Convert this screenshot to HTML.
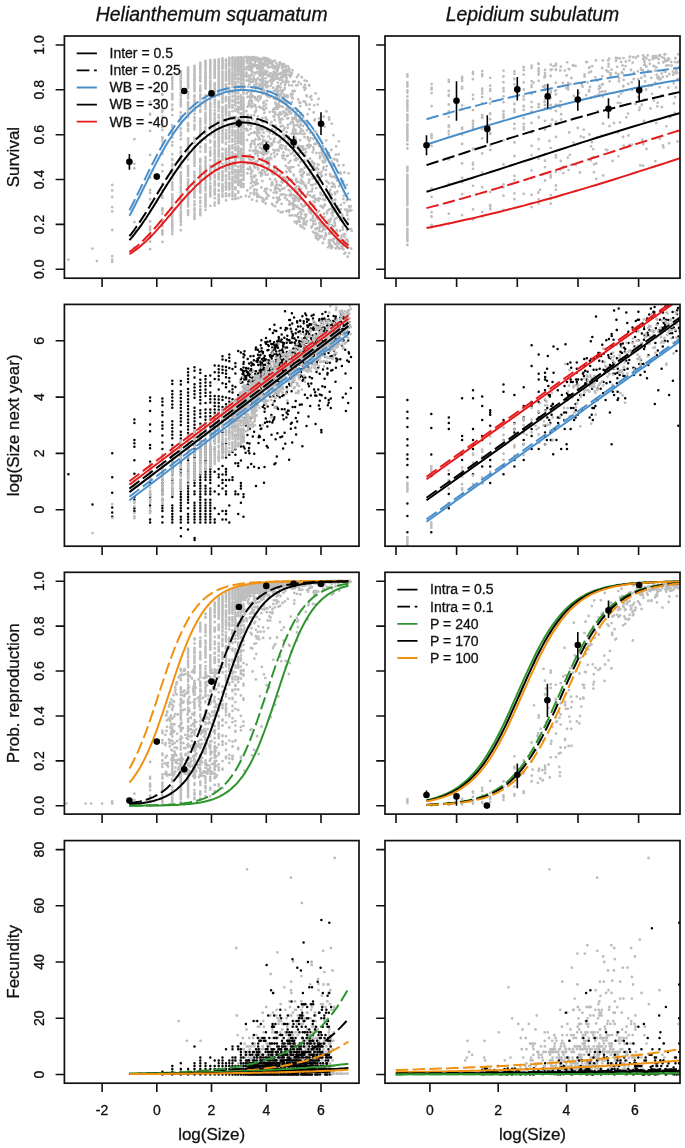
<!DOCTYPE html><html><head><meta charset="utf-8"><style>html,body{margin:0;padding:0;background:#fff;overflow:hidden}svg{display:block;will-change:transform}text{font-family:"Liberation Sans",sans-serif;fill:#111;stroke:#111;stroke-width:0.3px}</style></head><body>
<svg width="685" height="1148" viewBox="0 0 685 1148">
<rect width="685" height="1148" fill="#fff"/>
<defs>
<clipPath id="c11"><rect x="64.4" y="36.0" width="294.6" height="242.2"/></clipPath>
<clipPath id="c12"><rect x="385.0" y="36.0" width="295.0" height="242.2"/></clipPath>
<clipPath id="c21"><rect x="64.4" y="304.4" width="294.6" height="241.8"/></clipPath>
<clipPath id="c22"><rect x="385.0" y="304.4" width="295.0" height="241.8"/></clipPath>
<clipPath id="c31"><rect x="64.4" y="572.3" width="294.6" height="241.8"/></clipPath>
<clipPath id="c32"><rect x="385.0" y="572.3" width="295.0" height="241.8"/></clipPath>
<clipPath id="c41"><rect x="64.4" y="840.6" width="294.6" height="242.6"/></clipPath>
<clipPath id="c42"><rect x="385.0" y="840.6" width="295.0" height="242.6"/></clipPath>
</defs>
<g clip-path="url(#c11)">
<path d="M150.1 101.7h0M150.1 230.1h0M150.1 177.5h0M150.1 190.1h0M150.1 211.1h0M150.1 235.5h0M150.1 226.6h0M150.1 130.9h0M150.1 249.2h0M150.1 237.8h0M150.1 192.9h0M150.1 221.5h0M150.1 241.7h0M150.1 114.7h0M150.1 199.2h0M150.1 236.0h0M150.1 154.9h0M150.1 230.4h0M150.1 113.8h0M150.1 228.7h0M162.4 209.0h0M162.4 190.7h0M162.4 232.3h0M162.4 99.9h0M162.4 138.7h0M162.4 220.8h0M162.4 164.9h0M162.4 230.4h0M162.4 241.9h0M162.4 210.9h0M162.4 234.6h0M162.4 226.3h0M162.4 154.0h0M162.4 138.6h0M162.4 196.2h0M162.4 137.4h0M162.4 191.6h0M162.4 219.3h0M162.4 197.8h0M162.4 184.0h0M162.4 94.2h0M162.4 219.6h0M162.4 233.4h0M162.4 152.8h0M162.4 87.9h0M162.4 94.9h0M162.4 127.1h0M162.4 231.7h0M162.4 109.4h0M162.4 130.1h0M162.4 222.8h0M162.4 171.2h0M162.4 233.5h0M162.4 110.1h0M162.4 123.9h0M162.4 109.7h0M162.4 116.8h0M162.4 213.8h0M162.4 112.0h0M162.4 208.3h0M162.4 223.6h0M162.4 184.8h0M162.4 164.9h0M162.4 231.0h0M162.4 144.4h0M162.4 145.1h0M162.4 209.7h0M162.4 141.3h0M162.4 232.4h0M162.4 121.1h0M172.3 224.6h0M172.3 97.7h0M172.3 194.7h0M172.3 209.2h0M172.3 154.2h0M172.3 109.5h0M172.3 160.0h0M172.3 173.6h0M172.3 200.0h0M172.3 208.1h0M172.3 215.3h0M172.3 130.7h0M172.3 142.1h0M172.3 89.0h0M172.3 163.9h0M172.3 99.4h0M172.3 227.4h0M172.3 226.3h0M172.3 129.6h0M172.3 223.4h0M172.3 221.4h0M172.3 213.2h0M172.3 171.6h0M172.3 178.6h0M172.3 234.1h0M172.3 86.5h0M172.3 173.3h0M172.3 204.8h0M172.3 133.3h0M172.3 229.2h0M172.3 169.8h0M172.3 182.2h0M172.3 169.3h0M172.3 223.5h0M172.3 137.7h0M172.3 125.1h0M172.3 104.7h0M172.3 79.0h0M172.3 225.9h0M172.3 212.3h0M172.3 158.9h0M172.3 218.2h0M172.3 225.8h0M172.3 105.3h0M172.3 80.5h0M172.3 94.6h0M172.3 83.2h0M172.3 213.2h0M172.3 227.7h0M172.3 202.5h0M172.3 164.6h0M172.3 226.2h0M172.3 159.6h0M172.3 145.4h0M172.3 195.1h0M172.3 231.7h0M172.3 197.2h0M172.3 223.7h0M172.3 194.3h0M172.3 108.9h0M172.3 115.1h0M172.3 165.9h0M172.3 186.3h0M172.3 93.8h0M172.3 189.8h0M172.3 225.9h0M172.3 194.5h0M172.3 199.2h0M172.3 96.1h0M172.3 214.0h0M172.3 77.5h0M172.3 199.6h0M172.3 184.3h0M172.3 132.0h0M172.3 183.9h0M172.3 170.8h0M172.3 216.5h0M172.3 168.9h0M172.3 226.6h0M172.3 198.4h0M172.3 84.0h0M172.3 188.7h0M172.3 213.1h0M172.3 220.6h0M172.3 207.5h0M172.3 186.1h0M172.3 171.3h0M172.3 110.0h0M172.3 98.6h0M172.3 126.9h0M180.8 196.4h0M180.8 139.2h0M180.8 81.2h0M180.8 100.1h0M180.8 190.9h0M180.8 217.0h0M180.8 212.5h0M180.8 147.7h0M180.8 161.5h0M180.8 105.0h0M180.8 219.2h0M180.8 181.8h0M180.8 104.5h0M180.8 211.9h0M180.8 132.7h0M180.8 192.6h0M180.8 205.7h0M180.8 192.3h0M180.8 124.0h0M180.8 124.0h0M180.8 71.3h0M180.8 71.5h0M180.8 120.2h0M180.8 94.3h0M180.8 207.6h0M180.8 187.8h0M180.8 117.7h0M180.8 172.4h0M180.8 221.5h0M180.8 198.9h0M180.8 205.7h0M180.8 83.0h0M180.8 100.0h0M180.8 95.2h0M180.8 175.7h0M180.8 151.2h0M180.8 195.6h0M180.8 117.7h0M180.8 84.6h0M180.8 222.3h0M180.8 75.2h0M180.8 201.0h0M180.8 102.2h0M180.8 203.6h0M180.8 129.1h0M180.8 204.7h0M180.8 128.4h0M180.8 221.6h0M180.8 164.6h0M180.8 164.1h0M180.8 100.8h0M180.8 139.2h0M180.8 153.1h0M180.8 204.1h0M180.8 176.7h0M180.8 83.7h0M180.8 71.9h0M180.8 217.8h0M180.8 81.2h0M180.8 80.9h0M180.8 188.3h0M180.8 178.3h0M180.8 103.0h0M180.8 172.3h0M180.8 73.3h0M180.8 161.2h0M180.8 204.2h0M180.8 101.4h0M180.8 189.1h0M180.8 81.7h0M180.8 204.7h0M180.8 206.2h0M180.8 215.0h0M180.8 200.0h0M180.8 112.7h0M180.8 178.8h0M180.8 84.3h0M180.8 186.1h0M180.8 83.7h0M180.8 217.4h0M180.8 180.3h0M180.8 203.9h0M180.8 214.5h0M180.8 163.9h0M180.8 206.5h0M180.8 230.2h0M180.8 121.6h0M180.8 117.2h0M180.8 156.4h0M180.8 88.2h0M180.8 135.4h0M180.8 96.0h0M180.8 77.0h0M180.8 116.1h0M180.8 147.8h0M180.8 180.2h0M180.8 77.2h0M180.8 213.1h0M180.8 89.2h0M180.8 202.1h0M180.8 147.5h0M180.8 79.9h0M180.8 183.4h0M180.8 87.5h0M180.8 128.7h0M180.8 188.2h0M180.8 159.2h0M180.8 211.3h0M180.8 106.4h0M180.8 98.6h0M180.8 217.9h0M180.8 173.2h0M180.8 93.0h0M180.8 191.4h0M180.8 129.0h0M180.8 88.4h0M180.8 123.2h0M180.8 204.3h0M180.8 77.4h0M180.8 95.9h0M180.8 224.8h0M180.8 167.3h0M180.8 121.1h0M180.8 156.1h0M180.8 204.9h0M180.8 204.3h0M180.8 215.7h0M180.8 196.5h0M180.8 183.4h0M180.8 112.3h0M180.8 121.5h0M180.8 119.7h0M180.8 86.5h0M180.8 208.5h0M180.8 156.6h0M188.1 146.6h0M188.1 125.8h0M188.1 186.2h0M188.1 78.2h0M188.1 116.3h0M188.1 148.4h0M188.1 175.1h0M188.1 187.6h0M188.1 184.6h0M188.1 73.1h0M188.1 170.5h0M188.1 191.3h0M188.1 147.9h0M188.1 155.9h0M188.1 153.7h0M188.1 78.2h0M188.1 165.9h0M188.1 194.5h0M188.1 179.9h0M188.1 69.8h0M188.1 139.7h0M188.1 152.5h0M188.1 86.0h0M188.1 70.9h0M188.1 125.0h0M188.1 81.9h0M188.1 170.8h0M188.1 154.5h0M188.1 113.8h0M188.1 195.3h0M188.1 168.8h0M188.1 184.9h0M188.1 171.2h0M188.1 79.4h0M188.1 84.0h0M188.1 197.6h0M188.1 154.8h0M188.1 92.6h0M188.1 77.4h0M188.1 116.5h0M188.1 92.1h0M188.1 175.9h0M188.1 85.5h0M188.1 81.2h0M188.1 143.8h0M188.1 182.1h0M188.1 210.3h0M188.1 105.5h0M188.1 105.0h0M188.1 214.9h0M188.1 123.2h0M188.1 70.7h0M188.1 210.9h0M188.1 193.7h0M188.1 211.2h0M188.1 138.3h0M188.1 148.0h0M188.1 76.4h0M188.1 205.3h0M188.1 182.6h0M188.1 70.7h0M188.1 212.4h0M188.1 171.8h0M188.1 146.2h0M188.1 215.0h0M188.1 191.6h0M188.1 109.6h0M188.1 107.7h0M188.1 108.7h0M188.1 183.4h0M188.1 107.8h0M188.1 187.0h0M188.1 203.1h0M188.1 112.6h0M188.1 179.5h0M188.1 141.4h0M188.1 175.8h0M188.1 76.6h0M188.1 168.1h0M188.1 189.3h0M188.1 83.8h0M188.1 87.8h0M188.1 78.1h0M188.1 98.6h0M188.1 141.9h0M188.1 131.1h0M188.1 117.3h0M188.1 110.7h0M188.1 70.2h0M188.1 170.6h0M188.1 87.0h0M188.1 212.7h0M188.1 184.5h0M188.1 70.2h0M188.1 173.3h0M188.1 124.8h0M188.1 72.4h0M188.1 188.7h0M188.1 128.8h0M188.1 95.3h0M188.1 67.7h0M188.1 70.5h0M188.1 186.1h0M188.1 193.3h0M188.1 166.4h0M188.1 192.4h0M188.1 87.5h0M188.1 79.9h0M188.1 193.1h0M188.1 204.2h0M188.1 159.6h0M188.1 97.3h0M188.1 201.5h0M188.1 197.5h0M188.1 104.1h0M188.1 72.3h0M188.1 75.5h0M188.1 197.0h0M188.1 93.8h0M188.1 86.1h0M188.1 73.2h0M188.1 141.7h0M188.1 190.5h0M188.1 202.1h0M188.1 150.7h0M188.1 146.3h0M188.1 83.2h0M188.1 199.8h0M188.1 98.2h0M188.1 102.1h0M188.1 193.0h0M188.1 206.5h0M188.1 146.0h0M188.1 78.4h0M188.1 102.7h0M194.5 155.2h0M194.5 69.1h0M194.5 101.7h0M194.5 204.9h0M194.5 163.2h0M194.5 197.6h0M194.5 113.8h0M194.5 70.0h0M194.5 201.3h0M194.5 205.2h0M194.5 205.0h0M194.5 161.9h0M194.5 189.4h0M194.5 65.8h0M194.5 194.9h0M194.5 67.8h0M194.5 107.2h0M194.5 77.4h0M194.5 89.5h0M194.5 158.2h0M194.5 96.7h0M194.5 158.8h0M194.5 126.3h0M194.5 77.3h0M194.5 214.5h0M194.5 180.2h0M194.5 74.6h0M194.5 126.4h0M194.5 180.4h0M194.5 153.3h0M194.5 218.9h0M194.5 70.9h0M194.5 124.8h0M194.5 69.1h0M194.5 125.2h0M194.5 67.8h0M194.5 69.4h0M194.5 109.1h0M194.5 80.8h0M194.5 159.2h0M194.5 190.8h0M194.5 103.5h0M194.5 177.0h0M194.5 125.7h0M194.5 101.2h0M194.5 82.8h0M194.5 70.9h0M194.5 174.9h0M194.5 177.3h0M194.5 217.3h0M194.5 100.8h0M194.5 126.7h0M194.5 75.0h0M194.5 156.7h0M194.5 208.3h0M194.5 76.6h0M194.5 95.5h0M194.5 88.6h0M194.5 189.3h0M194.5 174.5h0M194.5 100.5h0M194.5 85.0h0M194.5 95.5h0M194.5 191.2h0M194.5 96.4h0M194.5 185.1h0M194.5 128.7h0M194.5 151.1h0M194.5 86.3h0M194.5 117.1h0M194.5 88.1h0M194.5 91.2h0M194.5 211.2h0M194.5 74.2h0M194.5 201.5h0M194.5 216.2h0M194.5 142.8h0M194.5 193.3h0M194.5 171.8h0M194.5 75.4h0M194.5 79.8h0M194.5 185.4h0M194.5 175.2h0M194.5 191.8h0M194.5 65.8h0M194.5 197.3h0M194.5 195.4h0M194.5 91.1h0M194.5 215.9h0M194.5 78.4h0M194.5 175.9h0M194.5 121.0h0M194.5 79.4h0M194.5 141.1h0M194.5 137.9h0M194.5 204.5h0M194.5 79.7h0M194.5 129.4h0M194.5 183.2h0M194.5 182.0h0M194.5 74.5h0M194.5 183.3h0M194.5 148.7h0M194.5 102.9h0M194.5 140.2h0M194.5 75.8h0M194.5 80.1h0M194.5 95.5h0M194.5 77.2h0M194.5 118.4h0M194.5 108.5h0M194.5 216.7h0M194.5 89.6h0M194.5 159.0h0M194.5 110.0h0M194.5 209.2h0M194.5 138.4h0M194.5 101.8h0M194.5 99.7h0M194.5 109.7h0M194.5 165.9h0M194.5 96.4h0M194.5 95.5h0M194.5 105.6h0M194.5 142.1h0M194.5 184.4h0M194.5 110.8h0M194.5 201.5h0M194.5 213.9h0M194.5 146.7h0M194.5 160.0h0M194.5 128.7h0M194.5 192.8h0M194.5 71.9h0M194.5 192.2h0M200.3 104.0h0M200.3 142.4h0M200.3 77.0h0M200.3 190.2h0M200.3 80.4h0M200.3 69.7h0M200.3 179.8h0M200.3 188.4h0M200.3 102.4h0M200.3 76.3h0M200.3 130.2h0M200.3 72.7h0M200.3 176.9h0M200.3 110.4h0M200.3 105.8h0M200.3 77.6h0M200.3 130.1h0M200.3 158.9h0M200.3 178.7h0M200.3 185.7h0M200.3 162.4h0M200.3 214.3h0M200.3 77.7h0M200.3 127.8h0M200.3 105.2h0M200.3 89.5h0M200.3 201.8h0M200.3 165.7h0M200.3 121.1h0M200.3 103.8h0M200.3 210.5h0M200.3 171.5h0M200.3 178.6h0M200.3 167.8h0M200.3 111.9h0M200.3 170.1h0M200.3 104.1h0M200.3 162.1h0M200.3 193.0h0M200.3 161.8h0M200.3 212.7h0M200.3 197.4h0M200.3 180.4h0M200.3 103.3h0M200.3 132.4h0M200.3 68.1h0M200.3 104.0h0M200.3 184.4h0M200.3 142.3h0M200.3 136.5h0M200.3 71.9h0M200.3 97.6h0M200.3 67.4h0M200.3 179.7h0M200.3 185.6h0M200.3 89.6h0M200.3 183.7h0M200.3 192.4h0M200.3 134.0h0M200.3 88.5h0M200.3 189.4h0M200.3 81.1h0M200.3 122.5h0M200.3 215.2h0M200.3 174.3h0M200.3 99.1h0M200.3 179.2h0M200.3 206.3h0M200.3 175.8h0M200.3 64.0h0M200.3 109.9h0M200.3 168.9h0M200.3 198.0h0M200.3 178.0h0M200.3 147.5h0M200.3 181.7h0M200.3 91.3h0M200.3 85.6h0M200.3 125.0h0M200.3 95.6h0M200.3 106.5h0M200.3 151.6h0M200.3 166.3h0M200.3 132.4h0M200.3 88.1h0M200.3 182.0h0M200.3 94.8h0M200.3 201.6h0M200.3 173.0h0M200.3 90.5h0M200.3 75.8h0M200.3 79.7h0M200.3 88.9h0M200.3 159.7h0M200.3 62.8h0M200.3 99.6h0M200.3 67.7h0M200.3 65.9h0M200.3 162.6h0M200.3 63.9h0M200.3 191.5h0M200.3 94.7h0M200.3 159.2h0M200.3 189.2h0M200.3 104.1h0M200.3 167.6h0M200.3 77.8h0M200.3 121.4h0M200.3 210.4h0M200.3 203.0h0M200.3 186.3h0M200.3 161.1h0M200.3 76.1h0M200.3 135.3h0M200.3 67.3h0M200.3 201.1h0M200.3 67.1h0M200.3 79.9h0M200.3 187.8h0M200.3 62.9h0M200.3 190.0h0M200.3 81.3h0M200.3 161.5h0M200.3 88.0h0M200.3 73.3h0M200.3 188.5h0M200.3 146.3h0M200.3 68.7h0M200.3 118.7h0M200.3 178.7h0M200.3 190.5h0M200.3 184.1h0M200.3 187.2h0M200.3 140.2h0M200.3 209.3h0M205.5 106.2h0M205.5 83.9h0M205.5 151.9h0M205.5 61.3h0M205.5 137.7h0M205.5 175.9h0M205.5 150.8h0M205.5 114.7h0M205.5 86.2h0M205.5 204.4h0M205.5 126.8h0M205.5 88.6h0M205.5 78.7h0M205.5 65.6h0M205.5 103.2h0M205.5 62.9h0M205.5 149.7h0M205.5 95.2h0M205.5 78.2h0M205.5 168.5h0M205.5 176.4h0M205.5 72.7h0M205.5 101.6h0M205.5 65.2h0M205.5 84.2h0M205.5 133.9h0M205.5 73.8h0M205.5 195.7h0M205.5 86.1h0M205.5 61.5h0M205.5 84.6h0M205.5 165.5h0M205.5 73.0h0M205.5 165.3h0M205.5 194.8h0M205.5 188.2h0M205.5 116.8h0M205.5 202.5h0M205.5 119.9h0M205.5 65.2h0M205.5 147.6h0M205.5 176.2h0M205.5 126.8h0M205.5 70.7h0M205.5 62.6h0M205.5 105.1h0M205.5 131.5h0M205.5 166.8h0M205.5 123.5h0M205.5 145.9h0M205.5 205.1h0M205.5 186.9h0M205.5 209.9h0M205.5 190.4h0M205.5 183.4h0M205.5 76.0h0M205.5 197.1h0M205.5 179.4h0M205.5 169.8h0M205.5 60.9h0M205.5 206.7h0M205.5 118.2h0M205.5 120.5h0M205.5 169.7h0M205.5 62.0h0M205.5 158.4h0M205.5 66.6h0M205.5 104.5h0M205.5 82.8h0M205.5 183.9h0M205.5 87.0h0M205.5 198.2h0M205.5 68.0h0M205.5 176.3h0M205.5 174.6h0M205.5 193.9h0M205.5 201.0h0M205.5 97.6h0M205.5 64.1h0M205.5 108.7h0M205.5 205.6h0M205.5 180.9h0M205.5 106.1h0M205.5 79.6h0M205.5 73.8h0M205.5 78.4h0M205.5 116.8h0M205.5 68.4h0M205.5 104.8h0M205.5 86.1h0M205.5 200.6h0M205.5 112.6h0M205.5 186.3h0M205.5 163.0h0M205.5 146.1h0M205.5 100.1h0M205.5 188.1h0M205.5 82.8h0M205.5 128.9h0M205.5 161.9h0M205.5 63.3h0M205.5 88.7h0M205.5 139.6h0M205.5 179.7h0M205.5 112.7h0M205.5 76.9h0M205.5 109.2h0M205.5 144.5h0M205.5 174.0h0M205.5 160.8h0M205.5 75.2h0M205.5 173.0h0M205.5 61.9h0M205.5 81.0h0M205.5 127.4h0M205.5 167.4h0M205.5 116.7h0M205.5 63.5h0M205.5 180.5h0M205.5 157.0h0M205.5 188.0h0M205.5 81.6h0M205.5 63.5h0M205.5 102.4h0M205.5 146.8h0M205.5 62.8h0M205.5 98.2h0M205.5 168.9h0M205.5 198.9h0M205.5 175.6h0M205.5 172.9h0M205.5 168.6h0M205.5 122.1h0M205.5 77.7h0M205.5 116.1h0M210.3 61.3h0M210.3 189.4h0M210.3 62.4h0M210.3 205.8h0M210.3 174.5h0M210.3 70.2h0M210.3 176.9h0M210.3 127.3h0M210.3 154.3h0M210.3 127.3h0M210.3 171.9h0M210.3 128.2h0M210.3 98.0h0M210.3 113.7h0M210.3 104.8h0M210.3 65.9h0M210.3 68.7h0M210.3 178.0h0M210.3 78.5h0M210.3 73.0h0M210.3 64.9h0M210.3 125.8h0M210.3 64.0h0M210.3 99.7h0M210.3 113.0h0M210.3 106.8h0M210.3 173.6h0M210.3 83.1h0M210.3 103.3h0M210.3 66.9h0M210.3 112.9h0M210.3 188.9h0M210.3 169.9h0M210.3 122.3h0M210.3 112.5h0M210.3 71.6h0M210.3 95.1h0M210.3 167.5h0M210.3 142.2h0M210.3 102.6h0M210.3 73.3h0M210.3 81.2h0M210.3 88.8h0M210.3 151.1h0M210.3 97.8h0M210.3 153.0h0M210.3 186.6h0M210.3 76.3h0M210.3 87.6h0M210.3 60.5h0M210.3 77.4h0M210.3 151.6h0M210.3 193.1h0M210.3 119.3h0M210.3 135.3h0M210.3 105.7h0M210.3 194.5h0M210.3 189.7h0M210.3 154.1h0M210.3 192.9h0M210.3 95.3h0M210.3 166.3h0M210.3 165.6h0M210.3 155.6h0M210.3 175.3h0M210.3 75.8h0M210.3 110.0h0M210.3 188.5h0M210.3 63.0h0M210.3 67.5h0M210.3 142.4h0M210.3 196.4h0M210.3 109.3h0M210.3 167.7h0M210.3 128.0h0M210.3 124.5h0M210.3 140.5h0M210.3 64.6h0M210.3 126.3h0M210.3 178.2h0M210.3 97.2h0M210.3 66.2h0M210.3 155.7h0M210.3 106.9h0M210.3 128.4h0M210.3 84.7h0M210.3 140.4h0M210.3 151.2h0M210.3 167.8h0M210.3 183.0h0M210.3 169.4h0M210.3 86.9h0M210.3 63.4h0M210.3 188.1h0M210.3 117.6h0M210.3 90.9h0M210.3 175.1h0M210.3 60.2h0M210.3 83.5h0M210.3 76.3h0M210.3 61.6h0M210.3 96.7h0M210.3 64.6h0M210.3 129.3h0M210.3 64.1h0M210.3 106.9h0M210.3 74.8h0M210.3 148.0h0M210.3 111.8h0M210.3 99.7h0M210.3 105.7h0M210.3 64.0h0M210.3 114.9h0M210.3 67.0h0M210.3 178.3h0M210.3 182.9h0M210.3 166.3h0M210.3 179.7h0M210.3 95.7h0M210.3 160.1h0M210.3 85.0h0M210.3 67.3h0M210.3 64.1h0M210.3 188.4h0M210.3 152.8h0M210.3 117.5h0M210.3 195.4h0M210.3 191.7h0M210.3 115.2h0M210.3 119.9h0M210.3 170.1h0M210.3 186.0h0M210.3 66.5h0M210.3 94.0h0M210.3 134.1h0M214.7 191.9h0M214.7 142.0h0M214.7 190.2h0M214.7 182.0h0M214.7 181.2h0M214.7 73.9h0M214.7 184.3h0M214.7 120.7h0M214.7 159.8h0M214.7 165.4h0M214.7 194.5h0M214.7 90.2h0M214.7 67.5h0M214.7 150.5h0M214.7 66.9h0M214.7 84.5h0M214.7 166.4h0M214.7 189.8h0M214.7 191.0h0M214.7 60.9h0M214.7 189.9h0M214.7 183.7h0M214.7 84.8h0M214.7 144.3h0M214.7 62.0h0M214.7 84.3h0M214.7 65.3h0M214.7 85.8h0M214.7 77.3h0M214.7 202.7h0M214.7 117.6h0M214.7 73.0h0M214.7 162.0h0M214.7 176.8h0M214.7 63.8h0M214.7 124.7h0M214.7 97.2h0M214.7 122.7h0M214.7 76.2h0M214.7 150.1h0M214.7 161.9h0M214.7 73.7h0M214.7 136.5h0M214.7 95.8h0M214.7 164.8h0M214.7 182.1h0M214.7 118.8h0M214.7 69.5h0M214.7 62.2h0M214.7 95.1h0M214.7 70.2h0M214.7 65.3h0M214.7 153.3h0M214.7 113.3h0M214.7 64.4h0M214.7 74.7h0M214.7 68.0h0M214.7 91.5h0M214.7 125.4h0M214.7 72.5h0M214.7 131.5h0M214.7 94.1h0M214.7 174.7h0M214.7 198.2h0M214.7 113.7h0M214.7 175.0h0M214.7 177.2h0M214.7 65.4h0M214.7 59.9h0M214.7 166.0h0M214.7 127.8h0M214.7 83.2h0M214.7 169.5h0M214.7 183.6h0M214.7 64.1h0M214.7 143.1h0M214.7 61.4h0M214.7 102.6h0M214.7 93.5h0M214.7 99.8h0M214.7 104.6h0M214.7 145.7h0M214.7 88.6h0M214.7 115.1h0M214.7 67.8h0M214.7 141.8h0M214.7 160.1h0M214.7 67.0h0M214.7 100.4h0M214.7 153.1h0M214.7 152.0h0M214.7 142.3h0M214.7 190.8h0M214.7 85.2h0M214.7 141.2h0M214.7 86.7h0M214.7 107.3h0M214.7 190.2h0M214.7 189.0h0M214.7 147.1h0M214.7 124.6h0M214.7 65.7h0M214.7 157.4h0M214.7 164.4h0M214.7 86.8h0M214.7 191.5h0M214.7 75.8h0M214.7 161.8h0M214.7 84.5h0M214.7 96.0h0M214.7 129.9h0M214.7 85.2h0M214.7 205.4h0M214.7 75.8h0M214.7 189.2h0M214.7 146.3h0M214.7 167.0h0M214.7 104.0h0M214.7 89.2h0M214.7 154.9h0M214.7 61.9h0M214.7 185.8h0M214.7 192.9h0M214.7 77.9h0M214.7 175.3h0M214.7 192.7h0M214.7 141.8h0M214.7 110.4h0M214.7 181.0h0M214.7 134.1h0M214.7 149.9h0M214.7 129.4h0M214.7 71.8h0M214.7 137.7h0M214.7 177.9h0M218.7 105.1h0M218.7 103.1h0M218.7 167.7h0M218.7 59.3h0M218.7 160.0h0M218.7 106.9h0M218.7 177.8h0M218.7 141.0h0M218.7 68.3h0M218.7 163.7h0M218.7 125.8h0M218.7 183.7h0M218.7 162.0h0M218.7 83.4h0M218.7 200.7h0M218.7 190.7h0M218.7 137.5h0M218.7 145.6h0M218.7 177.4h0M218.7 62.9h0M218.7 80.3h0M218.7 88.5h0M218.7 200.8h0M218.7 82.0h0M218.7 140.3h0M218.7 156.1h0M218.7 179.5h0M218.7 164.9h0M218.7 156.6h0M218.7 202.2h0M218.7 133.4h0M218.7 122.0h0M218.7 75.5h0M218.7 154.3h0M218.7 174.6h0M218.7 166.9h0M218.7 116.8h0M218.7 202.2h0M218.7 130.2h0M218.7 71.8h0M218.7 143.4h0M218.7 95.4h0M218.7 110.6h0M218.7 190.0h0M218.7 66.2h0M218.7 66.1h0M218.7 67.9h0M218.7 203.3h0M218.7 114.8h0M218.7 82.0h0M218.7 59.3h0M218.7 104.0h0M218.7 137.9h0M218.7 200.3h0M218.7 93.8h0M218.7 86.8h0M218.7 61.6h0M218.7 93.0h0M218.7 68.8h0M218.7 108.0h0M218.7 111.0h0M218.7 63.4h0M218.7 140.4h0M218.7 137.0h0M218.7 200.1h0M218.7 173.1h0M218.7 163.0h0M218.7 101.4h0M218.7 85.5h0M218.7 59.6h0M218.7 172.8h0M218.7 185.8h0M218.7 80.4h0M218.7 64.0h0M218.7 176.7h0M218.7 137.9h0M218.7 81.1h0M218.7 85.5h0M218.7 65.6h0M218.7 83.1h0M218.7 61.1h0M218.7 138.7h0M218.7 75.0h0M218.7 91.6h0M218.7 120.8h0M218.7 77.2h0M218.7 67.2h0M218.7 92.9h0M218.7 154.6h0M218.7 194.4h0M218.7 66.2h0M218.7 122.4h0M218.7 87.5h0M218.7 90.8h0M218.7 196.7h0M218.7 62.7h0M218.7 78.9h0M218.7 91.6h0M218.7 77.9h0M218.7 184.2h0M218.7 131.8h0M218.7 134.5h0M218.7 153.0h0M218.7 167.8h0M218.7 69.7h0M218.7 73.0h0M218.7 85.4h0M218.7 159.8h0M218.7 59.6h0M218.7 75.3h0M218.7 66.1h0M218.7 77.4h0M218.7 95.6h0M218.7 140.5h0M218.7 160.1h0M218.7 69.2h0M218.7 199.2h0M218.7 149.4h0M218.7 154.7h0M218.7 105.8h0M218.7 151.3h0M218.7 73.6h0M218.7 106.8h0M218.7 146.8h0M218.7 81.6h0M218.7 169.7h0M218.7 161.7h0M218.7 176.6h0M218.7 95.1h0M218.7 179.5h0M218.7 203.2h0M218.7 78.5h0M218.7 117.8h0M218.7 200.8h0M218.7 108.1h0M222.5 117.7h0M222.5 191.2h0M222.5 148.8h0M222.5 137.8h0M222.5 189.7h0M222.5 138.8h0M222.5 74.4h0M222.5 127.6h0M222.5 71.9h0M222.5 184.1h0M222.5 78.0h0M222.5 67.9h0M222.5 159.9h0M222.5 121.6h0M222.5 142.4h0M222.5 112.2h0M222.5 62.1h0M222.5 78.6h0M222.5 172.6h0M222.5 186.6h0M222.5 80.3h0M222.5 68.7h0M222.5 66.9h0M222.5 62.1h0M222.5 71.6h0M222.5 141.3h0M222.5 74.0h0M222.5 81.4h0M222.5 115.2h0M222.5 65.0h0M222.5 189.4h0M222.5 101.7h0M222.5 64.1h0M222.5 97.9h0M222.5 121.1h0M222.5 187.8h0M222.5 156.4h0M222.5 142.2h0M222.5 58.6h0M222.5 95.6h0M222.5 134.3h0M222.5 63.9h0M222.5 87.8h0M222.5 136.7h0M222.5 82.9h0M222.5 187.0h0M222.5 99.3h0M222.5 98.7h0M222.5 179.2h0M222.5 149.4h0M222.5 187.4h0M222.5 155.6h0M222.5 148.9h0M222.5 117.8h0M222.5 76.3h0M222.5 96.9h0M222.5 107.8h0M222.5 90.0h0M222.5 187.9h0M222.5 190.9h0M222.5 61.1h0M222.5 79.2h0M222.5 157.6h0M222.5 78.9h0M222.5 61.8h0M222.5 67.1h0M222.5 84.3h0M222.5 98.8h0M222.5 86.4h0M222.5 157.8h0M222.5 110.6h0M222.5 64.6h0M222.5 124.4h0M222.5 194.6h0M222.5 185.3h0M222.5 68.8h0M222.5 64.2h0M222.5 58.3h0M222.5 59.9h0M222.5 171.9h0M222.5 109.0h0M222.5 95.1h0M222.5 175.9h0M222.5 171.3h0M222.5 124.2h0M222.5 122.1h0M222.5 88.2h0M222.5 123.3h0M222.5 173.7h0M222.5 157.1h0M222.5 82.0h0M222.5 134.0h0M222.5 153.6h0M222.5 62.6h0M222.5 120.7h0M222.5 138.3h0M222.5 177.3h0M222.5 99.6h0M222.5 128.2h0M222.5 90.9h0M222.5 133.7h0M222.5 107.0h0M222.5 168.1h0M222.5 180.4h0M222.5 61.4h0M222.5 75.1h0M222.5 196.6h0M222.5 154.6h0M222.5 82.0h0M222.5 172.3h0M222.5 86.7h0M222.5 59.2h0M222.5 126.2h0M222.5 61.6h0M222.5 112.6h0M222.5 59.4h0M222.5 59.5h0M222.5 115.5h0M222.5 102.6h0M222.5 63.5h0M222.5 164.0h0M222.5 174.3h0M222.5 101.7h0M222.5 173.8h0M222.5 66.5h0M222.5 141.2h0M222.5 130.4h0M222.5 132.1h0M222.5 191.8h0M222.5 131.4h0M222.5 111.4h0M222.5 64.7h0M222.5 111.5h0M222.5 62.2h0M222.5 62.3h0M226.0 183.9h0M226.0 151.6h0M226.0 63.6h0M226.0 136.9h0M226.0 162.0h0M226.0 162.4h0M226.0 75.2h0M226.0 111.8h0M226.0 118.8h0M226.0 77.1h0M226.0 84.6h0M226.0 106.9h0M226.0 85.9h0M226.0 132.8h0M226.0 167.2h0M226.0 79.9h0M226.0 186.3h0M226.0 115.4h0M226.0 119.8h0M226.0 130.1h0M226.0 101.1h0M226.0 78.6h0M226.0 74.0h0M226.0 71.4h0M226.0 85.8h0M226.0 187.4h0M226.0 144.1h0M226.0 80.7h0M226.0 168.7h0M226.0 90.6h0M226.0 166.1h0M226.0 66.5h0M226.0 159.3h0M226.0 111.1h0M226.0 168.1h0M226.0 157.5h0M226.0 105.5h0M226.0 98.3h0M226.0 182.1h0M226.0 151.6h0M226.0 63.8h0M226.0 170.6h0M226.0 189.5h0M226.0 59.7h0M226.0 99.3h0M226.0 142.7h0M226.0 108.3h0M226.0 67.6h0M226.0 64.5h0M226.0 169.6h0M226.0 99.1h0M226.0 120.9h0M226.0 175.1h0M226.0 110.4h0M226.0 135.2h0M226.0 74.1h0M226.0 186.6h0M226.0 108.3h0M226.0 126.3h0M226.0 113.4h0M226.0 111.4h0M226.0 152.8h0M226.0 78.9h0M226.0 119.4h0M226.0 144.0h0M226.0 110.8h0M226.0 61.0h0M226.0 88.6h0M226.0 60.0h0M226.0 152.0h0M226.0 98.3h0M226.0 75.6h0M226.0 67.4h0M226.0 171.3h0M226.0 149.5h0M226.0 64.4h0M226.0 86.6h0M226.0 164.1h0M226.0 179.3h0M226.0 101.0h0M226.0 169.1h0M226.0 113.3h0M226.0 155.0h0M226.0 59.6h0M226.0 98.7h0M226.0 97.5h0M226.0 176.4h0M226.0 183.5h0M226.0 151.7h0M226.0 84.7h0M226.0 149.6h0M226.0 91.4h0M226.0 175.4h0M226.0 139.0h0M226.0 98.2h0M226.0 132.9h0M226.0 109.6h0M226.0 186.8h0M226.0 157.1h0M226.0 163.1h0M226.0 59.6h0M226.0 67.4h0M226.0 121.0h0M226.0 193.5h0M226.0 169.6h0M226.0 75.5h0M226.0 73.3h0M226.0 149.0h0M226.0 200.4h0M226.0 196.2h0M226.0 182.3h0M226.0 85.8h0M226.0 73.2h0M226.0 65.7h0M226.0 105.8h0M226.0 187.5h0M226.0 183.8h0M226.0 170.2h0M226.0 194.3h0M226.0 76.3h0M226.0 68.6h0M226.0 97.0h0M226.0 84.4h0M226.0 195.7h0M226.0 71.5h0M226.0 137.2h0M226.0 60.9h0M226.0 79.7h0M226.0 133.9h0M226.0 138.7h0M226.0 151.5h0M226.0 99.9h0M226.0 66.1h0M226.0 107.7h0M226.0 76.5h0M229.3 70.3h0M229.3 80.3h0M229.3 94.1h0M229.3 136.2h0M229.3 111.8h0M229.3 167.9h0M229.3 83.5h0M229.3 98.4h0M229.3 189.6h0M229.3 168.8h0M229.3 128.2h0M229.3 152.6h0M229.3 165.9h0M229.3 70.7h0M229.3 128.1h0M229.3 177.4h0M229.3 61.4h0M229.3 59.7h0M229.3 194.2h0M229.3 107.5h0M229.3 145.8h0M229.3 62.0h0M229.3 82.2h0M229.3 77.3h0M229.3 75.0h0M229.3 94.0h0M229.3 63.5h0M229.3 64.5h0M229.3 72.4h0M229.3 160.0h0M229.3 105.5h0M229.3 126.5h0M229.3 59.1h0M229.3 90.0h0M229.3 179.3h0M229.3 147.7h0M229.3 158.4h0M229.3 73.7h0M229.3 80.2h0M229.3 113.2h0M229.3 98.0h0M229.3 187.4h0M229.3 184.4h0M229.3 93.6h0M229.3 188.9h0M229.3 157.7h0M229.3 119.2h0M229.3 132.3h0M229.3 76.4h0M229.3 58.0h0M229.3 174.7h0M229.3 136.5h0M229.3 133.0h0M229.3 87.7h0M229.3 65.4h0M229.3 132.3h0M229.3 136.7h0M229.3 103.5h0M229.3 70.9h0M229.3 107.1h0M229.3 186.8h0M229.3 78.3h0M229.3 63.1h0M229.3 77.7h0M229.3 183.1h0M229.3 138.5h0M229.3 97.2h0M229.3 101.0h0M229.3 174.7h0M229.3 136.0h0M229.3 115.0h0M229.3 99.9h0M229.3 58.4h0M229.3 75.4h0M229.3 162.7h0M229.3 187.4h0M229.3 183.4h0M229.3 195.8h0M229.3 91.6h0M229.3 165.3h0M229.3 165.5h0M229.3 58.7h0M229.3 98.5h0M229.3 90.6h0M229.3 78.7h0M229.3 163.5h0M229.3 69.7h0M229.3 150.0h0M229.3 184.1h0M229.3 112.1h0M229.3 70.2h0M229.3 72.2h0M229.3 117.6h0M229.3 72.9h0M229.3 185.9h0M229.3 69.1h0M229.3 59.4h0M229.3 106.0h0M229.3 74.3h0M229.3 159.9h0M229.3 149.2h0M229.3 58.3h0M229.3 126.4h0M229.3 80.4h0M229.3 163.7h0M229.3 153.7h0M229.3 172.5h0M229.3 83.2h0M229.3 184.4h0M229.3 102.9h0M229.3 73.1h0M229.3 138.5h0M229.3 146.2h0M229.3 59.3h0M229.3 151.3h0M229.3 89.2h0M229.3 105.8h0M229.3 62.1h0M229.3 84.0h0M229.3 103.0h0M229.3 141.7h0M229.3 66.2h0M229.3 130.7h0M229.3 155.0h0M229.3 77.1h0M229.3 93.2h0M229.3 57.8h0M229.3 82.5h0M229.3 87.7h0M229.3 76.4h0M229.3 158.1h0M229.3 168.7h0M229.3 189.0h0M229.3 164.0h0M229.3 182.9h0M232.5 57.6h0M232.5 80.6h0M232.5 106.4h0M232.5 72.3h0M232.5 61.0h0M232.5 77.4h0M232.5 152.7h0M232.5 178.9h0M232.5 100.1h0M232.5 157.0h0M232.5 79.8h0M232.5 58.8h0M232.5 180.0h0M232.5 166.4h0M232.5 147.7h0M232.5 162.1h0M232.5 65.5h0M232.5 155.5h0M232.5 180.2h0M232.5 148.6h0M232.5 164.1h0M232.5 131.4h0M232.5 147.7h0M232.5 58.4h0M232.5 168.8h0M232.5 68.3h0M232.5 96.6h0M232.5 74.7h0M232.5 172.5h0M232.5 105.4h0M232.5 92.5h0M232.5 185.9h0M232.5 81.4h0M232.5 173.2h0M232.5 173.7h0M232.5 81.3h0M232.5 139.0h0M232.5 64.6h0M232.5 186.0h0M232.5 196.0h0M232.5 65.1h0M232.5 76.0h0M232.5 162.3h0M232.5 199.0h0M232.5 91.5h0M232.5 164.5h0M232.5 75.6h0M232.5 67.0h0M232.5 62.4h0M232.5 95.8h0M232.5 60.8h0M232.5 118.2h0M232.5 122.8h0M232.5 73.5h0M232.5 61.2h0M232.5 171.6h0M232.5 191.9h0M232.5 107.7h0M232.5 182.4h0M232.5 168.1h0M232.5 67.0h0M232.5 59.8h0M232.5 90.6h0M232.5 192.4h0M232.5 58.4h0M232.5 111.3h0M232.5 163.8h0M232.5 69.3h0M232.5 76.6h0M232.5 77.5h0M232.5 117.8h0M232.5 135.6h0M232.5 145.6h0M232.5 86.7h0M232.5 129.9h0M232.5 74.2h0M232.5 61.4h0M232.5 65.4h0M232.5 182.2h0M232.5 81.8h0M232.5 192.5h0M232.5 132.9h0M232.5 132.7h0M232.5 92.4h0M232.5 180.5h0M232.5 145.4h0M232.5 171.3h0M232.5 183.0h0M232.5 124.5h0M232.5 101.2h0M232.5 189.0h0M232.5 133.9h0M232.5 84.2h0M232.5 126.9h0M232.5 92.1h0M232.5 60.0h0M232.5 170.7h0M232.5 79.4h0M232.5 183.9h0M232.5 116.8h0M232.5 74.9h0M232.5 59.4h0M232.5 105.2h0M232.5 83.7h0M232.5 101.6h0M232.5 166.5h0M232.5 171.9h0M232.5 92.3h0M232.5 63.6h0M232.5 140.4h0M232.5 72.5h0M232.5 83.8h0M232.5 125.8h0M232.5 80.7h0M232.5 176.8h0M232.5 140.7h0M232.5 118.2h0M232.5 82.3h0M232.5 141.7h0M232.5 157.6h0M232.5 60.8h0M232.5 152.3h0M232.5 62.4h0M232.5 146.6h0M232.5 157.4h0M232.5 118.8h0M232.5 58.1h0M232.5 187.0h0M232.5 58.2h0M232.5 57.5h0M232.5 71.9h0M232.5 116.8h0M232.5 78.8h0M232.5 184.6h0M232.5 193.5h0M235.4 71.8h0M235.4 165.1h0M235.4 177.0h0M235.4 143.7h0M235.4 70.7h0M235.4 133.8h0M235.4 65.3h0M235.4 194.5h0M235.4 101.9h0M235.4 108.8h0M235.4 67.4h0M235.4 79.1h0M235.4 72.6h0M235.4 85.8h0M235.4 158.4h0M235.4 71.1h0M235.4 74.5h0M235.4 73.5h0M235.4 105.2h0M235.4 110.8h0M235.4 160.5h0M235.4 67.1h0M235.4 109.0h0M235.4 150.1h0M235.4 137.0h0M235.4 101.7h0M235.4 122.7h0M235.4 85.8h0M235.4 58.8h0M235.4 195.7h0M235.4 117.0h0M235.4 132.7h0M235.4 170.5h0M235.4 181.3h0M235.4 57.7h0M235.4 126.4h0M235.4 75.7h0M235.4 69.4h0M235.4 82.1h0M235.4 138.2h0M235.4 79.1h0M235.4 60.9h0M235.4 105.5h0M235.4 62.5h0M235.4 198.9h0M235.4 70.3h0M235.4 76.6h0M235.4 59.1h0M235.4 99.2h0M235.4 61.0h0M235.4 171.7h0M235.4 75.5h0M235.4 165.9h0M235.4 189.4h0M235.4 88.4h0M235.4 150.2h0M235.4 77.9h0M235.4 154.4h0M235.4 171.6h0M235.4 161.4h0M235.4 84.5h0M235.4 154.5h0M235.4 61.2h0M235.4 171.1h0M235.4 198.3h0M235.4 83.2h0M235.4 164.4h0M235.4 86.1h0M235.4 159.0h0M235.4 83.0h0M235.4 135.7h0M235.4 92.3h0M235.4 76.1h0M235.4 181.1h0M235.4 177.2h0M235.4 161.5h0M235.4 65.7h0M235.4 59.5h0M235.4 89.4h0M235.4 172.4h0M235.4 86.8h0M235.4 125.0h0M235.4 155.6h0M235.4 72.3h0M235.4 64.0h0M235.4 94.8h0M235.4 89.7h0M235.4 59.7h0M235.4 187.3h0M235.4 64.5h0M235.4 60.5h0M235.4 65.0h0M235.4 92.6h0M235.4 62.5h0M235.4 99.9h0M235.4 119.9h0M235.4 99.6h0M235.4 147.5h0M235.4 182.4h0M235.4 96.8h0M235.4 87.8h0M235.4 175.2h0M235.4 70.9h0M235.4 160.0h0M235.4 148.0h0M235.4 182.1h0M235.4 161.7h0M235.4 170.0h0M235.4 62.0h0M235.4 71.4h0M235.4 91.2h0M235.4 157.4h0M235.4 123.5h0M235.4 89.0h0M235.4 81.8h0M235.4 171.1h0M235.4 138.6h0M235.4 160.5h0M235.4 130.8h0M235.4 61.5h0M235.4 178.6h0M235.4 141.1h0M235.4 144.4h0M235.4 187.4h0M235.4 74.1h0M235.4 144.1h0M235.4 88.3h0M235.4 170.2h0M235.4 89.8h0M235.4 100.1h0M235.4 103.5h0M235.4 69.0h0M235.4 122.8h0M235.4 161.2h0M235.4 67.7h0M238.2 66.1h0M238.2 65.5h0M238.2 136.7h0M238.2 107.5h0M238.2 70.2h0M238.2 148.4h0M238.2 63.0h0M238.2 181.8h0M238.2 118.0h0M238.2 179.9h0M238.2 134.8h0M238.2 65.3h0M238.2 153.6h0M238.2 110.0h0M238.2 143.1h0M238.2 127.3h0M238.2 65.4h0M238.2 177.6h0M238.2 70.4h0M238.2 129.8h0M238.2 140.8h0M238.2 153.2h0M238.2 146.3h0M238.2 59.8h0M238.2 107.4h0M238.2 57.5h0M238.2 73.4h0M238.2 65.7h0M238.2 93.2h0M238.2 58.5h0M238.2 74.8h0M238.2 108.3h0M238.2 177.1h0M238.2 151.9h0M238.2 63.8h0M238.2 59.8h0M238.2 181.8h0M238.2 112.5h0M238.2 106.8h0M238.2 157.5h0M238.2 181.4h0M238.2 64.1h0M238.2 66.0h0M238.2 62.8h0M238.2 131.9h0M238.2 62.6h0M238.2 58.4h0M238.2 68.3h0M238.2 123.3h0M238.2 118.4h0M238.2 99.0h0M238.2 61.2h0M238.2 99.1h0M238.2 110.0h0M238.2 176.3h0M238.2 127.0h0M238.2 147.9h0M238.2 102.9h0M238.2 102.5h0M238.2 151.1h0M238.2 171.8h0M238.2 177.1h0M238.2 142.2h0M238.2 79.6h0M238.2 90.1h0M238.2 63.6h0M238.2 138.2h0M238.2 58.5h0M238.2 65.0h0M238.2 171.1h0M238.2 122.9h0M238.2 155.7h0M238.2 90.1h0M238.2 153.1h0M238.2 121.8h0M238.2 175.9h0M238.2 79.1h0M238.2 86.2h0M238.2 78.0h0M238.2 192.7h0M238.2 171.5h0M238.2 119.0h0M238.2 140.3h0M238.2 182.7h0M238.2 108.3h0M238.2 108.1h0M238.2 137.3h0M238.2 150.7h0M238.2 68.4h0M238.2 58.3h0M238.2 79.1h0M238.2 85.9h0M238.2 155.7h0M238.2 107.0h0M238.2 59.9h0M238.2 58.9h0M238.2 174.0h0M238.2 65.3h0M238.2 146.9h0M238.2 59.7h0M238.2 147.2h0M238.2 70.1h0M238.2 157.4h0M238.2 179.0h0M238.2 185.1h0M238.2 172.7h0M238.2 109.3h0M238.2 59.9h0M238.2 132.8h0M238.2 183.8h0M238.2 63.6h0M238.2 86.2h0M238.2 191.5h0M238.2 171.6h0M238.2 181.5h0M238.2 138.4h0M238.2 140.5h0M238.2 57.8h0M238.2 96.6h0M238.2 166.7h0M238.2 71.0h0M238.2 90.6h0M238.2 179.0h0M238.2 118.5h0M238.2 87.1h0M238.2 157.6h0M238.2 173.8h0M238.2 82.3h0M238.2 198.3h0M238.2 110.9h0M238.2 67.3h0M238.2 73.9h0M238.2 170.0h0M238.2 73.9h0M238.2 62.3h0M240.9 63.9h0M240.9 70.6h0M240.9 76.7h0M240.9 59.2h0M240.9 109.3h0M240.9 179.8h0M240.9 196.9h0M240.9 143.9h0M240.9 154.2h0M240.9 114.2h0M240.9 171.9h0M240.9 186.8h0M240.9 95.4h0M240.9 159.5h0M240.9 66.3h0M240.9 166.7h0M240.9 150.8h0M240.9 87.8h0M240.9 67.7h0M240.9 182.4h0M240.9 64.0h0M240.9 104.3h0M240.9 140.7h0M240.9 182.8h0M240.9 59.7h0M240.9 171.3h0M240.9 59.8h0M240.9 170.7h0M240.9 79.7h0M240.9 160.7h0M240.9 155.4h0M240.9 61.8h0M240.9 64.5h0M240.9 166.8h0M240.9 108.1h0M240.9 99.8h0M240.9 143.3h0M240.9 156.4h0M240.9 59.4h0M240.9 122.1h0M240.9 180.6h0M240.9 168.3h0M240.9 160.6h0M240.9 57.3h0M240.9 60.4h0M240.9 71.4h0M240.9 175.1h0M240.9 65.1h0M240.9 153.2h0M240.9 82.7h0M240.9 155.2h0M240.9 74.5h0M240.9 75.5h0M240.9 122.9h0M240.9 142.4h0M240.9 65.1h0M240.9 59.7h0M240.9 155.8h0M240.9 57.4h0M240.9 186.9h0M240.9 185.6h0M240.9 100.9h0M240.9 175.4h0M240.9 97.5h0M240.9 86.1h0M240.9 96.7h0M240.9 181.5h0M240.9 72.5h0M240.9 100.2h0M240.9 155.8h0M240.9 65.7h0M240.9 83.9h0M240.9 183.6h0M240.9 154.4h0M240.9 70.7h0M240.9 151.5h0M240.9 117.1h0M240.9 68.2h0M240.9 103.0h0M240.9 157.4h0M240.9 161.7h0M240.9 62.0h0M240.9 138.4h0M240.9 87.6h0M240.9 140.9h0M240.9 127.6h0M240.9 126.8h0M240.9 184.6h0M240.9 185.4h0M240.9 184.9h0M240.9 73.7h0M240.9 135.5h0M240.9 107.4h0M240.9 84.1h0M240.9 97.5h0M240.9 62.2h0M240.9 69.4h0M240.9 62.9h0M240.9 130.5h0M240.9 57.8h0M240.9 154.0h0M240.9 79.9h0M240.9 67.8h0M240.9 153.3h0M240.9 58.4h0M240.9 151.3h0M240.9 68.4h0M240.9 165.5h0M240.9 70.3h0M240.9 89.5h0M240.9 113.5h0M240.9 136.8h0M240.9 102.7h0M240.9 181.3h0M240.9 120.4h0M240.9 57.6h0M240.9 119.3h0M240.9 63.5h0M240.9 106.6h0M240.9 63.8h0M240.9 75.2h0M240.9 64.1h0M240.9 73.9h0M240.9 84.1h0M240.9 62.5h0M240.9 79.2h0M240.9 65.8h0M240.9 78.4h0M240.9 104.7h0M240.9 133.9h0M240.9 148.8h0M240.9 65.6h0M240.9 138.8h0M240.9 133.1h0M240.9 58.2h0M243.5 80.6h0M243.5 134.2h0M243.5 157.6h0M243.5 59.9h0M243.5 145.7h0M243.5 77.0h0M243.5 157.6h0M243.5 150.3h0M243.5 76.8h0M243.5 117.3h0M243.5 105.7h0M243.5 144.1h0M243.5 61.0h0M243.5 74.4h0M243.5 140.8h0M243.5 154.6h0M243.5 137.1h0M243.5 68.7h0M243.5 84.0h0M243.5 127.1h0M243.5 93.8h0M243.5 69.9h0M243.5 153.9h0M243.5 115.1h0M243.5 113.0h0M243.5 91.4h0M243.5 179.2h0M243.5 125.7h0M243.5 148.3h0M243.5 161.8h0M243.5 123.3h0M243.5 143.9h0M243.5 79.8h0M243.5 143.0h0M243.5 66.0h0M243.5 63.6h0M243.5 179.0h0M243.5 166.7h0M243.5 174.5h0M243.5 59.2h0M243.5 170.1h0M243.5 164.0h0M243.5 149.9h0M243.5 85.1h0M243.5 68.3h0M243.5 160.0h0M243.5 179.8h0M243.5 117.4h0M243.5 59.6h0M243.5 84.4h0M243.5 104.6h0M243.5 117.8h0M243.5 121.4h0M243.5 139.6h0M243.5 75.3h0M243.5 157.6h0M243.5 92.7h0M243.5 69.7h0M243.5 97.7h0M243.5 107.7h0M243.5 82.6h0M243.5 175.3h0M243.5 172.0h0M243.5 169.8h0M243.5 133.0h0M243.5 113.2h0M243.5 128.7h0M243.5 123.2h0M243.5 76.6h0M243.5 68.1h0M243.5 73.5h0M243.5 167.5h0M243.5 178.9h0M243.5 163.8h0M243.5 113.9h0M243.5 83.7h0M243.5 108.9h0M243.5 87.0h0M243.5 68.8h0M243.5 89.2h0M243.5 143.5h0M243.5 166.2h0M243.5 64.5h0M243.5 102.1h0M243.5 72.1h0M243.5 174.8h0M243.5 86.1h0M243.5 86.8h0M243.5 60.1h0M243.5 74.2h0M243.5 184.0h0M243.5 99.9h0M243.5 59.3h0M243.5 162.2h0M243.5 79.9h0M243.5 120.6h0M243.5 163.0h0M243.5 184.8h0M243.5 65.9h0M243.5 122.1h0M243.5 78.6h0M243.5 136.3h0M243.5 91.9h0M243.5 152.9h0M243.5 69.2h0M243.5 161.6h0M243.5 153.3h0M243.5 183.8h0M243.5 66.2h0M243.5 77.1h0M243.5 79.6h0M243.5 61.2h0M243.5 75.7h0M243.5 157.8h0M243.5 174.3h0M243.5 177.7h0M243.5 167.6h0M243.5 167.0h0M243.5 139.2h0M243.5 128.0h0M243.5 91.6h0M243.5 104.0h0M243.5 72.8h0M243.5 111.9h0M243.5 57.6h0M243.5 174.0h0M243.5 187.0h0M243.5 111.2h0M243.5 131.6h0M243.5 69.6h0M243.5 176.4h0M243.5 63.3h0M243.5 84.2h0M243.5 63.2h0M243.5 125.6h0M250.7 81.8h0M293.1 203.1h0M323.9 156.5h0M278.9 97.4h0M301.4 194.0h0M274.3 141.9h0M246.7 93.5h0M275.6 130.4h0M246.9 61.1h0M318.5 164.8h0M286.8 142.4h0M347.9 210.7h0M276.6 99.6h0M312.3 226.1h0M296.1 178.9h0M319.5 231.2h0M250.5 62.0h0M294.3 125.7h0M253.5 66.5h0M257.7 65.4h0M280.2 112.5h0M326.1 235.2h0M282.7 145.6h0M266.4 197.9h0M259.8 139.0h0M313.4 134.7h0M260.2 58.8h0M351.1 248.7h0M274.6 109.0h0M263.4 136.9h0M290.9 195.8h0M246.5 73.1h0M328.5 222.1h0M304.9 214.7h0M327.4 211.0h0M293.5 133.2h0M317.2 213.0h0M261.4 172.7h0M267.1 83.5h0M282.7 211.9h0M263.4 69.1h0M292.5 94.0h0M264.6 190.9h0M309.0 85.1h0M316.3 181.7h0M327.2 153.0h0M263.4 72.0h0M254.7 167.7h0M281.6 148.6h0M277.1 92.7h0M261.6 86.4h0M245.9 57.1h0M300.1 140.2h0M319.5 153.1h0M328.6 221.6h0M334.9 192.6h0M254.9 97.1h0M318.7 198.4h0M348.6 173.3h0M300.9 84.1h0M280.2 131.9h0M272.1 62.3h0M264.0 64.9h0M270.5 124.6h0M291.6 180.3h0M329.1 233.5h0M307.7 137.1h0M337.4 206.3h0M331.4 150.0h0M257.2 125.6h0M321.5 171.8h0M298.7 82.1h0M333.8 226.4h0M288.0 66.3h0M251.7 58.5h0M278.2 142.3h0M341.2 220.1h0M324.2 213.6h0M273.6 116.4h0M299.8 121.2h0M330.3 189.9h0M295.1 118.4h0M325.4 236.0h0M285.4 70.5h0M304.8 205.8h0M274.8 60.7h0M261.4 171.8h0M274.8 73.7h0M258.3 67.4h0M265.3 60.5h0M263.6 170.2h0M283.3 71.4h0M272.4 184.6h0M260.0 60.1h0M296.2 115.4h0M279.8 86.4h0M265.7 174.8h0M268.0 96.5h0M272.0 183.7h0M251.6 90.4h0M347.1 223.2h0M257.8 183.4h0M265.0 172.5h0M305.9 185.9h0M286.1 109.7h0M256.5 180.0h0M280.3 90.6h0M346.8 184.9h0M267.6 62.7h0M250.7 98.2h0M292.1 85.6h0M288.5 139.5h0M268.9 60.0h0M281.9 72.6h0M294.6 125.3h0M340.9 173.7h0M274.6 66.3h0M277.7 97.6h0M252.0 57.2h0M248.4 163.2h0M253.6 150.8h0M303.2 173.2h0M276.5 105.7h0M258.6 128.5h0M263.7 72.1h0M261.0 74.1h0M334.2 184.4h0M297.5 133.9h0M281.0 83.7h0M293.8 128.5h0M324.5 204.9h0M309.6 140.5h0M267.5 128.9h0M252.0 103.2h0M344.4 237.1h0M295.2 222.2h0M282.6 119.3h0M282.0 179.8h0M328.5 153.0h0M273.7 140.7h0M258.4 59.5h0M300.5 150.9h0M293.1 129.9h0M314.1 163.5h0M304.8 185.9h0M274.3 116.5h0M280.4 123.0h0M288.0 211.0h0M279.7 119.2h0M332.4 231.5h0M261.5 174.7h0M291.5 153.4h0M326.8 186.6h0M281.3 145.4h0M295.6 117.8h0M254.8 79.4h0M309.9 195.4h0M246.6 128.8h0M298.2 181.8h0M272.5 171.1h0M262.8 87.4h0M276.8 89.1h0M300.3 106.1h0M257.9 151.6h0M346.1 239.8h0M260.9 64.6h0M337.4 240.4h0M331.1 202.0h0M343.5 249.3h0M262.0 149.3h0M295.2 137.9h0M314.4 144.0h0M347.5 242.8h0M287.9 155.7h0M272.0 204.0h0M284.8 127.9h0M296.3 180.4h0M259.8 80.0h0M251.2 66.3h0M276.8 197.8h0M289.0 74.8h0M291.0 204.0h0M252.0 68.5h0M264.9 58.6h0M273.8 192.6h0M248.5 106.0h0M299.7 152.3h0M263.4 150.7h0M302.5 227.3h0M281.2 77.1h0M249.1 57.2h0M335.5 210.5h0M257.5 167.6h0M324.4 238.7h0M286.5 132.2h0M282.8 158.1h0M278.1 210.6h0M311.2 173.1h0M267.0 64.7h0M282.6 178.0h0M334.6 208.4h0M275.3 126.4h0M250.3 95.1h0M256.1 110.3h0M253.8 158.7h0M337.1 245.9h0M291.3 74.9h0M293.7 200.4h0M277.0 66.1h0M249.8 150.5h0M340.1 230.7h0M249.2 101.7h0M290.8 193.7h0M257.9 78.3h0M277.1 70.4h0M275.5 103.5h0M309.4 162.9h0M287.8 127.8h0M275.2 68.6h0M247.0 140.0h0M288.9 190.2h0M320.6 205.9h0M318.1 216.5h0M272.4 62.9h0M263.6 199.4h0M255.6 161.7h0M274.9 150.8h0M249.4 159.2h0M269.7 132.6h0M251.7 179.3h0M265.6 117.5h0M317.8 104.6h0M268.4 141.8h0M263.8 102.0h0M344.0 243.0h0M257.0 57.6h0M293.2 122.4h0M316.6 143.2h0M281.6 203.9h0M293.0 204.0h0M276.7 202.7h0M251.3 94.2h0M274.7 73.6h0M326.0 170.1h0M262.3 198.0h0M268.8 74.7h0M276.9 90.1h0M285.5 102.0h0M270.6 62.7h0M299.3 102.5h0M339.6 241.8h0M305.3 223.4h0M326.7 166.1h0M281.8 65.0h0M312.4 176.8h0M285.7 165.8h0M275.2 112.5h0M323.4 162.6h0M252.1 71.6h0M267.6 146.9h0M260.1 68.0h0M278.9 185.3h0M262.8 77.6h0M267.2 170.3h0M309.4 109.2h0M266.3 87.3h0M295.6 132.5h0M255.5 149.7h0M322.0 236.3h0M255.1 105.1h0M285.1 72.9h0M291.2 113.2h0M297.8 159.0h0M279.7 119.8h0M336.8 231.4h0M331.7 123.6h0M290.4 123.6h0M282.9 76.4h0M310.8 145.5h0M282.7 182.6h0M272.0 77.8h0M328.9 243.1h0M327.7 155.5h0M287.2 185.8h0M298.8 208.5h0M259.4 84.0h0M283.4 134.7h0M342.5 215.7h0M250.8 58.3h0M265.9 65.2h0M280.3 140.3h0M293.0 198.2h0M280.0 121.4h0M298.6 74.9h0M278.7 95.1h0M277.0 150.0h0M278.5 94.2h0M286.2 108.8h0M254.6 144.0h0M318.2 218.3h0M272.8 73.9h0M285.9 180.5h0M314.5 233.1h0M258.8 139.7h0M289.2 112.0h0M309.3 85.5h0M337.0 159.7h0M329.8 191.9h0M297.1 207.0h0M318.9 172.8h0M254.2 141.5h0M262.6 201.0h0M255.5 73.4h0M272.1 145.0h0M332.7 215.7h0M246.3 75.1h0M281.2 74.1h0M294.3 199.2h0M351.7 230.7h0M306.5 95.4h0M277.1 154.2h0M264.2 63.5h0M303.0 125.9h0M247.7 169.0h0M274.0 98.7h0M332.2 232.1h0M302.5 183.7h0M247.8 163.7h0M288.8 168.0h0M277.6 73.9h0M330.4 176.0h0M278.9 66.7h0M276.5 76.3h0M328.9 222.2h0M325.7 233.5h0M247.4 162.6h0M263.1 155.2h0M268.0 81.8h0M274.7 75.6h0M290.7 153.7h0M340.9 209.3h0M252.0 101.3h0M256.1 60.5h0M266.0 192.0h0M309.3 174.6h0M290.0 203.6h0M259.2 196.4h0M315.4 199.0h0M258.2 144.7h0M279.1 102.2h0M279.1 105.1h0M255.1 61.7h0M301.9 147.1h0M320.2 224.9h0M301.2 204.2h0M314.0 165.8h0M326.3 155.3h0M252.7 185.9h0M293.5 194.9h0M329.1 183.3h0M266.8 163.7h0M283.5 177.1h0M311.1 96.2h0M284.1 179.8h0M256.5 79.8h0M280.6 212.3h0M276.1 95.6h0M332.3 232.3h0M256.1 86.7h0M306.5 214.6h0M287.7 167.8h0M322.1 175.8h0M257.3 133.7h0M271.7 61.1h0M277.6 96.9h0M309.5 179.7h0M268.6 136.5h0M300.5 211.9h0M288.1 71.3h0M311.2 211.2h0M261.1 143.6h0M264.6 64.8h0M260.6 63.3h0M293.9 108.4h0M251.3 176.8h0M258.9 60.0h0M258.1 58.6h0M319.1 228.4h0M262.7 128.0h0M284.6 89.0h0M264.8 74.0h0M314.4 120.5h0M259.0 65.5h0M342.1 214.9h0M259.8 66.2h0M334.2 221.7h0M282.2 189.0h0M338.9 243.1h0M319.1 146.1h0M309.2 180.2h0M267.3 119.8h0M279.0 114.4h0M265.7 203.5h0M278.7 150.6h0M341.8 245.9h0M279.0 117.5h0M264.1 72.7h0M340.9 238.0h0M319.1 118.5h0M286.3 80.3h0M246.6 72.7h0M260.3 85.9h0M301.4 213.9h0M293.7 125.2h0M285.0 138.1h0M338.3 247.6h0M269.9 157.5h0M343.8 234.2h0M279.8 142.2h0M279.7 79.8h0M262.8 122.2h0M284.6 180.6h0M304.3 160.7h0M270.3 61.5h0M294.7 221.7h0M248.6 75.5h0M312.9 218.1h0M313.1 170.0h0M296.2 142.7h0M246.1 156.1h0M273.9 66.8h0M275.9 166.7h0M264.4 58.6h0M300.3 120.9h0M289.7 215.4h0M304.6 80.6h0M255.6 122.7h0M301.0 179.7h0M347.7 256.7h0M343.7 195.6h0M289.5 69.2h0M275.9 186.0h0M293.7 174.7h0M257.4 67.1h0M275.1 68.3h0M275.3 206.3h0M277.9 104.3h0M261.6 143.9h0M291.0 195.1h0M272.0 143.1h0M276.7 90.4h0M304.1 172.5h0M247.4 120.7h0M280.3 78.4h0M296.9 215.6h0M300.8 124.1h0M314.6 131.4h0M302.8 206.4h0M276.0 107.9h0M252.2 140.9h0M304.5 137.2h0M296.0 144.6h0M332.1 163.6h0M347.9 223.4h0M292.7 98.4h0M259.1 73.3h0M305.4 204.9h0M311.7 226.8h0M345.2 253.0h0M255.8 99.4h0M346.8 239.3h0M248.9 105.7h0M251.0 115.7h0M330.6 233.7h0M260.3 65.5h0M296.0 144.3h0M255.1 57.7h0M335.4 177.5h0M302.9 210.4h0M342.4 246.9h0M254.0 97.3h0M288.7 162.8h0M327.1 155.2h0M268.6 66.9h0M284.1 102.6h0M286.5 172.2h0M328.5 220.5h0M331.1 248.3h0M289.0 68.5h0M278.6 85.8h0M254.3 182.4h0M305.1 122.2h0M323.4 149.0h0M297.0 77.0h0M294.1 208.5h0M253.5 57.1h0M282.0 66.2h0M317.8 164.4h0M300.3 199.0h0M261.7 64.7h0M247.7 57.8h0M311.7 99.6h0M259.6 69.7h0M269.2 63.0h0M308.0 124.2h0M271.5 82.0h0M250.5 59.2h0M282.4 80.5h0M295.3 116.4h0M312.1 161.3h0M331.8 194.5h0M253.9 132.5h0M262.3 73.4h0M286.3 103.9h0M306.9 96.3h0M321.8 236.7h0M268.0 195.5h0M342.6 221.8h0M265.9 78.1h0M340.4 184.3h0M265.6 74.1h0M272.7 174.0h0M247.6 63.3h0M298.0 192.1h0M349.1 253.1h0M318.1 172.9h0M280.4 79.5h0M282.5 138.6h0M268.6 60.7h0M323.1 207.7h0M258.2 169.5h0M289.3 201.5h0M335.8 248.5h0M333.5 203.1h0M251.4 143.7h0M253.8 78.4h0M316.0 238.1h0M295.3 197.9h0M262.9 144.8h0M300.3 102.7h0M252.6 181.6h0M301.3 194.0h0M341.8 248.3h0M254.2 166.0h0M248.9 103.4h0M271.3 158.4h0M266.6 193.6h0M296.2 85.4h0M261.9 85.9h0M323.4 227.4h0M318.6 99.0h0M270.1 179.1h0M307.9 129.3h0M334.1 239.2h0M277.3 77.5h0M283.8 130.0h0M260.0 147.7h0M277.2 76.1h0M260.4 152.4h0M247.4 173.3h0M259.3 74.6h0M279.4 106.3h0M255.0 132.7h0M265.6 141.0h0M296.9 223.6h0M294.2 150.0h0M282.6 91.4h0M268.5 96.2h0M314.7 202.0h0M308.8 144.6h0M302.1 181.3h0M295.6 200.3h0M285.5 82.9h0M326.0 197.5h0M258.5 137.5h0M277.0 65.4h0M262.5 59.1h0M298.8 153.3h0M298.9 146.1h0M247.9 121.2h0M247.3 190.5h0M269.3 67.3h0M279.9 190.8h0M325.0 205.0h0M293.3 206.4h0M270.4 80.5h0M267.9 66.6h0M254.9 65.9h0M350.0 199.7h0M251.4 160.2h0M262.2 160.3h0M285.4 96.7h0M312.6 152.3h0M276.6 74.7h0M280.9 185.6h0M336.7 229.9h0M261.9 79.1h0M269.2 63.4h0M279.7 112.9h0M280.7 126.5h0M326.2 140.3h0M259.7 132.6h0M282.9 107.0h0M323.8 116.6h0M256.2 66.3h0M299.2 127.0h0M266.4 151.2h0M246.6 67.0h0M283.9 64.2h0M245.8 129.3h0M299.1 217.1h0M256.7 180.3h0M303.3 210.9h0M294.0 206.6h0M349.1 206.4h0M295.9 196.6h0M261.3 73.6h0M287.7 96.0h0M320.8 226.4h0M320.7 237.0h0M266.6 100.7h0M249.4 124.5h0M300.9 169.3h0M317.7 234.5h0M270.7 190.2h0M296.7 186.6h0M277.9 169.9h0M323.6 156.2h0M263.9 59.2h0M274.8 120.0h0M260.0 60.5h0M296.0 119.5h0M305.8 216.5h0M265.3 160.2h0M260.1 76.1h0M311.4 227.4h0M322.0 150.9h0M263.2 108.4h0M313.3 147.3h0M263.9 128.8h0M276.5 192.9h0M250.5 188.0h0M323.3 229.5h0M278.5 67.3h0M321.2 223.6h0M268.5 66.5h0M299.0 119.9h0M274.6 138.5h0M290.1 145.8h0M280.1 62.8h0M290.4 190.6h0M304.0 222.0h0M254.5 58.5h0M251.6 69.9h0M255.6 175.6h0M275.1 179.5h0M252.1 199.7h0M262.4 117.9h0M263.0 63.3h0M344.1 202.9h0M250.4 129.1h0M320.6 194.4h0M285.2 159.5h0M267.8 58.7h0M259.3 107.0h0M261.7 89.6h0M323.4 169.3h0M293.2 122.7h0M303.7 101.5h0M256.8 189.8h0M307.3 125.3h0M289.6 195.2h0M250.1 68.3h0M252.6 67.1h0M252.2 60.0h0M289.0 111.1h0M296.0 157.9h0M273.0 80.3h0M321.9 146.7h0M276.6 191.9h0M271.4 171.8h0M321.6 150.0h0M291.8 97.3h0M321.8 206.7h0M284.4 135.6h0M246.4 75.8h0M316.9 140.4h0M268.3 161.5h0M304.5 161.6h0M309.7 211.0h0M252.9 96.1h0M309.8 212.1h0M267.3 158.4h0M313.2 223.9h0M316.9 167.8h0M322.9 243.0h0M337.8 235.4h0M285.0 148.3h0M290.9 167.1h0M319.9 235.9h0M286.0 81.4h0M274.1 90.7h0M267.4 95.1h0M260.9 61.1h0M320.0 198.6h0M332.0 229.4h0M254.7 64.2h0M319.7 227.4h0M284.5 100.3h0M261.8 148.2h0M298.5 199.8h0M274.3 168.2h0M262.4 181.1h0M302.1 218.4h0M273.4 197.8h0M252.4 90.9h0M271.6 78.5h0M292.9 132.4h0M278.3 198.7h0M347.3 214.9h0M293.9 204.9h0M307.1 130.3h0M248.0 66.9h0M259.0 60.7h0M340.2 172.5h0M253.1 79.6h0M323.0 195.4h0M334.6 159.3h0M263.1 66.4h0M251.2 126.1h0M262.5 121.5h0M250.5 144.7h0M254.4 189.7h0M302.7 147.7h0M323.1 199.4h0M324.5 126.6h0M260.8 61.3h0M332.0 200.7h0M313.7 112.5h0M314.1 206.2h0M254.0 86.7h0M249.8 105.3h0M256.5 192.7h0M256.8 201.0h0M254.0 177.2h0M273.4 67.2h0M251.7 73.9h0M306.0 224.5h0M287.9 102.4h0M339.1 248.5h0M295.9 189.6h0M271.9 83.4h0M308.7 182.7h0M280.7 194.7h0M323.3 206.8h0M274.9 189.6h0M250.8 147.1h0M329.4 209.5h0M270.4 138.8h0M276.8 78.7h0M246.4 111.2h0M249.9 96.9h0M261.4 80.8h0M341.3 219.4h0M343.8 191.0h0M307.0 122.7h0M247.7 114.9h0M286.5 96.9h0M260.4 98.0h0M283.6 194.4h0M266.0 86.8h0M248.1 91.6h0M316.4 199.5h0M290.4 113.5h0M264.4 112.9h0M287.2 95.3h0M296.9 111.2h0M340.4 173.0h0M264.4 109.8h0M330.7 240.3h0M289.9 72.1h0M246.9 67.6h0M303.2 182.2h0M305.4 155.5h0M253.5 58.8h0M316.4 177.0h0M249.1 60.5h0M298.7 198.9h0M288.2 108.6h0M287.4 114.6h0M251.1 133.3h0M260.4 197.3h0M316.3 217.8h0M349.6 211.0h0M280.3 145.3h0M259.5 69.0h0M301.9 170.3h0M264.6 73.5h0M264.7 151.4h0M281.7 93.2h0M298.6 201.0h0M310.3 97.1h0M331.9 186.9h0M272.7 75.2h0M334.5 209.9h0M300.9 175.2h0M294.6 81.4h0M316.2 132.6h0M279.4 64.2h0M312.6 185.0h0M315.3 224.0h0M286.6 75.1h0M259.6 63.5h0M331.9 225.3h0M316.6 228.9h0M264.7 167.3h0M282.8 125.8h0M285.0 197.7h0M261.3 60.6h0M288.2 118.2h0M303.9 221.0h0M330.5 228.5h0M287.5 181.1h0M324.0 239.1h0M342.8 240.5h0M331.1 245.2h0M251.3 107.0h0M339.6 243.1h0M268.4 67.4h0M254.3 189.3h0M306.3 188.2h0M267.6 75.2h0M266.1 81.7h0M273.8 71.7h0M330.8 218.9h0M267.9 174.6h0M255.6 111.8h0M273.0 68.0h0M252.9 150.8h0M254.6 84.9h0M282.0 118.9h0M333.4 212.1h0M263.6 153.1h0M310.1 132.7h0M252.0 59.4h0M299.9 148.3h0M283.7 75.2h0M265.6 58.0h0M258.5 129.7h0M258.4 86.8h0M254.6 60.5h0M277.8 91.2h0M306.9 221.3h0M260.7 60.2h0M260.4 61.2h0M266.0 159.3h0M319.4 231.0h0M302.4 146.9h0M272.9 77.6h0M322.9 146.2h0M259.6 71.9h0M346.6 195.5h0M260.5 96.3h0M257.3 58.8h0M313.6 201.3h0M269.0 76.4h0M263.3 79.0h0M283.3 111.7h0M277.8 82.6h0M347.1 240.0h0M290.3 76.7h0M284.7 116.0h0M337.8 213.7h0M262.6 164.6h0M275.8 108.5h0M297.1 125.2h0M265.7 64.3h0M296.9 182.0h0M299.9 171.7h0M339.2 186.2h0M318.2 182.0h0M258.1 195.0h0M268.7 131.1h0M304.4 228.6h0M287.7 96.9h0M285.2 178.2h0M329.0 240.3h0M248.1 125.0h0M253.9 59.5h0M248.8 121.0h0M259.9 99.0h0M306.4 104.3h0M280.7 212.3h0M267.7 91.2h0M274.1 79.9h0M283.2 97.0h0M268.0 86.4h0M295.7 139.5h0M315.4 229.1h0M263.0 141.5h0M298.0 217.2h0M257.1 68.5h0M253.1 59.7h0M326.2 180.9h0M263.2 90.9h0M311.0 191.3h0M252.4 106.3h0M258.0 156.0h0M338.8 209.5h0M286.5 149.5h0M272.7 61.5h0M285.2 115.6h0M347.8 241.5h0M272.6 65.2h0M269.0 160.4h0M297.8 122.2h0M263.1 201.8h0M347.9 228.8h0M272.2 182.2h0M286.2 195.2h0M322.4 154.1h0M289.5 210.2h0M289.6 179.4h0M284.4 188.2h0M262.5 78.9h0M338.7 165.5h0M304.3 218.9h0M263.4 103.2h0M321.8 236.6h0M280.1 73.5h0M281.8 194.5h0M267.2 130.7h0M281.8 100.7h0M300.0 125.5h0M350.9 206.3h0M299.6 116.2h0M261.8 172.9h0M307.2 194.5h0M267.3 59.7h0M256.9 164.7h0M251.5 163.7h0M260.4 127.5h0M328.1 226.5h0M347.2 212.1h0M319.1 223.1h0M351.3 210.1h0M256.4 84.1h0M341.0 204.9h0M251.3 172.7h0M335.2 194.0h0M266.5 121.0h0M283.3 70.3h0M290.9 94.1h0M289.1 170.2h0M261.7 87.8h0M279.7 147.7h0M309.6 204.4h0M251.8 124.1h0M313.1 216.0h0M266.1 120.6h0M272.0 62.2h0M303.9 149.3h0M268.7 63.2h0M320.6 193.0h0M261.6 67.8h0M278.8 107.1h0M262.1 74.8h0M292.4 117.8h0M329.8 242.7h0M292.8 152.0h0M286.8 71.4h0M274.0 153.1h0M286.1 70.9h0M246.8 61.9h0M264.1 84.7h0M271.5 185.3h0M289.0 136.9h0M292.9 209.0h0M315.7 236.1h0M300.0 133.3h0M318.4 182.0h0M261.2 71.0h0M262.5 81.0h0M248.2 86.7h0M249.6 63.9h0M279.4 141.9h0M342.9 229.5h0M337.8 241.2h0M332.4 247.2h0M302.9 149.2h0M247.6 97.0h0M332.1 206.4h0M325.8 174.6h0M281.6 77.3h0M319.3 238.0h0M255.5 184.7h0M290.6 171.9h0M340.1 240.7h0M261.1 66.9h0M250.2 63.6h0M284.2 66.9h0M279.3 189.3h0M250.4 104.9h0M299.8 221.8h0M315.3 184.1h0M249.7 169.3h0M314.2 168.4h0M256.7 65.4h0M289.2 211.9h0M255.3 84.7h0M252.9 65.4h0M262.8 67.0h0M348.2 219.2h0M279.5 136.1h0M331.1 246.4h0M274.3 108.5h0M334.9 218.9h0M260.6 84.2h0M250.1 155.1h0M344.2 244.1h0M267.5 61.6h0M284.6 75.8h0M270.3 146.0h0M264.2 90.9h0M284.6 112.7h0M267.8 168.0h0M284.3 179.4h0M261.1 175.8h0M260.1 84.8h0M267.5 59.9h0M285.7 66.6h0M278.3 68.3h0M258.1 136.4h0M322.1 231.3h0M302.6 134.1h0M273.3 109.7h0M312.0 191.2h0M267.2 93.0h0M267.0 142.6h0M276.9 86.7h0M255.6 182.7h0M274.8 156.5h0M333.8 159.0h0M302.3 176.7h0M269.9 59.9h0M270.4 124.7h0M329.3 119.7h0M286.3 211.1h0M331.0 208.6h0M343.4 165.1h0M262.6 72.6h0M275.6 78.2h0M308.1 192.5h0M266.7 153.6h0M316.3 153.0h0M310.3 165.4h0M250.1 100.2h0M276.4 68.8h0M301.0 188.9h0M248.9 78.3h0M264.6 63.4h0M259.6 106.6h0M348.0 247.7h0M307.6 160.7h0M262.2 67.0h0M262.0 129.9h0M257.1 130.2h0M273.0 133.8h0M260.5 59.8h0M335.1 225.7h0M258.1 96.6h0M328.7 224.2h0M293.1 145.7h0M310.9 170.2h0M261.3 128.9h0M270.9 145.1h0M332.8 165.9h0M281.1 106.3h0M313.4 138.7h0M281.4 73.4h0M300.8 216.6h0M308.6 182.7h0M252.1 67.5h0M274.0 174.3h0M290.1 168.7h0M284.2 72.7h0M309.4 141.1h0M304.6 167.7h0M288.9 108.5h0M285.6 65.9h0M283.4 64.5h0M255.0 153.6h0M322.6 160.8h0M304.8 133.7h0M265.3 85.4h0M272.8 111.5h0M318.4 200.7h0M280.5 114.3h0M252.1 67.0h0M285.8 69.8h0M334.7 200.2h0M286.6 78.7h0M276.3 63.1h0M291.9 73.2h0M262.6 158.3h0M320.4 226.1h0M299.2 219.3h0M251.8 97.1h0M279.6 99.4h0M270.7 85.8h0M273.8 73.2h0M308.7 147.7h0M329.0 117.3h0M338.7 243.9h0M297.6 221.3h0M318.1 172.9h0M268.2 152.0h0M327.4 181.8h0M263.4 109.6h0M250.0 76.4h0M256.2 152.0h0M337.3 242.8h0M286.2 77.2h0M252.5 170.8h0M250.5 193.4h0M260.8 107.8h0M300.6 226.3h0M273.5 149.8h0M337.2 180.7h0M292.5 70.3h0M300.8 209.1h0M265.3 60.8h0M331.5 239.7h0M337.0 180.2h0M280.0 74.0h0M312.5 188.6h0M301.9 120.7h0M262.3 174.4h0M272.5 183.9h0M344.4 172.4h0M298.9 217.7h0M313.1 221.0h0M303.1 130.8h0M293.3 167.1h0M338.8 154.3h0M252.0 64.1h0M304.2 153.6h0M300.8 113.7h0M273.1 65.4h0M259.5 172.8h0M298.2 99.5h0M280.7 94.5h0M312.2 196.8h0M300.4 225.3h0M262.2 170.2h0M254.5 72.6h0M332.7 226.5h0M307.8 139.0h0M323.6 167.2h0M281.6 181.8h0M250.9 58.5h0M345.0 234.2h0M275.1 188.3h0M276.5 181.8h0M283.9 155.7h0M258.0 116.3h0M271.7 63.5h0M256.1 107.4h0M246.1 69.4h0M265.9 70.8h0M278.2 170.1h0M258.5 62.1h0M277.9 114.8h0M253.3 81.5h0M284.8 87.8h0M250.3 62.4h0M323.5 124.5h0M300.5 162.0h0M293.1 81.9h0M337.4 191.6h0M318.5 200.8h0M252.0 82.0h0M257.3 196.9h0M347.1 244.6h0M265.8 71.2h0M301.1 129.1h0M284.5 137.6h0M251.3 70.8h0M272.2 129.5h0M275.1 114.2h0M256.6 120.8h0M254.4 59.0h0M280.3 136.6h0M277.6 75.1h0M271.8 66.7h0M307.0 145.7h0M349.7 207.4h0M347.4 209.9h0M259.0 58.6h0M270.7 124.9h0M333.4 135.2h0M321.0 176.8h0M291.6 121.8h0M314.9 220.8h0M310.5 145.9h0M331.7 161.7h0M315.6 93.4h0M316.7 236.4h0M262.9 75.7h0M264.1 90.1h0M309.6 172.2h0M307.5 159.9h0M287.0 110.0h0M282.7 90.3h0M319.0 211.1h0M291.8 215.4h0M324.9 229.5h0M269.7 112.1h0M291.1 139.8h0M253.7 192.3h0M303.2 146.7h0M258.2 123.6h0M304.7 120.9h0M256.7 194.9h0M246.7 59.9h0M250.6 76.2h0M341.7 246.6h0M291.8 181.0h0M263.2 63.0h0M262.9 83.2h0M253.9 194.3h0M294.5 155.4h0M303.8 87.2h0M256.6 99.0h0M268.8 167.0h0M257.3 135.3h0M286.3 171.6h0M332.3 176.9h0M331.0 203.9h0M259.8 85.0h0M345.1 209.6h0M330.6 198.1h0M291.9 102.1h0M288.2 136.7h0M331.1 218.6h0M313.0 205.5h0M275.3 102.6h0M292.5 147.6h0M287.7 70.2h0M286.8 199.7h0M303.3 223.7h0M335.0 203.3h0M274.0 170.9h0M249.1 59.8h0M334.8 187.0h0M259.6 58.6h0M305.1 102.0h0M252.7 65.9h0M264.1 200.2h0M261.9 82.4h0M257.9 161.0h0M316.1 144.0h0M312.3 204.8h0M252.3 119.3h0M257.9 132.4h0M287.0 156.1h0M260.6 165.1h0M296.7 197.7h0M324.1 157.8h0M334.9 223.2h0M265.4 189.0h0M282.0 68.0h0M249.6 60.1h0M310.6 138.1h0M293.7 118.6h0M332.4 183.0h0M336.7 217.9h0M258.1 100.9h0M276.2 91.1h0M318.9 179.1h0M332.7 210.2h0M294.7 146.7h0M268.7 195.8h0M249.3 84.3h0M284.6 139.4h0M261.5 187.5h0M277.3 70.8h0M328.1 247.3h0M320.1 187.6h0M288.6 142.7h0M291.6 203.6h0M342.7 226.8h0M300.4 150.5h0M306.0 196.2h0M269.8 60.1h0M267.2 188.8h0M342.2 214.7h0M266.6 95.2h0M307.3 174.7h0M277.0 188.2h0M272.0 66.4h0M305.7 149.1h0M341.2 217.6h0M307.6 114.2h0M289.1 204.6h0M260.4 143.9h0M341.4 245.8h0M285.0 84.9h0M310.1 146.1h0M302.8 193.1h0M265.8 118.5h0M296.7 120.5h0M305.6 88.2h0M278.2 107.3h0M325.2 161.8h0M276.1 89.5h0M308.8 209.2h0M263.3 57.8h0M257.6 153.7h0M275.5 186.2h0M285.9 74.0h0M309.7 104.7h0M255.5 139.3h0M284.2 94.7h0M263.9 81.3h0M324.9 200.2h0M287.2 108.0h0M292.5 119.5h0M250.6 79.1h0M271.4 121.9h0M260.0 65.5h0M331.7 225.0h0M269.4 61.9h0M263.5 132.6h0M271.1 154.3h0M271.0 170.4h0M275.9 134.8h0M287.2 118.4h0M250.8 97.6h0M326.8 190.4h0M333.1 239.6h0M255.8 146.8h0M271.4 76.2h0M279.0 197.4h0M325.6 159.8h0M263.9 65.3h0M262.8 93.8h0M318.3 169.3h0M292.7 91.0h0M313.7 149.7h0M249.1 66.1h0M279.8 95.7h0M265.0 93.0h0M254.9 112.1h0M318.1 239.5h0M284.3 70.6h0M301.8 77.2h0M314.2 195.7h0M262.4 86.2h0M249.0 69.8h0M260.0 64.9h0M250.9 92.8h0M262.1 59.4h0M266.8 198.7h0M333.9 242.3h0M320.8 174.3h0M257.2 72.2h0M329.5 245.3h0M250.0 166.9h0M301.3 175.0h0M277.4 108.9h0M350.5 228.9h0M299.1 186.7h0M253.9 175.9h0M255.3 90.6h0M250.0 64.2h0M254.7 105.8h0M333.8 185.0h0M264.3 154.3h0M294.5 134.3h0M267.8 148.1h0M338.8 141.3h0M257.4 150.9h0M326.5 111.4h0M329.5 221.4h0M328.8 243.3h0M288.4 81.9h0M256.1 57.9h0M344.4 253.7h0M278.5 91.1h0M337.3 161.0h0M301.4 146.3h0M294.7 188.5h0M280.6 87.6h0M263.8 106.1h0M263.6 74.9h0M313.0 231.8h0M335.9 154.7h0M310.2 158.6h0M298.6 165.3h0M335.3 199.7h0M250.9 183.1h0M303.0 117.7h0M321.1 224.9h0M273.3 87.7h0M343.4 198.9h0M297.5 85.2h0M262.4 65.7h0M250.9 174.0h0M303.5 224.5h0M257.8 196.4h0M269.5 164.9h0M263.1 140.1h0M335.1 244.1h0M278.3 78.3h0M280.9 147.8h0M324.5 216.8h0M289.2 85.2h0M322.1 151.9h0M314.2 105.3h0M330.1 221.2h0M319.9 158.0h0M283.5 152.4h0M282.9 77.3h0M316.2 188.1h0M341.0 183.9h0M262.4 74.4h0M328.9 209.8h0M262.7 89.4h0M287.8 124.9h0M295.2 114.9h0M250.7 169.4h0M295.1 205.4h0M253.5 162.6h0M284.0 129.4h0M290.3 111.5h0M302.4 169.8h0M330.5 245.5h0M315.3 131.4h0M261.6 135.7h0M259.6 58.9h0M346.7 200.3h0M331.6 213.2h0M302.9 174.0h0M279.8 62.4h0M301.4 193.0h0M251.4 100.7h0M303.3 149.8h0M295.6 130.0h0M266.1 83.4h0M283.8 138.8h0M286.1 69.4h0M247.2 117.5h0M334.9 237.4h0M320.3 156.2h0M304.7 89.8h0M294.7 215.5h0M296.2 160.2h0M286.5 113.6h0M289.2 150.3h0M300.4 182.8h0M343.8 244.9h0M308.3 192.2h0M248.8 155.9h0M282.6 96.9h0M276.7 184.5h0M275.6 125.7h0M247.5 106.8h0M293.7 201.4h0M315.0 119.4h0M277.7 68.4h0M277.7 201.0h0M294.7 91.0h0M254.2 115.2h0M305.0 84.9h0M266.0 104.4h0M306.8 81.1h0M262.1 153.7h0M327.6 157.8h0M290.3 160.8h0M285.6 146.3h0M318.0 219.2h0M330.1 174.2h0M272.7 81.0h0M276.6 171.9h0M256.7 163.9h0M257.6 59.6h0M266.0 74.0h0M283.0 81.7h0M311.1 213.4h0M298.2 213.6h0M247.6 67.8h0M297.5 198.1h0M306.4 105.1h0M336.2 146.3h0M245.9 196.0h0M312.7 163.0h0M246.5 56.9h0M276.3 72.4h0M281.5 64.2h0M247.6 130.7h0M256.1 87.7h0M256.6 127.9h0M246.4 76.7h0M317.1 228.2h0M283.3 101.9h0M261.9 88.2h0M343.2 181.4h0M332.3 240.3h0M295.4 195.9h0M279.7 199.6h0M270.5 73.1h0M295.0 142.5h0M267.3 71.7h0M254.6 105.0h0M281.6 114.1h0M270.1 97.1h0M256.3 82.2h0M305.1 184.6h0M339.0 241.0h0M270.5 144.2h0M292.1 179.8h0M251.8 68.7h0M262.7 126.2h0M329.6 193.1h0M248.9 81.2h0M287.1 181.7h0M339.9 219.9h0M273.0 205.2h0M253.7 75.8h0M315.6 169.8h0M297.4 206.1h0M294.7 159.8h0M312.8 178.5h0M261.0 92.2h0M260.7 96.9h0M313.7 197.4h0M346.8 230.3h0M300.5 131.5h0M322.9 225.8h0M266.3 107.9h0M306.1 152.1h0M246.7 80.4h0M310.8 220.0h0M282.3 155.6h0M284.4 95.8h0M333.0 226.1h0M248.9 134.8h0M293.8 175.4h0M277.8 88.0h0M277.5 71.0h0M256.1 65.4h0M327.1 213.3h0M291.7 133.8h0M280.3 174.6h0M291.5 96.0h0M316.2 232.9h0M311.2 185.1h0M341.8 235.7h0M333.8 176.7h0M319.9 222.5h0M254.4 87.3h0M249.2 196.7h0M68.4 259.6h0M92.5 248.6h0M96.9 261.1h0M112.2 184.9h0M112.2 190.5h0M112.2 197.0h0M112.2 207.1h0M112.2 211.4h0M112.2 230.0h0M112.2 256.2h0M112.2 259.6h0M112.2 261.8h0M134.4 139.2h0M134.4 163.8h0M134.4 168.3h0M134.4 222.1h0M134.4 231.1h0M134.4 247.5h0" stroke="#bdbdbd" stroke-width="2.8" stroke-linecap="round" fill="none"/>
<path d="M129.4 215.8 L131.3 212.5 L133.1 209.0 L134.9 205.5 L136.7 201.9 L138.6 198.3 L140.4 194.7 L142.2 191.0 L144.0 187.3 L145.9 183.6 L147.7 179.9 L149.5 176.2 L151.3 172.6 L153.2 169.0 L155.0 165.4 L156.8 161.9 L158.6 158.5 L160.4 155.1 L162.3 151.8 L164.1 148.6 L165.9 145.5 L167.7 142.4 L169.6 139.5 L171.4 136.7 L173.2 133.9 L175.0 131.3 L176.9 128.7 L178.7 126.3 L180.5 123.9 L182.3 121.7 L184.2 119.5 L186.0 117.5 L187.8 115.5 L189.6 113.6 L191.5 111.8 L193.3 110.1 L195.1 108.5 L196.9 107.0 L198.8 105.6 L200.6 104.2 L202.4 102.9 L204.2 101.7 L206.1 100.5 L207.9 99.5 L209.7 98.5 L211.5 97.5 L213.4 96.6 L215.2 95.8 L217.0 95.1 L218.8 94.4 L220.7 93.7 L222.5 93.1 L224.3 92.6 L226.1 92.1 L228.0 91.7 L229.8 91.3 L231.6 91.0 L233.4 90.7 L235.3 90.5 L237.1 90.3 L238.9 90.2 L240.7 90.1 L242.6 90.1 L244.4 90.1 L246.2 90.1 L248.0 90.2 L249.9 90.4 L251.7 90.6 L253.5 90.9 L255.3 91.2 L257.2 91.5 L259.0 91.9 L260.8 92.4 L262.6 92.9 L264.5 93.4 L266.3 94.0 L268.1 94.7 L269.9 95.4 L271.8 96.2 L273.6 97.1 L275.4 98.0 L277.2 98.9 L279.1 100.0 L280.9 101.1 L282.7 102.3 L284.5 103.5 L286.4 104.9 L288.2 106.3 L290.0 107.8 L291.8 109.3 L293.6 111.0 L295.5 112.7 L297.3 114.6 L299.1 116.5 L300.9 118.5 L302.8 120.6 L304.6 122.8 L306.4 125.1 L308.2 127.5 L310.1 130.0 L311.9 132.6 L313.7 135.3 L315.5 138.1 L317.4 141.0 L319.2 143.9 L321.0 147.0 L322.8 150.2 L324.7 153.4 L326.5 156.8 L328.3 160.2 L330.1 163.6 L332.0 167.2 L333.8 170.7 L335.6 174.4 L337.4 178.0 L339.3 181.7 L341.1 185.4 L342.9 189.1 L344.7 192.8 L346.6 196.5 L348.4 200.1" fill="none" stroke="#4a8fca" stroke-width="2.0" stroke-linejoin="round"/>
<path d="M129.4 210.3 L131.3 206.8 L133.1 203.2 L134.9 199.6 L136.7 195.9 L138.6 192.1 L140.4 188.4 L142.2 184.6 L144.0 180.8 L145.9 177.1 L147.7 173.4 L149.5 169.7 L151.3 166.0 L153.2 162.5 L155.0 158.9 L156.8 155.5 L158.6 152.1 L160.4 148.8 L162.3 145.6 L164.1 142.4 L165.9 139.4 L167.7 136.5 L169.6 133.6 L171.4 130.9 L173.2 128.2 L175.0 125.7 L176.9 123.3 L178.7 120.9 L180.5 118.7 L182.3 116.5 L184.2 114.5 L186.0 112.5 L187.8 110.7 L189.6 108.9 L191.5 107.2 L193.3 105.6 L195.1 104.1 L196.9 102.7 L198.8 101.3 L200.6 100.0 L202.4 98.8 L204.2 97.7 L206.1 96.6 L207.9 95.6 L209.7 94.6 L211.5 93.8 L213.4 92.9 L215.2 92.2 L217.0 91.5 L218.8 90.8 L220.7 90.2 L222.5 89.7 L224.3 89.2 L226.1 88.7 L228.0 88.3 L229.8 88.0 L231.6 87.7 L233.4 87.4 L235.3 87.2 L237.1 87.0 L238.9 86.9 L240.7 86.8 L242.6 86.8 L244.4 86.8 L246.2 86.9 L248.0 87.0 L249.9 87.1 L251.7 87.3 L253.5 87.5 L255.3 87.8 L257.2 88.1 L259.0 88.5 L260.8 88.9 L262.6 89.4 L264.5 89.9 L266.3 90.5 L268.1 91.1 L269.9 91.8 L271.8 92.5 L273.6 93.3 L275.4 94.2 L277.2 95.1 L279.1 96.1 L280.9 97.1 L282.7 98.2 L284.5 99.4 L286.4 100.6 L288.2 102.0 L290.0 103.4 L291.8 104.8 L293.6 106.4 L295.5 108.0 L297.3 109.8 L299.1 111.6 L300.9 113.5 L302.8 115.5 L304.6 117.6 L306.4 119.8 L308.2 122.1 L310.1 124.5 L311.9 127.0 L313.7 129.5 L315.5 132.2 L317.4 135.0 L319.2 137.9 L321.0 140.9 L322.8 144.0 L324.7 147.1 L326.5 150.4 L328.3 153.8 L330.1 157.2 L332.0 160.7 L333.8 164.2 L335.6 167.9 L337.4 171.5 L339.3 175.2 L341.1 179.0 L342.9 182.7 L344.7 186.5 L346.6 190.2 L348.4 194.0" fill="none" stroke="#4a8fca" stroke-width="2.0" stroke-dasharray="12.5 4.3" stroke-linejoin="round"/>
<path d="M129.4 240.2 L131.3 238.1 L133.1 235.9 L134.9 233.6 L136.7 231.2 L138.6 228.8 L140.4 226.3 L142.2 223.7 L144.0 221.0 L145.9 218.3 L147.7 215.5 L149.5 212.7 L151.3 209.8 L153.2 206.9 L155.0 204.0 L156.8 201.1 L158.6 198.1 L160.4 195.2 L162.3 192.2 L164.1 189.3 L165.9 186.4 L167.7 183.5 L169.6 180.6 L171.4 177.8 L173.2 175.1 L175.0 172.4 L176.9 169.7 L178.7 167.1 L180.5 164.5 L182.3 162.1 L184.2 159.7 L186.0 157.3 L187.8 155.1 L189.6 152.9 L191.5 150.8 L193.3 148.7 L195.1 146.8 L196.9 144.9 L198.8 143.1 L200.6 141.4 L202.4 139.8 L204.2 138.2 L206.1 136.7 L207.9 135.3 L209.7 134.0 L211.5 132.7 L213.4 131.6 L215.2 130.5 L217.0 129.4 L218.8 128.5 L220.7 127.6 L222.5 126.8 L224.3 126.1 L226.1 125.4 L228.0 124.8 L229.8 124.3 L231.6 123.9 L233.4 123.5 L235.3 123.2 L237.1 122.9 L238.9 122.7 L240.7 122.6 L242.6 122.6 L244.4 122.6 L246.2 122.7 L248.0 122.8 L249.9 123.0 L251.7 123.3 L253.5 123.7 L255.3 124.1 L257.2 124.6 L259.0 125.1 L260.8 125.8 L262.6 126.4 L264.5 127.2 L266.3 128.1 L268.1 129.0 L269.9 130.0 L271.8 131.0 L273.6 132.1 L275.4 133.4 L277.2 134.6 L279.1 136.0 L280.9 137.4 L282.7 139.0 L284.5 140.6 L286.4 142.2 L288.2 144.0 L290.0 145.8 L291.8 147.7 L293.6 149.7 L295.5 151.8 L297.3 154.0 L299.1 156.2 L300.9 158.5 L302.8 160.9 L304.6 163.3 L306.4 165.8 L308.2 168.4 L310.1 171.0 L311.9 173.7 L313.7 176.4 L315.5 179.2 L317.4 182.1 L319.2 184.9 L321.0 187.8 L322.8 190.8 L324.7 193.7 L326.5 196.6 L328.3 199.6 L330.1 202.5 L332.0 205.5 L333.8 208.4 L335.6 211.2 L337.4 214.1 L339.3 216.9 L341.1 219.6 L342.9 222.3 L344.7 225.0 L346.6 227.5 L348.4 230.0" fill="none" stroke="#000000" stroke-width="2.0" stroke-linejoin="round"/>
<path d="M129.4 236.2 L131.3 233.9 L133.1 231.5 L134.9 229.0 L136.7 226.4 L138.6 223.8 L140.4 221.1 L142.2 218.3 L144.0 215.5 L145.9 212.6 L147.7 209.6 L149.5 206.7 L151.3 203.6 L153.2 200.6 L155.0 197.6 L156.8 194.5 L158.6 191.5 L160.4 188.5 L162.3 185.5 L164.1 182.5 L165.9 179.5 L167.7 176.6 L169.6 173.7 L171.4 170.9 L173.2 168.1 L175.0 165.4 L176.9 162.7 L178.7 160.2 L180.5 157.6 L182.3 155.2 L184.2 152.8 L186.0 150.5 L187.8 148.3 L189.6 146.2 L191.5 144.1 L193.3 142.1 L195.1 140.2 L196.9 138.4 L198.8 136.7 L200.6 135.0 L202.4 133.4 L204.2 131.9 L206.1 130.5 L207.9 129.2 L209.7 127.9 L211.5 126.7 L213.4 125.6 L215.2 124.5 L217.0 123.5 L218.8 122.6 L220.7 121.8 L222.5 121.0 L224.3 120.3 L226.1 119.7 L228.0 119.1 L229.8 118.6 L231.6 118.2 L233.4 117.9 L235.3 117.5 L237.1 117.3 L238.9 117.1 L240.7 117.0 L242.6 117.0 L244.4 117.0 L246.2 117.1 L248.0 117.2 L249.9 117.4 L251.7 117.7 L253.5 118.0 L255.3 118.4 L257.2 118.9 L259.0 119.4 L260.8 120.0 L262.6 120.7 L264.5 121.4 L266.3 122.2 L268.1 123.1 L269.9 124.0 L271.8 125.0 L273.6 126.1 L275.4 127.3 L277.2 128.5 L279.1 129.8 L280.9 131.2 L282.7 132.7 L284.5 134.2 L286.4 135.8 L288.2 137.5 L290.0 139.3 L291.8 141.2 L293.6 143.1 L295.5 145.1 L297.3 147.2 L299.1 149.4 L300.9 151.7 L302.8 154.0 L304.6 156.4 L306.4 158.9 L308.2 161.4 L310.1 164.1 L311.9 166.7 L313.7 169.5 L315.5 172.3 L317.4 175.1 L319.2 178.0 L321.0 181.0 L322.8 184.0 L324.7 187.0 L326.5 190.0 L328.3 193.0 L330.1 196.1 L332.0 199.1 L333.8 202.1 L335.6 205.2 L337.4 208.1 L339.3 211.1 L341.1 214.0 L342.9 216.9 L344.7 219.7 L346.6 222.4 L348.4 225.1" fill="none" stroke="#000000" stroke-width="2.0" stroke-dasharray="12.5 4.3" stroke-linejoin="round"/>
<path d="M129.4 254.2 L131.3 253.0 L133.1 251.8 L134.9 250.5 L136.7 249.1 L138.6 247.7 L140.4 246.2 L142.2 244.6 L144.0 243.0 L145.9 241.4 L147.7 239.6 L149.5 237.8 L151.3 236.0 L153.2 234.1 L155.0 232.2 L156.8 230.2 L158.6 228.2 L160.4 226.1 L162.3 224.0 L164.1 221.9 L165.9 219.8 L167.7 217.7 L169.6 215.5 L171.4 213.3 L173.2 211.2 L175.0 209.0 L176.9 206.9 L178.7 204.7 L180.5 202.6 L182.3 200.5 L184.2 198.5 L186.0 196.4 L187.8 194.4 L189.6 192.5 L191.5 190.6 L193.3 188.7 L195.1 186.9 L196.9 185.1 L198.8 183.4 L200.6 181.7 L202.4 180.1 L204.2 178.6 L206.1 177.1 L207.9 175.7 L209.7 174.4 L211.5 173.1 L213.4 171.9 L215.2 170.7 L217.0 169.7 L218.8 168.7 L220.7 167.7 L222.5 166.9 L224.3 166.1 L226.1 165.4 L228.0 164.7 L229.8 164.2 L231.6 163.7 L233.4 163.3 L235.3 162.9 L237.1 162.6 L238.9 162.4 L240.7 162.3 L242.6 162.3 L244.4 162.3 L246.2 162.4 L248.0 162.5 L249.9 162.8 L251.7 163.1 L253.5 163.5 L255.3 163.9 L257.2 164.5 L259.0 165.1 L260.8 165.7 L262.6 166.5 L264.5 167.3 L266.3 168.2 L268.1 169.2 L269.9 170.2 L271.8 171.3 L273.6 172.5 L275.4 173.7 L277.2 175.0 L279.1 176.4 L280.9 177.9 L282.7 179.4 L284.5 180.9 L286.4 182.6 L288.2 184.2 L290.0 186.0 L291.8 187.8 L293.6 189.6 L295.5 191.5 L297.3 193.5 L299.1 195.4 L300.9 197.5 L302.8 199.5 L304.6 201.6 L306.4 203.7 L308.2 205.8 L310.1 208.0 L311.9 210.1 L313.7 212.3 L315.5 214.4 L317.4 216.6 L319.2 218.7 L321.0 220.9 L322.8 223.0 L324.7 225.1 L326.5 227.2 L328.3 229.2 L330.1 231.2 L332.0 233.1 L333.8 235.1 L335.6 236.9 L337.4 238.7 L339.3 240.5 L341.1 242.2 L342.9 243.8 L344.7 245.4 L346.6 247.0 L348.4 248.4" fill="none" stroke="#e41a1c" stroke-width="2.0" stroke-linejoin="round"/>
<path d="M129.4 252.0 L131.3 250.7 L133.1 249.3 L134.9 247.9 L136.7 246.4 L138.6 244.8 L140.4 243.1 L142.2 241.4 L144.0 239.7 L145.9 237.8 L147.7 235.9 L149.5 234.0 L151.3 232.0 L153.2 230.0 L155.0 227.9 L156.8 225.8 L158.6 223.6 L160.4 221.4 L162.3 219.2 L164.1 217.0 L165.9 214.7 L167.7 212.5 L169.6 210.2 L171.4 207.9 L173.2 205.7 L175.0 203.4 L176.9 201.2 L178.7 199.0 L180.5 196.8 L182.3 194.7 L184.2 192.5 L186.0 190.4 L187.8 188.4 L189.6 186.4 L191.5 184.5 L193.3 182.6 L195.1 180.7 L196.9 178.9 L198.8 177.2 L200.6 175.5 L202.4 173.9 L204.2 172.4 L206.1 170.9 L207.9 169.5 L209.7 168.1 L211.5 166.9 L213.4 165.6 L215.2 164.5 L217.0 163.4 L218.8 162.5 L220.7 161.5 L222.5 160.7 L224.3 159.9 L226.1 159.2 L228.0 158.6 L229.8 158.0 L231.6 157.5 L233.4 157.1 L235.3 156.7 L237.1 156.5 L238.9 156.3 L240.7 156.1 L242.6 156.1 L244.4 156.1 L246.2 156.2 L248.0 156.4 L249.9 156.6 L251.7 156.9 L253.5 157.3 L255.3 157.7 L257.2 158.3 L259.0 158.9 L260.8 159.5 L262.6 160.3 L264.5 161.1 L266.3 162.0 L268.1 162.9 L269.9 164.0 L271.8 165.1 L273.6 166.2 L275.4 167.5 L277.2 168.8 L279.1 170.2 L280.9 171.6 L282.7 173.1 L284.5 174.7 L286.4 176.3 L288.2 178.0 L290.0 179.8 L291.8 181.6 L293.6 183.5 L295.5 185.4 L297.3 187.4 L299.1 189.4 L300.9 191.5 L302.8 193.6 L304.6 195.7 L306.4 197.9 L308.2 200.1 L310.1 202.3 L311.9 204.6 L313.7 206.8 L315.5 209.1 L317.4 211.3 L319.2 213.6 L321.0 215.8 L322.8 218.1 L324.7 220.3 L326.5 222.5 L328.3 224.7 L330.1 226.8 L332.0 228.9 L333.8 231.0 L335.6 233.0 L337.4 235.0 L339.3 236.9 L341.1 238.7 L342.9 240.5 L344.7 242.3 L346.6 244.0 L348.4 245.6" fill="none" stroke="#e41a1c" stroke-width="2.0" stroke-dasharray="12.5 4.3" stroke-linejoin="round"/>
<path d="M129.4 153.9V169.7M156.8 173.6V179.6M184.2 89.0V93.0M211.5 90.9V95.9M238.9 119.2V127.2M266.3 142.3V151.7M293.6 135.8V148.8M321.0 112.3V135.1" stroke="#000" stroke-width="1.6" fill="none"/>
<circle cx="129.4" cy="161.8" r="3.3" fill="#000"/>
<circle cx="156.8" cy="176.6" r="3.3" fill="#000"/>
<circle cx="184.2" cy="91.0" r="3.3" fill="#000"/>
<circle cx="211.5" cy="93.4" r="3.3" fill="#000"/>
<circle cx="238.9" cy="123.2" r="3.3" fill="#000"/>
<circle cx="266.3" cy="147.0" r="3.3" fill="#000"/>
<circle cx="293.6" cy="142.3" r="3.3" fill="#000"/>
<circle cx="321.0" cy="123.7" r="3.3" fill="#000"/>
<path d="M76.7 53.3H96.9" stroke="#000000" stroke-width="1.8" fill="none"/>
<text x="109.5" y="58.1" font-size="14">Inter = 0.5</text>
<path d="M76.7 70.4H89.4M94.1 70.4H96.8" stroke="#000000" stroke-width="1.8" fill="none"/>
<text x="109.5" y="75.2" font-size="14">Inter = 0.25</text>
<path d="M76.7 87.5H96.9" stroke="#4a8fca" stroke-width="1.8" fill="none"/>
<text x="109.5" y="92.3" font-size="14">WB = -20</text>
<path d="M76.7 104.6H96.9" stroke="#000000" stroke-width="1.8" fill="none"/>
<text x="109.5" y="109.4" font-size="14">WB = -30</text>
<path d="M76.7 121.7H96.9" stroke="#e41a1c" stroke-width="1.8" fill="none"/>
<text x="109.5" y="126.5" font-size="14">WB = -40</text>
</g>
<g clip-path="url(#c12)">
<path d="M407.4 74.5h0M407.4 76.5h0M407.4 82.5h0M407.4 84.5h0M407.4 86.5h0M407.4 90.5h0M407.4 92.5h0M407.4 96.5h0M407.4 100.5h0M407.4 102.5h0M407.4 104.5h0M407.4 106.5h0M407.4 108.5h0M407.4 110.5h0M407.4 114.5h0M407.4 116.5h0M407.4 118.5h0M407.4 120.5h0M407.4 124.5h0M407.4 126.5h0M407.4 128.5h0M407.4 130.5h0M407.4 132.5h0M407.4 134.5h0M407.4 136.5h0M407.4 138.5h0M407.4 140.5h0M407.4 144.5h0M407.4 148.5h0M407.4 167.0h0M407.4 169.0h0M407.4 171.0h0M407.4 175.0h0M407.4 177.0h0M407.4 179.0h0M407.4 181.0h0M407.4 183.0h0M407.4 185.0h0M407.4 187.0h0M407.4 189.0h0M407.4 191.0h0M407.4 193.0h0M407.4 195.0h0M407.4 197.0h0M407.4 199.0h0M407.4 201.0h0M407.4 203.0h0M407.4 205.0h0M407.4 209.0h0M407.4 211.0h0M407.4 213.0h0M407.4 215.0h0M407.4 217.0h0M407.4 219.0h0M407.4 221.0h0M407.4 223.0h0M407.4 225.0h0M407.4 229.0h0M407.4 231.0h0M407.4 233.0h0M407.4 235.0h0M407.4 237.0h0M407.4 239.0h0M407.4 241.0h0M407.4 245.0h0M431.6 106.2h0M431.6 212.2h0M431.6 84.1h0M431.6 216.8h0M431.6 88.1h0M431.6 136.6h0M431.6 224.9h0M431.6 216.4h0M431.6 227.4h0M431.6 134.3h0M431.6 89.4h0M431.6 138.0h0M431.6 135.4h0M431.6 196.8h0M431.6 88.0h0M431.6 93.1h0M431.6 188.3h0M431.6 145.8h0M448.8 159.3h0M448.8 79.8h0M448.8 111.5h0M448.8 213.8h0M448.8 95.8h0M448.8 131.1h0M448.8 126.9h0M448.8 116.8h0M448.8 134.3h0M448.8 125.4h0M448.8 95.0h0M448.8 183.8h0M448.8 104.5h0M448.8 131.3h0M448.8 126.0h0M448.8 81.8h0M448.8 223.8h0M448.8 90.9h0M462.1 78.2h0M462.1 78.8h0M462.1 163.4h0M462.1 128.6h0M462.1 215.2h0M462.1 194.1h0M462.1 76.9h0M462.1 182.3h0M462.1 177.9h0M462.1 144.0h0M462.1 88.5h0M462.1 134.6h0M462.1 86.8h0M462.1 127.6h0M462.1 105.5h0M462.1 129.0h0M462.1 109.1h0M462.1 81.0h0M473.0 110.1h0M473.0 149.4h0M473.0 94.8h0M473.0 99.0h0M473.0 74.0h0M473.0 209.3h0M473.0 185.8h0M473.0 79.2h0M473.0 148.6h0M473.0 168.8h0M473.0 71.9h0M473.0 128.3h0M473.0 126.5h0M473.0 163.0h0M473.0 123.6h0M473.0 219.4h0M473.0 164.5h0M473.0 120.8h0M482.2 97.1h0M482.2 71.2h0M482.2 128.9h0M482.2 187.2h0M482.2 216.4h0M482.2 74.4h0M482.2 116.9h0M482.2 172.6h0M482.2 76.1h0M482.2 88.6h0M482.2 103.4h0M482.2 153.5h0M482.2 115.1h0M482.2 138.3h0M482.2 212.1h0M482.2 90.8h0M482.2 93.6h0M482.2 117.9h0M490.2 206.6h0M490.2 114.2h0M490.2 205.2h0M490.2 103.5h0M490.2 85.7h0M490.2 133.9h0M490.2 113.3h0M490.2 90.7h0M490.2 192.1h0M490.2 77.8h0M490.2 150.0h0M490.2 89.2h0M490.2 145.4h0M490.2 209.2h0M490.2 133.2h0M490.2 99.0h0M490.2 119.2h0M490.2 113.3h0M503.5 114.1h0M503.5 209.9h0M503.5 88.4h0M503.5 184.4h0M503.5 88.1h0M503.5 195.7h0M503.5 187.6h0M503.5 111.2h0M503.5 70.6h0M503.5 164.5h0M503.5 118.0h0M503.5 116.5h0M503.5 82.2h0M503.5 102.2h0M503.5 76.5h0M503.5 91.2h0M503.5 140.4h0M503.5 96.4h0M514.4 71.3h0M514.4 79.0h0M514.4 156.0h0M514.4 73.8h0M514.4 142.4h0M514.4 109.7h0M514.4 193.4h0M514.4 84.3h0M514.4 103.9h0M514.4 123.9h0M514.4 111.9h0M514.4 128.7h0M514.4 109.4h0M514.4 78.8h0M514.4 103.7h0M514.4 199.2h0M514.4 180.1h0M514.4 175.8h0M523.7 99.6h0M523.7 67.1h0M523.7 118.1h0M523.7 123.9h0M523.7 105.9h0M523.7 74.7h0M523.7 127.2h0M523.7 70.1h0M523.7 109.9h0M523.7 129.4h0M523.7 66.9h0M523.7 82.4h0M523.7 106.1h0M523.7 106.6h0M523.7 67.2h0M523.7 89.5h0M523.7 193.8h0M523.7 96.4h0M531.6 107.2h0M531.6 111.6h0M531.6 178.0h0M531.6 102.1h0M531.6 194.8h0M531.6 145.9h0M531.6 131.4h0M531.6 67.9h0M531.6 87.1h0M531.6 155.1h0M531.6 85.1h0M531.6 170.4h0M531.6 81.1h0M531.6 207.0h0M531.6 132.6h0M531.6 93.9h0M531.6 123.0h0M531.6 65.6h0M538.7 149.1h0M538.7 68.3h0M538.7 158.6h0M538.7 74.7h0M538.7 74.0h0M538.7 116.8h0M538.7 139.2h0M538.7 106.9h0M538.7 71.5h0M538.7 117.7h0M538.7 104.2h0M538.7 69.3h0M538.7 107.2h0M538.7 203.3h0M538.7 80.8h0M538.7 199.3h0M538.7 64.1h0M538.7 71.6h0M545.0 108.4h0M545.0 89.3h0M545.0 167.1h0M545.0 99.4h0M545.0 89.6h0M545.0 70.0h0M545.0 180.6h0M545.0 104.9h0M545.0 73.3h0M545.0 154.1h0M545.0 180.4h0M545.0 76.5h0M545.0 75.6h0M545.0 160.7h0M545.0 120.9h0M545.0 128.3h0M545.0 88.1h0M545.0 129.5h0M550.7 92.9h0M550.7 203.7h0M550.7 108.9h0M550.7 177.4h0M550.7 126.1h0M550.7 195.1h0M550.7 105.0h0M550.7 91.2h0M550.7 124.4h0M550.7 174.9h0M550.7 64.7h0M550.7 176.3h0M550.7 198.9h0M550.7 97.8h0M550.7 64.7h0M550.7 70.0h0M550.7 148.1h0M550.7 76.0h0M555.9 82.8h0M555.9 69.5h0M555.9 94.4h0M555.9 90.3h0M555.9 65.4h0M555.9 104.9h0M555.9 64.0h0M555.9 94.1h0M555.9 105.8h0M555.9 171.8h0M555.9 69.8h0M555.9 121.7h0M555.9 157.4h0M555.9 111.1h0M555.9 155.1h0M555.9 185.5h0M555.9 137.0h0M555.9 189.7h0M640.3 165.3h0M619.1 78.5h0M666.4 65.6h0M589.5 134.5h0M665.5 71.8h0M597.6 110.8h0M644.0 99.6h0M595.4 77.3h0M668.3 87.7h0M674.0 103.4h0M614.0 123.0h0M560.3 169.8h0M677.4 141.5h0M656.2 123.1h0M591.0 146.4h0M678.9 67.1h0M626.3 117.3h0M617.8 132.5h0M623.4 86.6h0M566.6 75.5h0M668.4 58.5h0M597.3 80.5h0M662.9 145.4h0M607.5 71.4h0M547.8 84.7h0M622.5 73.1h0M543.1 86.7h0M615.9 60.9h0M620.1 122.4h0M651.8 85.6h0M602.1 84.5h0M621.1 61.9h0M579.9 172.5h0M628.6 135.5h0M678.1 80.1h0M670.3 117.1h0M572.9 65.2h0M573.8 96.0h0M675.2 97.1h0M567.2 62.3h0M609.5 126.2h0M641.3 69.8h0M643.9 120.9h0M642.0 86.9h0M636.0 57.7h0M640.9 68.6h0M568.7 69.1h0M666.4 61.2h0M677.3 79.1h0M679.6 61.5h0M590.0 87.0h0M673.1 74.8h0M623.1 137.0h0M623.3 85.9h0M639.3 110.1h0M560.8 66.7h0M645.4 65.0h0M602.8 60.4h0M680.8 90.5h0M560.3 70.4h0M650.5 108.5h0M663.7 62.0h0M628.2 83.8h0M569.3 69.2h0M660.0 55.1h0M560.9 160.9h0M655.2 82.7h0M625.8 61.5h0M563.3 173.1h0M561.1 119.4h0M644.3 64.9h0M612.6 160.9h0M610.4 74.6h0M644.6 75.6h0M657.3 78.0h0M544.5 101.8h0M591.9 157.9h0M635.5 104.0h0M591.9 142.2h0M602.8 96.7h0M623.7 145.6h0M645.0 76.2h0M669.2 59.1h0M632.0 144.7h0M623.6 58.1h0M630.2 56.6h0M567.8 157.6h0M656.6 57.5h0M673.7 83.3h0M656.3 67.4h0M602.4 91.5h0M661.6 73.6h0M570.6 84.1h0M661.9 107.0h0M589.6 67.2h0M648.2 70.6h0M587.0 62.2h0M620.9 93.6h0M608.6 63.9h0M610.8 75.9h0M646.5 58.6h0M655.5 57.9h0M675.3 58.2h0M569.8 154.8h0M545.0 85.5h0M631.7 82.4h0M659.7 138.8h0M590.7 160.4h0M620.5 103.1h0M637.8 71.3h0M593.9 164.3h0M568.0 87.0h0M558.6 104.9h0M677.2 73.0h0M598.9 89.0h0M629.5 144.9h0M593.9 172.3h0M560.3 107.1h0M568.3 82.9h0M663.3 62.4h0M588.9 72.6h0M544.4 77.4h0M609.2 58.7h0M646.4 66.7h0M573.4 65.8h0M643.1 165.7h0M575.8 165.0h0M666.3 126.3h0M593.3 149.2h0M569.2 132.5h0M577.2 99.6h0M658.6 59.2h0M590.9 97.6h0M655.3 161.2h0M678.2 79.2h0M676.0 87.5h0M651.3 77.9h0M618.7 96.5h0M581.7 84.4h0M671.6 65.6h0M658.7 76.9h0M658.7 63.1h0M570.7 164.9h0M660.5 79.2h0M661.7 57.1h0M584.6 76.5h0M653.5 65.9h0M610.8 73.3h0M675.0 62.1h0M653.9 100.5h0M600.3 87.7h0M553.6 66.1h0M664.5 54.5h0M606.5 70.3h0M656.0 56.1h0M643.1 55.4h0M643.0 70.5h0M599.4 85.9h0M599.4 95.1h0M611.5 69.7h0M595.9 60.4h0M641.4 77.9h0M667.7 60.4h0M608.5 66.6h0M586.1 61.8h0M659.5 87.1h0M657.7 102.8h0M633.7 79.0h0M646.1 89.5h0M622.5 65.5h0M551.7 69.4h0M632.1 90.1h0M589.1 67.9h0M618.5 156.3h0M549.4 140.9h0M649.8 63.8h0M533.5 82.6h0M601.6 135.9h0M587.6 82.4h0M623.6 79.9h0M583.8 129.7h0M663.5 147.5h0M575.6 65.8h0M652.7 59.0h0M618.5 74.2h0M619.8 58.3h0M579.0 92.9h0M674.8 112.8h0M643.2 144.0h0M631.0 70.0h0M602.2 68.0h0M606.0 149.6h0M619.0 81.4h0M650.8 121.2h0M652.8 56.5h0M664.1 58.0h0M566.4 88.2h0M592.3 66.1h0M632.7 62.6h0M603.0 123.7h0M568.5 170.1h0M555.9 111.1h0M552.3 119.6h0M661.6 95.5h0M597.1 137.5h0M561.1 114.2h0M617.2 58.2h0M659.3 79.3h0M573.5 142.6h0M625.5 66.1h0M676.4 70.7h0M678.2 54.3h0M589.1 91.4h0M608.1 60.4h0M615.9 73.0h0M563.0 167.0h0M660.1 79.1h0M609.7 81.4h0M603.1 175.5h0M664.1 71.4h0M602.9 84.2h0M652.0 93.9h0M549.8 98.9h0M655.0 70.7h0M638.1 97.1h0M584.6 74.4h0M593.8 156.9h0M598.0 94.9h0M586.2 95.2h0M583.7 137.4h0M671.2 62.0h0M665.4 60.0h0M641.8 104.7h0M588.9 90.1h0M639.8 107.6h0M538.3 192.5h0M647.7 55.5h0M629.7 56.9h0M668.6 65.3h0M633.9 72.7h0M659.0 55.5h0M571.4 78.0h0M564.9 70.6h0M675.7 58.3h0M638.1 56.1h0M643.1 58.8h0M605.2 91.4h0M646.5 149.0h0M596.2 178.9h0M538.2 63.5h0M607.4 150.3h0M577.8 128.0h0M672.9 71.7h0M680.5 61.7h0M679.2 61.0h0M602.4 76.4h0M644.3 60.8h0M633.3 57.2h0M669.2 143.2h0M599.9 92.1h0M669.3 74.1h0M657.3 106.4h0M560.6 101.4h0M638.2 79.3h0M617.8 102.8h0M568.2 89.4h0M665.3 54.2h0M615.8 57.8h0M562.9 83.0h0M674.1 72.9h0M662.7 77.0h0M623.8 69.4h0M644.5 62.1h0M582.6 86.7h0M676.2 73.0h0M653.9 58.2h0M622.8 91.3h0M644.4 57.1h0M649.4 60.2h0M617.2 66.8h0M580.8 136.4h0M648.8 85.9h0M555.0 90.8h0M656.7 74.8h0M666.9 76.4h0M621.7 72.5h0M616.3 58.1h0M594.8 96.1h0M628.0 113.6h0M608.4 71.9h0M654.7 66.4h0M642.2 139.8h0M540.0 189.8h0M596.2 163.5h0M591.1 71.6h0M645.1 81.4h0M654.3 56.1h0M677.7 62.4h0M675.2 67.8h0M629.3 60.4h0" stroke="#bdbdbd" stroke-width="2.8" stroke-linecap="round" fill="none"/>
<path d="M426.5 119.2 L433.0 117.3 L439.5 115.5 L446.0 113.7 L452.4 111.9 L458.9 110.2 L465.4 108.4 L471.9 106.7 L478.4 105.1 L484.9 103.4 L491.4 101.8 L497.9 100.2 L504.3 98.7 L510.8 97.2 L517.3 95.7 L523.8 94.2 L530.3 92.8 L536.8 91.4 L543.3 90.0 L549.8 88.7 L556.3 87.4 L562.7 86.1 L569.2 84.8 L575.7 83.6 L582.2 82.4 L588.7 81.3 L595.2 80.2 L601.7 79.1 L608.2 78.0 L614.7 76.9 L621.1 75.9 L627.6 74.9 L634.1 74.0 L640.6 73.0 L647.1 72.1 L653.6 71.2 L660.1 70.4 L666.6 69.5 L673.0 68.7 L679.5 67.9 L686.0 67.2" fill="none" stroke="#4a8fca" stroke-width="2.0" stroke-dasharray="12.5 4.3" stroke-linejoin="round"/>
<path d="M426.5 144.5 L433.0 142.5 L439.5 140.4 L446.0 138.3 L452.4 136.3 L458.9 134.3 L465.4 132.2 L471.9 130.2 L478.4 128.3 L484.9 126.3 L491.4 124.4 L497.9 122.5 L504.3 120.6 L510.8 118.7 L517.3 116.8 L523.8 115.0 L530.3 113.2 L536.8 111.4 L543.3 109.7 L549.8 108.0 L556.3 106.3 L562.7 104.6 L569.2 103.0 L575.7 101.4 L582.2 99.8 L588.7 98.3 L595.2 96.8 L601.7 95.3 L608.2 93.8 L614.7 92.4 L621.1 91.0 L627.6 89.7 L634.1 88.3 L640.6 87.0 L647.1 85.8 L653.6 84.5 L660.1 83.3 L666.6 82.1 L673.0 81.0 L679.5 79.9 L686.0 78.8" fill="none" stroke="#4a8fca" stroke-width="2.0" stroke-linejoin="round"/>
<path d="M426.5 165.1 L433.0 163.0 L439.5 160.9 L446.0 158.8 L452.4 156.7 L458.9 154.6 L465.4 152.5 L471.9 150.4 L478.4 148.3 L484.9 146.2 L491.4 144.1 L497.9 142.1 L504.3 140.0 L510.8 137.9 L517.3 135.9 L523.8 133.9 L530.3 131.9 L536.8 129.9 L543.3 127.9 L549.8 125.9 L556.3 124.0 L562.7 122.1 L569.2 120.2 L575.7 118.3 L582.2 116.5 L588.7 114.7 L595.2 112.9 L601.7 111.1 L608.2 109.4 L614.7 107.7 L621.1 106.0 L627.6 104.3 L634.1 102.7 L640.6 101.1 L647.1 99.5 L653.6 98.0 L660.1 96.5 L666.6 95.0 L673.0 93.6 L679.5 92.1 L686.0 90.8" fill="none" stroke="#000000" stroke-width="2.0" stroke-dasharray="12.5 4.3" stroke-linejoin="round"/>
<path d="M426.5 191.8 L433.0 189.9 L439.5 187.9 L446.0 186.0 L452.4 184.0 L458.9 182.0 L465.4 180.0 L471.9 178.0 L478.4 175.9 L484.9 173.9 L491.4 171.8 L497.9 169.7 L504.3 167.6 L510.8 165.5 L517.3 163.4 L523.8 161.3 L530.3 159.2 L536.8 157.1 L543.3 155.0 L549.8 152.9 L556.3 150.8 L562.7 148.7 L569.2 146.6 L575.7 144.5 L582.2 142.4 L588.7 140.4 L595.2 138.3 L601.7 136.3 L608.2 134.2 L614.7 132.2 L621.1 130.2 L627.6 128.3 L634.1 126.3 L640.6 124.4 L647.1 122.4 L653.6 120.5 L660.1 118.7 L666.6 116.8 L673.0 115.0 L679.5 113.2 L686.0 111.4" fill="none" stroke="#000000" stroke-width="2.0" stroke-linejoin="round"/>
<path d="M426.5 208.1 L433.0 206.4 L439.5 204.7 L446.0 203.0 L452.4 201.2 L458.9 199.4 L465.4 197.6 L471.9 195.7 L478.4 193.9 L484.9 192.0 L491.4 190.0 L497.9 188.1 L504.3 186.1 L510.8 184.2 L517.3 182.2 L523.8 180.2 L530.3 178.1 L536.8 176.1 L543.3 174.0 L549.8 172.0 L556.3 169.9 L562.7 167.8 L569.2 165.7 L575.7 163.6 L582.2 161.5 L588.7 159.4 L595.2 157.3 L601.7 155.2 L608.2 153.1 L614.7 151.0 L621.1 148.9 L627.6 146.8 L634.1 144.7 L640.6 142.6 L647.1 140.6 L653.6 138.5 L660.1 136.5 L666.6 134.4 L673.0 132.4 L679.5 130.4 L686.0 128.4" fill="none" stroke="#e41a1c" stroke-width="2.0" stroke-dasharray="12.5 4.3" stroke-linejoin="round"/>
<path d="M426.5 228.0 L433.0 226.7 L439.5 225.4 L446.0 224.0 L452.4 222.7 L458.9 221.2 L465.4 219.8 L471.9 218.4 L478.4 216.9 L484.9 215.3 L491.4 213.8 L497.9 212.2 L504.3 210.6 L510.8 208.9 L517.3 207.3 L523.8 205.6 L530.3 203.8 L536.8 202.1 L543.3 200.3 L549.8 198.5 L556.3 196.7 L562.7 194.8 L569.2 192.9 L575.7 191.0 L582.2 189.1 L588.7 187.1 L595.2 185.2 L601.7 183.2 L608.2 181.2 L614.7 179.2 L621.1 177.1 L627.6 175.1 L634.1 173.0 L640.6 170.9 L647.1 168.9 L653.6 166.8 L660.1 164.7 L666.6 162.6 L673.0 160.5 L679.5 158.4 L686.0 156.3" fill="none" stroke="#e41a1c" stroke-width="2.0" stroke-linejoin="round"/>
<path d="M426.5 135.2V155.3M456.5 81.3V120.7M487.3 115.3V143.3M517.3 77.0V100.6M547.7 84.2V108.4M577.8 89.2V110.7M608.5 98.2V118.6M639.2 80.2V101.0" stroke="#000" stroke-width="1.6" fill="none"/>
<circle cx="426.5" cy="145.2" r="3.3" fill="#000"/>
<circle cx="456.5" cy="100.8" r="3.3" fill="#000"/>
<circle cx="487.3" cy="128.9" r="3.3" fill="#000"/>
<circle cx="517.3" cy="89.4" r="3.3" fill="#000"/>
<circle cx="547.7" cy="96.3" r="3.3" fill="#000"/>
<circle cx="577.8" cy="99.5" r="3.3" fill="#000"/>
<circle cx="608.5" cy="108.7" r="3.3" fill="#000"/>
<circle cx="639.2" cy="90.3" r="3.3" fill="#000"/>
</g>
<g clip-path="url(#c21)">
<path d="M112.2 516.7h0M112.2 507.4h0M112.2 453.3h0M134.4 511.1h0M134.4 508.3h0M134.4 499.8h0M134.4 497.0h0M134.4 473.7h0M134.4 460.2h0M134.4 446.7h0M134.4 443.3h0M134.4 439.9h0M134.4 423.0h0M134.4 419.6h0M150.1 522.4h0M150.1 519.6h0M150.1 511.1h0M150.1 505.5h0M150.1 499.8h0M150.1 497.0h0M150.1 494.2h0M150.1 483.0h0M150.1 478.6h0M150.1 471.9h0M150.1 461.7h0M150.1 448.2h0M150.1 444.9h0M150.1 431.3h0M150.1 424.6h0M150.1 411.1h0M150.1 400.9h0M150.1 397.6h0M162.4 522.4h0M162.4 516.7h0M162.4 511.1h0M162.4 508.3h0M162.4 505.5h0M162.4 499.8h0M162.4 494.2h0M162.4 491.4h0M162.4 488.6h0M162.4 485.8h0M162.4 483.0h0M162.4 480.1h0M162.4 472.8h0M162.4 459.2h0M162.4 455.9h0M162.4 449.1h0M162.4 442.4h0M162.4 435.6h0M162.4 428.8h0M162.4 425.5h0M162.4 422.1h0M162.4 415.3h0M162.4 411.9h0M162.4 405.2h0M162.4 401.8h0M162.4 398.4h0M172.3 522.4h0M172.3 519.6h0M172.3 516.7h0M172.3 513.9h0M172.3 511.1h0M172.3 508.3h0M172.3 505.5h0M172.3 497.0h0M172.3 494.2h0M172.3 491.4h0M172.3 488.6h0M172.3 483.0h0M172.3 480.1h0M172.3 474.5h0M172.3 471.7h0M172.3 468.9h0M172.3 465.2h0M172.3 461.8h0M172.3 458.4h0M172.3 451.7h0M172.3 448.3h0M172.3 444.9h0M172.3 438.2h0M172.3 434.8h0M172.3 431.4h0M172.3 428.0h0M172.3 424.7h0M172.3 421.3h0M172.3 407.8h0M172.3 404.4h0M172.3 401.0h0M172.3 397.6h0M172.3 394.2h0M172.3 390.9h0M172.3 384.1h0M172.3 380.7h0M180.8 522.4h0M180.8 519.6h0M180.8 516.7h0M180.8 511.1h0M180.8 508.3h0M180.8 505.5h0M180.8 502.7h0M180.8 499.8h0M180.8 497.0h0M180.8 494.2h0M180.8 491.4h0M180.8 488.6h0M180.8 485.8h0M180.8 483.0h0M180.8 480.1h0M180.8 474.5h0M180.8 471.7h0M180.8 468.9h0M180.8 466.1h0M180.8 463.3h0M180.8 460.4h0M180.8 458.8h0M180.8 455.4h0M180.8 448.7h0M180.8 445.3h0M180.8 441.9h0M180.8 438.5h0M180.8 435.1h0M180.8 431.8h0M180.8 425.0h0M180.8 421.6h0M180.8 418.3h0M180.8 414.9h0M180.8 411.5h0M180.8 408.1h0M180.8 404.7h0M180.8 401.4h0M180.8 398.0h0M180.8 394.6h0M180.8 391.2h0M180.8 384.5h0M180.8 381.1h0M188.1 522.4h0M188.1 519.6h0M188.1 516.7h0M188.1 513.9h0M188.1 508.3h0M188.1 502.7h0M188.1 499.8h0M188.1 497.0h0M188.1 494.2h0M188.1 491.4h0M188.1 488.6h0M188.1 485.8h0M188.1 483.0h0M188.1 477.3h0M188.1 474.5h0M188.1 471.7h0M188.1 468.9h0M188.1 466.1h0M188.1 463.3h0M188.1 460.4h0M188.1 457.6h0M188.1 454.8h0M188.1 453.3h0M188.1 449.9h0M188.1 446.5h0M188.1 443.1h0M188.1 439.7h0M188.1 433.0h0M188.1 429.6h0M188.1 426.2h0M188.1 422.8h0M188.1 419.5h0M188.1 416.1h0M188.1 412.7h0M188.1 409.3h0M188.1 406.0h0M188.1 402.6h0M188.1 399.2h0M188.1 395.8h0M188.1 392.4h0M188.1 389.1h0M188.1 382.3h0M188.1 378.9h0M188.1 375.6h0M188.1 372.2h0M188.1 368.8h0M194.5 522.4h0M194.5 519.6h0M194.5 516.7h0M194.5 513.9h0M194.5 511.1h0M194.5 508.3h0M194.5 505.5h0M194.5 502.7h0M194.5 494.2h0M194.5 491.4h0M194.5 485.8h0M194.5 483.0h0M194.5 480.1h0M194.5 477.3h0M194.5 474.5h0M194.5 471.7h0M194.5 468.9h0M194.5 466.1h0M194.5 463.3h0M194.5 457.6h0M194.5 454.8h0M194.5 452.0h0M194.5 449.2h0M194.5 448.4h0M194.5 445.0h0M194.5 441.6h0M194.5 438.2h0M194.5 434.9h0M194.5 431.5h0M194.5 428.1h0M194.5 424.7h0M194.5 421.3h0M194.5 418.0h0M194.5 414.6h0M194.5 411.2h0M194.5 407.8h0M194.5 397.7h0M194.5 394.3h0M194.5 390.9h0M194.5 387.6h0M194.5 384.2h0M194.5 377.4h0M194.5 370.7h0M194.5 367.3h0M200.3 522.4h0M200.3 519.6h0M200.3 516.7h0M200.3 513.9h0M200.3 511.1h0M200.3 508.3h0M200.3 505.5h0M200.3 502.7h0M200.3 499.8h0M200.3 497.0h0M200.3 494.2h0M200.3 491.4h0M200.3 488.6h0M200.3 485.8h0M200.3 483.0h0M200.3 480.1h0M200.3 477.3h0M200.3 474.5h0M200.3 471.7h0M200.3 463.3h0M200.3 460.4h0M200.3 457.6h0M200.3 454.8h0M200.3 452.0h0M200.3 449.2h0M200.3 446.4h0M200.3 444.0h0M200.3 440.6h0M200.3 437.2h0M200.3 430.5h0M200.3 427.1h0M200.3 423.7h0M200.3 417.0h0M200.3 413.6h0M200.3 410.2h0M200.3 403.5h0M200.3 400.1h0M200.3 396.7h0M200.3 393.3h0M200.3 389.9h0M200.3 386.6h0M200.3 383.2h0M200.3 379.8h0M200.3 373.1h0M200.3 369.7h0M205.5 522.4h0M205.5 519.6h0M205.5 516.7h0M205.5 513.9h0M205.5 511.1h0M205.5 508.3h0M205.5 505.5h0M205.5 502.7h0M205.5 499.8h0M205.5 494.2h0M205.5 491.4h0M205.5 488.6h0M205.5 485.8h0M205.5 480.1h0M205.5 477.3h0M205.5 474.5h0M205.5 471.7h0M205.5 468.9h0M205.5 463.3h0M205.5 460.4h0M205.5 457.6h0M205.5 454.8h0M205.5 452.0h0M205.5 449.2h0M205.5 446.4h0M205.5 443.5h0M205.5 440.7h0M205.5 429.9h0M205.5 426.5h0M205.5 423.1h0M205.5 419.8h0M205.5 416.4h0M205.5 413.0h0M205.5 409.6h0M205.5 402.9h0M205.5 396.1h0M205.5 392.7h0M205.5 389.4h0M205.5 386.0h0M205.5 382.6h0M205.5 379.2h0M205.5 375.9h0M210.3 522.4h0M210.3 519.6h0M210.3 516.7h0M210.3 513.9h0M210.3 511.1h0M210.3 508.3h0M210.3 505.5h0M210.3 502.7h0M210.3 499.8h0M210.3 494.2h0M210.3 491.4h0M210.3 488.6h0M210.3 483.0h0M210.3 480.1h0M210.3 477.3h0M210.3 474.5h0M210.3 471.7h0M210.3 468.9h0M210.3 466.1h0M210.3 463.3h0M210.3 460.4h0M210.3 457.6h0M210.3 454.8h0M210.3 452.0h0M210.3 449.2h0M210.3 446.4h0M210.3 437.9h0M210.3 436.4h0M210.3 433.0h0M210.3 429.7h0M210.3 426.3h0M210.3 422.9h0M210.3 419.5h0M210.3 416.2h0M210.3 412.8h0M210.3 409.4h0M210.3 402.6h0M210.3 399.3h0M210.3 395.9h0M210.3 392.5h0M210.3 385.8h0M210.3 382.4h0M210.3 375.6h0M214.7 522.4h0M214.7 519.6h0M214.7 508.3h0M214.7 491.4h0M214.7 471.7h0M214.7 449.2h0M214.7 440.7h0M214.7 435.1h0M214.7 433.1h0M214.7 429.7h0M214.7 426.3h0M214.7 423.0h0M214.7 419.6h0M214.7 412.8h0M214.7 409.5h0M214.7 406.1h0M214.7 402.7h0M214.7 399.3h0M214.7 395.9h0M214.7 379.1h0M214.7 372.3h0M214.7 365.5h0M218.7 513.9h0M218.7 494.2h0M218.7 485.8h0M218.7 477.3h0M218.7 474.5h0M218.7 468.9h0M218.7 457.6h0M218.7 430.0h0M218.7 426.7h0M218.7 423.3h0M218.7 413.1h0M218.7 409.8h0M218.7 406.4h0M218.7 403.0h0M218.7 399.6h0M218.7 396.3h0M218.7 389.5h0M218.7 379.4h0M218.7 376.0h0M218.7 372.6h0M218.7 369.2h0M218.7 365.8h0M222.5 519.6h0M222.5 511.1h0M222.5 488.6h0M222.5 483.0h0M222.5 480.1h0M222.5 474.5h0M222.5 466.1h0M222.5 457.6h0M222.5 452.0h0M222.5 449.2h0M222.5 446.4h0M222.5 443.5h0M222.5 432.3h0M222.5 427.2h0M222.5 420.4h0M222.5 417.0h0M222.5 410.3h0M222.5 406.9h0M222.5 400.1h0M222.5 396.8h0M222.5 383.3h0M222.5 373.1h0M222.5 369.7h0M222.5 366.4h0M222.5 359.6h0M222.5 356.2h0M226.0 519.6h0M226.0 513.9h0M226.0 511.1h0M226.0 494.2h0M226.0 491.4h0M226.0 485.8h0M226.0 480.1h0M226.0 474.5h0M226.0 471.7h0M226.0 468.9h0M226.0 457.6h0M226.0 452.0h0M226.0 449.2h0M226.0 443.5h0M226.0 432.3h0M226.0 417.7h0M226.0 414.4h0M226.0 407.6h0M226.0 404.2h0M226.0 397.5h0M226.0 387.3h0M226.0 384.0h0M226.0 377.2h0M226.0 373.8h0M226.0 370.4h0M226.0 367.1h0M226.0 360.3h0M229.3 522.4h0M229.3 505.5h0M229.3 480.1h0M229.3 454.8h0M229.3 432.3h0M229.3 422.0h0M229.3 411.8h0M229.3 408.5h0M229.3 401.7h0M229.3 398.3h0M229.3 391.6h0M229.3 381.4h0M229.3 378.1h0M229.3 367.9h0M229.3 361.2h0M229.3 357.8h0M229.3 354.4h0M232.5 480.1h0M232.5 477.3h0M232.5 452.0h0M232.5 426.7h0M232.5 421.0h0M232.5 419.6h0M232.5 416.2h0M232.5 409.5h0M232.5 399.3h0M232.5 392.6h0M232.5 389.2h0M232.5 385.8h0M232.5 368.9h0M235.4 494.2h0M235.4 491.4h0M235.4 463.3h0M235.4 454.8h0M235.4 449.2h0M235.4 435.1h0M235.4 426.7h0M235.4 421.0h0M235.4 417.4h0M235.4 414.0h0M235.4 410.6h0M235.4 400.5h0M235.4 387.0h0M235.4 373.4h0M235.4 366.7h0M235.4 363.3h0M238.2 513.9h0M238.2 494.2h0M238.2 466.1h0M238.2 463.3h0M238.2 429.5h0M238.2 421.0h0M238.2 418.2h0M238.2 411.9h0M238.2 408.5h0M238.2 401.7h0M238.2 395.0h0M238.2 351.0h0M240.9 502.7h0M240.9 488.6h0M240.9 485.8h0M240.9 483.0h0M240.9 460.4h0M240.9 446.4h0M240.9 435.1h0M240.9 413.2h0M240.9 403.1h0M240.9 399.7h0M240.9 396.3h0M240.9 392.9h0M240.9 382.8h0M240.9 379.4h0M240.9 369.3h0M240.9 352.4h0M243.5 516.7h0M243.5 497.0h0M243.5 494.2h0M243.5 446.4h0M243.5 440.7h0M243.5 437.9h0M243.5 407.9h0M243.5 394.4h0M243.5 391.0h0M243.5 374.1h0M243.5 367.4h0M243.5 364.0h0M243.5 357.2h0M243.5 353.9h0M180.9 528.0h0M180.9 536.2h0M188.0 529.4h0M194.6 537.9h0M316.7 336.0h0M344.9 325.3h0M321.5 322.5h0M277.3 407.7h0M348.2 340.4h0M249.1 363.4h0M297.2 322.6h0M250.4 370.7h0M267.8 366.8h0M291.3 367.5h0M340.3 333.2h0M253.5 403.5h0M287.7 403.3h0M246.2 378.0h0M313.2 350.0h0M287.8 414.2h0M337.9 325.3h0M265.6 359.3h0M322.9 348.4h0M293.4 354.0h0M297.9 349.2h0M281.9 378.3h0M309.8 324.1h0M256.2 375.0h0M264.0 373.5h0M313.6 314.7h0M313.6 330.1h0M266.0 343.7h0M280.8 363.1h0M278.5 383.9h0M286.4 417.5h0M332.2 324.6h0M244.3 379.6h0M282.6 342.5h0M262.9 353.2h0M276.8 456.4h0M259.1 377.5h0M263.8 357.9h0M269.0 374.2h0M303.4 356.9h0M332.3 331.9h0M309.0 332.4h0M324.4 330.1h0M327.3 340.4h0M339.7 322.2h0M246.7 397.2h0M247.6 375.2h0M246.5 409.1h0M272.9 344.1h0M313.1 355.5h0M327.9 332.1h0M242.5 400.2h0M316.2 340.2h0M264.9 359.2h0M329.8 362.7h0M324.4 350.6h0M281.7 377.2h0M290.1 342.7h0M282.1 372.7h0M313.1 350.5h0M343.6 326.1h0M266.7 445.9h0M319.3 338.2h0M277.0 384.7h0M348.7 331.9h0M249.4 453.3h0M343.4 322.9h0M258.0 360.0h0M301.1 372.1h0M284.9 357.0h0M261.5 351.3h0M286.2 367.1h0M267.8 362.1h0M261.1 363.3h0M276.7 346.2h0M322.3 386.3h0M274.4 464.3h0M278.1 408.9h0M267.4 426.5h0M276.9 362.6h0M296.1 434.4h0M335.5 340.1h0M253.5 371.0h0M331.8 346.4h0M250.3 376.9h0M316.5 372.1h0M264.0 482.8h0M285.3 443.8h0M330.4 356.6h0M294.5 338.6h0M338.4 330.3h0M270.7 355.3h0M252.5 398.4h0M328.5 353.0h0M280.4 362.8h0M314.1 355.6h0M282.8 415.2h0M278.4 376.7h0M281.6 355.7h0M300.7 375.4h0M294.8 356.7h0M252.8 436.5h0M307.4 398.0h0M250.3 406.2h0M319.4 319.3h0M284.6 432.8h0M295.6 345.4h0M302.4 446.3h0M322.1 318.8h0M254.5 399.3h0M305.2 313.4h0M283.4 344.8h0M339.7 324.3h0M283.2 346.8h0M241.9 377.8h0M300.6 326.6h0M276.2 351.5h0M295.7 401.0h0M277.8 380.8h0M287.1 328.5h0M306.5 425.9h0M319.2 341.0h0M285.9 361.8h0M270.2 356.5h0M248.8 395.0h0M273.8 354.3h0M268.1 344.9h0M292.2 442.6h0M304.0 350.2h0M283.1 345.4h0M277.2 341.3h0M309.6 331.4h0M333.4 330.3h0M277.1 372.4h0M299.8 404.7h0M282.3 396.0h0M299.1 364.0h0M312.8 329.0h0M276.6 363.9h0M319.0 346.8h0M298.0 326.5h0M310.1 352.8h0M246.8 371.9h0M243.2 372.0h0M316.5 336.1h0M324.9 386.9h0M292.6 364.5h0M289.8 325.1h0M303.5 344.2h0M306.4 362.2h0M273.2 343.9h0M287.1 347.4h0M252.9 364.1h0M260.0 384.3h0M328.1 316.1h0M276.2 364.1h0M265.0 422.8h0M307.0 331.5h0M297.0 355.4h0M255.1 383.4h0M304.0 357.1h0M313.0 318.6h0M348.8 326.3h0M332.1 341.0h0M307.8 327.0h0M274.5 383.5h0M243.1 437.1h0M294.8 342.9h0M302.9 366.8h0M264.5 467.1h0M341.0 321.7h0M268.2 368.4h0M257.8 374.7h0M312.7 356.6h0M326.0 362.4h0M244.0 371.0h0M315.1 392.3h0M244.8 418.0h0M262.0 363.3h0M339.6 333.0h0M330.0 357.3h0M340.3 359.2h0M343.5 318.5h0M252.9 379.2h0M264.1 368.5h0M260.4 361.8h0M328.7 400.1h0M254.6 405.2h0M301.9 344.8h0M316.8 327.2h0M259.9 436.8h0M311.5 339.5h0M327.2 331.2h0M297.2 421.6h0M331.9 324.6h0M259.6 379.1h0M315.1 346.3h0M254.5 390.8h0M266.0 337.9h0M288.4 340.3h0M343.5 340.2h0M299.3 340.9h0M300.9 351.0h0M288.4 364.9h0M267.3 341.7h0M328.1 339.2h0M328.0 345.4h0M303.1 368.9h0M276.6 357.1h0M292.4 338.0h0M261.8 370.6h0M324.4 318.5h0M296.2 355.7h0M290.5 376.7h0M274.4 417.3h0M276.4 344.6h0M249.8 428.8h0M311.3 383.5h0M333.9 337.7h0M266.2 383.2h0M257.0 378.2h0M283.6 394.9h0M257.5 358.9h0M258.2 373.3h0M332.8 341.0h0M318.3 367.5h0M321.8 332.6h0M327.7 320.3h0M255.1 374.0h0M321.3 336.8h0M247.4 387.7h0M294.7 354.1h0M286.7 342.8h0M319.8 400.8h0M286.9 360.7h0M334.3 323.9h0M256.0 486.0h0M251.2 464.0h0M317.0 349.6h0M295.8 366.6h0M247.8 384.5h0M312.1 360.0h0M318.1 359.5h0M275.3 348.6h0M300.2 359.8h0M303.7 323.3h0M253.5 356.1h0M306.6 365.3h0M313.5 351.6h0M246.5 394.2h0M291.8 422.7h0M310.3 330.7h0M323.7 350.0h0M303.4 342.9h0M303.5 362.5h0M308.1 348.8h0M263.5 364.9h0M244.6 448.4h0M260.5 364.3h0M305.6 355.4h0M280.3 437.3h0M335.7 318.3h0M327.8 405.2h0M292.9 382.0h0M275.7 406.9h0M282.1 354.6h0M272.9 349.6h0M273.1 420.4h0M304.1 347.0h0M263.9 368.6h0M279.6 350.8h0M317.5 358.8h0M275.5 346.4h0M287.4 373.1h0M248.3 381.4h0M327.3 334.2h0M320.0 337.4h0M248.4 368.6h0M279.9 353.9h0M311.6 315.7h0M287.3 335.8h0M340.8 322.9h0M318.1 326.1h0M262.9 367.7h0M336.2 358.5h0M325.7 340.5h0M260.7 345.3h0M259.5 357.4h0M314.0 354.6h0M271.8 352.7h0M253.1 388.7h0M277.5 370.5h0M290.2 351.6h0M274.0 419.1h0M279.5 381.1h0M313.9 329.0h0M350.8 388.1h0M303.2 379.5h0M284.6 409.3h0M283.5 348.3h0M286.6 370.7h0M265.3 342.2h0M338.0 342.3h0M268.9 373.1h0M285.9 361.9h0M256.0 347.6h0M331.3 324.9h0M302.5 351.7h0M339.1 340.7h0M296.2 329.4h0M277.9 344.3h0M301.8 404.4h0M272.3 370.0h0M258.3 381.7h0M252.0 377.6h0M330.1 331.8h0M252.4 391.9h0M281.8 373.4h0M264.4 386.9h0M273.2 350.1h0M247.4 435.1h0M327.7 324.0h0M303.7 341.9h0M275.7 346.1h0M345.9 411.0h0M337.1 328.3h0M272.7 404.8h0M260.7 369.5h0M255.0 380.7h0M268.7 346.0h0M332.5 370.1h0M283.1 359.1h0M308.8 342.3h0M327.4 368.6h0M291.2 363.6h0M283.6 358.0h0M311.1 338.3h0M290.1 320.0h0M255.9 381.4h0M302.8 376.8h0M289.7 367.2h0M290.8 428.8h0M272.5 352.7h0M304.1 338.3h0M246.1 368.1h0M315.5 338.2h0M288.0 410.5h0M312.2 363.5h0M263.2 369.1h0M295.7 360.5h0M322.4 313.9h0M283.6 419.3h0M273.3 373.5h0M324.3 348.4h0M289.9 385.6h0M318.3 389.6h0M280.5 341.5h0M321.7 395.3h0M265.1 364.7h0M299.0 343.0h0M243.0 377.2h0M251.9 399.5h0M312.8 350.1h0M261.7 388.7h0M277.5 346.9h0M268.5 350.0h0M250.5 356.3h0M303.1 328.7h0M250.2 394.9h0M308.9 351.5h0M330.8 398.5h0M280.3 357.6h0M288.7 410.7h0M289.2 319.9h0M305.8 353.8h0M282.0 360.5h0M267.1 372.6h0M256.6 388.4h0M256.4 394.6h0M296.1 360.3h0M269.4 387.2h0M260.4 354.9h0M272.3 422.6h0M274.0 390.1h0M334.8 354.8h0M262.8 406.7h0M313.5 355.3h0M314.3 323.0h0M246.1 401.2h0M261.1 363.3h0M274.6 401.0h0M282.2 367.6h0M251.6 390.5h0M322.2 340.7h0M268.5 383.9h0M335.9 367.7h0M284.5 368.2h0M312.9 343.3h0M281.9 409.2h0M245.9 425.6h0M349.0 353.4h0M308.5 416.5h0M329.2 345.2h0M305.3 335.8h0M332.0 332.2h0M255.0 385.7h0M285.1 347.8h0M273.4 396.0h0M329.7 320.7h0M256.4 361.2h0M303.1 358.1h0M252.5 381.4h0M290.4 360.5h0M251.7 380.9h0M324.5 353.9h0M259.6 370.6h0M260.1 425.6h0M271.2 356.6h0M316.4 395.7h0M341.9 366.1h0M295.4 427.8h0M275.6 439.3h0M268.8 372.4h0M254.1 466.7h0M295.8 355.9h0M324.6 378.8h0M295.9 349.5h0M302.6 380.7h0M331.4 334.8h0M311.3 324.4h0M262.6 374.0h0M282.1 361.2h0M292.6 407.0h0M278.4 340.5h0M312.0 343.9h0M258.0 354.8h0M272.2 347.4h0M301.0 346.6h0M303.7 321.3h0M292.6 336.4h0M258.5 442.9h0M289.6 340.3h0M276.1 392.8h0M348.9 361.8h0M244.5 351.2h0M309.3 349.3h0M284.3 337.8h0M263.9 440.0h0M342.5 316.7h0M305.8 356.3h0M314.6 343.5h0M295.8 374.0h0M242.5 382.3h0M292.3 357.9h0M248.3 391.7h0M286.8 387.1h0M248.1 373.5h0M259.0 383.1h0M277.5 359.6h0M351.0 357.0h0M272.7 356.1h0M265.4 373.6h0M265.6 360.3h0M291.6 391.3h0M251.9 371.4h0M272.8 384.9h0M295.7 360.3h0M290.4 378.4h0M326.6 339.8h0M306.1 336.8h0M245.6 452.8h0M278.0 342.2h0M332.1 334.7h0M297.3 354.7h0M293.0 335.1h0M315.1 395.5h0M299.9 377.2h0M286.8 392.2h0M264.7 356.1h0M282.6 362.2h0M332.2 333.9h0M282.5 354.3h0M295.3 368.2h0M281.9 366.2h0M247.1 390.0h0M249.6 388.9h0M295.7 333.3h0M333.6 315.9h0M348.1 333.6h0M286.7 387.2h0M252.4 402.6h0M303.7 342.0h0M244.0 394.7h0M310.8 395.5h0M259.5 377.3h0M285.8 327.9h0M272.5 352.8h0M331.8 356.1h0M247.9 467.5h0M305.2 346.2h0M309.7 376.9h0M257.8 349.8h0M324.0 351.5h0M271.7 388.0h0M319.2 330.3h0M285.0 311.2h0M265.3 370.4h0M278.2 365.4h0M267.1 421.8h0M295.1 352.1h0M322.0 336.0h0M335.8 316.4h0M246.1 370.6h0M303.6 368.2h0M280.6 360.6h0M309.3 325.3h0M280.2 386.5h0M247.0 397.2h0M314.0 337.5h0M310.2 406.1h0M280.7 328.1h0M304.5 350.2h0M278.7 336.9h0M317.1 337.5h0M329.4 342.3h0M327.6 373.0h0M307.9 352.5h0M290.8 370.3h0M284.0 343.2h0M303.0 331.7h0M306.6 342.5h0M308.2 383.8h0M335.5 319.3h0M332.9 334.6h0M316.1 341.5h0M247.0 391.5h0M349.2 322.0h0M262.0 359.2h0M277.4 395.6h0M248.3 397.3h0M308.6 367.5h0M319.5 352.7h0M279.2 363.8h0M269.3 363.8h0M248.0 400.3h0M301.5 358.1h0M245.5 377.3h0M346.3 324.9h0M279.5 365.2h0M275.0 349.3h0M325.9 349.2h0M319.7 373.7h0M287.1 359.4h0M244.4 354.9h0M250.4 381.3h0M274.6 385.1h0M272.6 384.0h0M254.9 392.8h0M325.9 320.8h0M333.0 321.1h0M342.4 329.0h0M296.8 360.5h0M265.3 387.2h0M325.4 398.1h0M276.9 380.4h0M294.6 342.6h0M319.8 394.6h0M319.2 320.6h0M267.8 447.6h0M300.3 356.5h0M301.1 369.3h0M277.1 366.9h0M314.1 389.4h0M252.7 377.4h0M338.0 325.7h0M247.6 391.8h0M258.2 364.9h0M255.2 410.9h0M300.6 352.5h0M289.2 359.4h0M289.5 371.1h0M295.8 417.9h0M313.6 337.0h0M256.3 403.1h0M250.4 373.3h0M267.7 381.3h0M253.8 364.7h0M339.7 326.7h0M298.3 412.7h0M257.3 387.1h0M281.9 368.3h0M348.7 352.2h0M274.9 347.2h0M316.0 334.0h0M335.5 337.7h0M289.1 459.8h0M313.8 347.6h0M339.4 335.4h0M328.3 325.2h0M327.1 362.5h0M258.0 392.0h0M247.7 359.1h0M249.5 443.5h0M313.4 342.9h0M256.2 403.5h0M278.0 347.8h0M251.1 401.0h0M326.9 326.1h0M282.5 349.2h0M341.3 314.1h0M332.9 326.1h0M292.7 360.1h0M337.5 359.6h0M267.2 370.5h0M314.3 336.3h0M335.5 381.8h0M260.8 370.9h0M335.0 336.3h0M301.6 341.6h0M273.2 382.3h0M249.9 375.0h0M245.3 401.9h0M304.5 356.0h0M325.0 336.8h0M342.7 332.2h0M298.2 369.4h0M267.6 371.1h0M248.8 375.3h0M276.5 354.5h0M284.0 364.3h0M268.6 393.5h0M306.6 338.6h0M291.9 313.2h0M262.1 351.6h0M273.0 368.5h0M280.6 354.9h0M296.2 340.6h0M269.5 369.0h0M321.3 430.1h0M258.6 357.7h0M321.7 338.8h0M306.0 341.5h0M274.4 324.7h0M283.4 363.2h0M286.8 355.7h0M269.9 379.5h0M306.2 333.7h0M285.7 362.8h0M322.9 350.8h0M261.0 366.5h0M263.2 373.8h0M280.7 365.7h0M278.9 338.4h0M271.3 343.9h0M284.9 358.9h0M282.2 436.4h0M266.5 360.3h0M243.7 362.0h0M314.3 349.8h0M283.0 360.3h0M325.6 347.4h0M253.0 392.8h0M323.1 355.1h0M343.2 334.6h0M328.7 402.7h0M273.8 390.2h0M271.3 388.4h0M296.9 363.8h0M318.8 405.6h0M268.0 385.4h0M345.2 349.7h0M284.6 356.1h0M269.6 421.8h0M255.7 349.6h0M277.4 433.2h0M348.2 402.9h0M261.1 387.3h0M290.7 328.7h0M241.9 399.5h0M272.9 332.9h0M279.8 397.2h0M324.7 327.9h0M276.2 354.2h0M306.0 342.7h0M264.6 411.8h0M286.0 359.4h0M306.2 315.2h0M299.8 344.1h0M289.5 374.8h0M260.4 391.2h0M324.1 332.0h0M316.2 325.6h0M265.6 378.0h0M292.2 368.5h0M241.9 393.3h0M336.7 339.8h0M312.7 335.4h0M330.2 341.0h0M291.1 354.9h0M295.1 407.1h0M300.3 320.7h0M333.6 321.5h0M262.2 368.1h0M260.9 368.7h0M300.9 352.6h0M313.6 323.8h0M271.5 434.7h0M245.1 410.1h0M297.1 321.3h0M265.9 374.9h0M320.9 353.1h0M343.9 324.3h0M258.7 437.2h0M308.5 331.8h0M262.1 376.5h0M299.0 343.2h0M282.6 350.7h0M268.9 361.9h0M335.2 323.1h0M306.9 338.6h0M316.8 362.0h0M260.3 393.6h0M330.0 350.2h0M244.3 375.7h0M248.6 450.8h0M275.0 375.9h0M322.8 327.7h0M292.2 323.4h0M245.8 376.1h0M304.9 394.7h0M261.4 428.6h0M246.3 398.1h0M271.4 414.9h0M263.0 352.1h0M251.4 365.5h0M254.2 453.8h0M249.1 448.1h0M283.2 352.6h0M293.4 348.4h0M277.6 355.0h0M263.9 371.3h0M261.4 340.3h0M275.6 393.0h0M262.1 378.8h0M264.7 408.6h0M307.3 325.4h0M307.6 362.0h0M291.6 331.5h0M321.4 432.2h0M295.0 354.6h0M282.0 358.5h0M308.6 319.7h0M260.2 375.6h0M259.3 351.8h0M315.9 345.1h0M286.5 412.5h0M322.3 319.4h0M315.6 423.9h0M292.5 357.1h0M256.0 371.3h0M252.3 407.6h0M335.1 331.8h0M334.0 350.7h0M270.1 341.0h0M276.3 331.0h0M284.3 373.1h0M292.5 333.7h0M260.7 372.6h0M254.1 431.8h0M261.6 348.3h0M298.1 345.6h0M285.3 330.1h0M268.7 360.2h0M258.8 468.0h0M306.8 319.0h0M264.0 368.1h0M269.8 369.5h0M331.2 370.4h0M267.8 362.4h0M282.9 369.9h0M243.7 406.6h0M262.6 379.5h0M251.1 417.5h0M308.5 343.0h0M256.3 390.3h0M254.2 406.8h0M280.9 355.4h0M282.5 354.6h0M345.8 393.8h0M247.7 372.1h0M276.7 369.7h0M347.2 360.4h0M249.4 380.5h0M318.2 345.2h0M319.7 409.0h0M340.2 318.1h0M276.0 369.5h0M276.9 358.0h0M269.8 341.5h0M281.9 350.3h0M306.3 330.8h0M290.9 423.8h0M308.7 331.7h0M250.2 388.6h0M299.2 364.7h0M289.2 383.9h0M316.6 363.6h0M253.9 360.3h0M269.8 355.2h0M270.8 367.7h0M318.4 340.3h0M254.7 381.5h0M324.5 332.7h0M309.0 386.3h0M278.4 357.4h0M263.4 360.9h0M312.0 378.2h0M331.1 324.9h0M281.7 334.5h0M261.0 366.8h0M265.8 418.4h0M330.8 408.1h0M296.4 349.5h0M267.7 406.5h0M298.4 360.7h0M262.6 393.7h0M278.5 373.7h0M244.9 388.2h0M342.9 329.1h0M274.4 366.7h0M302.4 316.3h0M276.9 375.0h0M251.3 362.5h0M342.8 397.6h0M264.3 404.8h0M268.5 378.7h0M290.6 351.2h0M317.6 356.7h0M300.0 320.5h0M347.6 322.1h0M259.2 435.7h0M303.6 341.8h0M274.1 342.2h0M344.4 317.7h0M283.1 448.5h0M298.1 337.3h0M261.0 381.0h0M256.6 380.0h0M285.3 354.0h0M299.8 331.3h0M342.0 345.5h0M270.3 396.7h0M323.0 369.6h0M327.9 327.5h0M342.7 340.9h0M275.9 376.2h0M265.2 373.2h0M345.5 373.5h0M242.6 374.1h0M281.6 339.5h0M262.9 375.9h0M286.1 355.0h0M279.5 351.3h0M267.4 350.3h0M269.2 382.9h0M247.8 389.5h0M286.9 352.0h0M326.9 328.4h0M260.7 428.9h0M249.8 395.0h0M278.9 357.9h0M271.7 358.4h0M329.7 391.7h0M298.5 332.1h0M322.9 329.3h0M298.9 346.2h0M275.1 362.4h0M291.8 342.5h0M309.3 333.9h0M269.4 370.9h0M333.6 336.9h0M253.1 380.1h0M257.5 362.0h0M292.6 362.7h0M251.2 369.0h0M325.7 356.9h0M328.7 319.7h0M274.4 330.6h0M270.1 361.9h0M286.9 339.3h0M245.9 386.1h0M313.4 327.4h0M335.6 353.6h0M310.8 328.6h0M292.7 352.5h0M275.1 379.2h0M307.0 321.8h0M255.0 381.9h0M271.2 388.0h0M305.3 377.5h0M274.6 345.5h0M269.8 329.3h0M246.2 379.3h0M321.4 328.5h0M272.9 377.3h0M247.3 443.1h0M286.0 368.6h0M327.4 374.5h0M325.5 312.0h0M250.0 386.0h0M310.0 356.4h0M311.9 343.5h0M322.1 334.7h0M281.6 364.9h0M275.9 359.4h0M275.5 463.3h0M281.7 382.1h0M282.1 368.9h0M308.4 341.5h0M247.8 400.9h0M244.1 413.6h0M336.5 361.2h0M241.9 370.1h0M253.5 387.2h0M294.1 317.4h0M323.6 327.4h0M68.4 474.2h0M92.5 504.6h0M112.2 477.3h0M112.2 492.8h0M112.2 512.5h0M194.6 540.1h0" stroke="#000" stroke-width="2.5" stroke-linecap="round" fill="none"/>
<path d="M134.4 518.2h0M134.4 516.5h0M134.4 513.1h0M134.4 506.3h0M134.4 503.0h0M134.4 501.3h0M134.4 486.1h0M134.4 481.0h0M150.1 513.0h0M150.1 511.3h0M150.1 507.9h0M150.1 502.8h0M150.1 501.2h0M150.1 499.5h0M150.1 496.1h0M150.1 494.4h0M150.1 492.7h0M150.1 491.0h0M150.1 487.6h0M150.1 484.3h0M150.1 479.2h0M150.1 475.8h0M150.1 472.4h0M150.1 470.8h0M150.1 469.1h0M150.1 467.4h0M150.1 465.7h0M150.1 464.0h0M162.4 503.7h0M162.4 502.0h0M162.4 500.3h0M162.4 498.7h0M162.4 495.3h0M162.4 493.6h0M162.4 491.9h0M162.4 488.5h0M162.4 486.8h0M162.4 485.1h0M162.4 483.4h0M162.4 480.1h0M162.4 478.4h0M162.4 476.7h0M162.4 475.0h0M162.4 473.3h0M162.4 471.6h0M162.4 469.9h0M162.4 468.2h0M162.4 466.6h0M162.4 464.9h0M162.4 461.5h0M162.4 459.8h0M162.4 458.1h0M162.4 456.4h0M162.4 454.7h0M172.3 494.5h0M172.3 492.8h0M172.3 491.1h0M172.3 489.4h0M172.3 487.7h0M172.3 486.0h0M172.3 484.3h0M172.3 482.6h0M172.3 479.3h0M172.3 477.6h0M172.3 474.2h0M172.3 472.5h0M172.3 470.8h0M172.3 469.1h0M172.3 467.4h0M172.3 465.8h0M172.3 464.1h0M172.3 462.4h0M172.3 460.7h0M172.3 459.0h0M172.3 455.6h0M172.3 453.9h0M172.3 452.2h0M172.3 450.5h0M172.3 448.9h0M172.3 447.2h0M180.8 489.8h0M180.8 488.1h0M180.8 486.4h0M180.8 484.7h0M180.8 483.0h0M180.8 481.3h0M180.8 479.6h0M180.8 476.2h0M180.8 474.6h0M180.8 471.2h0M180.8 467.8h0M180.8 466.1h0M180.8 464.4h0M180.8 461.0h0M180.8 459.4h0M180.8 457.7h0M180.8 456.0h0M180.8 452.6h0M180.8 450.9h0M180.8 449.2h0M180.8 447.5h0M180.8 445.8h0M180.8 442.5h0M180.8 440.8h0M188.1 484.2h0M188.1 480.8h0M188.1 479.1h0M188.1 477.5h0M188.1 475.8h0M188.1 474.1h0M188.1 472.4h0M188.1 469.0h0M188.1 467.3h0M188.1 465.6h0M188.1 463.9h0M188.1 462.3h0M188.1 457.2h0M188.1 455.5h0M188.1 453.8h0M188.1 452.1h0M188.1 450.4h0M188.1 448.7h0M188.1 447.1h0M188.1 445.4h0M188.1 443.7h0M188.1 442.0h0M188.1 440.3h0M188.1 438.6h0M188.1 436.9h0M188.1 435.2h0M194.5 479.3h0M194.5 477.6h0M194.5 476.0h0M194.5 474.3h0M194.5 472.6h0M194.5 470.9h0M194.5 469.2h0M194.5 467.5h0M194.5 465.8h0M194.5 464.1h0M194.5 462.4h0M194.5 460.7h0M194.5 459.1h0M194.5 455.7h0M194.5 454.0h0M194.5 452.3h0M194.5 450.6h0M194.5 447.2h0M194.5 445.5h0M194.5 443.9h0M194.5 442.2h0M194.5 440.5h0M194.5 438.8h0M194.5 437.1h0M194.5 435.4h0M194.5 433.7h0M194.5 432.0h0M194.5 430.3h0M200.3 473.3h0M200.3 471.6h0M200.3 469.9h0M200.3 468.2h0M200.3 466.5h0M200.3 464.8h0M200.3 463.1h0M200.3 461.4h0M200.3 459.8h0M200.3 458.1h0M200.3 456.4h0M200.3 454.7h0M200.3 453.0h0M200.3 451.3h0M200.3 449.6h0M200.3 447.9h0M200.3 446.2h0M200.3 444.6h0M200.3 442.9h0M200.3 441.2h0M200.3 439.5h0M200.3 437.8h0M200.3 436.1h0M200.3 434.4h0M200.3 432.7h0M200.3 431.0h0M200.3 429.4h0M200.3 427.7h0M200.3 426.0h0M205.5 469.3h0M205.5 467.6h0M205.5 465.9h0M205.5 464.2h0M205.5 462.6h0M205.5 459.2h0M205.5 457.5h0M205.5 455.8h0M205.5 454.1h0M205.5 452.4h0M205.5 450.7h0M205.5 449.0h0M205.5 447.4h0M205.5 445.7h0M205.5 444.0h0M205.5 442.3h0M205.5 440.6h0M205.5 438.9h0M205.5 435.5h0M205.5 433.8h0M205.5 432.2h0M205.5 430.5h0M205.5 428.8h0M205.5 425.4h0M205.5 423.7h0M210.3 467.4h0M210.3 465.7h0M210.3 464.0h0M210.3 462.3h0M210.3 460.6h0M210.3 458.9h0M210.3 457.3h0M210.3 455.6h0M210.3 453.9h0M210.3 452.2h0M210.3 450.5h0M210.3 448.8h0M210.3 447.1h0M210.3 445.4h0M210.3 443.7h0M210.3 442.1h0M210.3 440.4h0M210.3 438.7h0M210.3 437.0h0M210.3 435.3h0M210.3 433.6h0M210.3 431.9h0M210.3 430.2h0M210.3 428.5h0M210.3 425.2h0M210.3 423.5h0M210.3 420.1h0M210.3 418.4h0M214.7 464.1h0M214.7 462.4h0M214.7 460.7h0M214.7 459.0h0M214.7 457.3h0M214.7 455.6h0M214.7 453.9h0M214.7 452.2h0M214.7 450.6h0M214.7 448.9h0M214.7 447.2h0M214.7 443.8h0M214.7 442.1h0M214.7 440.4h0M214.7 438.7h0M214.7 437.0h0M214.7 435.4h0M214.7 433.7h0M214.7 432.0h0M214.7 430.3h0M214.7 428.6h0M214.7 425.2h0M214.7 423.5h0M214.7 421.8h0M214.7 420.2h0M214.7 416.8h0M214.7 415.1h0M218.7 461.0h0M218.7 459.3h0M218.7 457.6h0M218.7 455.9h0M218.7 454.2h0M218.7 452.6h0M218.7 450.9h0M218.7 447.5h0M218.7 445.8h0M218.7 442.4h0M218.7 440.7h0M218.7 439.0h0M218.7 437.3h0M218.7 435.7h0M218.7 434.0h0M218.7 432.3h0M218.7 430.6h0M218.7 428.9h0M218.7 427.2h0M218.7 425.5h0M218.7 423.8h0M218.7 422.1h0M218.7 420.5h0M218.7 418.8h0M218.7 417.1h0M218.7 415.4h0M218.7 413.7h0M218.7 412.0h0M222.5 458.1h0M222.5 456.4h0M222.5 454.8h0M222.5 453.1h0M222.5 451.4h0M222.5 449.7h0M222.5 448.0h0M222.5 446.3h0M222.5 442.9h0M222.5 441.2h0M222.5 439.6h0M222.5 437.9h0M222.5 436.2h0M222.5 434.5h0M222.5 431.1h0M222.5 427.7h0M222.5 426.0h0M222.5 424.4h0M222.5 422.7h0M222.5 419.3h0M222.5 417.6h0M222.5 415.9h0M222.5 414.2h0M222.5 412.5h0M222.5 410.8h0M222.5 409.2h0M226.0 455.5h0M226.0 453.8h0M226.0 452.1h0M226.0 450.4h0M226.0 448.7h0M226.0 447.0h0M226.0 445.3h0M226.0 441.9h0M226.0 440.3h0M226.0 438.6h0M226.0 435.2h0M226.0 433.5h0M226.0 431.8h0M226.0 430.1h0M226.0 423.4h0M226.0 420.0h0M226.0 418.3h0M226.0 416.6h0M226.0 414.9h0M226.0 413.2h0M226.0 409.9h0M226.0 408.2h0M229.3 452.9h0M229.3 451.3h0M229.3 447.9h0M229.3 444.5h0M229.3 442.8h0M229.3 439.4h0M229.3 437.7h0M229.3 436.0h0M229.3 434.4h0M229.3 432.7h0M229.3 431.0h0M229.3 429.3h0M229.3 427.6h0M229.3 425.9h0M229.3 424.2h0M229.3 422.5h0M229.3 420.8h0M229.3 419.2h0M229.3 415.8h0M229.3 414.1h0M229.3 412.4h0M229.3 410.7h0M229.3 409.0h0M229.3 407.3h0M229.3 405.6h0M229.3 404.0h0M232.5 450.6h0M232.5 448.9h0M232.5 447.2h0M232.5 445.5h0M232.5 443.8h0M232.5 442.1h0M232.5 438.7h0M232.5 437.1h0M232.5 435.4h0M232.5 433.7h0M232.5 432.0h0M232.5 430.3h0M232.5 428.6h0M232.5 426.9h0M232.5 425.2h0M232.5 423.5h0M232.5 421.9h0M232.5 420.2h0M232.5 416.8h0M232.5 415.1h0M232.5 413.4h0M232.5 411.7h0M232.5 410.0h0M232.5 408.3h0M232.5 406.7h0M232.5 405.0h0M232.5 403.3h0M232.5 401.6h0M235.4 448.3h0M235.4 446.6h0M235.4 444.9h0M235.4 443.3h0M235.4 441.6h0M235.4 439.9h0M235.4 438.2h0M235.4 436.5h0M235.4 434.8h0M235.4 431.4h0M235.4 429.7h0M235.4 428.1h0M235.4 426.4h0M235.4 424.7h0M235.4 423.0h0M235.4 421.3h0M235.4 419.6h0M235.4 417.9h0M235.4 416.2h0M235.4 414.5h0M235.4 412.9h0M235.4 411.2h0M235.4 409.5h0M235.4 407.8h0M235.4 406.1h0M235.4 404.4h0M235.4 402.7h0M235.4 401.0h0M235.4 399.3h0M238.2 446.2h0M238.2 444.5h0M238.2 442.8h0M238.2 439.4h0M238.2 437.8h0M238.2 436.1h0M238.2 434.4h0M238.2 432.7h0M238.2 431.0h0M238.2 429.3h0M238.2 427.6h0M238.2 425.9h0M238.2 424.2h0M238.2 420.9h0M238.2 419.2h0M238.2 417.5h0M238.2 415.8h0M238.2 414.1h0M238.2 412.4h0M238.2 410.7h0M238.2 409.0h0M238.2 407.3h0M238.2 405.7h0M238.2 404.0h0M238.2 402.3h0M238.2 398.9h0M238.2 397.2h0M240.9 444.2h0M240.9 442.5h0M240.9 440.8h0M240.9 439.1h0M240.9 437.4h0M240.9 435.7h0M240.9 434.0h0M240.9 432.3h0M240.9 430.7h0M240.9 429.0h0M240.9 425.6h0M240.9 422.2h0M240.9 420.5h0M240.9 417.1h0M240.9 415.5h0M240.9 413.8h0M240.9 412.1h0M240.9 410.4h0M240.9 408.7h0M240.9 405.3h0M240.9 403.6h0M240.9 401.9h0M240.9 400.3h0M240.9 398.6h0M240.9 396.9h0M240.9 395.2h0M243.5 442.2h0M243.5 440.6h0M243.5 438.9h0M243.5 437.2h0M243.5 435.5h0M243.5 433.8h0M243.5 432.1h0M243.5 430.4h0M243.5 428.7h0M243.5 425.4h0M243.5 423.7h0M243.5 422.0h0M243.5 420.3h0M243.5 418.6h0M243.5 413.5h0M243.5 411.8h0M243.5 410.2h0M243.5 408.5h0M243.5 406.8h0M243.5 405.1h0M243.5 403.4h0M243.5 401.7h0M243.5 400.0h0M243.5 398.3h0M243.5 396.6h0M243.5 394.9h0M243.5 393.3h0M330.6 350.6h0M314.4 367.4h0M281.7 381.5h0M261.2 391.8h0M258.8 380.9h0M288.0 357.8h0M327.3 333.3h0M328.4 336.9h0M264.2 386.9h0M325.6 343.4h0M341.4 316.5h0M263.9 398.4h0M303.5 367.3h0M300.8 357.7h0M306.4 347.5h0M259.1 393.1h0M273.4 382.2h0M258.5 399.6h0M336.1 336.5h0M326.0 348.5h0M311.8 344.1h0M320.3 351.3h0M334.0 324.1h0M254.0 391.4h0M270.9 417.5h0M301.9 359.8h0M246.3 392.9h0M276.4 390.6h0M300.0 356.0h0M272.0 373.8h0M322.8 342.1h0M319.0 338.3h0M281.6 382.1h0M257.6 392.2h0M323.8 361.8h0M275.7 371.9h0M240.0 417.0h0M248.9 398.7h0M287.0 369.2h0M262.8 382.8h0M241.0 393.6h0M273.7 367.2h0M296.5 361.7h0M349.7 325.1h0M255.3 408.8h0M260.6 381.5h0M277.9 363.6h0M320.7 339.7h0M331.5 334.4h0M248.6 397.6h0M339.7 325.8h0M248.9 406.7h0M253.6 379.2h0M258.3 395.2h0M302.8 353.7h0M305.6 370.1h0M257.6 394.1h0M305.1 369.7h0M298.3 393.0h0M341.6 316.9h0M254.8 398.4h0M284.3 379.4h0M307.3 364.0h0M299.8 371.4h0M318.5 350.0h0M275.1 383.8h0M278.0 375.3h0M244.9 390.5h0M321.6 361.6h0M264.6 379.5h0M254.4 409.8h0M342.0 311.3h0M280.2 379.5h0M270.2 384.5h0M332.3 334.2h0M313.2 340.4h0M295.8 347.0h0M296.7 361.1h0M287.0 368.1h0M297.8 355.3h0M339.3 338.2h0M245.9 397.6h0M272.7 381.4h0M334.0 338.1h0M262.8 425.0h0M320.0 361.9h0M247.2 399.7h0M317.8 329.6h0M264.0 387.4h0M285.5 373.1h0M263.8 379.8h0M295.0 358.1h0M324.2 347.7h0M306.1 365.3h0M255.0 385.1h0M244.5 385.2h0M321.6 337.2h0M317.2 356.4h0M293.2 366.6h0M266.3 377.4h0M261.0 380.3h0M294.5 372.2h0M262.8 379.6h0M338.9 344.3h0M255.3 388.2h0M272.8 382.8h0M241.2 395.1h0M306.8 356.1h0M273.9 362.4h0M241.1 398.5h0M317.0 327.2h0M270.9 389.2h0M337.4 333.7h0M283.4 389.2h0M284.9 369.3h0M297.0 363.6h0M271.8 417.0h0M320.7 348.4h0M277.7 361.0h0M297.4 354.7h0M268.5 372.4h0M274.6 390.4h0M268.3 367.1h0M329.5 343.0h0M326.6 339.2h0M320.1 357.8h0M267.6 392.5h0M272.5 371.2h0M255.9 401.7h0M329.0 327.2h0M273.3 403.1h0M308.3 371.3h0M329.0 324.3h0M336.6 340.2h0M303.9 355.2h0M278.8 368.6h0M333.0 358.4h0M310.3 362.3h0M280.5 390.3h0M332.7 333.1h0M349.9 305.8h0M248.7 396.0h0M242.8 398.5h0M323.2 322.1h0M273.5 375.4h0M266.5 378.1h0M331.2 322.3h0M278.6 374.6h0M298.5 363.5h0M327.8 334.6h0M246.2 404.4h0M275.4 380.7h0M246.0 391.3h0M278.7 368.7h0M267.7 368.9h0M265.8 386.1h0M320.3 352.7h0M332.2 329.5h0M277.2 375.1h0M280.6 369.2h0M253.3 371.0h0M314.8 347.6h0M262.7 387.0h0M255.1 375.8h0M318.4 343.9h0M292.9 371.6h0M296.5 369.8h0M316.2 359.4h0M278.9 390.6h0M334.4 323.7h0M318.9 341.4h0M295.4 371.5h0M266.3 380.9h0M310.8 349.0h0M274.1 394.6h0M270.2 388.0h0M338.2 335.8h0M284.8 369.3h0M294.2 377.5h0M350.6 309.0h0M342.0 344.3h0M305.7 362.4h0M264.4 383.3h0M247.8 394.1h0M272.1 373.0h0M338.0 328.4h0M297.6 357.0h0M327.0 357.4h0M240.6 423.0h0M265.7 374.5h0M263.1 389.7h0M258.7 380.1h0M307.4 353.8h0M262.4 395.6h0M250.2 392.2h0M304.3 342.9h0M309.7 351.1h0M278.6 343.6h0M312.3 364.9h0M254.4 399.4h0M280.1 370.8h0M284.1 361.6h0M303.3 359.6h0M280.2 371.6h0M321.2 335.4h0M253.4 391.1h0M265.8 370.5h0M322.3 348.8h0M343.2 347.1h0M250.5 408.1h0M289.7 353.1h0M262.8 378.5h0M275.0 398.2h0M293.0 355.4h0M249.2 395.5h0M311.8 352.7h0M263.0 387.0h0M262.6 383.2h0M298.4 348.3h0M269.3 381.3h0M244.6 392.5h0M345.1 311.3h0M282.0 357.8h0M278.4 366.8h0M272.1 349.3h0M251.2 383.8h0M265.3 403.6h0M253.8 407.8h0M320.1 327.9h0M296.0 364.0h0M242.0 401.0h0M288.4 360.8h0M324.0 342.2h0M315.7 350.3h0M261.2 379.3h0M289.7 368.6h0M286.4 365.9h0M301.9 389.6h0M308.5 342.9h0M336.2 296.6h0M331.6 327.2h0M242.4 412.4h0M331.6 336.7h0M295.4 370.8h0M268.0 392.3h0M282.0 354.5h0M273.0 372.1h0M267.8 383.6h0M273.7 364.5h0M253.4 410.0h0M278.4 394.4h0M279.1 369.0h0M318.3 353.1h0M291.5 361.7h0M306.6 336.5h0M287.3 369.4h0M293.7 365.4h0M303.0 345.7h0M321.0 342.3h0M268.2 383.3h0M316.1 336.4h0M348.1 326.7h0M283.4 367.8h0M322.9 349.5h0M297.5 343.9h0M239.0 406.8h0M321.5 338.0h0M291.6 363.9h0M332.5 337.2h0M281.1 366.7h0M327.0 361.6h0M299.5 371.3h0M330.0 340.7h0M329.7 357.9h0M278.2 378.1h0M258.2 399.2h0M284.3 372.2h0M268.8 383.9h0M247.9 391.8h0M340.0 311.5h0M262.8 385.5h0M319.1 356.0h0M342.0 310.7h0M314.5 347.2h0M321.4 331.4h0M267.3 381.4h0M295.4 363.0h0M323.0 342.5h0M241.9 405.7h0M272.5 353.3h0M251.6 412.4h0M283.9 375.9h0M287.2 389.5h0M310.5 356.3h0M316.8 369.8h0M344.1 323.0h0M312.6 348.2h0M293.0 366.8h0M275.4 368.3h0M328.7 320.8h0M279.4 378.9h0M317.1 345.4h0M327.3 346.3h0M241.5 412.2h0M313.3 323.9h0M319.3 338.0h0M312.7 350.8h0M253.2 404.7h0M295.2 359.2h0M272.7 384.7h0M260.9 398.2h0M250.7 407.9h0M326.2 357.0h0M252.1 411.2h0M247.2 386.5h0M318.1 358.9h0M333.7 336.8h0M307.0 371.6h0M305.5 357.2h0M300.1 352.1h0M350.6 327.0h0M297.7 359.4h0M240.6 396.1h0M266.6 381.4h0M274.0 386.2h0M287.5 379.2h0M333.3 345.0h0M329.0 336.7h0M286.1 377.4h0M282.3 373.6h0M306.3 354.0h0M334.9 352.9h0M257.1 390.6h0M348.1 310.4h0M262.8 380.2h0M331.8 335.4h0M254.9 382.4h0M295.6 351.4h0M315.1 348.8h0M322.2 346.3h0M253.2 395.5h0M349.7 318.4h0M337.7 347.0h0M338.0 335.6h0M315.6 322.8h0M279.4 379.8h0M244.5 398.6h0M254.7 397.5h0M279.4 379.2h0M302.0 343.7h0M266.9 373.5h0M291.5 360.3h0M318.4 337.6h0M344.4 321.3h0M255.7 394.7h0M241.9 410.5h0M260.3 382.0h0M291.0 361.2h0M312.1 345.0h0M323.2 342.8h0M321.4 347.4h0M245.6 386.9h0M303.4 367.6h0M241.7 416.6h0M317.6 341.7h0M298.7 376.6h0M254.8 389.7h0M284.4 367.1h0M334.1 356.2h0M260.3 392.1h0M267.8 389.3h0M319.5 345.7h0M315.9 363.9h0M332.5 340.3h0M285.1 374.4h0M276.2 378.5h0M330.5 344.9h0M241.6 392.9h0M319.8 351.8h0M335.5 327.3h0M302.8 354.0h0M336.4 333.8h0M305.7 359.8h0M244.1 393.6h0M245.8 412.1h0M317.4 338.5h0M305.2 340.9h0M242.1 400.4h0M286.0 354.6h0M241.7 408.5h0M259.2 399.8h0M282.0 388.2h0M301.2 357.8h0M256.7 415.5h0M294.3 381.7h0M242.8 387.6h0M280.1 386.0h0M311.3 348.4h0M332.2 348.9h0M326.8 327.7h0M287.7 365.7h0M294.9 374.7h0M310.1 332.0h0M312.2 347.5h0M279.8 360.9h0M242.4 398.8h0M251.8 404.8h0M261.5 398.0h0M293.8 388.4h0M270.6 364.9h0M271.3 392.9h0M295.8 356.0h0M264.6 385.8h0M267.8 380.1h0M261.3 399.4h0M318.2 345.7h0M254.2 413.8h0M347.6 315.4h0M276.1 371.8h0M256.8 375.6h0M301.9 338.5h0M276.2 373.9h0M295.6 369.3h0M299.3 375.3h0M240.5 394.6h0M332.6 337.1h0M271.3 368.4h0M270.4 362.1h0M332.4 347.0h0M297.3 374.8h0M262.8 374.2h0M256.3 401.3h0M303.8 359.2h0M280.7 352.3h0M303.2 359.1h0M286.1 371.3h0M332.7 349.0h0M324.9 350.6h0M262.6 391.3h0M253.6 384.0h0M253.1 405.1h0M342.5 332.1h0M279.2 391.8h0M293.9 373.7h0M319.1 345.0h0M309.9 370.4h0M296.7 357.2h0M257.4 396.4h0M307.5 337.8h0M253.7 404.1h0M255.5 405.5h0M252.3 406.1h0M313.2 338.1h0M292.8 368.2h0M259.3 395.0h0M299.3 379.1h0M333.9 346.7h0M268.6 383.9h0M314.4 352.9h0M304.2 334.6h0M311.4 360.6h0M337.7 339.4h0M334.2 335.9h0M304.6 359.3h0M311.3 367.9h0M343.5 335.2h0M310.4 361.7h0M263.6 381.1h0M279.1 373.9h0M295.5 375.5h0M282.0 375.6h0M293.2 368.5h0M270.6 379.1h0M308.9 336.7h0M342.1 333.8h0M293.5 354.3h0M304.7 359.8h0M248.0 397.3h0M309.2 357.3h0M328.0 338.8h0M277.6 392.3h0M253.2 385.6h0M273.2 387.8h0M284.2 375.7h0M240.0 392.9h0M321.6 333.6h0M308.6 355.1h0M275.8 374.2h0M262.8 376.9h0M246.9 386.2h0M340.5 315.8h0M319.8 326.7h0M289.5 370.0h0M336.5 347.3h0M307.8 369.6h0M331.8 338.9h0M331.4 321.9h0M292.1 380.4h0M244.1 402.6h0M265.9 369.9h0M274.9 381.7h0M339.9 336.1h0M280.9 382.2h0M291.9 376.4h0M272.8 375.8h0M271.1 400.1h0M279.4 378.2h0M256.1 398.2h0M275.2 382.2h0M313.7 346.3h0M287.9 363.9h0M318.4 351.9h0M326.4 323.3h0M254.1 404.2h0M246.6 411.4h0M336.8 320.0h0M249.9 405.9h0M310.5 346.0h0M284.1 364.0h0M336.3 330.4h0M327.7 342.3h0M306.1 352.2h0M295.9 392.8h0M316.9 327.0h0M307.8 363.8h0M258.1 405.1h0M302.7 340.6h0M293.1 355.6h0M314.1 361.1h0M322.0 338.5h0M300.8 333.7h0M249.7 394.5h0M296.2 370.1h0M245.9 400.5h0M316.8 346.6h0M266.2 395.4h0M334.6 349.6h0M284.9 353.8h0M275.9 357.8h0M266.0 385.1h0M313.9 362.0h0M281.1 376.2h0M256.8 379.2h0M341.1 338.3h0M286.8 354.5h0M255.9 381.1h0M284.2 363.6h0M293.8 365.1h0M249.4 399.5h0M246.3 388.7h0M301.7 364.2h0M298.4 356.8h0M314.5 337.8h0M300.8 350.3h0M278.5 357.3h0M292.2 370.0h0M310.0 345.6h0M310.8 330.0h0M321.4 351.7h0M333.5 347.5h0M328.3 338.9h0M313.2 337.6h0M252.8 401.5h0M279.6 374.0h0M295.5 373.7h0M257.2 394.3h0M320.1 358.3h0M321.6 350.3h0M323.9 366.4h0M323.4 335.3h0M291.3 385.8h0M349.2 313.8h0M257.2 394.7h0M243.0 391.3h0M345.4 328.8h0M325.8 336.1h0M342.0 310.6h0M265.8 388.7h0M291.3 383.7h0M336.0 353.0h0M327.4 336.1h0M339.2 328.7h0M313.7 338.7h0M348.2 311.1h0M287.3 400.7h0M337.4 341.9h0M336.7 331.9h0M288.5 355.9h0M264.8 402.4h0M280.3 369.5h0M253.1 399.0h0M321.4 345.1h0M259.4 396.0h0M247.1 387.9h0M281.6 377.0h0M339.8 319.3h0M267.1 361.6h0M257.9 387.3h0M312.7 349.3h0M264.7 385.6h0M318.6 365.8h0M257.0 394.7h0M330.6 343.4h0M255.4 395.8h0M282.7 387.2h0M337.5 327.2h0M342.3 313.8h0M339.1 323.7h0M342.8 312.8h0M297.2 359.9h0M297.3 383.4h0M327.6 328.9h0M317.8 335.7h0M332.3 338.8h0M250.0 385.9h0M265.6 372.7h0M279.9 380.1h0M342.9 348.5h0M252.4 400.5h0M259.5 407.9h0M297.8 365.4h0M304.0 375.7h0M319.9 356.5h0M326.3 338.4h0M262.7 387.4h0M289.9 372.8h0M340.5 318.9h0M324.0 348.8h0M286.8 365.8h0M307.4 350.0h0M337.3 322.9h0M325.4 347.8h0M287.9 352.9h0M313.3 342.0h0M277.0 368.2h0M336.9 344.7h0M340.7 340.3h0M293.7 373.2h0M242.5 405.3h0M254.7 401.9h0M263.2 391.1h0M259.3 375.4h0M244.4 395.6h0M323.7 344.0h0M239.7 399.1h0M298.3 373.1h0M309.0 364.2h0M329.7 339.9h0M240.6 392.6h0M284.0 364.4h0M241.1 396.6h0M344.3 299.1h0M271.9 384.7h0M322.3 351.2h0M243.4 397.6h0M303.5 354.1h0M314.2 358.8h0M274.5 407.6h0M286.0 357.7h0M274.7 376.4h0M272.4 377.1h0M336.8 341.9h0M283.6 373.0h0M308.7 359.7h0M324.8 336.8h0M244.4 390.2h0M283.1 372.5h0M281.9 378.6h0M272.4 372.3h0M265.9 368.8h0M319.0 333.1h0M266.3 368.0h0M254.6 378.1h0M331.8 347.6h0M292.9 364.4h0M290.7 360.3h0M311.0 371.2h0M332.4 359.1h0M256.0 397.8h0M256.3 395.9h0M266.6 401.1h0M284.1 380.0h0M317.0 346.9h0M245.4 400.1h0M259.9 385.6h0M301.8 350.3h0M307.8 356.7h0M328.5 343.5h0M285.0 357.9h0M286.9 359.1h0M284.1 364.3h0M250.9 380.5h0M252.5 394.6h0M307.1 351.0h0M256.4 382.1h0M298.1 371.6h0M241.7 396.7h0M297.0 383.2h0M294.5 379.3h0M334.3 323.5h0M281.6 365.0h0M303.1 345.6h0M240.2 381.8h0M275.0 384.3h0M314.7 339.8h0M251.4 375.8h0M306.0 341.7h0M294.8 350.4h0M274.5 381.4h0M327.8 341.3h0M345.2 325.7h0M266.9 373.1h0M304.4 340.1h0M315.4 326.6h0M280.6 385.9h0M294.0 369.4h0M287.7 378.5h0M306.9 341.2h0M259.5 395.9h0M246.1 399.8h0M339.3 336.1h0M295.1 359.6h0M296.0 350.3h0M263.5 387.0h0M250.8 398.2h0M316.7 346.7h0M323.7 335.4h0M296.8 355.7h0M268.7 391.7h0M246.1 405.0h0M249.3 392.8h0M299.9 356.3h0M288.7 369.5h0M345.0 343.5h0M251.4 393.6h0M324.5 337.4h0M242.5 398.9h0M309.7 367.9h0M262.5 379.0h0M346.3 342.3h0M279.0 383.9h0M262.5 384.0h0M288.6 364.0h0M250.8 372.6h0M275.4 371.7h0M261.2 397.3h0M247.7 389.1h0M262.7 376.8h0M293.2 378.4h0M245.6 405.6h0M348.3 338.5h0M272.3 382.9h0M269.1 388.8h0M276.1 369.8h0M244.6 410.2h0M257.1 399.2h0M258.4 391.5h0M287.4 354.3h0M255.5 400.3h0M322.9 349.2h0M327.7 348.8h0M291.8 362.3h0M266.1 380.8h0M254.5 413.6h0M257.1 392.2h0M252.1 414.1h0M346.8 336.8h0M294.7 387.4h0M282.4 378.4h0M290.0 375.6h0M300.5 357.0h0M251.6 392.5h0M274.5 368.7h0M312.5 359.8h0M320.1 343.1h0M322.8 328.9h0M306.6 363.7h0M277.8 369.2h0M259.0 381.3h0M298.8 391.1h0M283.0 373.1h0M339.9 323.4h0M241.7 416.5h0M311.1 349.7h0M273.1 378.9h0M323.0 346.6h0M295.6 366.3h0M242.8 377.0h0M262.6 401.0h0M315.0 360.4h0M345.8 318.4h0M277.6 363.4h0M312.9 360.3h0M250.9 392.4h0M263.5 379.9h0M282.8 367.9h0M297.9 365.5h0M320.7 344.3h0M321.3 344.7h0M320.7 322.4h0M345.0 329.4h0M251.9 400.9h0M263.9 395.7h0M315.2 345.5h0M250.5 384.5h0M281.2 386.1h0M259.5 394.8h0M292.5 371.0h0M285.9 381.4h0M316.0 358.7h0M314.2 351.6h0M348.9 322.5h0M303.6 353.6h0M241.8 411.4h0M292.3 358.2h0M330.8 342.0h0M338.8 326.1h0M269.3 393.4h0M334.1 346.9h0M299.4 357.5h0M320.9 337.6h0M316.9 353.7h0M246.4 397.1h0M289.7 370.8h0M312.5 354.9h0M265.6 384.3h0M319.4 328.5h0M245.1 409.4h0M348.6 328.0h0M286.0 393.7h0M330.7 343.8h0M266.5 386.3h0M268.1 377.3h0M256.3 406.7h0M241.4 400.0h0M285.8 359.2h0M325.2 346.8h0M328.7 340.8h0M284.2 348.9h0M297.9 364.9h0M333.4 342.3h0M272.1 375.5h0M250.9 393.7h0M299.0 386.1h0M248.3 397.4h0M295.5 359.8h0M282.0 378.5h0M340.1 312.6h0M295.0 361.4h0M313.4 351.2h0M319.5 339.7h0M295.9 363.2h0M269.1 390.4h0M344.9 332.1h0M291.7 382.9h0M346.9 328.3h0M280.6 374.5h0M304.8 381.7h0M281.1 378.0h0M276.9 365.4h0M246.0 395.2h0M350.5 334.2h0M275.5 363.7h0M261.5 367.5h0M333.2 350.0h0M251.6 407.7h0M336.1 310.1h0M245.3 387.0h0M264.5 376.8h0M307.6 351.9h0M323.4 324.2h0M277.8 383.6h0M319.0 333.7h0M324.2 361.2h0M266.4 371.6h0M258.2 384.9h0M260.9 386.1h0M326.0 349.3h0M289.8 351.9h0M325.2 345.5h0M316.1 352.3h0M277.1 372.6h0M342.3 340.7h0M284.0 367.3h0M315.2 368.2h0M348.6 311.0h0M322.6 355.5h0M240.6 381.4h0M312.7 364.7h0M309.6 336.1h0M246.8 393.2h0M303.6 349.0h0M330.6 331.9h0M327.3 344.0h0M256.2 407.6h0M251.5 408.9h0M277.1 386.0h0M278.6 358.8h0M287.2 370.9h0M253.7 384.8h0M310.6 330.4h0M303.3 369.3h0M287.9 365.5h0M271.8 397.1h0M265.9 376.1h0M257.0 400.5h0M325.0 348.1h0M347.1 325.8h0M245.2 406.7h0M338.6 335.2h0M323.1 333.4h0M325.9 335.0h0M283.2 355.2h0M279.6 386.0h0M271.2 386.4h0M256.0 395.0h0M348.3 318.7h0M289.0 366.1h0M305.4 347.6h0M283.9 356.7h0M254.3 399.8h0M315.4 365.1h0M241.3 399.7h0M328.3 334.2h0M242.8 386.4h0M248.4 399.2h0M346.2 333.7h0M270.1 383.6h0M261.7 392.8h0M241.7 414.4h0M328.4 332.3h0M319.3 346.3h0M258.3 378.2h0M275.5 377.5h0M333.6 329.9h0M250.0 421.3h0M272.6 361.2h0M290.9 370.3h0M247.8 416.8h0M257.0 393.2h0M264.7 399.8h0M333.5 328.1h0M274.0 382.9h0M254.6 393.2h0M271.0 372.3h0M268.0 383.9h0M248.4 406.8h0M305.6 367.3h0M335.3 324.7h0M300.6 352.4h0M244.0 410.2h0M320.9 325.6h0M241.3 407.7h0M300.8 364.8h0M291.2 355.2h0M262.8 390.2h0M278.1 393.4h0M325.7 335.2h0M349.2 300.2h0M267.9 400.7h0M338.1 339.8h0M284.4 362.7h0M334.9 344.3h0M346.5 321.0h0M324.0 337.1h0M304.3 369.9h0M278.7 370.1h0M305.0 355.7h0M313.6 336.8h0M284.1 368.0h0M250.0 425.5h0M313.4 320.8h0M266.2 381.5h0M328.5 345.2h0M255.9 390.2h0M285.8 369.4h0M285.7 374.0h0M277.8 370.6h0M292.6 370.0h0M341.9 338.8h0M288.6 381.7h0M298.3 356.5h0M330.3 306.1h0M241.7 403.9h0M300.6 355.5h0M310.3 341.5h0M308.1 371.5h0M256.5 386.5h0M244.0 392.8h0M260.2 394.0h0M329.9 342.1h0M320.7 344.9h0M256.2 398.5h0M299.4 352.6h0M281.8 374.2h0M275.3 373.9h0M273.2 376.2h0M247.3 420.6h0M274.4 390.0h0M318.6 348.8h0M345.5 342.3h0M275.7 397.6h0M298.3 390.8h0M311.1 353.1h0M290.7 369.8h0M271.6 374.9h0M245.5 397.2h0M255.9 385.8h0M304.8 346.9h0M292.6 366.1h0M331.8 333.2h0M260.4 380.0h0M305.8 365.4h0M339.0 331.5h0M258.9 377.2h0M314.7 335.2h0M275.5 407.3h0M334.5 330.5h0M347.1 312.9h0M319.9 355.0h0M296.7 355.2h0M327.1 340.2h0M261.0 391.6h0M240.4 398.6h0M311.4 357.2h0M291.1 361.9h0M317.9 352.9h0M319.0 355.8h0M302.8 354.9h0M267.5 394.5h0M257.1 386.8h0M277.0 390.6h0M305.7 353.4h0M330.6 333.2h0M252.3 385.1h0M257.2 381.1h0M336.7 343.1h0M335.0 353.3h0M336.3 307.7h0M342.7 300.0h0M261.4 386.3h0M326.5 321.0h0M274.8 393.5h0M266.0 404.2h0M265.7 385.4h0M344.8 329.5h0M277.7 358.4h0M280.3 367.3h0M308.4 350.4h0M253.5 405.7h0M344.3 314.5h0M346.1 293.9h0M266.7 379.2h0M271.5 383.3h0M278.5 361.9h0M273.2 374.6h0M294.7 359.0h0M296.2 369.5h0M291.0 350.7h0M325.4 332.9h0M256.9 378.4h0M280.9 378.3h0M276.9 392.2h0M298.8 378.1h0M346.3 316.8h0M336.3 329.8h0M290.3 362.9h0M306.3 355.1h0M256.8 410.6h0M252.8 383.4h0M304.6 353.4h0M329.2 312.6h0M260.7 381.2h0M318.3 336.7h0M245.8 388.0h0M268.3 386.2h0M252.3 390.4h0M262.3 394.4h0M268.7 388.4h0M245.0 404.9h0M248.2 402.3h0M316.0 330.0h0M282.3 392.5h0M257.8 392.7h0M269.0 392.9h0M267.4 395.7h0M248.3 405.2h0M279.9 388.1h0M249.3 418.1h0M297.2 385.0h0M336.5 353.1h0M292.5 375.7h0M263.1 371.9h0M294.2 369.7h0M320.7 347.8h0M296.9 364.3h0M246.2 431.1h0M247.0 409.0h0M312.0 349.4h0M259.3 393.3h0M245.9 424.1h0M245.9 422.1h0M245.9 420.1h0M245.9 418.2h0M245.9 416.2h0M245.9 414.2h0M245.9 412.2h0M245.9 404.4h0M245.9 402.4h0M245.9 400.4h0M245.9 398.5h0M245.9 396.5h0M245.9 392.5h0M245.9 388.6h0M248.2 430.2h0M248.2 428.2h0M248.2 426.2h0M248.2 424.3h0M248.2 422.3h0M248.2 418.4h0M248.2 416.4h0M248.2 414.4h0M248.2 410.5h0M248.2 406.5h0M248.2 404.6h0M248.2 402.6h0M248.2 400.6h0M248.2 392.7h0M248.2 388.8h0M248.2 386.8h0M250.5 424.6h0M250.5 420.6h0M250.5 416.7h0M250.5 395.0h0M250.5 393.0h0M250.5 389.1h0M250.5 387.1h0M252.6 426.9h0M252.6 424.9h0M252.6 422.9h0M252.6 417.0h0M252.6 413.1h0M252.6 411.1h0M252.6 405.2h0M252.6 399.3h0M252.6 393.4h0M252.6 391.4h0M252.6 389.4h0M254.7 425.3h0M254.7 421.4h0M254.7 419.4h0M254.7 417.4h0M254.7 415.4h0M254.7 411.5h0M254.7 407.6h0M254.7 401.7h0M254.7 397.7h0M254.7 395.7h0M254.7 393.8h0M254.7 391.8h0M254.7 389.8h0M254.7 387.9h0M254.7 385.9h0M254.7 383.9h0M254.7 381.9h0M92.5 533.1h0M112.2 504.1h0M112.2 518.1h0" stroke="#bdbdbd" stroke-width="2.8" stroke-linecap="round" fill="none"/>
<path d="M129.4 481.3 L238.9 398.3 L348.4 315.3" fill="none" stroke="#e41a1c" stroke-width="2.0" stroke-dasharray="12.5 4.3" stroke-linejoin="round"/>
<path d="M129.4 484.8 L238.9 401.8 L348.4 318.8" fill="none" stroke="#e41a1c" stroke-width="2.0" stroke-linejoin="round"/>
<path d="M129.4 488.6 L238.9 405.6 L348.4 322.6" fill="none" stroke="#000000" stroke-width="2.0" stroke-dasharray="12.5 4.3" stroke-linejoin="round"/>
<path d="M129.4 492.1 L238.9 409.1 L348.4 326.1" fill="none" stroke="#000000" stroke-width="2.0" stroke-linejoin="round"/>
<path d="M129.4 496.8 L238.9 413.8 L348.4 330.8" fill="none" stroke="#4a8fca" stroke-width="2.0" stroke-dasharray="12.5 4.3" stroke-linejoin="round"/>
<path d="M129.4 500.3 L238.9 417.3 L348.4 334.3" fill="none" stroke="#4a8fca" stroke-width="2.0" stroke-linejoin="round"/>
</g>
<g clip-path="url(#c22)">
<path d="M407.4 532.2h0M407.4 515.9h0M407.4 503.5h0M407.4 477.3h0M407.4 464.9h0M407.4 459.0h0M407.4 454.5h0M407.4 445.5h0M407.4 439.3h0M407.4 426.9h0M407.4 418.2h0M407.4 411.7h0M407.4 399.9h0M431.3 532.2h0M431.3 454.5h0M431.3 475.9h0M431.3 428.1h0M431.3 414.0h0M448.8 474.2h0M448.8 474.2h0M448.8 508.3h0M448.8 483.1h0M448.8 494.1h0M448.8 422.9h0M448.8 417.4h0M448.8 429.0h0M448.8 508.3h0M462.1 440.0h0M462.1 398.3h0M462.1 454.2h0M462.1 436.1h0M462.1 460.0h0M462.1 474.2h0M462.1 494.1h0M462.1 460.0h0M462.1 454.2h0M473.0 398.3h0M473.0 440.0h0M473.0 429.0h0M473.0 474.2h0M473.0 449.0h0M473.0 390.2h0M473.0 474.2h0M473.0 440.0h0M473.0 444.3h0M482.2 396.5h0M482.2 483.1h0M482.2 483.1h0M482.2 436.1h0M482.2 440.0h0M482.2 420.0h0M482.2 405.9h0M482.2 466.6h0M482.2 466.6h0M490.2 466.6h0M490.2 460.0h0M490.2 474.2h0M490.2 425.8h0M490.2 414.8h0M490.2 474.2h0M490.2 410.2h0M490.2 483.1h0M490.2 412.4h0M503.5 391.7h0M503.5 420.0h0M503.5 474.2h0M503.5 466.6h0M503.5 384.5h0M503.5 466.6h0M503.5 440.0h0M503.5 474.2h0M503.5 466.6h0M514.4 432.4h0M514.4 394.9h0M514.4 422.9h0M514.4 460.0h0M514.4 429.0h0M514.4 466.6h0M514.4 422.9h0M514.4 466.6h0M514.4 429.0h0M523.7 387.3h0M523.7 460.0h0M523.7 429.0h0M523.7 417.4h0M523.7 460.0h0M523.7 405.9h0M523.7 440.0h0M523.7 444.3h0M523.7 420.0h0M531.6 345.3h0M531.6 401.9h0M531.6 449.0h0M531.6 365.9h0M531.6 403.9h0M531.6 449.0h0M531.6 429.0h0M531.6 436.1h0M531.6 405.9h0M538.7 391.7h0M538.7 417.4h0M538.7 412.4h0M538.7 379.5h0M538.7 449.0h0M538.7 401.9h0M538.7 373.8h0M538.7 391.7h0M538.7 354.6h0M545.0 432.4h0M545.0 379.5h0M545.0 444.3h0M545.0 425.8h0M545.0 390.2h0M545.0 400.1h0M545.0 436.1h0M545.0 372.8h0M545.0 425.8h0M553.2 454.2h0M600.7 388.7h0M568.1 394.9h0M643.1 302.4h0M681.4 327.4h0M549.9 396.5h0M637.8 319.7h0M677.2 310.3h0M679.0 328.3h0M585.2 370.7h0M673.8 327.4h0M675.6 330.9h0M552.8 403.9h0M664.8 340.8h0M584.6 365.9h0M638.4 311.8h0M655.4 343.0h0M592.1 388.7h0M681.5 325.8h0M616.9 358.3h0M617.5 372.8h0M663.7 323.0h0M639.4 327.0h0M609.9 412.4h0M632.8 342.4h0M593.6 369.7h0M618.7 308.6h0M561.4 414.8h0M654.6 306.9h0M681.2 390.2h0M654.3 312.1h0M574.1 420.0h0M547.3 417.4h0M628.4 356.0h0M674.7 323.8h0M641.9 333.6h0M667.7 341.3h0M635.1 337.1h0M644.6 335.6h0M599.2 355.3h0M564.1 412.4h0M601.1 356.0h0M652.9 313.7h0M571.0 408.0h0M635.8 321.1h0M683.4 233.5h0M615.8 286.5h0M627.6 368.7h0M634.4 298.5h0M678.0 308.0h0M664.5 327.0h0M606.5 383.2h0M636.3 331.3h0M644.8 346.6h0M660.0 319.7h0M618.1 281.1h0M564.5 385.9h0M663.0 312.4h0M611.6 366.8h0M582.9 373.8h0M548.7 394.9h0M678.3 319.3h0M583.8 394.9h0M622.8 343.6h0M678.3 425.8h0M608.3 367.8h0M561.2 449.0h0M657.7 323.4h0M626.3 360.7h0M647.0 378.3h0M653.5 336.6h0M633.8 287.0h0M663.9 318.3h0M557.8 417.4h0M625.2 398.3h0M564.7 429.0h0M597.3 388.7h0M561.9 394.9h0M613.5 339.7h0M553.5 346.6h0M604.8 370.7h0M644.1 349.1h0M590.8 341.3h0M682.7 341.3h0M594.1 359.1h0M620.5 351.7h0M570.4 362.4h0M664.7 330.4h0M599.2 360.7h0M676.4 351.1h0M639.0 319.7h0M658.3 390.2h0M615.3 373.8h0M624.3 369.7h0M642.6 323.4h0M592.4 408.0h0M566.6 444.3h0M644.7 371.7h0M672.9 337.6h0M558.1 422.9h0M576.8 368.7h0M596.0 316.6h0M662.5 298.3h0M648.4 355.3h0M682.2 385.9h0M649.5 330.0h0M659.1 271.0h0M679.5 214.0h0M592.8 420.0h0M576.6 372.8h0M676.3 262.8h0M550.8 440.0h0M682.9 345.9h0M578.1 400.1h0M682.6 266.3h0M611.8 345.9h0M581.6 379.5h0M627.3 323.0h0M617.6 400.1h0M629.3 359.9h0M608.3 355.3h0M570.9 381.9h0M633.4 367.8h0M567.5 364.1h0M547.3 408.0h0M643.9 326.6h0M681.2 317.9h0M614.1 310.6h0M665.8 283.3h0M596.5 369.7h0M639.2 364.1h0M586.8 379.5h0M567.0 393.3h0M557.8 390.2h0M549.2 420.0h0M665.2 306.6h0M625.2 349.1h0M681.6 320.4h0M657.0 355.3h0M622.0 353.1h0M669.7 302.4h0M672.6 312.1h0M617.6 391.7h0M592.3 337.1h0M638.4 340.2h0M550.6 432.4h0M611.7 336.1h0M589.8 360.7h0M669.1 394.9h0M587.0 380.7h0M646.5 300.0h0M640.7 294.5h0M624.2 347.8h0M647.6 226.5h0M665.8 296.7h0M567.0 449.0h0M611.4 353.8h0M641.4 364.1h0M683.9 304.7h0M641.4 300.2h0M621.0 346.6h0M572.8 381.9h0M565.5 344.2h0M613.6 368.7h0M637.1 328.3h0M617.4 378.3h0M649.2 314.6h0M657.8 350.4h0M619.7 374.9h0M585.3 383.2h0M552.3 440.0h0M587.6 371.7h0M647.1 318.6h0M624.5 376.0h0M604.1 373.8h0M684.3 342.4h0M570.7 379.5h0M660.4 310.9h0M640.4 374.9h0M674.7 323.8h0M653.5 311.8h0M546.8 440.0h0M582.4 410.2h0M625.4 357.5h0M554.9 429.0h0M575.6 417.4h0M557.6 349.1h0M612.5 366.8h0M634.6 346.6h0M545.2 377.1h0M652.4 317.6h0M655.9 328.3h0M641.8 343.6h0M547.1 368.7h0M662.5 277.3h0M570.6 429.0h0M573.4 408.0h0M616.9 383.2h0M662.0 327.8h0M666.2 319.7h0M591.7 414.8h0M575.6 403.9h0M550.3 422.9h0M667.5 306.1h0M616.9 330.0h0M682.8 283.6h0M617.8 368.7h0M682.9 309.7h0M665.2 325.4h0M596.9 380.7h0M681.7 349.7h0M640.9 359.9h0M549.8 394.9h0M616.4 319.7h0M648.3 365.0h0M650.9 308.6h0M622.4 359.9h0M602.3 344.7h0M598.9 353.1h0M566.1 412.4h0M631.3 352.4h0M626.3 312.4h0M598.4 353.1h0M559.4 417.4h0M570.2 394.9h0M636.1 329.5h0M643.0 294.1h0M635.3 368.7h0M603.1 393.3h0M683.4 333.6h0M654.8 403.9h0M671.6 328.7h0M683.3 259.2h0M683.5 315.6h0M676.1 296.5h0M620.6 344.2h0M608.9 339.1h0M551.6 414.8h0M643.4 364.1h0M571.2 367.8h0M552.5 381.9h0M648.2 335.1h0M613.4 373.8h0M608.9 357.5h0M548.3 385.9h0M603.5 369.7h0M677.0 314.0h0M647.6 332.7h0M671.4 296.7h0M679.9 331.3h0M603.5 381.9h0M575.8 410.2h0M594.0 408.0h0M669.8 299.0h0M683.4 303.2h0M662.8 346.6h0M590.2 365.9h0M632.5 327.4h0M590.3 381.9h0M567.2 400.1h0M613.2 362.4h0M611.6 444.3h0M589.7 417.4h0M610.1 381.9h0M597.4 400.1h0M551.4 405.9h0M602.7 361.6h0M567.0 381.9h0M591.2 359.1h0M668.5 320.1h0M576.8 381.9h0M545.4 410.2h0M564.4 420.0h0M553.6 372.8h0M577.2 384.5h0M595.4 405.9h0M644.1 329.1h0M597.1 356.8h0M650.4 360.7h0M664.9 323.8h0M616.7 330.0h0M583.4 372.8h0M646.4 336.1h0M552.9 403.9h0M678.3 336.6h0M672.2 333.2h0M681.0 321.5h0M547.8 356.0h0M644.0 339.7h0M576.8 362.4h0M610.4 358.3h0M672.9 380.7h0M628.3 331.8h0M611.6 334.1h0M610.0 365.0h0M661.6 368.7h0M553.6 408.0h0M683.1 286.3h0M586.8 358.3h0M624.9 351.7h0M663.1 328.3h0M592.7 379.5h0M584.0 376.0h0M605.6 400.1h0M547.0 380.7h0M680.3 310.6h0M661.5 329.5h0M580.2 394.9h0M628.2 363.3h0M584.2 359.1h0M614.1 394.9h0M578.1 379.5h0M669.9 333.2h0M577.7 414.8h0M599.7 356.0h0M619.2 371.7h0M603.7 353.8h0M679.0 327.8h0M556.4 440.0h0M659.0 330.4h0M623.4 376.0h0M576.1 379.5h0M612.8 391.7h0M628.5 343.0h0M673.2 317.9h0M606.3 340.2h0M628.4 299.5h0M634.0 374.9h0M618.2 398.3h0M599.7 368.7h0" stroke="#000" stroke-width="2.5" stroke-linecap="round" fill="none"/>
<path d="M407.4 491.4h0M407.4 489.7h0M407.4 488.0h0M407.4 486.3h0M407.4 484.6h0M407.4 483.0h0M407.4 545.7h0M407.4 544.0h0M407.4 542.4h0M407.4 540.7h0M407.4 539.0h0M407.4 537.3h0M431.3 471.4h0M431.3 469.7h0M431.3 468.0h0M431.3 466.3h0M431.3 527.7h0M431.3 526.0h0M431.3 524.3h0M431.3 522.6h0M448.8 483.4h0M448.8 470.3h0M448.8 481.4h0M448.8 480.2h0M448.8 488.7h0M448.8 503.2h0M462.1 476.5h0M462.1 488.4h0M462.1 490.0h0M462.1 484.2h0M462.1 470.7h0M462.1 467.4h0M473.0 475.6h0M473.0 453.6h0M473.0 484.1h0M473.0 454.8h0M473.0 462.6h0M473.0 475.5h0M482.2 451.8h0M482.2 457.0h0M482.2 483.6h0M482.2 477.5h0M482.2 449.6h0M482.2 478.3h0M490.2 443.6h0M490.2 436.4h0M490.2 472.6h0M490.2 454.4h0M490.2 432.3h0M490.2 471.8h0M503.5 453.7h0M503.5 440.2h0M503.5 443.8h0M503.5 459.8h0M503.5 434.9h0M503.5 427.7h0M514.4 424.0h0M514.4 447.4h0M514.4 455.6h0M514.4 445.3h0M514.4 429.5h0M514.4 446.7h0M523.7 444.5h0M523.7 455.1h0M523.7 425.2h0M523.7 433.1h0M523.7 420.5h0M523.7 418.3h0M531.6 408.1h0M531.6 432.3h0M531.6 407.9h0M531.6 419.6h0M531.6 422.8h0M531.6 419.9h0M538.7 434.6h0M538.7 434.4h0M538.7 411.8h0M538.7 418.3h0M538.7 411.2h0M538.7 427.8h0M545.0 434.7h0M545.0 434.8h0M545.0 405.3h0M545.0 434.3h0M545.0 410.9h0M545.0 399.4h0M656.4 318.7h0M673.9 343.0h0M652.4 314.3h0M671.7 330.3h0M663.9 342.6h0M619.5 370.5h0M613.1 352.7h0M653.4 332.2h0M667.5 313.3h0M598.3 385.8h0M657.3 319.8h0M661.0 337.0h0M630.3 350.4h0M597.1 389.4h0M667.4 334.8h0M661.1 342.7h0M586.9 375.4h0M575.5 385.3h0M625.1 402.8h0M559.7 405.3h0M661.9 333.0h0M569.7 416.5h0M612.4 385.0h0M569.0 385.7h0M526.7 434.8h0M573.8 385.8h0M652.9 330.4h0M595.7 414.7h0M540.0 403.3h0M601.9 395.1h0M622.1 370.5h0M669.0 331.8h0M653.5 335.1h0M614.6 362.7h0M601.9 381.4h0M637.6 354.6h0M630.3 351.6h0M584.1 378.3h0M664.4 337.9h0M668.0 323.4h0M668.7 323.8h0M594.6 391.1h0M675.0 329.7h0M668.5 331.9h0M569.5 370.2h0M637.9 347.4h0M676.4 313.3h0M665.3 321.3h0M639.0 358.7h0M588.0 380.5h0M635.0 373.8h0M565.3 420.5h0M606.4 367.6h0M580.8 397.1h0M674.8 320.9h0M578.4 385.0h0M603.1 348.6h0M590.3 386.0h0M659.9 334.0h0M552.6 440.2h0M666.5 312.7h0M617.8 365.2h0M682.5 326.5h0M604.7 362.1h0M652.2 339.9h0M621.1 371.6h0M597.3 390.2h0M590.3 375.5h0M661.8 320.5h0M657.9 335.8h0M649.7 343.4h0M678.7 292.8h0M607.5 376.6h0M622.8 373.7h0M587.2 377.3h0M639.5 356.8h0M679.2 338.6h0M635.8 347.4h0M592.6 387.2h0M605.8 349.0h0M625.5 352.6h0M650.5 326.5h0M638.6 331.2h0M637.7 340.7h0M626.6 342.9h0M647.7 356.3h0M603.2 385.4h0M647.7 343.5h0M648.2 328.0h0M588.2 376.9h0M613.9 356.4h0M681.2 305.1h0M608.3 371.6h0M567.7 408.1h0M653.4 348.0h0M643.2 325.8h0M592.4 402.5h0M574.0 412.4h0M591.1 377.4h0M595.5 392.8h0M646.1 336.1h0M577.0 403.5h0M656.2 337.7h0M640.5 359.6h0M654.3 331.3h0M577.7 387.7h0M616.7 344.8h0M683.2 309.1h0M645.0 337.0h0M547.1 425.0h0M586.8 390.1h0M536.7 429.3h0M539.3 442.7h0M582.1 408.2h0M594.7 383.4h0M680.4 316.1h0M681.3 297.2h0M546.9 424.9h0M613.9 386.3h0M680.8 310.8h0M594.4 386.5h0M640.5 359.1h0M552.6 417.5h0M620.4 393.2h0M592.4 384.2h0M553.8 407.9h0M614.0 368.0h0M543.6 425.3h0M535.6 425.8h0M546.6 401.5h0M549.7 424.7h0M643.9 319.3h0M672.2 326.2h0M651.1 337.1h0M565.4 364.1h0M638.1 345.7h0M544.1 421.3h0M634.0 348.8h0M627.3 373.6h0M551.8 393.0h0M652.6 337.5h0M611.8 368.0h0M637.4 359.1h0M649.9 336.8h0M656.8 325.1h0M666.3 364.8h0M663.6 350.7h0M671.2 319.1h0M613.2 374.8h0M676.9 324.3h0M640.7 364.3h0M676.4 337.7h0M633.0 338.6h0M628.8 351.5h0M605.4 366.0h0M591.3 423.7h0M659.7 332.6h0M658.2 331.5h0M594.4 375.8h0M655.0 347.3h0M611.0 357.3h0M621.6 347.4h0M616.3 366.4h0M666.5 363.6h0M584.3 389.9h0M674.9 321.7h0M573.4 387.5h0M600.1 383.5h0M665.9 322.7h0M624.9 362.3h0M608.5 372.1h0M669.5 330.2h0M613.0 360.7h0M649.1 326.0h0M675.2 311.6h0M576.0 407.3h0M650.7 331.0h0M681.7 323.2h0M592.6 378.3h0M580.3 426.3h0M636.6 340.8h0M581.2 394.8h0M584.4 392.5h0M665.7 328.7h0M655.4 353.0h0M671.2 338.3h0M622.7 395.4h0M641.3 343.2h0M623.8 367.6h0M671.7 324.1h0M619.7 357.9h0M599.3 384.4h0M619.7 355.0h0M545.5 444.3h0M564.0 407.9h0M618.4 359.8h0M560.1 416.5h0M572.2 397.4h0M662.4 341.2h0M547.4 405.6h0M645.6 333.9h0M549.6 424.5h0M619.4 372.0h0M540.7 419.2h0M624.0 366.8h0M628.8 356.3h0M588.1 390.1h0M574.7 394.6h0M634.0 369.3h0M659.7 333.3h0M632.9 343.3h0M574.8 412.6h0M587.6 383.0h0M620.7 361.5h0M660.6 328.2h0M673.6 353.4h0M609.4 374.2h0M589.4 391.7h0M670.7 320.6h0M568.1 391.5h0" stroke="#bdbdbd" stroke-width="2.8" stroke-linecap="round" fill="none"/>
<path d="M426.5 476.7 L558.0 383.1 L689.4 289.6" fill="none" stroke="#e41a1c" stroke-width="2.0" stroke-dasharray="12.5 4.3" stroke-linejoin="round"/>
<path d="M426.5 479.2 L558.0 385.7 L689.4 292.1" fill="none" stroke="#e41a1c" stroke-width="2.0" stroke-linejoin="round"/>
<path d="M426.5 497.8 L558.0 404.2 L689.4 310.7" fill="none" stroke="#000000" stroke-width="2.0" stroke-dasharray="12.5 4.3" stroke-linejoin="round"/>
<path d="M426.5 500.3 L558.0 406.8 L689.4 313.2" fill="none" stroke="#000000" stroke-width="2.0" stroke-linejoin="round"/>
<path d="M426.5 519.2 L558.0 425.6 L689.4 332.1" fill="none" stroke="#4a8fca" stroke-width="2.0" stroke-dasharray="12.5 4.3" stroke-linejoin="round"/>
<path d="M426.5 521.7 L558.0 428.2 L689.4 334.6" fill="none" stroke="#4a8fca" stroke-width="2.0" stroke-linejoin="round"/>
</g>
<g clip-path="url(#c31)">
<path d="M134.4 793.7h0M134.4 801.2h0M134.4 804.8h0M134.4 800.2h0M134.4 799.9h0M150.1 795.7h0M150.1 761.8h0M150.1 790.2h0M150.1 797.4h0M150.1 805.3h0M150.1 796.4h0M150.1 762.0h0M150.1 785.8h0M150.1 777.0h0M150.1 778.7h0M150.1 786.8h0M150.1 801.2h0M150.1 805.2h0M150.1 783.7h0M150.1 784.3h0M162.4 774.5h0M162.4 760.8h0M162.4 740.2h0M162.4 778.0h0M162.4 753.7h0M162.4 796.6h0M162.4 787.9h0M162.4 785.8h0M162.4 743.1h0M162.4 801.7h0M162.4 790.1h0M162.4 791.7h0M162.4 796.5h0M162.4 803.4h0M162.4 790.4h0M162.4 783.6h0M162.4 733.1h0M162.4 766.8h0M162.4 800.5h0M162.4 778.4h0M162.4 786.5h0M162.4 784.0h0M162.4 790.8h0M162.4 760.3h0M162.4 764.1h0M162.4 777.4h0M162.4 730.7h0M162.4 782.7h0M162.4 795.1h0M162.4 755.1h0M172.3 771.1h0M172.3 797.8h0M172.3 790.6h0M172.3 798.6h0M172.3 736.3h0M172.3 771.9h0M172.3 771.1h0M172.3 798.2h0M172.3 760.7h0M172.3 761.4h0M172.3 779.0h0M172.3 800.2h0M172.3 781.0h0M172.3 724.0h0M172.3 768.2h0M172.3 744.4h0M172.3 795.2h0M172.3 769.1h0M172.3 740.8h0M172.3 760.2h0M172.3 774.4h0M172.3 789.9h0M172.3 794.3h0M172.3 786.7h0M172.3 704.7h0M172.3 750.4h0M172.3 763.9h0M172.3 709.9h0M172.3 801.9h0M172.3 755.2h0M172.3 804.6h0M172.3 733.4h0M172.3 795.2h0M172.3 708.5h0M172.3 765.9h0M172.3 800.4h0M172.3 718.5h0M172.3 790.4h0M172.3 793.0h0M172.3 781.7h0M172.3 763.2h0M172.3 799.5h0M172.3 798.2h0M172.3 797.9h0M172.3 729.4h0M180.8 780.6h0M180.8 764.7h0M180.8 787.9h0M180.8 703.5h0M180.8 709.7h0M180.8 799.0h0M180.8 797.9h0M180.8 798.1h0M180.8 714.9h0M180.8 699.2h0M180.8 793.5h0M180.8 718.3h0M180.8 723.2h0M180.8 715.3h0M180.8 755.0h0M180.8 772.7h0M180.8 802.5h0M180.8 739.6h0M180.8 786.3h0M180.8 689.7h0M180.8 692.3h0M180.8 731.2h0M180.8 762.7h0M180.8 799.2h0M180.8 746.7h0M180.8 797.0h0M180.8 781.3h0M180.8 793.1h0M180.8 680.1h0M180.8 775.8h0M180.8 778.4h0M180.8 802.2h0M180.8 760.9h0M180.8 688.3h0M180.8 743.6h0M180.8 787.4h0M180.8 736.4h0M180.8 784.7h0M180.8 762.0h0M180.8 786.3h0M180.8 793.1h0M180.8 712.2h0M180.8 794.7h0M180.8 802.9h0M180.8 782.4h0M180.8 781.9h0M180.8 785.3h0M180.8 712.9h0M180.8 775.4h0M180.8 713.5h0M180.8 775.6h0M180.8 728.9h0M180.8 787.9h0M180.8 706.7h0M180.8 771.7h0M180.8 770.6h0M180.8 695.1h0M180.8 670.5h0M180.8 687.4h0M180.8 790.8h0M180.8 777.1h0M180.8 789.6h0M180.8 763.7h0M180.8 765.1h0M180.8 724.6h0M180.8 780.1h0M180.8 717.3h0M180.8 765.4h0M180.8 739.5h0M180.8 749.7h0M180.8 797.3h0M180.8 719.0h0M180.8 798.5h0M180.8 797.9h0M180.8 753.8h0M180.8 711.9h0M180.8 712.5h0M180.8 783.2h0M180.8 742.5h0M180.8 791.4h0M180.8 698.8h0M180.8 718.9h0M180.8 703.7h0M180.8 777.8h0M180.8 668.9h0M180.8 731.1h0M180.8 678.6h0M180.8 675.5h0M180.8 755.1h0M180.8 803.7h0M188.1 650.0h0M188.1 730.7h0M188.1 661.4h0M188.1 712.2h0M188.1 721.6h0M188.1 757.3h0M188.1 726.4h0M188.1 663.9h0M188.1 709.4h0M188.1 753.0h0M188.1 778.5h0M188.1 776.3h0M188.1 666.8h0M188.1 676.3h0M188.1 666.3h0M188.1 657.7h0M188.1 796.3h0M188.1 769.7h0M188.1 760.1h0M188.1 722.1h0M188.1 718.7h0M188.1 784.1h0M188.1 743.9h0M188.1 765.2h0M188.1 701.2h0M188.1 784.5h0M188.1 648.6h0M188.1 795.5h0M188.1 707.7h0M188.1 792.0h0M188.1 693.2h0M188.1 700.8h0M188.1 739.2h0M188.1 758.4h0M188.1 672.2h0M188.1 731.5h0M188.1 773.8h0M188.1 688.5h0M188.1 688.8h0M188.1 746.8h0M188.1 735.9h0M188.1 791.9h0M188.1 687.6h0M188.1 765.4h0M188.1 681.4h0M188.1 703.0h0M188.1 797.2h0M188.1 654.0h0M188.1 666.7h0M188.1 763.5h0M188.1 692.5h0M188.1 780.8h0M188.1 759.3h0M188.1 684.9h0M188.1 786.2h0M188.1 710.1h0M188.1 788.1h0M188.1 756.4h0M188.1 794.4h0M188.1 667.0h0M188.1 660.6h0M188.1 744.1h0M188.1 704.0h0M188.1 734.9h0M188.1 673.5h0M188.1 681.6h0M188.1 727.4h0M188.1 752.7h0M188.1 673.5h0M188.1 778.6h0M188.1 720.8h0M188.1 656.5h0M188.1 788.5h0M188.1 660.9h0M188.1 796.3h0M188.1 650.9h0M188.1 652.3h0M188.1 730.8h0M188.1 679.2h0M188.1 699.5h0M188.1 771.7h0M188.1 662.0h0M188.1 779.7h0M188.1 796.2h0M188.1 790.8h0M188.1 745.7h0M188.1 757.8h0M188.1 783.2h0M188.1 774.2h0M188.1 690.9h0M194.5 771.3h0M194.5 672.4h0M194.5 699.5h0M194.5 693.9h0M194.5 648.6h0M194.5 766.8h0M194.5 651.2h0M194.5 643.4h0M194.5 702.7h0M194.5 652.8h0M194.5 784.8h0M194.5 793.2h0M194.5 731.8h0M194.5 735.1h0M194.5 773.8h0M194.5 759.5h0M194.5 680.9h0M194.5 691.7h0M194.5 755.5h0M194.5 659.9h0M194.5 763.6h0M194.5 653.1h0M194.5 730.7h0M194.5 668.5h0M194.5 699.8h0M194.5 691.4h0M194.5 784.3h0M194.5 662.2h0M194.5 667.4h0M194.5 692.5h0M194.5 656.0h0M194.5 690.8h0M194.5 774.1h0M194.5 685.3h0M194.5 663.0h0M194.5 783.3h0M194.5 760.9h0M194.5 707.0h0M194.5 662.2h0M194.5 657.8h0M194.5 797.7h0M194.5 652.5h0M194.5 712.3h0M194.5 703.8h0M194.5 666.5h0M194.5 743.3h0M194.5 723.3h0M194.5 639.4h0M194.5 776.6h0M194.5 684.9h0M194.5 651.6h0M194.5 790.2h0M194.5 726.5h0M194.5 704.7h0M194.5 692.1h0M194.5 768.1h0M194.5 713.1h0M194.5 760.1h0M194.5 732.9h0M194.5 794.5h0M194.5 685.7h0M194.5 722.6h0M194.5 799.2h0M194.5 682.2h0M194.5 761.3h0M194.5 662.7h0M194.5 708.2h0M194.5 769.0h0M194.5 720.0h0M194.5 687.6h0M194.5 749.1h0M194.5 746.9h0M194.5 647.8h0M194.5 672.8h0M194.5 799.0h0M194.5 650.1h0M194.5 778.0h0M194.5 731.5h0M194.5 639.4h0M194.5 638.4h0M194.5 751.0h0M194.5 793.9h0M194.5 650.0h0M194.5 651.6h0M194.5 683.6h0M194.5 793.8h0M194.5 783.3h0M194.5 684.6h0M194.5 668.8h0M194.5 671.1h0M200.3 657.7h0M200.3 759.4h0M200.3 629.5h0M200.3 689.9h0M200.3 794.7h0M200.3 667.9h0M200.3 622.9h0M200.3 625.4h0M200.3 640.6h0M200.3 707.4h0M200.3 659.3h0M200.3 655.7h0M200.3 665.7h0M200.3 656.1h0M200.3 671.7h0M200.3 641.6h0M200.3 721.2h0M200.3 709.9h0M200.3 785.0h0M200.3 665.2h0M200.3 640.7h0M200.3 698.7h0M200.3 758.9h0M200.3 769.6h0M200.3 762.8h0M200.3 669.1h0M200.3 683.0h0M200.3 637.6h0M200.3 644.4h0M200.3 665.1h0M200.3 756.9h0M200.3 762.0h0M200.3 701.8h0M200.3 769.6h0M200.3 690.1h0M200.3 721.1h0M200.3 691.5h0M200.3 644.5h0M200.3 631.6h0M200.3 768.5h0M200.3 677.4h0M200.3 653.2h0M200.3 689.2h0M200.3 681.6h0M200.3 676.6h0M200.3 672.9h0M200.3 644.6h0M200.3 716.8h0M200.3 764.6h0M200.3 755.1h0M200.3 716.4h0M200.3 702.7h0M200.3 643.7h0M200.3 646.9h0M200.3 627.8h0M200.3 770.9h0M200.3 793.4h0M200.3 776.2h0M200.3 643.2h0M200.3 646.3h0M200.3 626.1h0M200.3 781.7h0M200.3 745.0h0M200.3 714.6h0M200.3 657.9h0M200.3 695.8h0M200.3 724.9h0M200.3 674.3h0M200.3 774.0h0M200.3 763.2h0M200.3 684.7h0M200.3 686.0h0M200.3 651.9h0M200.3 677.0h0M200.3 745.7h0M200.3 622.8h0M200.3 744.3h0M200.3 720.9h0M200.3 739.7h0M200.3 739.6h0M200.3 628.1h0M200.3 791.4h0M200.3 703.1h0M200.3 782.8h0M200.3 798.3h0M200.3 652.9h0M200.3 644.7h0M200.3 625.9h0M200.3 748.1h0M200.3 765.2h0M205.5 653.2h0M205.5 675.7h0M205.5 632.4h0M205.5 711.7h0M205.5 676.9h0M205.5 691.7h0M205.5 630.9h0M205.5 613.8h0M205.5 689.9h0M205.5 702.3h0M205.5 782.7h0M205.5 753.8h0M205.5 694.4h0M205.5 682.1h0M205.5 734.2h0M205.5 745.0h0M205.5 647.6h0M205.5 795.8h0M205.5 683.2h0M205.5 629.5h0M205.5 676.5h0M205.5 723.8h0M205.5 651.1h0M205.5 748.6h0M205.5 648.4h0M205.5 743.5h0M205.5 677.6h0M205.5 640.7h0M205.5 662.1h0M205.5 687.1h0M205.5 739.8h0M205.5 672.8h0M205.5 762.4h0M205.5 646.5h0M205.5 791.7h0M205.5 649.1h0M205.5 739.4h0M205.5 764.4h0M205.5 626.9h0M205.5 711.7h0M205.5 630.9h0M205.5 627.1h0M205.5 653.8h0M205.5 643.4h0M205.5 684.4h0M205.5 687.7h0M205.5 687.7h0M205.5 688.6h0M205.5 751.3h0M205.5 760.5h0M205.5 652.7h0M205.5 624.9h0M205.5 724.0h0M205.5 642.7h0M205.5 655.7h0M205.5 616.9h0M205.5 731.4h0M205.5 657.5h0M205.5 668.9h0M205.5 763.5h0M205.5 718.5h0M205.5 617.7h0M205.5 786.0h0M205.5 772.2h0M205.5 673.6h0M205.5 749.5h0M205.5 671.9h0M205.5 677.8h0M205.5 748.7h0M205.5 624.9h0M205.5 764.7h0M205.5 778.0h0M205.5 722.5h0M205.5 682.3h0M205.5 788.3h0M205.5 701.7h0M205.5 635.7h0M205.5 780.3h0M205.5 718.8h0M205.5 695.0h0M205.5 694.8h0M205.5 733.3h0M205.5 696.3h0M205.5 666.2h0M205.5 710.7h0M205.5 746.8h0M205.5 786.9h0M205.5 653.1h0M205.5 613.6h0M205.5 767.8h0M210.3 770.7h0M210.3 616.7h0M210.3 679.5h0M210.3 633.2h0M210.3 628.7h0M210.3 612.8h0M210.3 608.3h0M210.3 640.7h0M210.3 789.2h0M210.3 657.5h0M210.3 645.4h0M210.3 659.6h0M210.3 741.6h0M210.3 638.4h0M210.3 662.6h0M210.3 678.9h0M210.3 611.3h0M210.3 672.7h0M210.3 619.4h0M210.3 789.6h0M210.3 638.7h0M210.3 630.6h0M210.3 787.9h0M210.3 735.8h0M210.3 714.9h0M210.3 629.0h0M210.3 641.5h0M210.3 704.0h0M210.3 701.2h0M210.3 633.2h0M210.3 628.4h0M210.3 649.8h0M210.3 609.8h0M210.3 614.4h0M210.3 780.8h0M210.3 628.0h0M210.3 639.5h0M210.3 626.3h0M210.3 679.7h0M210.3 628.6h0M210.3 609.5h0M210.3 796.3h0M210.3 636.0h0M210.3 646.1h0M210.3 631.7h0M210.3 632.6h0M210.3 664.8h0M210.3 643.5h0M210.3 630.8h0M210.3 700.6h0M210.3 752.4h0M210.3 691.6h0M210.3 626.0h0M210.3 629.7h0M210.3 617.9h0M210.3 639.8h0M210.3 680.2h0M210.3 779.1h0M210.3 622.7h0M210.3 666.5h0M210.3 621.0h0M210.3 626.4h0M210.3 681.9h0M210.3 667.8h0M210.3 655.1h0M210.3 700.8h0M210.3 745.6h0M210.3 620.3h0M210.3 776.9h0M210.3 649.2h0M210.3 615.5h0M210.3 723.1h0M210.3 660.4h0M210.3 682.9h0M210.3 690.4h0M210.3 634.2h0M210.3 627.3h0M210.3 748.3h0M210.3 623.5h0M210.3 701.3h0M210.3 665.7h0M210.3 611.3h0M210.3 747.6h0M210.3 716.6h0M210.3 647.4h0M210.3 623.1h0M210.3 670.2h0M210.3 655.9h0M210.3 767.7h0M210.3 641.0h0M214.7 697.0h0M214.7 662.9h0M214.7 671.7h0M214.7 763.4h0M214.7 676.9h0M214.7 622.1h0M214.7 791.1h0M214.7 644.3h0M214.7 764.3h0M214.7 770.1h0M214.7 714.9h0M214.7 726.1h0M214.7 738.2h0M214.7 610.9h0M214.7 652.7h0M214.7 661.4h0M214.7 610.2h0M214.7 702.2h0M214.7 672.6h0M214.7 621.8h0M214.7 690.0h0M214.7 768.8h0M214.7 644.1h0M214.7 749.5h0M214.7 610.9h0M214.7 631.6h0M214.7 629.3h0M214.7 641.6h0M214.7 606.8h0M214.7 658.4h0M214.7 689.2h0M214.7 778.2h0M214.7 773.6h0M214.7 710.8h0M214.7 679.9h0M214.7 755.5h0M214.7 755.2h0M214.7 755.0h0M214.7 660.4h0M214.7 609.2h0M214.7 675.7h0M214.7 637.1h0M214.7 658.2h0M214.7 604.2h0M214.7 733.4h0M214.7 731.6h0M214.7 730.3h0M214.7 669.5h0M214.7 627.7h0M214.7 657.4h0M214.7 754.4h0M214.7 602.6h0M214.7 605.2h0M214.7 748.1h0M214.7 610.5h0M214.7 762.4h0M214.7 602.6h0M214.7 746.2h0M214.7 752.0h0M214.7 612.8h0M214.7 610.9h0M214.7 776.7h0M214.7 761.0h0M214.7 712.8h0M214.7 610.6h0M214.7 688.7h0M214.7 767.1h0M214.7 659.3h0M214.7 681.7h0M214.7 760.9h0M214.7 603.8h0M214.7 675.6h0M214.7 684.0h0M214.7 707.2h0M214.7 643.8h0M214.7 609.8h0M214.7 682.0h0M214.7 612.7h0M214.7 676.9h0M214.7 630.5h0M214.7 757.7h0M214.7 653.8h0M214.7 742.6h0M214.7 784.9h0M214.7 615.6h0M214.7 732.1h0M214.7 648.4h0M214.7 609.9h0M214.7 616.9h0M214.7 714.3h0M218.7 677.1h0M218.7 612.1h0M218.7 726.1h0M218.7 716.5h0M218.7 601.3h0M218.7 723.7h0M218.7 602.5h0M218.7 715.9h0M218.7 736.1h0M218.7 609.4h0M218.7 692.4h0M218.7 604.8h0M218.7 614.9h0M218.7 618.9h0M218.7 704.7h0M218.7 662.1h0M218.7 607.6h0M218.7 734.5h0M218.7 651.7h0M218.7 626.5h0M218.7 626.2h0M218.7 599.7h0M218.7 710.4h0M218.7 784.5h0M218.7 603.7h0M218.7 699.2h0M218.7 660.4h0M218.7 610.9h0M218.7 626.1h0M218.7 605.0h0M218.7 754.7h0M218.7 646.9h0M218.7 630.1h0M218.7 611.5h0M218.7 606.0h0M218.7 659.6h0M218.7 770.2h0M218.7 629.8h0M218.7 685.9h0M218.7 708.6h0M218.7 767.7h0M218.7 597.5h0M218.7 685.8h0M218.7 601.4h0M218.7 599.0h0M218.7 624.6h0M218.7 601.0h0M218.7 738.2h0M218.7 722.3h0M218.7 650.5h0M218.7 683.9h0M218.7 608.4h0M218.7 764.3h0M218.7 734.1h0M218.7 643.1h0M218.7 601.3h0M218.7 673.1h0M218.7 613.3h0M218.7 643.9h0M218.7 615.6h0M218.7 744.5h0M218.7 716.6h0M218.7 655.7h0M218.7 607.4h0M218.7 628.2h0M218.7 618.9h0M218.7 635.7h0M218.7 599.0h0M218.7 722.4h0M218.7 617.7h0M218.7 728.6h0M218.7 609.1h0M218.7 666.1h0M218.7 626.4h0M218.7 649.5h0M218.7 599.7h0M218.7 786.0h0M218.7 607.2h0M218.7 609.6h0M218.7 608.4h0M218.7 637.9h0M218.7 669.7h0M218.7 671.5h0M218.7 736.5h0M218.7 597.5h0M218.7 752.9h0M218.7 627.9h0M218.7 628.4h0M218.7 600.6h0M218.7 650.2h0M222.5 663.2h0M222.5 597.2h0M222.5 700.4h0M222.5 620.1h0M222.5 619.5h0M222.5 617.1h0M222.5 705.6h0M222.5 604.3h0M222.5 634.4h0M222.5 630.6h0M222.5 605.0h0M222.5 602.4h0M222.5 618.2h0M222.5 603.7h0M222.5 599.9h0M222.5 630.5h0M222.5 608.2h0M222.5 624.7h0M222.5 654.3h0M222.5 601.9h0M222.5 627.5h0M222.5 599.1h0M222.5 604.5h0M222.5 623.5h0M222.5 664.1h0M222.5 686.7h0M222.5 646.1h0M222.5 612.4h0M222.5 609.7h0M222.5 605.3h0M222.5 686.3h0M222.5 621.6h0M222.5 736.0h0M222.5 692.0h0M222.5 672.7h0M222.5 725.7h0M222.5 769.7h0M222.5 598.0h0M222.5 761.1h0M222.5 639.0h0M222.5 596.5h0M222.5 612.0h0M222.5 653.5h0M222.5 652.4h0M222.5 655.0h0M222.5 606.5h0M222.5 708.1h0M222.5 639.4h0M222.5 658.8h0M222.5 611.1h0M222.5 704.3h0M222.5 741.4h0M222.5 602.4h0M222.5 628.1h0M222.5 597.7h0M222.5 720.7h0M222.5 604.4h0M222.5 735.4h0M222.5 719.5h0M222.5 644.5h0M222.5 635.2h0M222.5 605.7h0M222.5 609.6h0M222.5 615.7h0M222.5 617.0h0M222.5 788.0h0M222.5 597.9h0M222.5 597.3h0M222.5 667.3h0M222.5 618.0h0M222.5 742.2h0M222.5 595.7h0M222.5 768.7h0M222.5 631.4h0M222.5 613.2h0M222.5 610.4h0M222.5 641.6h0M222.5 619.7h0M222.5 725.4h0M222.5 614.6h0M222.5 672.2h0M222.5 656.9h0M222.5 626.4h0M222.5 600.1h0M222.5 603.3h0M222.5 744.9h0M222.5 618.1h0M222.5 603.5h0M222.5 600.4h0M222.5 614.1h0M226.0 621.1h0M226.0 615.9h0M226.0 743.7h0M226.0 635.5h0M226.0 664.6h0M226.0 758.2h0M226.0 622.4h0M226.0 689.2h0M226.0 625.8h0M226.0 620.1h0M226.0 596.6h0M226.0 612.3h0M226.0 639.3h0M226.0 632.4h0M226.0 594.5h0M226.0 592.9h0M226.0 624.8h0M226.0 646.2h0M226.0 624.2h0M226.0 652.2h0M226.0 641.5h0M226.0 655.7h0M226.0 736.2h0M226.0 625.5h0M226.0 704.9h0M226.0 605.6h0M226.0 611.8h0M226.0 678.1h0M226.0 620.5h0M226.0 593.9h0M226.0 639.1h0M226.0 722.6h0M226.0 681.3h0M226.0 615.9h0M226.0 596.4h0M226.0 693.9h0M226.0 677.7h0M226.0 613.2h0M226.0 614.3h0M226.0 709.6h0M226.0 675.4h0M226.0 662.5h0M226.0 639.7h0M226.0 610.9h0M226.0 715.2h0M226.0 593.5h0M226.0 604.9h0M226.0 750.0h0M226.0 709.0h0M226.0 664.5h0M226.0 594.5h0M226.0 607.0h0M226.0 638.4h0M226.0 666.5h0M226.0 647.8h0M226.0 607.0h0M226.0 596.1h0M226.0 601.6h0M226.0 680.2h0M226.0 671.6h0M226.0 707.7h0M226.0 628.7h0M226.0 676.9h0M226.0 593.9h0M226.0 696.6h0M226.0 660.1h0M226.0 612.8h0M226.0 601.3h0M226.0 597.2h0M226.0 658.0h0M226.0 756.7h0M226.0 598.9h0M226.0 610.7h0M226.0 611.8h0M226.0 660.6h0M226.0 596.4h0M226.0 665.5h0M226.0 596.7h0M226.0 636.1h0M226.0 711.1h0M226.0 594.3h0M226.0 593.0h0M226.0 703.8h0M226.0 712.1h0M226.0 617.6h0M226.0 612.9h0M226.0 638.9h0M226.0 597.0h0M226.0 649.0h0M226.0 613.6h0M229.3 754.9h0M229.3 668.4h0M229.3 598.6h0M229.3 715.7h0M229.3 626.1h0M229.3 670.9h0M229.3 626.3h0M229.3 622.9h0M229.3 608.7h0M229.3 648.7h0M229.3 675.9h0M229.3 608.6h0M229.3 597.9h0M229.3 593.8h0M229.3 618.9h0M229.3 664.4h0M229.3 665.5h0M229.3 676.2h0M229.3 610.2h0M229.3 593.9h0M229.3 605.0h0M229.3 604.0h0M229.3 642.9h0M229.3 591.7h0M229.3 648.6h0M229.3 592.0h0M229.3 613.6h0M229.3 645.7h0M229.3 660.8h0M229.3 608.9h0M229.3 611.5h0M229.3 623.7h0M229.3 602.1h0M229.3 641.2h0M229.3 595.0h0M229.3 619.1h0M229.3 683.1h0M229.3 607.1h0M229.3 620.1h0M229.3 607.3h0M229.3 591.0h0M229.3 623.4h0M229.3 596.0h0M229.3 603.5h0M229.3 617.5h0M229.3 684.9h0M229.3 609.9h0M229.3 595.8h0M229.3 607.9h0M229.3 624.2h0M229.3 606.1h0M229.3 638.0h0M229.3 598.3h0M229.3 740.6h0M229.3 618.7h0M229.3 594.4h0M229.3 592.4h0M229.3 602.3h0M229.3 593.2h0M229.3 603.7h0M229.3 617.6h0M229.3 698.5h0M229.3 639.7h0M229.3 594.3h0M229.3 591.2h0M229.3 600.2h0M229.3 762.9h0M229.3 599.0h0M229.3 613.0h0M229.3 607.5h0M229.3 593.7h0M229.3 714.1h0M229.3 727.5h0M229.3 592.1h0M229.3 716.3h0M229.3 600.3h0M229.3 593.5h0M229.3 603.6h0M229.3 623.7h0M229.3 646.5h0M229.3 758.6h0M229.3 619.2h0M229.3 620.0h0M229.3 599.6h0M229.3 659.8h0M229.3 617.4h0M229.3 629.4h0M229.3 624.7h0M229.3 593.7h0M229.3 607.3h0M232.5 690.0h0M232.5 594.7h0M232.5 594.4h0M232.5 595.1h0M232.5 643.0h0M232.5 594.7h0M232.5 624.7h0M232.5 697.9h0M232.5 746.5h0M232.5 609.0h0M232.5 671.9h0M232.5 718.2h0M232.5 603.9h0M232.5 602.8h0M232.5 755.8h0M232.5 606.5h0M232.5 590.7h0M232.5 637.5h0M232.5 593.7h0M232.5 710.9h0M232.5 601.6h0M232.5 625.7h0M232.5 598.3h0M232.5 611.9h0M232.5 618.5h0M232.5 605.0h0M232.5 594.0h0M232.5 633.7h0M232.5 620.0h0M232.5 591.1h0M232.5 673.5h0M232.5 597.3h0M232.5 591.1h0M232.5 642.7h0M232.5 617.8h0M232.5 607.1h0M232.5 691.2h0M232.5 706.0h0M232.5 596.9h0M232.5 607.2h0M232.5 681.9h0M232.5 605.6h0M232.5 592.7h0M232.5 722.2h0M232.5 619.5h0M232.5 599.1h0M232.5 605.3h0M232.5 608.0h0M232.5 602.7h0M232.5 609.3h0M232.5 741.6h0M232.5 630.1h0M232.5 621.8h0M232.5 593.2h0M232.5 611.1h0M232.5 625.7h0M232.5 757.6h0M232.5 648.6h0M232.5 610.8h0M232.5 662.2h0M232.5 650.7h0M232.5 621.7h0M232.5 613.6h0M232.5 589.4h0M232.5 608.7h0M232.5 677.0h0M232.5 593.5h0M232.5 593.2h0M232.5 659.7h0M232.5 699.0h0M232.5 611.7h0M232.5 759.3h0M232.5 594.4h0M232.5 608.2h0M232.5 591.3h0M232.5 591.1h0M232.5 617.2h0M232.5 593.5h0M232.5 593.4h0M232.5 595.4h0M232.5 678.9h0M232.5 670.8h0M232.5 632.3h0M232.5 632.2h0M232.5 634.9h0M232.5 610.4h0M232.5 604.0h0M232.5 639.0h0M232.5 618.2h0M232.5 597.2h0M235.4 596.1h0M235.4 612.6h0M235.4 602.2h0M235.4 679.5h0M235.4 590.4h0M235.4 685.0h0M235.4 627.4h0M235.4 594.4h0M235.4 603.5h0M235.4 607.8h0M235.4 592.7h0M235.4 591.1h0M235.4 588.6h0M235.4 638.7h0M235.4 619.4h0M235.4 624.1h0M235.4 600.9h0M235.4 591.1h0M235.4 604.4h0M235.4 652.4h0M235.4 740.9h0M235.4 597.7h0M235.4 617.0h0M235.4 630.2h0M235.4 660.5h0M235.4 740.4h0M235.4 708.8h0M235.4 666.5h0M235.4 599.9h0M235.4 591.5h0M235.4 694.2h0M235.4 631.1h0M235.4 603.4h0M235.4 599.1h0M235.4 725.6h0M235.4 606.8h0M235.4 598.4h0M235.4 656.8h0M235.4 721.1h0M235.4 589.2h0M235.4 676.4h0M235.4 642.0h0M235.4 665.7h0M235.4 606.3h0M235.4 625.6h0M235.4 667.7h0M235.4 590.2h0M235.4 635.4h0M235.4 614.1h0M235.4 621.7h0M235.4 685.9h0M235.4 606.3h0M235.4 598.2h0M235.4 632.0h0M235.4 616.0h0M235.4 649.5h0M235.4 609.8h0M235.4 730.8h0M235.4 599.6h0M235.4 689.4h0M235.4 589.1h0M235.4 653.0h0M235.4 605.1h0M235.4 624.4h0M235.4 603.1h0M235.4 655.8h0M235.4 731.7h0M235.4 610.1h0M235.4 591.8h0M235.4 653.6h0M235.4 604.6h0M235.4 599.0h0M235.4 599.8h0M235.4 624.0h0M235.4 702.1h0M235.4 594.4h0M235.4 588.8h0M235.4 595.5h0M235.4 595.3h0M235.4 590.6h0M235.4 591.3h0M235.4 601.5h0M235.4 594.2h0M235.4 593.8h0M235.4 601.1h0M235.4 628.8h0M235.4 589.2h0M235.4 620.0h0M235.4 672.1h0M235.4 595.7h0M238.2 587.9h0M238.2 636.1h0M238.2 604.3h0M238.2 652.6h0M238.2 597.3h0M238.2 600.0h0M238.2 601.0h0M238.2 603.8h0M238.2 622.8h0M238.2 587.5h0M238.2 622.8h0M238.2 592.0h0M238.2 592.0h0M238.2 597.9h0M238.2 667.3h0M238.2 590.3h0M238.2 595.9h0M238.2 601.7h0M238.2 657.5h0M238.2 587.2h0M238.2 612.5h0M238.2 597.9h0M238.2 664.8h0M238.2 631.7h0M238.2 600.6h0M238.2 629.6h0M238.2 608.7h0M238.2 601.6h0M238.2 623.5h0M238.2 598.8h0M238.2 606.6h0M238.2 597.3h0M238.2 689.5h0M238.2 625.3h0M238.2 598.5h0M238.2 668.1h0M238.2 634.2h0M238.2 646.7h0M238.2 601.5h0M238.2 590.8h0M238.2 662.4h0M238.2 594.6h0M238.2 638.8h0M238.2 633.5h0M238.2 679.1h0M238.2 632.1h0M238.2 591.8h0M238.2 615.9h0M238.2 657.0h0M238.2 646.4h0M238.2 600.1h0M238.2 592.7h0M238.2 589.9h0M238.2 594.2h0M238.2 588.8h0M238.2 665.8h0M238.2 589.6h0M238.2 589.7h0M238.2 603.6h0M238.2 600.4h0M238.2 627.9h0M238.2 660.4h0M238.2 614.2h0M238.2 589.3h0M238.2 748.0h0M238.2 593.1h0M238.2 630.5h0M238.2 633.8h0M238.2 709.9h0M238.2 644.8h0M238.2 650.1h0M238.2 614.7h0M238.2 598.9h0M238.2 635.7h0M238.2 595.0h0M238.2 682.0h0M238.2 677.2h0M238.2 596.8h0M238.2 612.6h0M238.2 749.2h0M238.2 658.6h0M238.2 600.5h0M238.2 643.0h0M238.2 606.3h0M238.2 597.7h0M238.2 596.5h0M238.2 628.2h0M238.2 594.7h0M238.2 606.2h0M238.2 601.0h0M240.9 660.6h0M240.9 595.4h0M240.9 588.1h0M240.9 603.7h0M240.9 594.5h0M240.9 633.2h0M240.9 629.2h0M240.9 646.5h0M240.9 596.1h0M240.9 673.4h0M240.9 617.6h0M240.9 593.1h0M240.9 592.0h0M240.9 599.6h0M240.9 658.8h0M240.9 609.7h0M240.9 590.0h0M240.9 589.6h0M240.9 595.7h0M240.9 715.9h0M240.9 612.8h0M240.9 587.8h0M240.9 588.0h0M240.9 633.7h0M240.9 730.3h0M240.9 605.9h0M240.9 589.1h0M240.9 642.4h0M240.9 588.6h0M240.9 595.8h0M240.9 589.2h0M240.9 670.9h0M240.9 586.5h0M240.9 678.5h0M240.9 607.0h0M240.9 604.6h0M240.9 626.2h0M240.9 610.5h0M240.9 671.3h0M240.9 590.8h0M240.9 670.4h0M240.9 595.0h0M240.9 604.1h0M240.9 756.8h0M240.9 590.1h0M240.9 589.1h0M240.9 594.7h0M240.9 649.9h0M240.9 609.0h0M240.9 618.7h0M240.9 655.4h0M240.9 638.0h0M240.9 625.6h0M240.9 622.3h0M240.9 726.9h0M240.9 670.6h0M240.9 637.2h0M240.9 590.9h0M240.9 695.4h0M240.9 590.7h0M240.9 618.2h0M240.9 592.0h0M240.9 590.7h0M240.9 594.7h0M240.9 612.0h0M240.9 615.7h0M240.9 595.5h0M240.9 595.0h0M240.9 596.6h0M240.9 598.4h0M240.9 608.9h0M240.9 594.5h0M240.9 593.6h0M240.9 589.1h0M240.9 758.6h0M240.9 620.4h0M240.9 658.5h0M240.9 630.8h0M240.9 593.8h0M240.9 642.2h0M240.9 604.0h0M240.9 666.6h0M240.9 652.2h0M240.9 601.6h0M240.9 588.9h0M240.9 618.5h0M240.9 674.2h0M240.9 592.3h0M240.9 623.1h0M240.9 604.0h0M243.5 616.0h0M243.5 594.2h0M243.5 593.4h0M243.5 591.5h0M243.5 594.1h0M243.5 595.7h0M243.5 625.2h0M243.5 699.8h0M243.5 590.7h0M243.5 663.1h0M243.5 607.7h0M243.5 621.8h0M243.5 598.2h0M243.5 593.9h0M243.5 698.4h0M243.5 605.3h0M243.5 721.7h0M243.5 598.4h0M243.5 596.1h0M243.5 586.8h0M243.5 600.0h0M243.5 586.1h0M243.5 596.0h0M243.5 588.2h0M243.5 587.0h0M243.5 586.9h0M243.5 604.3h0M243.5 597.7h0M243.5 591.7h0M243.5 589.9h0M243.5 587.3h0M243.5 604.9h0M243.5 588.1h0M243.5 589.4h0M243.5 587.1h0M243.5 675.4h0M243.5 615.2h0M243.5 683.9h0M243.5 610.1h0M243.5 588.6h0M243.5 670.8h0M243.5 590.6h0M243.5 591.8h0M243.5 620.5h0M243.5 611.8h0M243.5 632.1h0M243.5 590.5h0M243.5 587.5h0M243.5 610.1h0M243.5 590.7h0M243.5 588.0h0M243.5 725.8h0M243.5 620.9h0M243.5 587.0h0M243.5 640.8h0M243.5 596.5h0M243.5 586.2h0M243.5 599.9h0M243.5 587.9h0M243.5 636.4h0M243.5 650.6h0M243.5 586.7h0M243.5 670.0h0M243.5 685.4h0M243.5 588.5h0M243.5 629.8h0M243.5 587.2h0M243.5 591.0h0M243.5 596.1h0M243.5 595.8h0M243.5 593.8h0M243.5 587.2h0M243.5 593.6h0M243.5 599.6h0M243.5 589.3h0M243.5 589.6h0M243.5 674.3h0M243.5 644.8h0M243.5 588.7h0M243.5 636.2h0M243.5 586.1h0M243.5 590.6h0M243.5 586.4h0M243.5 604.3h0M243.5 594.7h0M243.5 591.2h0M243.5 598.8h0M243.5 586.7h0M243.5 620.1h0M243.5 591.1h0M185.8 754.2h0M193.5 689.6h0M184.4 696.0h0M177.1 748.3h0M184.2 690.6h0M175.4 767.6h0M196.8 746.3h0M189.9 745.9h0M173.4 732.1h0M165.6 757.6h0M184.5 669.1h0M193.9 758.3h0M176.6 747.7h0M194.2 764.9h0M170.1 702.9h0M195.6 748.4h0M170.3 740.3h0M201.6 730.7h0M207.5 773.2h0M202.0 757.7h0M184.2 748.2h0M172.1 727.5h0M174.6 760.1h0M210.4 752.2h0M198.6 679.5h0M189.0 687.3h0M166.8 720.4h0M203.0 730.5h0M193.0 775.8h0M214.3 699.9h0M211.5 670.0h0M192.1 671.9h0M191.0 729.3h0M179.9 774.5h0M195.2 699.2h0M173.5 695.0h0M175.9 762.5h0M168.1 719.2h0M196.3 721.8h0M170.6 734.2h0M179.9 675.4h0M192.3 714.0h0M195.7 770.7h0M205.5 752.7h0M166.4 715.3h0M191.5 748.1h0M205.3 776.6h0M175.4 771.7h0M201.6 775.5h0M182.2 695.1h0M193.9 776.7h0M215.7 750.6h0M195.0 774.5h0M200.1 747.5h0M167.0 775.6h0M187.9 728.5h0M193.8 694.6h0M171.9 773.3h0M191.1 725.6h0M189.0 709.1h0M199.0 696.9h0M180.9 719.7h0M202.2 744.0h0M207.3 717.5h0M211.9 683.3h0M207.6 729.2h0M200.7 755.5h0M193.7 702.1h0M181.4 699.4h0M165.9 715.7h0M183.3 767.9h0M185.9 760.7h0M180.4 758.6h0M198.9 777.2h0M216.2 776.9h0M194.8 684.1h0M167.0 712.2h0M201.4 773.3h0M179.7 764.2h0M205.3 740.0h0M206.3 677.5h0M185.4 754.9h0M173.2 706.0h0M210.7 772.9h0M211.5 741.0h0M166.5 731.0h0M174.2 716.4h0M187.8 764.9h0M213.2 687.4h0M209.3 722.4h0M211.1 758.3h0M210.6 754.6h0M206.6 771.9h0M184.5 709.4h0M179.4 726.5h0M165.9 715.5h0M212.3 772.5h0M172.4 741.3h0M189.6 771.5h0M193.1 691.7h0M210.4 676.8h0M169.4 743.0h0M194.3 715.3h0M166.7 755.7h0M166.9 712.5h0M171.3 749.8h0M201.2 733.3h0M194.3 775.6h0M185.5 748.2h0M169.5 704.8h0M193.6 772.4h0M193.6 670.2h0M178.5 677.3h0M190.8 718.0h0M169.8 718.8h0M189.5 711.2h0M186.6 738.1h0M199.3 705.7h0M212.0 711.9h0M181.3 763.9h0M176.6 776.8h0M209.3 770.1h0M174.6 743.2h0M170.5 727.3h0M198.1 698.1h0M171.9 757.8h0M200.7 732.9h0M208.6 676.3h0M203.0 697.9h0M201.2 725.8h0M181.2 713.3h0M213.6 731.4h0M171.3 699.4h0M193.9 725.4h0M180.4 705.1h0M190.6 762.3h0M189.9 766.7h0M177.2 733.8h0M206.6 743.5h0M175.2 714.2h0M168.0 766.4h0M210.1 748.5h0M201.3 739.9h0M215.2 750.8h0M183.8 670.9h0M171.0 715.4h0M192.0 678.5h0M195.1 687.9h0M184.3 772.8h0M180.7 749.5h0M209.6 744.5h0M183.0 691.9h0M216.0 707.0h0M184.3 709.6h0M181.7 727.8h0M170.7 728.1h0M195.0 722.2h0M181.6 722.7h0M208.3 723.4h0M182.9 728.1h0M200.0 775.2h0M167.0 712.5h0M200.3 694.9h0M165.2 763.2h0M189.3 697.0h0M201.2 691.1h0M196.6 744.3h0M195.4 744.0h0M197.1 761.8h0M173.5 724.4h0M216.1 704.9h0M204.0 678.0h0M203.8 772.5h0M203.5 731.3h0M173.7 756.6h0M185.1 694.3h0M193.1 723.6h0M210.8 702.1h0M195.4 754.4h0M177.1 760.1h0M210.1 735.0h0M176.3 684.2h0M203.2 721.4h0M216.4 765.8h0M206.0 674.7h0M168.7 774.9h0M189.1 675.3h0M177.8 714.5h0M201.6 761.6h0M189.8 729.3h0M206.9 685.1h0M166.6 764.5h0M167.3 711.6h0M178.0 769.5h0M174.3 731.1h0M198.5 746.6h0M189.1 752.2h0M176.5 694.4h0M203.0 731.9h0M197.9 765.0h0M211.9 752.3h0M208.4 699.3h0M167.9 763.0h0M208.4 713.6h0M174.0 731.6h0M165.3 734.8h0M181.0 758.5h0M208.8 719.2h0M200.9 734.1h0M165.7 743.1h0M190.7 717.5h0M199.6 704.6h0M183.6 701.7h0M207.2 676.3h0M179.1 726.3h0M172.9 732.2h0M185.2 734.8h0M194.8 744.6h0M210.9 751.3h0M181.7 757.5h0M193.2 689.0h0M193.0 730.9h0M167.2 711.7h0M181.2 772.6h0M216.3 673.3h0M212.3 725.2h0M207.6 771.7h0M209.4 746.4h0M190.2 702.7h0M200.6 747.8h0M169.9 717.5h0M196.4 753.4h0M178.3 776.1h0M192.5 766.0h0M215.8 715.2h0M216.1 670.4h0M212.8 773.6h0M201.4 733.5h0M190.7 758.6h0M176.4 755.5h0M208.7 682.0h0M195.1 777.3h0M187.6 714.5h0M176.8 763.0h0M206.1 738.6h0M188.4 771.1h0M194.6 742.2h0M167.1 711.9h0M204.6 728.8h0M166.0 771.8h0M185.0 773.7h0M175.5 689.7h0M167.1 726.8h0M193.3 768.5h0M183.2 710.1h0M201.7 718.9h0M192.7 745.1h0M199.2 743.8h0M204.0 736.6h0M178.8 759.7h0M216.4 760.9h0M216.3 756.5h0M203.5 677.8h0M206.5 764.1h0M182.0 729.3h0M216.4 689.3h0M183.2 674.9h0M182.0 761.3h0M179.9 739.4h0M185.4 674.2h0M180.3 769.6h0M194.9 694.6h0M193.6 686.6h0M207.6 769.0h0M195.2 750.5h0M183.4 743.1h0M196.2 771.3h0M182.0 737.6h0M210.1 759.9h0M209.8 760.9h0M210.6 773.9h0M196.0 755.4h0M177.0 763.1h0M175.9 762.2h0M181.4 773.5h0M204.4 736.7h0M174.0 701.5h0M170.9 724.4h0M193.4 724.2h0M198.2 741.3h0M181.1 701.0h0M173.5 775.9h0M174.4 724.4h0M189.4 763.7h0M203.8 771.4h0M187.2 772.9h0M204.8 747.8h0M176.9 682.2h0M171.4 760.0h0M212.8 679.9h0M173.7 755.3h0M173.4 701.5h0M181.4 710.1h0M196.3 729.5h0M174.2 774.0h0M216.9 775.2h0M209.3 765.3h0M174.6 747.6h0M170.1 775.1h0M204.9 771.7h0M204.2 775.9h0M169.8 746.4h0M172.3 769.4h0M191.5 760.8h0M186.8 692.6h0M174.5 751.7h0M214.4 720.1h0M189.9 771.9h0M181.2 769.0h0M191.6 736.4h0M183.0 702.8h0M172.9 758.2h0M208.1 769.9h0M206.9 765.4h0M214.9 730.2h0M213.8 701.3h0M187.2 745.1h0M209.5 736.8h0M198.5 767.8h0M188.3 774.6h0M190.4 736.6h0M208.4 695.6h0M213.4 715.6h0M207.8 681.5h0M189.9 764.3h0M216.9 747.6h0M181.6 674.0h0M178.9 767.0h0M195.0 769.3h0M165.3 745.0h0M205.5 715.4h0M182.9 759.1h0M199.1 701.2h0M171.3 731.8h0M175.1 771.6h0M202.3 762.3h0M170.3 702.4h0M171.9 730.8h0M207.2 773.7h0M193.1 756.4h0M191.7 740.9h0M213.6 764.2h0M213.2 720.4h0M175.1 692.1h0M190.1 676.3h0M211.2 691.2h0M181.1 753.9h0M170.2 720.9h0M168.9 739.5h0M174.0 774.0h0M175.0 753.6h0M169.6 704.6h0M172.6 760.2h0M216.2 704.7h0M212.3 672.9h0M168.9 706.7h0M194.1 669.7h0M175.3 687.1h0M167.2 711.7h0M191.5 733.2h0M203.1 752.7h0M177.0 741.2h0M205.4 750.0h0M165.0 774.1h0M188.3 674.8h0M212.1 763.9h0M195.8 687.8h0M207.1 685.3h0M184.9 670.4h0M166.6 773.4h0M274.2 584.4h0M309.9 581.4h0M289.1 582.5h0M296.8 581.6h0M329.8 581.3h0M280.6 596.0h0M309.0 581.3h0M331.9 582.2h0M258.6 754.0h0M301.8 585.4h0M250.9 612.7h0M284.8 583.0h0M251.9 591.9h0M278.4 696.5h0M268.7 585.6h0M253.4 592.4h0M345.5 581.7h0M271.6 583.3h0M312.2 581.5h0M319.6 581.3h0M316.0 582.2h0M312.0 587.1h0M283.9 582.8h0M314.3 581.6h0M266.6 582.9h0M282.1 583.3h0M268.9 584.0h0M288.4 582.7h0M248.5 593.6h0M259.1 584.5h0M344.8 581.3h0M263.4 587.8h0M302.4 581.5h0M252.8 586.7h0M317.3 581.5h0M247.9 601.1h0M283.1 584.7h0M324.1 582.2h0M251.8 586.0h0M331.2 581.3h0M313.2 581.3h0M276.5 593.4h0M267.1 583.9h0M302.9 581.5h0M280.2 581.9h0M313.8 582.4h0M245.9 589.2h0M259.8 696.2h0M345.9 581.5h0M272.0 583.1h0M280.2 605.8h0M285.9 581.8h0M318.4 581.9h0M274.3 591.6h0M246.7 590.3h0M268.6 586.7h0M270.4 583.7h0M268.8 590.9h0M338.6 581.2h0M247.9 585.5h0M299.1 589.9h0M319.5 581.3h0M293.2 581.5h0M330.1 581.3h0M273.3 604.1h0M329.7 582.9h0M299.1 587.7h0M285.0 583.5h0M336.9 581.7h0M349.0 581.3h0M299.3 581.7h0M251.7 585.8h0M289.9 663.1h0M268.0 586.7h0M326.8 581.4h0M315.6 581.4h0M296.0 581.6h0M280.2 656.5h0M290.8 629.2h0M294.7 584.4h0M328.0 581.4h0M312.1 581.3h0M303.8 581.4h0M280.6 582.9h0M263.5 583.7h0M268.1 590.9h0M298.8 582.4h0M244.5 613.2h0M331.7 581.4h0M317.9 583.0h0M255.4 601.0h0M317.5 581.5h0M326.4 581.3h0M295.8 581.8h0M282.8 583.6h0M304.0 582.0h0M279.5 588.8h0M318.9 581.4h0M333.5 581.2h0M293.1 582.8h0M266.8 587.4h0M305.0 581.8h0M270.4 583.5h0M260.2 586.0h0M261.2 599.4h0M311.6 581.4h0M305.6 584.9h0M342.8 581.3h0M280.6 582.9h0M347.8 581.3h0M261.2 590.3h0M330.4 581.3h0M249.8 594.1h0M331.4 581.4h0M244.5 591.6h0M283.7 640.6h0M331.9 594.7h0M336.0 581.4h0M324.6 584.5h0M345.4 581.2h0M296.9 617.9h0M301.5 589.7h0M307.0 582.1h0M318.7 581.8h0M327.4 581.3h0M312.5 581.8h0M271.1 582.5h0M327.8 581.3h0M296.3 582.4h0M250.1 617.4h0M349.3 582.1h0M301.0 584.6h0M294.3 582.7h0M325.5 583.1h0M311.4 581.5h0M247.0 618.9h0M294.7 582.0h0M251.7 591.6h0M252.6 671.5h0M255.5 590.0h0M283.6 582.1h0M285.2 582.1h0M333.7 581.4h0M297.0 582.2h0M295.3 585.0h0M246.3 597.7h0M264.4 589.6h0M338.5 581.3h0M288.5 581.9h0M314.9 581.3h0M255.2 622.0h0M342.3 581.3h0M283.4 592.8h0M273.3 582.9h0M338.2 581.4h0M336.4 581.3h0M311.7 581.7h0M277.2 583.5h0M339.8 581.2h0M343.5 581.3h0M299.5 582.0h0M291.8 581.6h0M260.6 631.7h0M306.1 581.4h0M252.0 620.7h0M302.9 581.7h0M261.5 591.8h0M326.8 581.3h0M296.8 582.8h0M323.0 582.9h0M345.4 581.3h0M296.2 582.5h0M311.6 582.9h0M305.1 581.5h0M302.1 582.2h0M331.8 581.3h0M315.0 581.9h0M244.5 770.6h0M276.4 582.4h0M257.0 617.1h0M261.2 586.0h0M305.8 611.9h0M254.7 592.3h0M331.0 581.3h0M253.8 584.5h0M308.3 581.6h0M258.3 584.3h0M276.9 584.5h0M278.3 584.1h0M275.2 582.8h0M308.9 581.4h0M257.4 585.5h0M272.0 583.5h0M251.5 628.2h0M278.3 581.9h0M258.9 585.8h0M257.1 586.9h0M315.5 592.4h0M326.7 586.9h0M288.2 582.0h0M300.0 581.7h0M260.4 597.1h0M330.8 581.4h0M295.9 583.2h0M344.2 581.3h0M301.6 582.1h0M264.2 596.7h0M285.8 666.9h0M292.7 582.0h0M294.5 582.6h0M288.6 581.9h0M261.7 584.0h0M342.5 581.3h0M278.7 583.0h0M282.9 582.4h0M244.7 590.9h0M272.7 586.2h0M284.2 584.5h0M284.7 582.7h0M267.0 586.0h0M329.4 581.4h0M264.9 583.9h0M269.8 584.7h0M270.3 620.6h0M249.5 584.5h0M268.3 583.0h0M287.8 598.8h0M296.8 640.5h0M317.7 581.3h0M330.8 581.3h0M280.7 583.5h0M330.6 581.4h0M300.0 581.7h0M341.0 581.3h0M307.0 581.9h0M278.4 606.7h0M313.8 581.6h0M278.7 582.5h0M306.6 584.7h0M264.2 584.1h0M267.2 584.1h0M270.1 585.0h0M270.5 589.4h0M245.3 598.5h0M325.2 581.4h0M290.5 582.1h0M251.8 634.6h0M276.4 582.6h0M343.3 581.4h0M328.2 581.3h0M297.0 632.4h0M244.9 609.8h0M316.1 581.9h0M263.2 584.0h0M332.2 581.5h0M344.6 581.2h0M266.2 590.5h0M256.6 597.7h0M263.0 583.5h0M265.2 583.7h0M327.6 581.3h0M253.6 596.0h0M295.3 584.3h0M286.1 582.1h0M324.6 581.9h0M246.3 585.1h0M281.5 630.1h0M302.9 584.0h0M334.3 581.6h0M298.0 627.1h0M323.3 581.3h0M308.2 582.0h0M273.7 583.0h0M255.8 585.5h0M254.2 598.3h0M270.6 617.3h0M254.0 610.4h0M264.5 608.6h0M291.6 582.0h0M323.5 588.7h0M311.7 582.4h0M290.9 587.7h0M296.5 582.2h0M295.1 582.3h0M294.4 588.1h0M318.2 591.5h0M319.1 582.2h0M305.8 582.0h0M336.2 581.2h0M302.6 583.4h0M299.8 585.0h0M303.5 582.3h0M264.9 584.4h0M315.9 604.3h0M323.6 581.3h0M288.1 581.7h0M264.9 588.4h0M276.1 585.4h0M349.1 581.2h0M327.3 581.6h0M294.8 582.0h0M324.8 581.6h0M300.9 581.5h0M283.7 582.0h0M255.6 590.2h0M268.2 590.5h0M327.9 581.6h0M250.4 585.9h0M310.3 581.6h0M263.5 591.3h0M275.5 587.6h0M281.3 581.8h0M252.0 611.5h0M329.3 581.8h0M291.9 588.6h0M302.4 582.2h0M260.9 586.2h0M288.5 582.0h0M327.2 581.4h0M289.8 645.9h0M272.9 588.3h0M282.3 581.9h0M250.0 592.7h0M306.5 581.6h0M307.8 581.5h0M251.8 590.0h0M317.9 581.8h0M269.1 687.5h0M296.1 582.8h0M272.5 612.1h0M261.8 584.1h0M266.0 588.2h0M302.7 583.1h0M255.2 586.6h0M303.2 582.2h0M280.0 622.2h0M318.1 581.4h0M323.4 582.1h0M304.7 583.5h0M281.7 582.1h0M335.4 586.4h0M279.5 585.9h0M288.6 581.7h0M266.5 591.8h0M271.4 584.5h0M334.2 581.3h0M320.8 581.8h0M327.2 581.4h0M257.0 607.4h0M328.8 581.6h0M346.7 581.4h0M325.8 581.3h0M271.2 582.7h0M247.2 588.7h0M341.6 581.4h0M281.1 583.9h0M290.7 616.6h0M254.7 588.8h0M269.7 585.6h0M246.2 586.3h0M252.0 755.3h0M322.3 581.3h0M280.1 582.3h0M304.0 582.1h0M314.2 591.1h0M291.2 582.4h0M311.8 586.8h0M330.2 581.6h0M285.6 584.7h0M312.9 581.4h0M245.0 614.1h0M303.1 581.4h0M320.0 582.3h0M287.1 582.9h0M277.2 582.4h0M308.9 582.3h0M294.4 600.3h0M303.3 581.5h0M312.8 581.3h0M268.7 591.2h0M291.6 651.2h0M274.8 583.2h0M314.9 581.3h0M244.9 593.5h0M300.5 582.9h0M283.7 586.6h0M336.8 581.9h0M276.3 586.7h0M262.8 587.9h0M263.9 631.6h0M295.2 581.6h0M272.5 609.0h0M296.1 583.4h0M281.4 582.7h0M312.5 581.6h0M298.6 582.2h0M297.8 585.1h0M251.8 584.7h0M260.3 592.2h0M282.4 582.6h0M269.0 718.4h0M290.1 585.7h0M293.8 582.5h0M248.8 593.2h0M275.5 583.8h0M290.4 582.1h0M285.1 582.1h0M270.0 585.5h0M279.2 583.1h0M331.2 581.3h0M258.7 583.8h0M301.7 582.9h0M291.1 582.3h0M323.0 581.3h0M315.8 581.3h0M298.4 582.6h0M346.5 581.4h0M290.0 583.9h0M337.4 581.5h0M258.7 588.8h0M313.3 582.0h0M285.3 591.1h0M293.6 582.7h0M269.9 585.5h0M283.0 646.8h0M249.4 594.8h0M330.8 582.0h0M284.3 582.8h0M309.2 581.4h0M304.8 581.5h0M261.0 583.3h0M319.6 581.8h0M295.1 581.7h0M304.9 585.4h0M336.0 581.3h0M253.1 613.4h0M290.8 583.1h0M332.7 581.3h0M282.7 587.6h0M317.3 581.4h0M321.7 581.4h0M274.0 583.4h0M341.4 581.4h0M266.7 612.2h0M308.4 581.7h0M332.5 581.4h0M274.7 582.5h0M318.9 582.0h0M308.7 603.5h0M338.7 581.3h0M270.0 638.2h0M265.5 587.5h0M266.2 583.0h0M321.5 582.1h0M340.3 581.4h0M311.8 582.7h0M284.0 584.9h0M333.3 581.3h0M293.7 581.6h0M290.2 581.8h0M317.4 581.3h0M296.1 581.6h0M278.1 582.7h0M294.9 581.7h0M250.8 595.9h0M332.1 588.5h0M272.9 582.8h0M294.2 581.8h0M325.0 582.2h0M283.7 588.5h0M320.1 581.3h0M327.8 581.9h0M312.5 581.3h0M272.0 583.4h0M284.1 582.7h0M325.5 581.5h0M306.4 581.4h0M282.9 587.5h0M265.3 678.1h0M303.8 581.6h0M324.8 581.6h0M260.0 590.3h0M310.3 587.0h0M295.0 581.6h0M325.2 581.3h0M310.8 581.3h0M305.2 582.6h0M308.5 582.8h0M293.2 581.8h0M263.3 597.1h0M301.3 581.6h0M257.2 584.6h0M287.7 582.2h0M341.3 581.2h0M326.3 581.5h0M291.9 584.3h0M292.7 581.5h0M296.8 582.6h0M265.2 608.5h0M297.1 582.5h0M266.4 583.4h0M303.5 582.4h0M251.9 589.3h0M285.5 582.6h0M256.3 654.1h0M323.1 581.3h0M315.8 581.6h0M295.3 584.5h0M347.0 581.3h0M297.3 621.6h0M261.1 583.8h0M314.1 582.2h0M304.8 585.8h0M245.9 596.6h0M248.7 599.4h0M315.7 581.4h0M263.1 637.9h0M285.0 601.3h0M344.3 582.2h0M307.0 581.8h0M293.2 582.1h0M326.7 581.3h0M349.5 581.2h0M327.2 581.4h0M270.0 583.5h0M249.9 596.4h0M306.3 581.8h0M312.0 581.6h0M275.5 587.7h0M311.1 587.7h0M322.4 581.7h0M304.3 584.9h0M250.3 729.9h0M258.3 636.6h0M251.7 602.4h0M287.0 583.0h0M317.6 581.9h0M323.8 590.0h0M257.5 589.3h0M269.9 612.3h0M273.0 582.5h0M301.8 583.5h0M280.3 585.8h0M302.0 581.6h0M314.2 593.7h0M300.0 581.6h0M343.6 581.2h0M294.1 582.2h0M297.5 581.8h0M317.8 584.2h0M275.5 586.3h0M278.6 592.4h0M273.2 659.8h0M266.4 593.6h0M327.7 581.2h0M263.6 586.8h0M337.4 581.6h0M335.6 581.3h0M288.9 581.7h0M347.2 583.3h0M258.5 591.1h0M284.1 589.0h0M311.2 581.7h0M331.2 581.3h0M311.0 581.5h0M294.6 584.5h0M254.4 614.1h0M331.4 581.2h0M293.3 581.8h0M327.3 581.4h0M335.6 581.3h0M300.9 583.2h0M303.0 581.8h0M261.8 583.6h0M250.3 591.5h0M314.0 583.3h0M272.8 590.7h0M276.6 593.4h0M279.4 582.0h0M344.9 581.3h0M282.0 582.3h0M260.6 583.4h0M307.1 581.5h0M265.8 583.1h0M294.3 592.8h0M258.5 590.8h0M248.0 585.9h0M275.1 583.9h0M268.9 584.0h0M332.2 581.3h0M248.7 591.9h0M274.7 584.2h0M246.4 586.7h0M277.1 582.2h0M254.6 585.9h0M273.9 646.1h0M306.7 581.4h0M283.8 581.9h0M334.9 581.2h0M274.8 583.5h0M277.0 637.5h0M302.5 586.0h0M335.0 581.3h0M324.0 581.3h0M292.7 582.2h0M254.3 658.6h0M276.5 587.0h0M298.2 581.8h0M278.4 585.3h0M260.3 593.0h0M291.5 584.0h0M334.9 581.2h0M252.3 648.5h0M293.5 588.4h0M278.0 582.8h0M303.5 581.6h0M297.0 593.9h0M251.6 592.6h0M250.6 586.8h0M262.5 591.3h0M315.6 581.5h0M263.0 585.9h0M254.5 586.6h0M335.6 581.3h0M330.2 581.3h0M320.5 584.0h0M329.9 581.4h0M316.3 581.4h0M262.7 590.8h0M284.5 585.2h0M338.7 583.1h0M309.2 587.7h0M335.3 581.3h0M260.1 584.9h0M270.8 716.9h0M304.7 582.5h0M271.2 585.8h0M262.0 586.6h0M248.9 590.7h0M245.0 600.0h0M278.9 582.9h0M295.8 582.0h0M279.4 583.0h0M311.9 581.6h0M309.7 582.6h0M263.8 585.0h0M285.8 582.3h0M324.1 582.0h0M266.8 583.1h0M349.5 581.4h0M319.6 581.6h0M267.7 582.7h0M276.5 583.0h0M270.2 582.8h0M335.6 581.2h0M292.9 581.8h0M263.7 582.8h0M324.0 581.6h0M255.8 586.5h0M255.1 589.4h0M322.3 583.5h0M297.1 583.7h0M282.6 603.0h0M263.1 592.5h0M320.3 581.4h0M288.3 582.0h0M341.9 581.3h0M271.1 583.6h0M271.5 584.7h0M345.6 581.7h0M257.1 583.6h0M284.7 582.6h0M254.0 594.8h0M279.1 582.6h0M259.9 589.8h0M245.5 592.3h0M253.2 589.7h0M290.4 582.2h0M258.2 586.1h0M283.5 581.8h0M281.1 585.7h0M295.2 581.6h0M258.4 626.4h0M278.3 594.6h0M293.2 582.6h0M305.3 581.5h0M334.4 581.2h0M288.5 582.7h0M254.3 589.6h0M306.5 581.6h0M326.4 581.3h0M322.6 581.3h0M269.9 587.0h0M321.0 581.3h0M307.6 619.4h0M348.9 581.4h0M265.7 584.0h0M264.7 583.8h0M290.8 582.4h0M327.5 581.4h0M269.3 594.8h0M260.9 584.4h0M296.8 582.3h0M266.8 586.2h0M316.4 592.1h0M317.5 581.6h0M290.7 586.5h0M273.0 590.7h0M342.5 581.2h0M316.0 581.3h0M283.0 586.7h0M276.0 583.9h0M295.4 582.9h0M279.5 583.0h0M304.7 582.7h0M288.8 581.7h0M251.2 585.7h0M339.6 581.3h0M331.8 581.9h0M263.4 599.2h0M319.8 581.3h0M296.9 585.5h0M266.6 685.2h0M330.2 581.3h0M342.5 581.5h0M275.8 584.2h0M318.9 581.6h0M271.2 583.3h0M258.6 584.7h0M308.8 581.8h0M263.0 590.7h0M302.7 581.5h0M303.7 584.4h0M254.8 613.5h0M326.6 581.6h0M273.9 600.3h0M323.1 582.6h0M296.8 586.5h0M247.1 585.0h0M255.9 679.4h0M333.4 581.3h0M269.3 616.4h0M333.2 581.3h0M322.0 581.4h0M306.9 581.7h0M314.5 581.4h0M281.3 585.1h0M261.5 613.1h0M301.4 581.5h0M273.7 583.2h0M264.4 595.6h0M319.3 581.3h0M250.9 647.9h0M346.9 581.2h0M263.0 588.8h0M265.4 592.9h0M304.6 584.6h0M289.1 581.7h0M259.5 594.5h0M317.6 582.1h0M266.6 582.5h0M247.3 585.1h0M286.5 582.3h0M270.1 583.1h0M294.1 581.6h0M277.5 583.7h0M267.8 586.5h0M247.1 589.1h0M300.3 581.9h0M278.4 582.0h0M278.6 584.3h0M310.2 582.4h0M301.8 583.6h0M263.4 588.3h0M249.4 592.3h0M261.8 666.8h0M275.9 583.9h0M260.3 590.4h0M246.8 591.8h0M321.3 581.8h0M297.7 582.6h0M248.1 603.1h0M298.2 582.0h0M271.2 586.2h0M279.1 583.0h0M276.2 582.6h0M275.6 592.0h0M255.4 602.3h0M261.5 726.5h0M321.9 581.6h0M307.3 581.4h0M329.6 581.3h0M302.7 583.3h0M299.8 584.1h0M345.2 581.4h0M289.1 582.1h0M272.0 590.0h0M276.5 603.6h0M328.3 581.6h0M244.6 628.0h0M313.9 581.8h0M301.9 584.3h0M330.8 581.6h0M285.8 661.0h0M308.3 583.0h0M300.3 594.4h0M251.6 589.2h0M289.0 644.9h0M304.6 582.0h0M324.1 581.5h0M261.2 583.9h0M309.0 581.9h0M311.9 581.8h0M322.3 581.3h0M246.7 664.6h0M306.7 581.6h0M252.2 608.3h0M336.3 581.4h0M296.3 581.8h0M341.8 581.2h0M280.2 582.2h0M289.1 582.3h0M281.1 582.5h0M262.2 609.0h0M290.5 582.6h0M249.9 617.7h0M274.9 607.3h0M277.4 583.6h0M303.7 581.4h0M306.9 582.4h0M288.3 582.0h0M260.8 584.9h0M349.0 581.2h0M275.2 593.2h0M339.1 590.5h0M324.6 583.2h0M301.5 581.9h0M300.6 581.5h0M272.9 585.5h0M285.8 581.7h0M276.6 600.2h0M248.8 586.0h0M322.0 581.8h0M334.0 581.3h0M333.3 581.5h0M285.8 582.8h0M306.1 581.4h0M274.8 584.1h0M287.6 583.2h0M334.5 581.3h0M290.4 581.7h0M252.3 617.5h0M313.8 581.6h0M304.7 585.9h0M275.3 644.2h0M253.2 584.3h0M279.6 583.9h0M333.3 581.3h0M256.0 583.6h0M338.0 581.6h0M255.5 591.2h0M290.1 586.2h0M258.7 588.2h0M314.4 595.5h0M257.7 606.3h0M338.0 581.3h0M246.1 586.5h0M277.6 582.1h0M310.1 582.8h0M301.0 581.7h0M286.4 582.3h0M274.6 583.9h0M315.7 590.9h0M332.3 583.8h0M279.6 583.1h0M295.1 581.7h0M306.9 590.1h0M267.6 583.6h0M289.4 581.6h0M298.2 620.4h0M250.7 624.5h0M256.8 638.4h0M321.1 582.1h0M331.7 583.4h0M266.1 584.8h0M267.4 608.5h0M247.9 594.8h0M287.9 581.6h0M277.0 582.0h0M288.0 583.3h0M308.2 591.7h0M291.0 581.9h0M278.1 583.6h0M274.3 583.7h0M304.1 582.0h0M255.2 587.9h0M328.5 581.5h0M312.8 581.7h0M307.3 584.2h0M278.5 601.8h0M288.2 582.2h0M312.4 581.3h0M314.4 581.3h0M258.1 602.4h0M260.1 587.9h0M310.4 581.7h0M265.1 586.7h0M302.4 589.8h0M313.5 581.7h0M259.8 584.9h0M311.9 581.5h0M312.6 581.6h0M255.5 592.9h0M261.7 599.9h0M267.2 583.4h0M317.6 581.3h0M255.9 629.8h0M297.3 581.9h0M310.5 581.6h0M256.9 583.8h0M325.6 582.7h0M315.0 581.3h0M313.3 582.2h0M350.1 581.2h0M292.8 581.9h0M297.4 582.6h0M292.6 587.6h0M268.9 597.7h0M255.9 616.9h0M316.8 582.3h0M338.5 581.2h0M294.5 582.3h0M310.1 581.7h0M315.6 581.4h0M299.9 581.8h0M309.1 581.4h0M269.0 587.7h0M296.1 582.4h0M340.0 585.8h0M261.7 585.5h0M344.8 582.6h0M298.9 581.6h0M264.3 609.5h0M294.9 588.3h0M284.4 583.8h0M306.7 582.5h0M305.6 581.5h0M339.4 581.3h0M305.5 581.4h0M265.1 582.9h0M273.0 583.1h0M267.7 590.8h0M284.6 584.1h0M324.1 581.3h0M263.8 587.4h0M308.4 581.8h0M320.8 581.5h0M254.7 597.7h0M310.6 582.2h0M288.6 584.0h0M282.7 582.4h0M268.6 583.6h0M250.0 587.4h0M257.6 584.3h0M249.7 604.4h0M288.4 582.5h0M302.4 581.5h0M286.4 581.7h0M267.8 620.5h0M303.6 581.4h0M270.0 606.8h0M266.9 582.6h0M293.6 584.6h0M255.9 603.2h0M314.4 581.3h0M303.0 581.6h0M320.0 581.5h0M283.0 582.7h0M279.2 584.1h0M300.5 583.4h0M254.5 606.7h0M259.3 587.9h0M314.5 581.8h0M329.6 581.3h0M350.6 581.8h0M303.4 581.6h0M323.4 589.4h0M310.2 584.2h0M334.0 581.2h0M278.0 582.1h0M251.5 729.1h0M292.9 581.8h0M327.0 581.4h0M312.9 581.8h0M261.4 585.9h0M335.4 583.1h0M300.9 583.0h0M275.2 704.9h0M307.6 581.9h0M259.2 639.3h0M315.2 581.3h0M326.7 581.3h0M328.2 581.3h0M285.0 581.8h0M338.1 581.2h0M254.0 600.2h0M272.7 584.9h0M290.4 581.9h0M268.4 585.5h0M304.4 582.3h0M273.9 583.8h0M331.0 581.3h0M279.4 583.8h0M252.7 588.3h0M258.3 607.4h0M307.0 581.5h0M255.3 584.5h0M313.9 582.0h0M257.2 592.7h0M248.2 626.7h0M295.9 582.0h0M270.9 582.4h0M259.5 601.9h0M304.2 584.5h0M340.7 581.2h0M271.5 585.0h0M282.3 583.2h0M298.0 582.5h0M269.3 582.8h0M317.8 581.4h0M345.9 581.6h0M342.7 581.2h0M254.3 587.7h0M255.7 636.2h0M259.4 619.3h0M278.9 583.0h0M301.3 581.9h0M250.2 603.6h0M343.1 581.3h0M258.4 591.7h0M304.1 582.2h0M251.0 617.7h0M246.7 621.2h0M263.5 583.7h0M306.1 581.7h0M300.2 582.2h0M333.6 593.4h0M347.8 581.2h0M311.5 581.4h0M318.8 581.3h0M311.9 581.3h0M268.1 591.0h0M252.4 585.0h0M341.8 581.4h0M263.1 586.1h0M294.2 603.7h0M294.1 584.6h0M313.4 581.3h0M268.8 583.8h0M294.0 586.3h0M257.5 584.0h0M314.0 581.4h0M257.2 736.2h0M312.8 581.5h0M277.6 586.5h0M315.4 583.3h0M261.6 584.5h0M275.0 584.7h0M287.7 583.4h0M326.4 581.3h0M313.1 581.8h0M255.2 607.3h0M257.4 607.5h0M346.3 581.2h0M276.6 583.0h0M274.9 584.9h0M334.0 581.5h0M251.0 633.0h0M334.4 581.5h0M344.8 581.3h0M302.3 584.0h0M248.6 626.7h0M278.8 582.6h0M284.3 582.4h0M324.2 581.8h0M289.0 581.9h0M275.9 582.1h0M328.9 581.7h0M281.4 585.5h0M322.6 581.3h0M311.3 581.7h0M289.1 581.8h0M270.5 582.5h0M325.4 581.5h0M317.5 581.5h0M326.7 582.1h0M319.3 581.4h0M318.4 582.1h0M259.3 595.6h0M301.0 581.8h0M323.6 581.8h0M248.5 586.8h0M282.6 583.1h0M274.8 586.8h0M302.8 581.4h0M248.6 586.2h0M308.6 589.5h0M275.1 584.8h0M252.9 588.9h0M252.3 585.1h0M316.2 581.4h0M248.7 596.2h0M306.5 581.9h0M286.9 582.2h0M257.8 632.1h0M272.2 588.9h0M263.3 592.3h0M248.8 585.4h0M329.6 581.3h0M267.9 582.8h0M291.1 582.4h0M323.3 581.6h0M275.1 591.4h0M307.0 583.1h0M284.0 627.4h0M275.3 582.8h0M277.7 584.1h0M247.6 595.6h0M254.2 643.8h0M262.5 587.1h0M326.7 581.4h0M274.7 588.7h0M282.4 581.9h0M247.8 609.1h0M279.2 589.0h0M249.1 585.6h0M315.2 581.4h0M326.9 581.5h0M326.7 581.4h0M318.0 581.3h0M295.9 582.8h0M257.3 585.9h0M278.4 582.2h0M293.1 582.2h0M254.4 593.3h0M277.4 582.2h0M253.9 594.0h0M298.2 581.6h0M271.4 590.9h0M287.9 581.9h0M253.5 610.5h0M303.4 582.3h0M269.5 583.6h0M255.1 586.5h0M259.9 584.4h0M314.4 582.6h0M289.4 583.5h0M272.3 613.4h0M337.7 581.2h0M276.7 596.4h0M310.2 582.2h0M290.9 584.2h0M329.2 581.3h0M269.3 587.6h0M254.2 623.3h0M332.4 581.3h0M281.6 582.4h0M286.3 587.4h0M313.6 581.3h0M277.2 584.0h0M278.7 588.3h0M277.1 582.8h0M324.8 581.3h0M280.4 582.4h0M271.5 587.6h0M256.0 643.3h0M266.9 595.2h0M306.6 584.3h0M253.6 585.1h0M312.1 581.4h0M332.5 581.4h0M257.9 586.0h0M290.8 587.4h0M286.9 583.9h0M306.4 581.5h0M278.8 581.9h0M265.1 595.2h0M288.8 674.0h0M324.9 581.3h0M279.3 585.4h0M263.1 627.4h0M272.8 592.6h0M247.1 589.3h0M341.1 581.4h0M335.8 581.9h0M318.0 581.3h0M307.9 581.4h0M265.9 588.0h0M337.8 581.2h0M306.3 581.6h0M258.3 583.4h0M308.7 581.9h0M284.0 584.2h0M255.0 589.1h0M333.7 581.3h0M249.9 591.7h0M270.1 583.4h0M250.0 613.7h0M290.4 584.2h0M270.2 584.3h0M313.5 592.2h0M349.7 581.8h0M323.0 581.3h0M332.2 581.3h0M332.3 581.6h0M301.7 581.9h0M304.7 581.4h0M332.4 581.3h0M308.2 581.7h0M288.2 582.6h0M341.0 581.2h0M333.1 581.3h0M308.4 605.3h0M284.5 582.8h0M331.9 581.3h0M252.1 591.3h0M281.4 661.2h0M259.2 584.3h0M345.7 581.3h0M264.6 593.4h0M284.0 582.2h0M262.4 583.3h0M260.9 584.3h0M254.7 584.1h0M254.4 591.9h0M246.8 594.9h0M272.9 648.1h0M310.2 581.4h0M332.7 581.3h0M263.8 605.3h0M278.3 594.9h0M283.9 582.0h0M286.4 583.2h0M275.7 592.8h0M293.8 581.7h0M287.4 585.7h0M248.7 589.4h0M267.5 584.0h0M331.8 581.6h0M245.8 618.4h0M329.4 587.0h0M294.8 581.5h0M264.0 674.3h0M309.9 582.2h0M311.9 581.4h0M268.2 628.1h0M278.6 585.1h0M264.4 583.5h0M326.6 581.3h0M260.6 584.0h0M313.0 604.0h0M331.0 581.2h0M306.1 584.2h0M271.6 587.5h0M285.0 582.3h0M258.5 583.4h0M269.8 588.6h0M266.1 583.3h0M280.4 582.4h0M346.2 581.3h0M264.4 584.1h0M267.5 586.9h0M293.6 582.2h0M332.8 582.1h0M251.2 584.9h0M328.4 581.3h0M265.0 589.8h0M333.2 581.3h0M325.2 581.9h0M330.9 581.5h0M316.5 581.7h0M251.4 584.8h0M260.8 587.5h0M261.4 584.6h0M317.2 581.7h0M343.8 581.4h0M316.4 581.7h0M322.8 581.4h0M320.7 581.3h0M260.3 583.5h0M268.1 585.1h0M265.8 582.9h0M254.1 749.9h0M308.1 582.2h0M340.3 581.2h0M276.2 600.5h0M316.5 581.8h0M286.9 581.6h0M299.8 581.5h0M316.8 581.3h0M66.5 803.6h0M85.6 803.6h0M91.1 803.6h0M102.1 803.6h0M112.2 801.3h0M112.2 803.6h0" stroke="#bdbdbd" stroke-width="2.8" stroke-linecap="round" fill="none"/>
<path d="M129.4 768.4 L131.3 765.2 L133.1 761.7 L134.9 758.1 L136.7 754.3 L138.6 750.2 L140.4 746.0 L142.2 741.5 L144.0 736.9 L145.9 732.0 L147.7 727.0 L149.5 721.9 L151.3 716.6 L153.2 711.2 L155.0 705.7 L156.8 700.2 L158.6 694.6 L160.4 689.0 L162.3 683.5 L164.1 678.0 L165.9 672.6 L167.7 667.2 L169.6 662.0 L171.4 657.0 L173.2 652.0 L175.0 647.3 L176.9 642.8 L178.7 638.4 L180.5 634.3 L182.3 630.4 L184.2 626.7 L186.0 623.2 L187.8 619.9 L189.6 616.8 L191.5 613.9 L193.3 611.3 L195.1 608.8 L196.9 606.5 L198.8 604.3 L200.6 602.3 L202.4 600.5 L204.2 598.8 L206.1 597.3 L207.9 595.9 L209.7 594.6 L211.5 593.4 L213.4 592.3 L215.2 591.3 L217.0 590.4 L218.8 589.5 L220.7 588.8 L222.5 588.1 L224.3 587.4 L226.1 586.9 L228.0 586.3 L229.8 585.9 L231.6 585.4 L233.4 585.0 L235.3 584.7 L237.1 584.4 L238.9 584.1 L240.7 583.8 L242.6 583.5 L244.4 583.3 L246.2 583.1 L248.0 582.9 L249.9 582.8 L251.7 582.6 L253.5 582.5 L255.3 582.4 L257.2 582.3 L259.0 582.2 L260.8 582.1 L262.6 582.0 L264.5 581.9 L266.3 581.9 L268.1 581.8 L269.9 581.7 L271.8 581.7 L273.6 581.6 L275.4 581.6 L277.2 581.6 L279.1 581.5 L280.9 581.5 L282.7 581.5 L284.5 581.4 L286.4 581.4 L288.2 581.4 L290.0 581.4 L291.8 581.4 L293.6 581.3 L295.5 581.3 L297.3 581.3 L299.1 581.3 L300.9 581.3 L302.8 581.3 L304.6 581.3 L306.4 581.3 L308.2 581.3 L310.1 581.3 L311.9 581.3 L313.7 581.2 L315.5 581.2 L317.4 581.2 L319.2 581.2 L321.0 581.2 L322.8 581.2 L324.7 581.2 L326.5 581.2 L328.3 581.2 L330.1 581.2 L332.0 581.2 L333.8 581.2 L335.6 581.2 L337.4 581.2 L339.3 581.2 L341.1 581.2 L342.9 581.2 L344.7 581.2 L346.6 581.2 L348.4 581.2" fill="none" stroke="#f0920f" stroke-width="2.0" stroke-dasharray="12.5 4.3" stroke-linejoin="round"/>
<path d="M129.4 782.6 L131.3 780.4 L133.1 778.1 L134.9 775.6 L136.7 772.9 L138.6 770.0 L140.4 766.9 L142.2 763.6 L144.0 760.1 L145.9 756.4 L147.7 752.5 L149.5 748.3 L151.3 744.0 L153.2 739.4 L155.0 734.7 L156.8 729.8 L158.6 724.7 L160.4 719.5 L162.3 714.2 L164.1 708.7 L165.9 703.2 L167.7 697.7 L169.6 692.1 L171.4 686.5 L173.2 681.0 L175.0 675.5 L176.9 670.1 L178.7 664.9 L180.5 659.7 L182.3 654.7 L184.2 649.9 L186.0 645.3 L187.8 640.8 L189.6 636.6 L191.5 632.5 L193.3 628.7 L195.1 625.1 L196.9 621.7 L198.8 618.5 L200.6 615.5 L202.4 612.7 L204.2 610.1 L206.1 607.7 L207.9 605.5 L209.7 603.4 L211.5 601.5 L213.4 599.7 L215.2 598.1 L217.0 596.6 L218.8 595.3 L220.7 594.0 L222.5 592.9 L224.3 591.8 L226.1 590.8 L228.0 590.0 L229.8 589.2 L231.6 588.4 L233.4 587.8 L235.3 587.2 L237.1 586.6 L238.9 586.1 L240.7 585.7 L242.6 585.2 L244.4 584.9 L246.2 584.5 L248.0 584.2 L249.9 583.9 L251.7 583.7 L253.5 583.4 L255.3 583.2 L257.2 583.0 L259.0 582.9 L260.8 582.7 L262.6 582.6 L264.5 582.4 L266.3 582.3 L268.1 582.2 L269.9 582.1 L271.8 582.0 L273.6 582.0 L275.4 581.9 L277.2 581.8 L279.1 581.8 L280.9 581.7 L282.7 581.7 L284.5 581.6 L286.4 581.6 L288.2 581.5 L290.0 581.5 L291.8 581.5 L293.6 581.5 L295.5 581.4 L297.3 581.4 L299.1 581.4 L300.9 581.4 L302.8 581.4 L304.6 581.3 L306.4 581.3 L308.2 581.3 L310.1 581.3 L311.9 581.3 L313.7 581.3 L315.5 581.3 L317.4 581.3 L319.2 581.3 L321.0 581.3 L322.8 581.3 L324.7 581.2 L326.5 581.2 L328.3 581.2 L330.1 581.2 L332.0 581.2 L333.8 581.2 L335.6 581.2 L337.4 581.2 L339.3 581.2 L341.1 581.2 L342.9 581.2 L344.7 581.2 L346.6 581.2 L348.4 581.2" fill="none" stroke="#f0920f" stroke-width="2.0" stroke-linejoin="round"/>
<path d="M129.4 803.3 L131.3 803.1 L133.1 802.8 L134.9 802.5 L136.7 802.1 L138.6 801.8 L140.4 801.4 L142.2 800.9 L144.0 800.4 L145.9 799.9 L147.7 799.3 L149.5 798.6 L151.3 797.9 L153.2 797.1 L155.0 796.2 L156.8 795.2 L158.6 794.2 L160.4 793.1 L162.3 791.8 L164.1 790.5 L165.9 789.0 L167.7 787.4 L169.6 785.6 L171.4 783.7 L173.2 781.6 L175.0 779.4 L176.9 777.0 L178.7 774.4 L180.5 771.6 L182.3 768.7 L184.2 765.5 L186.0 762.1 L187.8 758.5 L189.6 754.7 L191.5 750.6 L193.3 746.4 L195.1 742.0 L196.9 737.3 L198.8 732.5 L200.6 727.5 L202.4 722.4 L204.2 717.1 L206.1 711.7 L207.9 706.3 L209.7 700.7 L211.5 695.2 L213.4 689.6 L215.2 684.0 L217.0 678.5 L218.8 673.1 L220.7 667.8 L222.5 662.5 L224.3 657.5 L226.1 652.5 L228.0 647.8 L229.8 643.2 L231.6 638.9 L233.4 634.7 L235.3 630.8 L237.1 627.0 L238.9 623.5 L240.7 620.2 L242.6 617.1 L244.4 614.2 L246.2 611.5 L248.0 609.0 L249.9 606.7 L251.7 604.5 L253.5 602.5 L255.3 600.7 L257.2 599.0 L259.0 597.4 L260.8 596.0 L262.6 594.7 L264.5 593.5 L266.3 592.4 L268.1 591.4 L269.9 590.4 L271.8 589.6 L273.6 588.8 L275.4 588.1 L277.2 587.5 L279.1 586.9 L280.9 586.4 L282.7 585.9 L284.5 585.5 L286.4 585.1 L288.2 584.7 L290.0 584.4 L291.8 584.1 L293.6 583.8 L295.5 583.6 L297.3 583.4 L299.1 583.1 L300.9 583.0 L302.8 582.8 L304.6 582.7 L306.4 582.5 L308.2 582.4 L310.1 582.3 L311.9 582.2 L313.7 582.1 L315.5 582.0 L317.4 581.9 L319.2 581.9 L321.0 581.8 L322.8 581.7 L324.7 581.7 L326.5 581.6 L328.3 581.6 L330.1 581.6 L332.0 581.5 L333.8 581.5 L335.6 581.5 L337.4 581.4 L339.3 581.4 L341.1 581.4 L342.9 581.4 L344.7 581.4 L346.6 581.3 L348.4 581.3" fill="none" stroke="#000000" stroke-width="2.0" stroke-dasharray="12.5 4.3" stroke-linejoin="round"/>
<path d="M129.4 804.5 L131.3 804.3 L133.1 804.2 L134.9 804.0 L136.7 803.8 L138.6 803.6 L140.4 803.4 L142.2 803.1 L144.0 802.8 L145.9 802.5 L147.7 802.2 L149.5 801.8 L151.3 801.4 L153.2 801.0 L155.0 800.5 L156.8 799.9 L158.6 799.4 L160.4 798.7 L162.3 798.0 L164.1 797.2 L165.9 796.3 L167.7 795.4 L169.6 794.4 L171.4 793.2 L173.2 792.0 L175.0 790.7 L176.9 789.2 L178.7 787.6 L180.5 785.9 L182.3 784.0 L184.2 782.0 L186.0 779.8 L187.8 777.4 L189.6 774.8 L191.5 772.1 L193.3 769.1 L195.1 766.0 L196.9 762.6 L198.8 759.0 L200.6 755.3 L202.4 751.3 L204.2 747.1 L206.1 742.7 L207.9 738.0 L209.7 733.3 L211.5 728.3 L213.4 723.2 L215.2 717.9 L217.0 712.6 L218.8 707.1 L220.7 701.6 L222.5 696.0 L224.3 690.4 L226.1 684.9 L228.0 679.4 L229.8 673.9 L231.6 668.5 L233.4 663.3 L235.3 658.2 L237.1 653.3 L238.9 648.5 L240.7 643.9 L242.6 639.5 L244.4 635.3 L246.2 631.3 L248.0 627.6 L249.9 624.0 L251.7 620.7 L253.5 617.6 L255.3 614.6 L257.2 611.9 L259.0 609.4 L260.8 607.0 L262.6 604.8 L264.5 602.8 L266.3 600.9 L268.1 599.2 L269.9 597.6 L271.8 596.2 L273.6 594.9 L275.4 593.6 L277.2 592.5 L279.1 591.5 L280.9 590.6 L282.7 589.7 L284.5 588.9 L286.4 588.2 L288.2 587.6 L290.0 587.0 L291.8 586.5 L293.6 586.0 L295.5 585.5 L297.3 585.1 L299.1 584.8 L300.9 584.4 L302.8 584.1 L304.6 583.9 L306.4 583.6 L308.2 583.4 L310.1 583.2 L311.9 583.0 L313.7 582.8 L315.5 582.7 L317.4 582.5 L319.2 582.4 L321.0 582.3 L322.8 582.2 L324.7 582.1 L326.5 582.0 L328.3 581.9 L330.1 581.9 L332.0 581.8 L333.8 581.7 L335.6 581.7 L337.4 581.6 L339.3 581.6 L341.1 581.6 L342.9 581.5 L344.7 581.5 L346.6 581.5 L348.4 581.4" fill="none" stroke="#000000" stroke-width="2.0" stroke-linejoin="round"/>
<path d="M129.4 805.7 L131.3 805.7 L133.1 805.6 L134.9 805.6 L136.7 805.6 L138.6 805.6 L140.4 805.6 L142.2 805.5 L144.0 805.5 L145.9 805.5 L147.7 805.4 L149.5 805.4 L151.3 805.4 L153.2 805.3 L155.0 805.3 L156.8 805.2 L158.6 805.2 L160.4 805.1 L162.3 805.0 L164.1 804.9 L165.9 804.9 L167.7 804.8 L169.6 804.6 L171.4 804.5 L173.2 804.4 L175.0 804.2 L176.9 804.1 L178.7 803.9 L180.5 803.7 L182.3 803.5 L184.2 803.3 L186.0 803.0 L187.8 802.7 L189.6 802.4 L191.5 802.0 L193.3 801.7 L195.1 801.2 L196.9 800.8 L198.8 800.2 L200.6 799.7 L202.4 799.1 L204.2 798.4 L206.1 797.6 L207.9 796.8 L209.7 795.9 L211.5 794.9 L213.4 793.9 L215.2 792.7 L217.0 791.4 L218.8 790.0 L220.7 788.5 L222.5 786.8 L224.3 785.0 L226.1 783.1 L228.0 781.0 L229.8 778.7 L231.6 776.3 L233.4 773.6 L235.3 770.8 L237.1 767.7 L238.9 764.5 L240.7 761.0 L242.6 757.4 L244.4 753.5 L246.2 749.4 L248.0 745.1 L249.9 740.6 L251.7 735.9 L253.5 731.0 L255.3 726.0 L257.2 720.8 L259.0 715.5 L260.8 710.1 L262.6 704.6 L264.5 699.1 L266.3 693.5 L268.1 687.9 L269.9 682.4 L271.8 676.9 L273.6 671.5 L275.4 666.2 L277.2 661.0 L279.1 656.0 L280.9 651.1 L282.7 646.4 L284.5 641.9 L286.4 637.6 L288.2 633.5 L290.0 629.6 L291.8 626.0 L293.6 622.5 L295.5 619.3 L297.3 616.2 L299.1 613.4 L300.9 610.7 L302.8 608.3 L304.6 606.0 L306.4 603.9 L308.2 602.0 L310.1 600.2 L311.9 598.5 L313.7 597.0 L315.5 595.6 L317.4 594.3 L319.2 593.1 L321.0 592.1 L322.8 591.1 L324.7 590.2 L326.5 589.4 L328.3 588.6 L330.1 587.9 L332.0 587.3 L333.8 586.8 L335.6 586.2 L337.4 585.8 L339.3 585.3 L341.1 585.0 L342.9 584.6 L344.7 584.3 L346.6 584.0 L348.4 583.7" fill="none" stroke="#2e952e" stroke-width="2.0" stroke-dasharray="12.5 4.3" stroke-linejoin="round"/>
<path d="M129.4 805.7 L131.3 805.7 L133.1 805.7 L134.9 805.7 L136.7 805.7 L138.6 805.7 L140.4 805.7 L142.2 805.7 L144.0 805.6 L145.9 805.6 L147.7 805.6 L149.5 805.6 L151.3 805.6 L153.2 805.5 L155.0 805.5 L156.8 805.5 L158.6 805.4 L160.4 805.4 L162.3 805.4 L164.1 805.3 L165.9 805.3 L167.7 805.2 L169.6 805.2 L171.4 805.1 L173.2 805.0 L175.0 804.9 L176.9 804.9 L178.7 804.8 L180.5 804.6 L182.3 804.5 L184.2 804.4 L186.0 804.2 L187.8 804.1 L189.6 803.9 L191.5 803.7 L193.3 803.5 L195.1 803.3 L196.9 803.0 L198.8 802.7 L200.6 802.4 L202.4 802.0 L204.2 801.7 L206.1 801.2 L207.9 800.8 L209.7 800.2 L211.5 799.7 L213.4 799.1 L215.2 798.4 L217.0 797.6 L218.8 796.8 L220.7 795.9 L222.5 794.9 L224.3 793.9 L226.1 792.7 L228.0 791.4 L229.8 790.0 L231.6 788.5 L233.4 786.8 L235.3 785.0 L237.1 783.1 L238.9 781.0 L240.7 778.7 L242.6 776.3 L244.4 773.6 L246.2 770.8 L248.0 767.7 L249.9 764.5 L251.7 761.0 L253.5 757.4 L255.3 753.5 L257.2 749.4 L259.0 745.1 L260.8 740.6 L262.6 735.9 L264.5 731.0 L266.3 726.0 L268.1 720.8 L269.9 715.5 L271.8 710.1 L273.6 704.6 L275.4 699.1 L277.2 693.5 L279.1 687.9 L280.9 682.4 L282.7 676.9 L284.5 671.5 L286.4 666.2 L288.2 661.0 L290.0 656.0 L291.8 651.1 L293.6 646.4 L295.5 641.9 L297.3 637.6 L299.1 633.5 L300.9 629.6 L302.8 626.0 L304.6 622.5 L306.4 619.3 L308.2 616.2 L310.1 613.4 L311.9 610.7 L313.7 608.3 L315.5 606.0 L317.4 603.9 L319.2 602.0 L321.0 600.2 L322.8 598.5 L324.7 597.0 L326.5 595.6 L328.3 594.3 L330.1 593.1 L332.0 592.1 L333.8 591.1 L335.6 590.2 L337.4 589.4 L339.3 588.6 L341.1 587.9 L342.9 587.3 L344.7 586.8 L346.6 586.2 L348.4 585.8" fill="none" stroke="#2e952e" stroke-width="2.0" stroke-linejoin="round"/>
<circle cx="129.4" cy="800.6" r="3.3" fill="#000"/>
<circle cx="156.8" cy="741.6" r="3.3" fill="#000"/>
<circle cx="184.2" cy="769.2" r="3.3" fill="#000"/>
<circle cx="211.5" cy="681.6" r="3.3" fill="#000"/>
<circle cx="238.9" cy="607.0" r="3.3" fill="#000"/>
<circle cx="266.3" cy="585.9" r="3.3" fill="#000"/>
<circle cx="293.6" cy="583.9" r="3.3" fill="#000"/>
<circle cx="321.0" cy="583.9" r="3.3" fill="#000"/>
</g>
<g clip-path="url(#c32)">
<path d="M431.6 803.8h0M431.6 805.0h0M431.6 804.5h0M431.6 804.4h0M431.6 805.2h0M431.6 805.5h0M448.8 805.1h0M448.8 804.5h0M448.8 804.9h0M448.8 803.7h0M448.8 802.9h0M448.8 804.1h0M462.1 803.2h0M462.1 804.5h0M462.1 801.8h0M462.1 802.9h0M462.1 801.8h0M462.1 798.9h0M473.0 792.5h0M473.0 796.9h0M473.0 801.8h0M473.0 803.7h0M473.0 791.6h0M473.0 800.3h0M482.2 802.1h0M482.2 803.1h0M482.2 791.1h0M482.2 787.9h0M482.2 790.7h0M482.2 795.4h0M490.2 792.8h0M490.2 797.7h0M490.2 780.9h0M490.2 801.8h0M490.2 798.9h0M490.2 796.7h0M503.5 799.9h0M503.5 787.0h0M503.5 781.3h0M503.5 796.1h0M503.5 797.2h0M503.5 795.4h0M514.4 794.2h0M514.4 756.3h0M514.4 795.7h0M514.4 768.1h0M514.4 786.6h0M514.4 767.0h0M523.7 773.2h0M523.7 791.7h0M523.7 760.5h0M523.7 793.1h0M523.7 771.9h0M523.7 791.4h0M531.6 761.3h0M531.6 751.9h0M531.6 781.4h0M531.6 742.5h0M531.6 781.2h0M531.6 742.3h0M538.7 738.2h0M538.7 770.8h0M538.7 739.2h0M538.7 770.4h0M538.7 715.3h0M538.7 717.6h0M545.0 694.4h0M545.0 769.6h0M545.0 767.0h0M545.0 765.7h0M545.0 773.2h0M545.0 680.7h0M550.7 757.3h0M550.7 670.8h0M550.7 688.0h0M550.7 672.7h0M550.7 684.2h0M550.7 670.7h0M555.9 757.1h0M555.9 684.8h0M555.9 722.0h0M555.9 733.6h0M555.9 699.0h0M555.9 717.2h0M560.6 724.6h0M560.6 752.8h0M560.6 703.4h0M560.6 683.2h0M560.6 747.5h0M560.6 714.4h0M565.1 704.6h0M565.1 738.8h0M565.1 740.0h0M565.1 705.4h0M565.1 702.0h0M565.1 747.5h0M623.6 603.6h0M568.2 678.7h0M577.2 657.1h0M629.4 596.4h0M579.3 723.4h0M641.1 589.1h0M611.4 668.4h0M671.7 583.8h0M629.1 618.9h0M545.9 688.7h0M632.8 615.3h0M672.4 590.2h0M584.4 633.1h0M587.8 664.9h0M620.4 609.2h0M609.9 650.9h0M633.5 614.6h0M610.0 607.9h0M628.4 597.9h0M666.3 590.8h0M624.3 596.5h0M592.7 664.3h0M573.8 622.7h0M678.7 583.1h0M605.1 664.5h0M649.1 589.7h0M660.4 590.5h0M657.6 588.6h0M661.5 585.9h0M667.5 588.5h0M673.0 589.9h0M583.6 698.6h0M668.8 584.7h0M643.4 597.8h0M655.6 586.5h0M620.4 600.3h0M640.5 595.1h0M662.9 585.5h0M655.6 587.9h0M571.5 745.8h0M651.6 587.8h0M658.4 588.8h0M666.1 591.7h0M625.3 623.8h0M676.8 596.2h0M670.8 587.8h0M576.9 721.4h0M565.8 675.1h0M630.3 592.2h0M648.0 586.7h0M626.9 604.2h0M594.0 681.9h0M676.6 586.9h0M674.5 588.3h0M635.1 610.1h0M629.5 614.8h0M542.9 780.2h0M567.0 728.8h0M676.0 586.4h0M613.5 615.8h0M676.9 585.3h0M615.2 608.1h0M599.8 627.4h0M593.3 684.6h0M545.2 772.9h0M678.2 588.1h0M641.2 588.9h0M638.9 602.6h0M531.8 775.6h0M634.2 585.0h0M580.2 698.8h0M593.4 626.2h0M646.6 590.3h0M675.6 583.2h0M618.3 591.1h0M622.2 596.2h0M537.9 782.8h0M593.6 628.8h0M598.3 670.1h0M672.0 584.5h0M604.7 593.0h0M634.0 603.0h0M636.8 592.4h0M604.3 655.6h0M586.0 654.0h0M628.2 619.5h0M600.9 600.3h0M640.6 590.1h0M560.0 772.3h0M653.1 583.6h0M663.0 585.4h0M642.4 594.1h0M668.4 585.3h0M662.5 607.6h0M608.5 660.3h0M540.6 728.7h0M612.2 605.5h0M624.1 603.4h0M579.4 673.5h0M637.9 601.3h0M664.5 584.5h0M609.6 608.1h0M624.4 616.5h0M626.5 600.9h0M570.9 696.7h0M580.0 651.8h0M595.5 667.9h0M644.0 590.8h0M657.4 595.8h0M663.2 586.2h0M655.2 597.4h0M676.8 586.3h0M610.5 602.6h0M648.3 600.9h0M585.0 671.9h0M653.6 589.8h0M593.4 688.6h0M591.6 644.6h0M563.3 676.5h0M625.0 599.3h0M594.1 600.4h0M551.0 743.8h0M657.5 593.1h0M657.0 602.4h0M558.9 753.5h0M662.2 582.4h0M570.1 721.6h0M649.7 586.3h0M623.9 607.3h0M545.1 768.9h0M591.8 606.1h0M649.2 590.5h0M616.3 638.6h0M629.1 592.9h0M672.8 584.2h0M632.4 612.3h0M564.5 647.8h0M552.2 726.9h0M635.6 607.7h0M568.6 746.0h0M623.2 606.2h0M657.7 591.1h0M623.1 625.4h0M611.8 603.5h0M559.3 766.8h0M629.6 601.0h0M543.5 668.9h0M583.6 646.2h0M634.8 591.9h0M678.8 583.1h0M581.3 706.6h0M612.3 616.7h0M572.0 701.8h0M618.4 616.9h0M632.8 640.5h0M538.1 733.3h0M632.4 593.2h0M551.4 741.0h0M630.2 595.1h0M674.4 583.1h0M678.7 584.4h0M546.1 722.5h0M593.8 674.2h0M537.5 736.0h0M617.1 614.8h0M620.0 597.2h0M583.2 697.7h0M611.6 623.1h0M590.5 644.3h0M655.6 596.6h0M652.7 588.5h0M612.2 632.8h0M532.7 769.6h0M651.0 590.3h0M667.3 585.2h0M625.6 618.9h0M666.2 587.1h0M571.2 707.4h0M619.0 607.4h0M674.6 585.8h0M540.2 778.5h0M673.0 585.8h0M621.6 588.7h0M580.1 716.1h0M644.7 587.2h0M608.8 625.9h0M620.2 615.5h0M625.0 610.0h0M548.3 707.8h0M651.4 601.1h0M581.1 652.2h0M641.0 588.5h0M534.0 705.3h0M612.1 603.8h0M641.6 609.0h0M669.0 585.4h0M639.8 590.2h0M584.2 688.0h0M636.7 588.1h0M671.4 590.6h0M662.0 588.2h0M674.4 583.2h0M588.4 649.5h0M615.3 639.6h0M618.1 610.0h0M543.2 740.8h0M642.1 593.2h0M656.0 595.1h0M664.4 584.3h0M585.5 648.0h0M642.7 591.4h0M542.3 770.2h0M633.5 610.9h0M548.6 764.5h0M651.6 600.5h0M680.9 584.9h0M568.9 690.2h0M658.0 584.6h0M658.7 590.6h0M642.8 595.0h0M576.8 696.6h0M668.5 585.8h0M614.7 629.2h0M565.9 708.8h0M587.4 643.9h0M557.0 721.5h0M612.2 635.0h0M657.2 590.7h0M598.5 617.5h0M571.2 728.8h0M534.6 749.8h0M601.6 614.1h0M669.7 585.1h0M567.8 708.8h0M604.6 680.9h0M661.5 584.7h0M573.0 672.7h0M536.2 750.6h0M632.8 605.1h0M588.6 616.0h0M640.1 604.5h0M549.8 777.5h0M607.5 624.4h0M555.8 700.8h0M583.9 685.0h0M639.6 593.3h0M585.5 621.7h0M668.9 586.4h0M569.3 716.6h0M594.7 637.8h0M630.8 609.6h0M559.0 712.1h0M602.9 612.7h0M654.6 589.2h0M555.9 699.4h0M668.7 588.8h0M647.8 594.8h0M630.4 605.8h0M556.7 705.6h0M582.8 684.9h0M600.1 668.5h0M666.9 584.2h0M648.4 600.6h0M571.0 668.2h0M677.2 584.6h0M632.8 585.0h0M609.3 606.0h0M589.2 645.9h0M614.0 615.4h0M614.2 604.6h0M556.6 703.2h0M656.8 594.1h0M585.8 672.2h0M639.5 585.2h0M665.1 589.1h0M570.0 668.3h0M611.9 607.4h0M669.4 596.4h0M646.9 593.3h0M650.9 587.2h0M679.9 585.2h0M559.9 776.1h0M590.5 640.7h0M542.5 780.3h0M539.2 768.6h0M595.5 631.4h0M640.0 589.9h0M580.6 657.9h0M598.9 634.5h0M574.8 655.4h0M650.3 591.1h0M674.3 586.7h0M676.3 585.2h0M631.4 608.1h0M627.7 602.1h0M559.5 717.7h0M625.6 609.5h0M670.1 590.8h0M668.7 602.0h0M654.5 586.0h0M407.4 803.1h0M407.4 801.8h0M407.4 800.4h0M407.4 799.1h0" stroke="#bdbdbd" stroke-width="2.8" stroke-linecap="round" fill="none"/>
<path d="M426.5 800.3 L428.7 799.8 L430.9 799.2 L433.1 798.6 L435.3 798.0 L437.4 797.3 L439.6 796.5 L441.8 795.7 L444.0 794.8 L446.2 793.9 L448.4 792.8 L450.6 791.7 L452.8 790.5 L455.0 789.2 L457.2 787.8 L459.4 786.2 L461.5 784.6 L463.7 782.8 L465.9 780.9 L468.1 778.9 L470.3 776.7 L472.5 774.4 L474.7 772.0 L476.9 769.3 L479.1 766.6 L481.3 763.6 L483.5 760.5 L485.6 757.2 L487.8 753.7 L490.0 750.1 L492.2 746.3 L494.4 742.4 L496.6 738.3 L498.8 734.0 L501.0 729.6 L503.2 725.1 L505.4 720.5 L507.6 715.7 L509.8 710.9 L511.9 706.0 L514.1 701.1 L516.3 696.1 L518.5 691.2 L520.7 686.2 L522.9 681.3 L525.1 676.4 L527.3 671.6 L529.5 666.8 L531.7 662.2 L533.9 657.7 L536.0 653.3 L538.2 649.0 L540.4 644.9 L542.6 640.9 L544.8 637.1 L547.0 633.5 L549.2 630.0 L551.4 626.7 L553.6 623.6 L555.8 620.6 L558.0 617.8 L560.2 615.2 L562.3 612.7 L564.5 610.4 L566.7 608.2 L568.9 606.2 L571.1 604.3 L573.3 602.5 L575.5 600.9 L577.7 599.3 L579.9 597.9 L582.1 596.6 L584.3 595.4 L586.4 594.2 L588.6 593.2 L590.8 592.2 L593.0 591.3 L595.2 590.5 L597.4 589.8 L599.6 589.1 L601.8 588.4 L604.0 587.8 L606.2 587.3 L608.4 586.8 L610.6 586.3 L612.7 585.9 L614.9 585.5 L617.1 585.1 L619.3 584.8 L621.5 584.5 L623.7 584.2 L625.9 584.0 L628.1 583.7 L630.3 583.5 L632.5 583.3 L634.7 583.2 L636.8 583.0 L639.0 582.8 L641.2 582.7 L643.4 582.6 L645.6 582.5 L647.8 582.4 L650.0 582.3 L652.2 582.2 L654.4 582.1 L656.6 582.0 L658.8 581.9 L661.0 581.9 L663.1 581.8 L665.3 581.8 L667.5 581.7 L669.7 581.7 L671.9 581.6 L674.1 581.6 L676.3 581.6 L678.5 581.5 L680.7 581.5 L682.9 581.5 L685.1 581.5 L687.2 581.4 L689.4 581.4" fill="none" stroke="#2e952e" stroke-width="2.0" stroke-linejoin="round"/>
<path d="M426.5 800.8 L428.7 800.3 L430.9 799.9 L433.1 799.3 L435.3 798.7 L437.4 798.1 L439.6 797.4 L441.8 796.7 L444.0 795.9 L446.2 795.0 L448.4 794.0 L450.6 793.0 L452.8 791.9 L455.0 790.7 L457.2 789.4 L459.4 788.0 L461.5 786.5 L463.7 784.9 L465.9 783.1 L468.1 781.3 L470.3 779.3 L472.5 777.1 L474.7 774.8 L476.9 772.4 L479.1 769.8 L481.3 767.0 L483.5 764.1 L485.6 761.0 L487.8 757.8 L490.0 754.3 L492.2 750.7 L494.4 747.0 L496.6 743.1 L498.8 739.0 L501.0 734.7 L503.2 730.4 L505.4 725.9 L507.6 721.3 L509.8 716.5 L511.9 711.7 L514.1 706.9 L516.3 701.9 L518.5 697.0 L520.7 692.0 L522.9 687.0 L525.1 682.1 L527.3 677.2 L529.5 672.4 L531.7 667.6 L533.9 663.0 L536.0 658.4 L538.2 654.0 L540.4 649.7 L542.6 645.6 L544.8 641.6 L547.0 637.8 L549.2 634.1 L551.4 630.6 L553.6 627.3 L555.8 624.1 L558.0 621.1 L560.2 618.3 L562.3 615.6 L564.5 613.1 L566.7 610.8 L568.9 608.6 L571.1 606.5 L573.3 604.6 L575.5 602.8 L577.7 601.1 L579.9 599.6 L582.1 598.1 L584.3 596.8 L586.4 595.6 L588.6 594.4 L590.8 593.4 L593.0 592.4 L595.2 591.5 L597.4 590.6 L599.6 589.9 L601.8 589.2 L604.0 588.5 L606.2 587.9 L608.4 587.4 L610.6 586.9 L612.7 586.4 L614.9 586.0 L617.1 585.6 L619.3 585.2 L621.5 584.9 L623.7 584.6 L625.9 584.3 L628.1 584.0 L630.3 583.8 L632.5 583.6 L634.7 583.4 L636.8 583.2 L639.0 583.0 L641.2 582.9 L643.4 582.7 L645.6 582.6 L647.8 582.5 L650.0 582.4 L652.2 582.3 L654.4 582.2 L656.6 582.1 L658.8 582.0 L661.0 582.0 L663.1 581.9 L665.3 581.8 L667.5 581.8 L669.7 581.7 L671.9 581.7 L674.1 581.6 L676.3 581.6 L678.5 581.6 L680.7 581.5 L682.9 581.5 L685.1 581.5 L687.2 581.5 L689.4 581.4" fill="none" stroke="#000000" stroke-width="2.0" stroke-linejoin="round"/>
<path d="M426.5 801.3 L428.7 800.9 L430.9 800.5 L433.1 800.0 L435.3 799.5 L437.4 798.9 L439.6 798.3 L441.8 797.6 L444.0 796.9 L446.2 796.1 L448.4 795.2 L450.6 794.3 L452.8 793.3 L455.0 792.2 L457.2 791.0 L459.4 789.7 L461.5 788.4 L463.7 786.9 L465.9 785.3 L468.1 783.6 L470.3 781.7 L472.5 779.8 L474.7 777.7 L476.9 775.4 L479.1 773.0 L481.3 770.5 L483.5 767.7 L485.6 764.9 L487.8 761.8 L490.0 758.6 L492.2 755.2 L494.4 751.6 L496.6 747.9 L498.8 744.0 L501.0 740.0 L503.2 735.8 L505.4 731.5 L507.6 727.0 L509.8 722.4 L511.9 717.7 L514.1 712.9 L516.3 708.1 L518.5 703.2 L520.7 698.2 L522.9 693.2 L525.1 688.3 L527.3 683.3 L529.5 678.4 L531.7 673.6 L533.9 668.8 L536.0 664.1 L538.2 659.5 L540.4 655.1 L542.6 650.8 L544.8 646.6 L547.0 642.6 L549.2 638.7 L551.4 635.0 L553.6 631.4 L555.8 628.1 L558.0 624.9 L560.2 621.8 L562.3 619.0 L564.5 616.3 L566.7 613.7 L568.9 611.3 L571.1 609.1 L573.3 607.0 L575.5 605.1 L577.7 603.2 L579.9 601.5 L582.1 600.0 L584.3 598.5 L586.4 597.1 L588.6 595.9 L590.8 594.7 L593.0 593.6 L595.2 592.6 L597.4 591.7 L599.6 590.8 L601.8 590.1 L604.0 589.3 L606.2 588.7 L608.4 588.1 L610.6 587.5 L612.7 587.0 L614.9 586.5 L617.1 586.1 L619.3 585.7 L621.5 585.3 L623.7 584.9 L625.9 584.6 L628.1 584.3 L630.3 584.1 L632.5 583.8 L634.7 583.6 L636.8 583.4 L639.0 583.2 L641.2 583.1 L643.4 582.9 L645.6 582.8 L647.8 582.6 L650.0 582.5 L652.2 582.4 L654.4 582.3 L656.6 582.2 L658.8 582.1 L661.0 582.0 L663.1 582.0 L665.3 581.9 L667.5 581.8 L669.7 581.8 L671.9 581.7 L674.1 581.7 L676.3 581.7 L678.5 581.6 L680.7 581.6 L682.9 581.5 L685.1 581.5 L687.2 581.5 L689.4 581.5" fill="none" stroke="#f0920f" stroke-width="2.0" stroke-linejoin="round"/>
<path d="M426.5 804.8 L428.7 804.7 L430.9 804.6 L433.1 804.5 L435.3 804.3 L437.4 804.2 L439.6 804.1 L441.8 803.9 L444.0 803.7 L446.2 803.5 L448.4 803.3 L450.6 803.1 L452.8 802.9 L455.0 802.6 L457.2 802.3 L459.4 802.0 L461.5 801.6 L463.7 801.2 L465.9 800.8 L468.1 800.4 L470.3 799.9 L472.5 799.4 L474.7 798.8 L476.9 798.2 L479.1 797.5 L481.3 796.7 L483.5 795.9 L485.6 795.1 L487.8 794.1 L490.0 793.1 L492.2 792.0 L494.4 790.8 L496.6 789.5 L498.8 788.1 L501.0 786.6 L503.2 785.0 L505.4 783.3 L507.6 781.4 L509.8 779.4 L511.9 777.3 L514.1 775.0 L516.3 772.6 L518.5 770.0 L520.7 767.3 L522.9 764.3 L525.1 761.3 L527.3 758.0 L529.5 754.6 L531.7 751.0 L533.9 747.3 L536.0 743.4 L538.2 739.3 L540.4 735.1 L542.6 730.7 L544.8 726.2 L547.0 721.6 L549.2 716.9 L551.4 712.1 L553.6 707.2 L555.8 702.3 L558.0 697.4 L560.2 692.4 L562.3 687.4 L564.5 682.5 L566.7 677.6 L568.9 672.8 L571.1 668.0 L573.3 663.3 L575.5 658.8 L577.7 654.3 L579.9 650.0 L582.1 645.9 L584.3 641.9 L586.4 638.0 L588.6 634.4 L590.8 630.9 L593.0 627.5 L595.2 624.3 L597.4 621.3 L599.6 618.5 L601.8 615.8 L604.0 613.3 L606.2 611.0 L608.4 608.7 L610.6 606.7 L612.7 604.7 L614.9 602.9 L617.1 601.3 L619.3 599.7 L621.5 598.3 L623.7 596.9 L625.9 595.7 L628.1 594.5 L630.3 593.4 L632.5 592.5 L634.7 591.5 L636.8 590.7 L639.0 589.9 L641.2 589.2 L643.4 588.6 L645.6 588.0 L647.8 587.4 L650.0 586.9 L652.2 586.4 L654.4 586.0 L656.6 585.6 L658.8 585.2 L661.0 584.9 L663.1 584.6 L665.3 584.3 L667.5 584.0 L669.7 583.8 L671.9 583.6 L674.1 583.4 L676.3 583.2 L678.5 583.0 L680.7 582.9 L682.9 582.7 L685.1 582.6 L687.2 582.5 L689.4 582.4" fill="none" stroke="#2e952e" stroke-width="2.0" stroke-dasharray="12.5 4.3" stroke-linejoin="round"/>
<path d="M426.5 804.9 L428.7 804.8 L430.9 804.7 L433.1 804.6 L435.3 804.5 L437.4 804.4 L439.6 804.2 L441.8 804.1 L444.0 803.9 L446.2 803.8 L448.4 803.6 L450.6 803.4 L452.8 803.2 L455.0 802.9 L457.2 802.6 L459.4 802.4 L461.5 802.0 L463.7 801.7 L465.9 801.3 L468.1 800.9 L470.3 800.5 L472.5 800.0 L474.7 799.5 L476.9 798.9 L479.1 798.3 L481.3 797.6 L483.5 796.9 L485.6 796.1 L487.8 795.3 L490.0 794.4 L492.2 793.4 L494.4 792.3 L496.6 791.1 L498.8 789.8 L501.0 788.5 L503.2 787.0 L505.4 785.4 L507.6 783.7 L509.8 781.9 L511.9 779.9 L514.1 777.8 L516.3 775.6 L518.5 773.2 L520.7 770.7 L522.9 768.0 L525.1 765.1 L527.3 762.0 L529.5 758.8 L531.7 755.5 L533.9 751.9 L536.0 748.2 L538.2 744.3 L540.4 740.3 L542.6 736.1 L544.8 731.8 L547.0 727.3 L549.2 722.8 L551.4 718.1 L553.6 713.3 L555.8 708.5 L558.0 703.5 L560.2 698.6 L562.3 693.6 L564.5 688.7 L566.7 683.7 L568.9 678.8 L571.1 673.9 L573.3 669.2 L575.5 664.5 L577.7 659.9 L579.9 655.4 L582.1 651.1 L584.3 646.9 L586.4 642.9 L588.6 639.0 L590.8 635.3 L593.0 631.7 L595.2 628.3 L597.4 625.1 L599.6 622.1 L601.8 619.2 L604.0 616.5 L606.2 613.9 L608.4 611.5 L610.6 609.3 L612.7 607.2 L614.9 605.2 L617.1 603.4 L619.3 601.7 L621.5 600.1 L623.7 598.6 L625.9 597.2 L628.1 596.0 L630.3 594.8 L632.5 593.7 L634.7 592.7 L636.8 591.8 L639.0 590.9 L641.2 590.1 L643.4 589.4 L645.6 588.7 L647.8 588.1 L650.0 587.5 L652.2 587.0 L654.4 586.5 L656.6 586.1 L658.8 585.7 L661.0 585.3 L663.1 585.0 L665.3 584.7 L667.5 584.4 L669.7 584.1 L671.9 583.9 L674.1 583.6 L676.3 583.4 L678.5 583.2 L680.7 583.1 L682.9 582.9 L685.1 582.8 L687.2 582.6 L689.4 582.5" fill="none" stroke="#000000" stroke-width="2.0" stroke-dasharray="12.5 4.3" stroke-linejoin="round"/>
<path d="M426.5 805.0 L428.7 804.9 L430.9 804.8 L433.1 804.8 L435.3 804.7 L437.4 804.6 L439.6 804.4 L441.8 804.3 L444.0 804.2 L446.2 804.0 L448.4 803.9 L450.6 803.7 L452.8 803.5 L455.0 803.3 L457.2 803.1 L459.4 802.8 L461.5 802.5 L463.7 802.3 L465.9 801.9 L468.1 801.6 L470.3 801.2 L472.5 800.8 L474.7 800.3 L476.9 799.8 L479.1 799.3 L481.3 798.7 L483.5 798.1 L485.6 797.4 L487.8 796.6 L490.0 795.8 L492.2 795.0 L494.4 794.0 L496.6 793.0 L498.8 791.9 L501.0 790.7 L503.2 789.4 L505.4 787.9 L507.6 786.4 L509.8 784.8 L511.9 783.1 L514.1 781.2 L516.3 779.2 L518.5 777.0 L520.7 774.7 L522.9 772.3 L525.1 769.7 L527.3 766.9 L529.5 764.0 L531.7 760.9 L533.9 757.6 L536.0 754.2 L538.2 750.6 L540.4 746.8 L542.6 742.9 L544.8 738.8 L547.0 734.6 L549.2 730.2 L551.4 725.7 L553.6 721.1 L555.8 716.4 L558.0 711.6 L560.2 706.7 L562.3 701.8 L564.5 696.8 L566.7 691.8 L568.9 686.9 L571.1 681.9 L573.3 677.0 L575.5 672.2 L577.7 667.4 L579.9 662.8 L582.1 658.2 L584.3 653.8 L586.4 649.5 L588.6 645.4 L590.8 641.4 L593.0 637.6 L595.2 634.0 L597.4 630.5 L599.6 627.1 L601.8 624.0 L604.0 621.0 L606.2 618.2 L608.4 615.5 L610.6 613.0 L612.7 610.7 L614.9 608.5 L617.1 606.4 L619.3 604.5 L621.5 602.7 L623.7 601.1 L625.9 599.5 L628.1 598.1 L630.3 596.8 L632.5 595.5 L634.7 594.4 L636.8 593.3 L639.0 592.3 L641.2 591.4 L643.4 590.6 L645.6 589.8 L647.8 589.1 L650.0 588.5 L652.2 587.9 L654.4 587.3 L656.6 586.8 L658.8 586.4 L661.0 585.9 L663.1 585.5 L665.3 585.2 L667.5 584.9 L669.7 584.5 L671.9 584.3 L674.1 584.0 L676.3 583.8 L678.5 583.6 L680.7 583.4 L682.9 583.2 L685.1 583.0 L687.2 582.9 L689.4 582.7" fill="none" stroke="#f0920f" stroke-width="2.0" stroke-dasharray="12.5 4.3" stroke-linejoin="round"/>
<path d="M426.5 790.4V797.7M456.5 794.0V805.7M517.3 763.4V788.2M547.4 683.8V717.1M577.8 632.1V658.0M608.5 600.5V618.0" stroke="#000" stroke-width="1.6" fill="none"/>
<circle cx="426.5" cy="795.0" r="3.3" fill="#000"/>
<circle cx="456.5" cy="796.4" r="3.3" fill="#000"/>
<circle cx="486.9" cy="805.6" r="3.3" fill="#000"/>
<circle cx="517.3" cy="774.8" r="3.3" fill="#000"/>
<circle cx="547.4" cy="700.2" r="3.3" fill="#000"/>
<circle cx="577.8" cy="645.0" r="3.3" fill="#000"/>
<circle cx="608.5" cy="610.4" r="3.3" fill="#000"/>
<circle cx="639.2" cy="585.0" r="3.3" fill="#000"/>
<path d="M397.3 589.6H417.5" stroke="#000000" stroke-width="1.8" fill="none"/>
<text x="430.1" y="594.4" font-size="14">Intra = 0.5</text>
<path d="M397.3 606.7H410.0M414.7 606.7H417.4" stroke="#000000" stroke-width="1.8" fill="none"/>
<text x="430.1" y="611.5" font-size="14">Intra = 0.1</text>
<path d="M397.3 623.8H417.5" stroke="#2e952e" stroke-width="1.8" fill="none"/>
<text x="430.1" y="628.6" font-size="14">P = 240</text>
<path d="M397.3 640.9H417.5" stroke="#000000" stroke-width="1.8" fill="none"/>
<text x="430.1" y="645.7" font-size="14">P = 170</text>
<path d="M397.3 658.0H417.5" stroke="#f0920f" stroke-width="1.8" fill="none"/>
<text x="430.1" y="662.8" font-size="14">P = 100</text>
</g>
<g clip-path="url(#c41)">
<path d="M311.7 962.0h0M272.5 1029.5h0M284.5 1071.7h0M303.1 1060.4h0M295.8 1032.3h0M277.0 1052.0h0M298.2 1066.1h0M242.8 1057.6h0M310.0 1066.1h0M253.1 1066.1h0M283.5 1074.5h0M257.4 1057.6h0M297.0 1060.4h0M248.0 1060.4h0M289.6 1052.0h0M245.7 1074.5h0M284.1 1063.3h0M284.4 1060.4h0M275.4 1060.4h0M298.8 1046.4h0M253.3 1060.4h0M289.9 1040.8h0M278.6 1057.6h0M333.6 1071.7h0M238.1 1063.3h0M243.7 1049.2h0M311.8 964.9h0M303.4 1060.4h0M292.8 1068.9h0M285.8 1060.4h0M274.7 1071.7h0M308.5 1035.1h0M283.4 1074.5h0M300.9 1068.9h0M330.1 1043.6h0M272.2 1063.3h0M323.5 984.5h0M255.5 1054.8h0M268.8 1071.7h0M311.2 962.0h0M317.5 1063.3h0M327.9 1057.6h0M314.4 1071.7h0M299.1 1068.9h0M298.5 1071.7h0M278.6 1021.1h0M242.6 1063.3h0M259.1 1063.3h0M300.9 1074.5h0M300.8 1074.5h0M292.5 1040.8h0M333.4 1066.1h0M260.6 1052.0h0M292.0 1063.3h0M291.2 1054.8h0M273.9 1068.9h0M269.2 1063.3h0M304.8 1018.3h0M268.0 1071.7h0M273.8 993.0h0M288.0 1060.4h0M316.4 1071.7h0M304.7 1060.4h0M269.8 1068.9h0M300.7 1068.9h0M252.9 1071.7h0M295.4 1021.1h0M266.5 1043.6h0M320.9 1068.9h0M291.2 981.7h0M257.4 1052.0h0M259.3 1068.9h0M248.7 1057.6h0M245.2 1066.1h0M304.4 1060.4h0M283.4 1054.8h0M263.5 1066.1h0M272.7 1068.9h0M280.8 1021.1h0M292.9 1054.8h0M291.1 1071.7h0M291.4 1046.4h0M249.3 1038.0h0M332.0 1071.7h0M263.3 1021.1h0M273.0 1071.7h0M291.0 1054.8h0M317.6 1040.8h0M286.3 1074.5h0M248.7 1046.4h0M296.0 1068.9h0M333.8 1032.3h0M299.0 1071.7h0M306.8 1046.4h0M259.3 1049.2h0M242.5 1066.1h0M305.5 1049.2h0M275.5 1038.0h0M249.3 1057.6h0M314.5 1043.6h0M243.7 1074.5h0M254.4 1046.4h0M315.4 1074.5h0M276.2 1015.5h0M299.4 1043.6h0M323.8 1054.8h0M303.3 1015.5h0M301.0 1071.7h0M275.6 1054.8h0M277.9 1038.0h0M297.5 1054.8h0M270.3 1068.9h0M267.9 1049.2h0M249.3 1060.4h0M329.3 1029.5h0M330.9 948.0h0M299.0 1071.7h0M246.5 1029.5h0M261.8 1049.2h0M306.6 1012.7h0M327.0 1074.5h0M295.0 1001.4h0M254.2 1046.4h0M268.9 1060.4h0M277.5 1018.3h0M282.3 1029.5h0M316.4 1057.6h0M249.2 1071.7h0M235.7 1071.7h0M269.6 1074.5h0M243.8 1068.9h0M281.9 1052.0h0M309.0 1049.2h0M292.1 1035.1h0M318.5 990.2h0M302.6 1052.0h0M243.4 1066.1h0M302.6 1007.0h0M286.0 1032.3h0M294.8 1009.8h0M297.9 1015.5h0M277.1 1038.0h0M258.4 1074.5h0M314.9 1029.5h0M317.0 1029.5h0M253.5 1071.7h0M297.8 1035.1h0M290.2 1052.0h0M257.9 1063.3h0M254.4 1071.7h0M250.4 1071.7h0M278.9 1071.7h0M242.8 1071.7h0M311.0 1009.8h0M315.6 1021.1h0M304.6 1063.3h0M279.6 1018.3h0M293.3 1043.6h0M319.4 1060.4h0M307.7 1012.7h0M316.6 1071.7h0M325.7 1040.8h0M328.8 1043.6h0M266.8 1057.6h0M291.3 1015.5h0M275.8 1068.9h0M316.4 1060.4h0M290.0 1007.0h0M276.4 1032.3h0M304.7 1068.9h0M297.5 1057.6h0M305.5 1071.7h0M311.8 1007.0h0M258.8 1052.0h0M268.5 1071.7h0M286.2 1052.0h0M298.0 1052.0h0M306.1 1052.0h0M235.3 1074.5h0M265.5 1063.3h0M270.9 1060.4h0M328.8 1038.0h0M314.7 1052.0h0M271.6 1054.8h0M294.3 1057.6h0M313.4 1032.3h0M325.3 1071.7h0M316.4 1054.8h0M325.6 1007.0h0M314.8 1043.6h0M239.7 1071.7h0M281.3 1052.0h0M289.4 1001.4h0M319.5 1012.7h0M310.1 1068.9h0M277.6 1074.5h0M314.9 1066.1h0M249.4 1071.7h0M262.5 1074.5h0M277.5 952.4h0M293.2 1071.7h0M246.0 1071.7h0M320.4 1071.7h0M333.5 1040.8h0M334.0 1007.0h0M300.4 1057.6h0M279.2 1063.3h0M290.9 1038.0h0M256.6 1049.2h0M301.9 1071.7h0M285.4 1049.2h0M245.4 1054.8h0M312.2 1026.7h0M276.6 1060.4h0M241.0 1066.1h0M267.4 1068.9h0M314.2 1026.7h0M309.4 1054.8h0M306.2 1040.8h0M323.9 1040.8h0M250.2 1060.4h0M318.0 1029.5h0M272.8 1038.0h0M290.6 1057.6h0M252.7 1071.7h0M317.8 1029.5h0M324.4 972.1h0M282.1 1060.4h0M293.9 1043.6h0M251.7 1060.4h0M287.3 1026.7h0M312.1 1066.1h0M283.9 1054.8h0M269.3 1074.5h0M302.9 1071.7h0M302.4 1060.4h0M312.6 1049.2h0M241.2 1071.7h0M273.6 1074.5h0M312.4 1038.0h0M258.1 1074.5h0M276.0 1060.4h0M303.5 1040.8h0M305.6 1046.4h0M284.7 1049.2h0M240.1 1049.2h0M310.1 1004.2h0M324.3 1021.1h0M283.1 1023.9h0M297.5 1063.3h0M251.1 1057.6h0M275.4 1068.9h0M255.7 1074.5h0M260.7 1068.9h0M242.8 1038.0h0M296.9 1063.3h0M311.0 1060.4h0M323.1 1052.0h0M285.6 1074.5h0M278.7 1023.9h0M323.2 950.8h0M293.1 1068.9h0M252.9 1057.6h0M315.8 1074.5h0M280.5 1032.3h0M329.2 993.0h0M253.3 1068.9h0M290.2 1060.4h0M321.9 995.8h0M327.5 1001.4h0M280.6 1057.6h0M282.4 1023.9h0M322.0 995.4h0M295.6 1026.7h0M235.3 1068.9h0M276.1 1057.6h0M327.2 1001.4h0M245.2 1071.7h0M255.4 1071.7h0M287.4 1060.4h0M293.2 1057.6h0M292.1 1060.4h0M239.2 1068.9h0M256.2 1071.7h0M281.5 1068.9h0M288.9 1068.9h0M293.3 1040.8h0M330.3 990.2h0M323.4 1063.3h0M321.2 1004.2h0M301.3 1001.4h0M275.5 1074.5h0M300.9 1057.6h0M301.6 1023.9h0M308.1 1054.8h0M291.3 1066.1h0M293.0 1074.5h0M239.9 1060.4h0M272.0 1071.7h0M309.3 1068.9h0M241.0 1063.3h0M318.2 1068.9h0M317.1 1038.0h0M328.4 1060.4h0M318.2 1068.9h0M250.9 1060.4h0M274.6 1068.9h0M302.0 1015.5h0M262.9 1063.3h0M314.2 1060.4h0M318.7 1032.3h0M257.9 1026.7h0M267.6 1071.7h0M268.6 1071.7h0M298.3 1074.5h0M305.9 1004.2h0M331.4 1040.8h0M278.3 1049.2h0M333.3 1040.8h0M260.6 1063.3h0M275.6 1063.3h0M288.9 1023.9h0M288.7 1043.6h0M262.7 1046.4h0M332.2 1074.5h0M281.8 1063.3h0M290.9 1057.6h0M262.1 1066.1h0M281.5 1068.9h0M255.5 1071.7h0M279.0 1071.7h0M299.0 1043.6h0M262.7 1063.3h0M332.6 1049.2h0M260.4 1060.4h0M301.4 976.1h0M279.5 1054.8h0M300.0 1068.9h0M300.1 1054.8h0M263.5 1032.3h0M265.0 1068.9h0M288.0 1071.7h0M280.7 1060.4h0M273.7 1068.9h0M246.8 1046.4h0M300.3 1018.3h0M319.2 1071.7h0M280.4 1074.5h0M297.6 1066.1h0M260.9 1054.8h0M317.0 1046.4h0M237.0 1074.5h0M261.3 1063.3h0M317.6 1049.2h0M270.0 1046.4h0M325.6 1071.7h0M302.7 1046.4h0M328.3 1066.1h0M293.3 1068.9h0M256.9 1071.7h0M276.8 1063.3h0M280.7 1004.2h0M252.4 1071.7h0M296.0 1063.3h0M262.1 1071.7h0M329.9 1004.2h0M296.9 1046.4h0M293.1 1057.6h0M263.9 1060.4h0M325.1 1066.1h0M278.7 1035.1h0M307.6 1074.5h0M266.4 1074.5h0M319.2 1060.4h0M253.1 1038.0h0M236.4 1071.7h0M314.9 1049.2h0M244.2 1052.0h0M319.0 1040.8h0M308.4 1057.6h0M271.3 1049.2h0M271.8 1074.5h0M326.1 1068.9h0M300.6 1060.4h0M284.6 1071.7h0M273.1 1066.1h0M329.3 1066.1h0M303.1 1052.0h0M277.7 1068.9h0M316.8 1040.8h0M248.0 1054.8h0M302.4 1066.1h0M331.3 1009.8h0M332.6 1060.4h0M309.9 1043.6h0M287.2 1046.4h0M268.2 1071.7h0M262.9 1063.3h0M314.9 1071.7h0M284.3 987.3h0M256.5 1063.3h0M267.5 1043.6h0M313.7 1066.1h0M288.6 1074.5h0M257.4 1060.4h0M249.8 1049.2h0M297.4 1057.6h0M326.1 1046.4h0M280.1 1068.9h0M285.3 1071.7h0M260.5 1060.4h0M318.1 978.9h0M321.6 1035.1h0M290.8 1074.5h0M289.2 1015.5h0M328.5 1068.9h0M313.1 1043.6h0M253.6 1057.6h0M288.2 1074.5h0M272.5 1068.9h0M303.0 1068.9h0M241.9 1068.9h0M264.7 1063.3h0M331.6 1068.9h0M280.5 1032.3h0M314.9 1068.9h0M300.8 1068.9h0M297.1 1023.9h0M316.6 1071.7h0M313.3 1066.1h0M292.4 1071.7h0M252.9 1071.7h0M244.4 1068.9h0M294.5 1043.6h0M304.3 1021.1h0M313.8 1054.8h0M243.2 1057.6h0M253.7 1060.4h0M300.3 1052.0h0M260.1 1068.9h0M285.5 1066.1h0M322.5 1068.9h0M295.0 1068.9h0M317.9 1074.5h0M309.4 1066.1h0M304.0 1074.5h0M238.1 1071.7h0M288.4 1068.9h0M253.7 1071.7h0M310.3 1035.1h0M262.5 1066.1h0M305.7 1046.4h0M288.6 1054.8h0M285.5 1074.5h0M263.6 1060.4h0M309.0 1060.4h0M278.5 1071.7h0M256.3 1021.1h0M262.1 1060.4h0M322.2 1043.6h0M262.7 1012.7h0M286.5 1035.1h0M308.6 1060.4h0M241.2 1049.2h0M302.0 1038.0h0M279.1 1060.4h0M280.4 1054.8h0M235.5 1071.7h0M288.8 1038.0h0M236.8 1015.5h0M266.9 1043.6h0M328.7 1032.3h0M302.9 1023.9h0M242.1 1066.1h0M282.2 1074.5h0M245.8 1057.6h0M234.0 1060.4h0M288.6 1066.1h0M259.5 1038.0h0M274.6 1049.2h0M263.6 1071.7h0M257.7 1074.5h0M301.2 1009.8h0M243.3 1071.7h0M295.9 1032.3h0M263.1 1071.7h0M283.7 1057.6h0M305.3 1054.8h0M268.3 1074.5h0M255.6 1068.9h0M260.0 1068.9h0M282.7 1060.4h0M284.2 1068.9h0M312.7 1063.3h0M267.6 1071.7h0M268.1 1071.7h0M334.0 1066.1h0M280.4 1049.2h0M275.2 1068.9h0M281.1 1068.9h0M256.3 1035.1h0M308.6 1060.4h0M301.2 1049.2h0M232.7 1074.5h0M270.7 974.0h0M311.6 1074.5h0M250.4 1066.1h0M291.7 1071.7h0M317.9 1046.4h0M310.2 984.3h0M318.5 984.0h0M257.8 1074.5h0M318.8 1049.2h0M288.4 1060.4h0M283.4 1071.7h0M296.8 1054.8h0M323.5 1049.2h0M269.2 1060.4h0M307.5 1043.6h0M263.9 1026.7h0M322.3 1060.4h0M284.8 1068.9h0M289.6 1054.8h0M326.5 1052.0h0M294.1 1043.6h0M296.0 1009.8h0M284.4 1068.9h0M317.6 1046.4h0M276.8 1052.0h0M252.6 1071.7h0M293.5 1074.5h0M291.3 993.0h0M271.8 1060.4h0M293.2 1054.8h0M263.1 1054.8h0M308.5 1035.1h0M264.4 1071.7h0M273.1 1052.0h0M259.1 1071.7h0M234.1 1068.9h0M294.3 1046.4h0M261.4 1057.6h0M272.9 1060.4h0M312.8 1057.6h0M287.8 1071.7h0M310.5 1018.3h0M314.9 1052.0h0M287.1 1049.2h0M330.6 1066.1h0M270.6 1066.1h0M298.8 1049.2h0M330.1 1063.3h0M321.1 1054.8h0M292.6 1032.3h0M307.3 1060.4h0M327.7 984.5h0M280.1 1057.6h0M286.3 1049.2h0M316.6 1049.2h0M290.4 1046.4h0M332.5 970.5h0M278.5 1074.5h0M318.8 1071.7h0M330.5 1046.4h0M330.4 1043.6h0M285.0 1032.3h0M277.4 1074.5h0M258.0 1049.2h0M268.8 1060.4h0M314.1 1071.7h0M300.6 1071.7h0M275.3 1063.3h0M260.5 1060.4h0M297.9 1068.9h0M308.3 1060.4h0M237.6 1035.1h0M317.1 1040.8h0M292.1 1046.4h0M293.4 1074.5h0M317.1 1071.7h0M287.9 1054.8h0M289.7 1054.8h0M248.0 1052.0h0M272.3 1032.3h0M270.3 1015.5h0M299.6 1066.1h0M274.7 1071.7h0M266.9 1054.8h0M271.9 1052.0h0M295.0 1066.1h0M254.9 1043.6h0M281.9 1066.1h0M290.9 990.2h0M325.1 1074.5h0M276.2 1068.9h0M256.5 1052.0h0M245.5 1066.1h0M274.5 1057.6h0M286.9 1049.2h0M262.4 1074.5h0M275.5 1032.3h0M295.2 1060.4h0M273.3 1052.0h0M293.2 1071.7h0M325.1 1068.9h0M244.7 1074.5h0M289.9 1071.7h0M285.9 1060.4h0M305.7 1074.5h0M319.6 1066.1h0M270.5 1057.6h0M329.6 1043.6h0M288.6 1066.1h0M333.6 1009.8h0M299.8 1063.3h0M263.9 1049.2h0M298.9 1057.6h0M318.7 1063.3h0M282.4 1057.6h0M259.3 1060.4h0M259.7 1066.1h0M244.8 1066.1h0M243.8 1071.7h0M311.0 1063.3h0M246.7 1068.9h0M268.1 1068.9h0M277.6 1071.7h0M235.2 1057.6h0M247.8 1052.0h0M263.8 1063.3h0M307.4 1038.0h0M328.4 993.0h0M314.2 1049.2h0M270.1 1071.7h0M293.3 1035.1h0M315.1 1068.9h0M293.0 1060.4h0M304.5 1060.4h0M241.2 1074.5h0M326.5 1046.4h0M304.7 1063.3h0M303.9 1066.1h0M299.6 1063.3h0M322.9 1004.2h0M264.2 1060.4h0M263.1 1068.9h0M321.4 1054.8h0M266.0 1066.1h0M285.4 1009.8h0M276.6 1009.8h0M312.0 1060.4h0M242.7 1071.7h0M275.5 1068.9h0M285.7 1068.9h0M273.7 1074.5h0M312.7 1049.2h0M260.1 1060.4h0M288.4 1066.1h0M291.8 1054.8h0M293.2 961.7h0M330.9 1038.0h0M272.0 1049.2h0M244.6 1043.6h0M258.9 1057.6h0M309.9 1068.9h0M317.4 1071.7h0M266.2 1007.0h0M263.7 1038.0h0M315.0 1038.0h0M324.5 1018.3h0M292.9 1012.7h0M285.9 1074.5h0M280.9 1063.3h0M285.7 1060.4h0M304.5 1004.2h0M310.0 1068.9h0M291.7 1068.9h0M270.8 1060.4h0M329.6 1035.1h0M273.0 1012.7h0M329.4 1052.0h0M245.7 1066.1h0M261.3 1068.9h0M312.2 1038.0h0M247.1 1060.4h0M315.5 1015.5h0M318.4 1043.6h0M287.2 1063.3h0M300.1 1066.1h0M287.1 1054.8h0M259.3 1026.7h0M287.3 1071.7h0M259.4 1057.6h0M320.4 1046.4h0M274.9 1071.7h0M231.7 1066.1h0M320.1 1054.8h0M295.1 1063.3h0M307.1 1029.5h0M284.6 1066.1h0M238.0 1071.7h0M261.7 1071.7h0M284.8 1068.9h0M314.8 1012.7h0M324.7 1071.7h0M268.8 1068.9h0M274.5 1043.6h0M277.9 1052.0h0M317.4 1029.5h0M272.5 1026.7h0M254.9 1054.8h0M281.7 1057.6h0M319.0 1060.4h0M251.3 1046.4h0M295.3 1043.6h0M237.2 1046.4h0M272.5 1052.0h0M299.0 1052.0h0M270.8 1068.9h0M302.6 1038.0h0M277.9 1066.1h0M305.6 1032.3h0M313.7 1068.9h0M286.6 1018.3h0M290.7 1063.3h0M327.6 1071.7h0M297.7 1046.4h0M260.7 1068.9h0M281.5 1068.9h0M229.5 1071.7h0M235.7 1060.4h0M264.1 1066.1h0M275.8 1038.0h0M315.9 1071.7h0M320.4 1071.7h0M277.0 1052.0h0M307.7 1035.1h0M307.7 1074.5h0M313.5 1054.8h0M290.3 1054.8h0M328.6 984.5h0M287.3 1074.5h0M303.0 1063.3h0M291.0 1071.7h0M306.9 1068.9h0M324.7 1066.1h0M304.9 1060.4h0M293.6 1046.4h0M252.7 1074.5h0M262.5 1071.7h0M288.3 1073.7h0M314.2 1073.7h0M327.5 1073.7h0M291.4 1073.7h0M281.9 1073.7h0M290.7 1073.7h0M315.1 1073.7h0M327.6 1073.7h0M297.2 1073.7h0M307.1 1073.7h0M324.3 1073.7h0M337.5 1073.7h0M332.5 1073.7h0M344.6 1073.7h0M324.5 1073.7h0M316.3 1073.7h0M319.7 1073.7h0M328.7 1073.7h0M347.5 1073.7h0M311.4 1073.7h0M336.8 1073.7h0M315.4 1073.7h0M321.7 1073.7h0M311.2 1073.7h0M331.4 1073.7h0M318.2 1073.7h0M301.6 1073.7h0M287.8 1073.7h0M282.8 1073.7h0M313.1 1073.7h0M292.9 1073.7h0M303.8 1073.7h0M324.4 1073.7h0M301.0 1073.7h0M299.3 1073.7h0M327.7 1073.7h0M312.8 1073.7h0M301.1 1073.7h0M290.7 1073.7h0M327.8 1073.7h0M282.0 1073.7h0M318.3 1073.7h0M289.1 1073.7h0M347.3 1073.7h0M327.2 1073.7h0M294.6 1073.7h0M341.1 1073.7h0M321.5 1073.7h0M291.0 1073.7h0M334.1 1073.7h0M342.1 1073.7h0M339.3 1073.7h0M301.4 1073.7h0M299.7 1073.7h0M304.5 1073.7h0M302.8 1073.7h0M299.8 1073.7h0M310.3 1073.7h0M305.8 1073.7h0M337.0 1073.7h0M247.1 869.3h0M290.9 877.7h0M334.7 858.0h0M301.9 903.0h0M236.2 948.0h0M186.9 1040.8h0M178.7 1021.1h0M200.6 1040.8h0" stroke="#bdbdbd" stroke-width="2.8" stroke-linecap="round" fill="none"/>
<path d="M200.3 1071.7h0M270.2 1071.7h0M300.0 1049.2h0M308.3 1071.7h0M303.3 1054.8h0M282.5 1071.7h0M268.3 1066.1h0M303.8 1074.5h0M320.4 1063.3h0M266.9 1071.7h0M276.2 1066.1h0M257.5 1066.1h0M260.6 1060.4h0M277.1 1068.9h0M309.5 1054.8h0M200.3 1060.4h0M205.5 1063.3h0M279.8 1071.7h0M254.2 1057.6h0M313.2 1049.2h0M295.4 1060.4h0M276.6 1038.0h0M248.2 1071.7h0M282.4 1043.6h0M243.5 1074.5h0M301.5 1068.9h0M305.2 1071.7h0M240.9 1066.1h0M292.6 1066.1h0M265.8 1071.7h0M226.0 1049.2h0M259.3 1040.8h0M312.5 1063.3h0M205.5 1071.7h0M259.2 1068.9h0M256.8 1057.6h0M294.3 1071.7h0M318.6 1071.7h0M205.5 1071.7h0M255.1 1074.5h0M273.0 1071.7h0M285.2 1049.2h0M257.3 1021.1h0M273.2 1026.7h0M307.9 962.0h0M289.4 1060.4h0M243.5 1068.9h0M300.8 1049.2h0M200.3 1071.7h0M325.2 1071.7h0M306.9 1018.3h0M275.9 1066.1h0M289.0 1071.7h0M306.5 1038.0h0M305.3 1060.4h0M205.5 1063.3h0M283.5 1066.1h0M261.7 1074.5h0M262.9 1068.9h0M268.6 1071.7h0M280.3 1074.5h0M281.6 1066.1h0M301.1 1015.5h0M210.3 1071.7h0M315.4 1068.9h0M262.3 1060.4h0M291.2 1046.4h0M283.9 1074.5h0M222.5 1060.4h0M259.0 1068.9h0M229.3 1071.7h0M287.7 1060.4h0M256.9 1052.0h0M272.0 1026.7h0M245.9 1063.3h0M322.7 1026.7h0M330.7 1046.4h0M299.9 1063.3h0M301.8 1068.9h0M258.0 1066.1h0M307.2 1068.9h0M302.7 1057.6h0M249.6 1052.0h0M324.4 1043.6h0M275.8 1071.7h0M293.4 1068.9h0M222.5 1074.5h0M285.0 1066.1h0M301.1 1043.6h0M245.9 1054.8h0M285.0 1071.7h0M245.9 1060.4h0M253.6 1021.1h0M263.2 1057.6h0M284.5 1068.9h0M304.1 1043.6h0M272.2 1043.6h0M315.6 1068.9h0M248.2 1074.5h0M268.0 1063.3h0M194.5 1074.5h0M274.0 1071.7h0M271.6 1049.2h0M310.5 1040.8h0M292.7 1060.4h0M314.1 1068.9h0M293.7 1063.3h0M249.6 1066.1h0M301.0 1054.8h0M274.9 1071.7h0M277.0 1066.1h0M327.6 1026.7h0M240.9 1066.1h0M260.5 1071.7h0M304.5 1071.7h0M311.6 1063.3h0M280.6 1071.7h0M273.7 1068.9h0M291.2 1052.0h0M290.1 1035.1h0M271.1 1071.7h0M232.5 1074.5h0M235.4 1066.1h0M311.8 1054.8h0M194.5 1074.5h0M310.4 1063.3h0M301.4 1074.5h0M284.8 1071.7h0M299.4 1032.3h0M245.9 1052.0h0M278.2 1071.7h0M258.2 1052.0h0M301.9 1054.8h0M317.7 1046.4h0M302.4 1057.6h0M307.5 1074.5h0M293.3 1071.7h0M272.6 1074.5h0M317.9 1046.4h0M300.0 1066.1h0M309.7 1052.0h0M312.8 1040.8h0M275.0 1071.7h0M265.4 1057.6h0M288.5 1068.9h0M309.3 1057.6h0M297.8 1071.7h0M283.8 1071.7h0M282.2 1066.1h0M214.7 1071.7h0M258.7 1066.1h0M330.3 1052.0h0M238.2 1074.5h0M306.5 1071.7h0M283.7 1057.6h0M268.8 1071.7h0M268.4 1071.7h0M240.9 1066.1h0M251.2 1074.5h0M252.9 1063.3h0M327.6 995.8h0M316.1 1026.7h0M291.9 1066.1h0M281.3 1052.0h0M287.0 1063.3h0M319.0 1032.3h0M283.9 1057.6h0M294.4 1057.6h0M316.4 1054.8h0M320.4 1071.7h0M312.8 1021.1h0M254.9 1066.1h0M310.1 1074.5h0M312.9 1066.1h0M314.9 1063.3h0M210.3 1068.9h0M281.7 1074.5h0M330.0 1066.1h0M272.6 1071.7h0M301.3 1063.3h0M265.5 1066.1h0M326.0 1012.7h0M304.7 1071.7h0M254.7 1068.9h0M210.3 1071.7h0M293.5 1071.7h0M258.2 1074.5h0M226.0 1071.7h0M313.5 1057.6h0M280.3 1074.5h0M296.8 1054.8h0M317.0 1066.1h0M293.4 1066.1h0M257.4 1068.9h0M314.8 1057.6h0M258.2 1046.4h0M284.5 1071.7h0M243.5 1057.6h0M311.1 1043.6h0M323.6 1066.1h0M285.1 1049.2h0M251.0 1071.7h0M269.6 1071.7h0M294.9 1060.4h0M284.7 1068.9h0M292.7 1038.0h0M260.6 1063.3h0M327.1 1063.3h0M305.0 1074.5h0M282.8 1071.7h0M318.8 1043.6h0M316.4 1074.5h0M279.3 1066.1h0M317.3 1054.8h0M260.6 1057.6h0M298.4 1074.5h0M265.4 1063.3h0M301.9 1071.7h0M309.2 1046.4h0M290.5 1054.8h0M299.4 1049.2h0M282.1 1068.9h0M247.6 1060.4h0M299.0 1052.0h0M283.1 1063.3h0M265.0 1068.9h0M245.9 1074.5h0M281.3 1074.5h0M276.0 1063.3h0M290.6 1043.6h0M295.1 1057.6h0M267.9 1071.7h0M272.2 1026.7h0M253.5 1066.1h0M265.2 1068.9h0M324.3 1015.5h0M194.5 1063.3h0M238.2 1049.2h0M309.7 1057.6h0M251.6 1063.3h0M267.3 1060.4h0M293.5 1054.8h0M284.7 1052.0h0M321.9 1068.9h0M245.9 1071.7h0M296.3 1054.8h0M297.6 1071.7h0M222.5 1074.5h0M305.2 1068.9h0M321.6 1066.1h0M280.3 1068.9h0M249.9 1071.7h0M289.4 1071.7h0M296.5 1054.8h0M275.5 1066.1h0M275.3 1071.7h0M271.3 1071.7h0M269.6 1068.9h0M274.1 1071.7h0M298.0 1029.5h0M273.8 1049.2h0M243.5 1071.7h0M264.2 1066.1h0M281.2 1018.3h0M270.2 1071.7h0M248.3 1066.1h0M253.6 1060.4h0M293.1 1063.3h0M282.7 1066.1h0M287.8 1063.3h0M301.9 1057.6h0M296.5 1074.5h0M314.1 1071.7h0M271.3 1066.1h0M263.4 1074.5h0M285.3 1068.9h0M281.9 1046.4h0M292.1 1074.5h0M327.8 1066.1h0M226.0 1074.5h0M275.5 1068.9h0M238.2 1068.9h0M307.8 1071.7h0M278.6 1071.7h0M291.0 1060.4h0M306.3 1066.1h0M299.3 1068.9h0M297.2 1066.1h0M295.4 1046.4h0M324.5 1068.9h0M320.3 1054.8h0M232.5 1049.2h0M243.5 1071.7h0M267.3 1071.7h0M268.5 1068.9h0M243.5 1074.5h0M200.3 1074.5h0M261.7 1063.3h0M303.5 1057.6h0M326.8 1057.6h0M289.2 1057.6h0M214.7 1074.5h0M286.9 1054.8h0M252.0 1063.3h0M309.3 987.3h0M214.7 1074.5h0M271.1 990.2h0M320.4 1032.3h0M250.2 1068.9h0M306.7 1068.9h0M282.3 1054.8h0M290.2 1052.0h0M302.1 1018.3h0M240.9 1063.3h0M265.6 1068.9h0M253.0 1052.0h0M308.3 1071.7h0M273.0 993.0h0M293.5 1023.9h0M324.9 1054.8h0M271.4 1074.5h0M283.8 1074.5h0M292.8 1074.5h0M306.2 1066.1h0M327.2 1071.7h0M194.5 1068.9h0M314.9 1046.4h0M245.9 1074.5h0M290.1 1063.3h0M260.8 1063.3h0M235.4 1066.1h0M235.4 1071.7h0M313.8 1057.6h0M269.3 1074.5h0M295.3 1074.5h0M277.0 1032.3h0M275.3 1066.1h0M278.1 1068.9h0M301.8 1004.2h0M269.5 1074.5h0M319.7 1071.7h0M299.7 1066.1h0M314.3 1052.0h0M268.4 1063.3h0M222.5 1071.7h0M285.6 1049.2h0M255.0 1071.7h0M305.3 1004.2h0M298.5 1021.1h0M251.6 1068.9h0M257.6 1054.8h0M272.6 1054.8h0M317.0 1071.7h0M255.5 1071.7h0M277.6 1071.7h0M291.4 1074.5h0M235.4 1068.9h0M257.4 1066.1h0M263.5 1063.3h0M261.5 1074.5h0M245.9 1063.3h0M262.6 1071.7h0M315.3 1068.9h0M324.5 1038.0h0M235.4 1060.4h0M296.0 1046.4h0M301.8 1052.0h0M214.7 1066.1h0M235.4 1057.6h0M249.7 1066.1h0M301.7 1026.7h0M312.9 1068.9h0M284.7 1066.1h0M273.4 1049.2h0M222.5 1071.7h0M320.0 1074.5h0M264.9 1074.5h0M256.5 1071.7h0M226.0 1071.7h0M289.7 1068.9h0M210.3 1071.7h0M229.3 1071.7h0M283.1 1063.3h0M287.8 1071.7h0M311.6 1071.7h0M268.6 1066.1h0M264.6 1060.4h0M316.2 1071.7h0M238.2 1068.9h0M294.8 1071.7h0M289.4 1063.3h0M313.0 1001.4h0M310.2 1071.7h0M296.2 1057.6h0M282.7 1066.1h0M247.6 1063.3h0M200.3 1066.1h0M229.3 1071.7h0M296.3 1052.0h0M282.2 1071.7h0M284.1 1074.5h0M285.9 1071.7h0M232.5 1068.9h0M286.9 1060.4h0M288.6 1066.1h0M240.9 1043.6h0M240.9 1063.3h0M200.3 1071.7h0M309.6 1071.7h0M316.5 1060.4h0M291.0 1071.7h0M278.4 1049.2h0M302.2 1012.7h0M266.7 1071.7h0M270.5 1071.7h0M274.4 1057.6h0M280.7 1068.9h0M319.4 1043.6h0M275.0 1071.7h0M273.7 1063.3h0M257.8 1038.0h0M313.6 1021.1h0M275.4 1023.9h0M295.9 1063.3h0M302.8 1074.5h0M205.5 1068.9h0M261.1 1071.7h0M291.5 1001.4h0M273.1 1060.4h0M232.5 1071.7h0M266.6 964.9h0M275.7 1060.4h0M257.2 1066.1h0M245.9 1071.7h0M214.7 1068.9h0M309.2 1046.4h0M308.3 1049.2h0M226.0 1063.3h0M261.5 1068.9h0M278.6 1066.1h0M238.2 1068.9h0M310.8 1060.4h0M279.9 1066.1h0M269.9 1057.6h0M210.3 1071.7h0M229.3 1063.3h0M301.2 1043.6h0M283.4 1046.4h0M283.8 1074.5h0M312.9 1066.1h0M272.1 1026.7h0M260.5 1063.3h0M328.6 1068.9h0M194.5 1074.5h0M243.5 1057.6h0M194.5 1074.5h0M309.6 1063.3h0M277.7 1063.3h0M258.7 1049.2h0M312.5 1068.9h0M304.8 1032.3h0M273.8 1057.6h0M284.4 1068.9h0M309.3 1029.5h0M284.3 1068.9h0M243.5 1074.5h0M275.8 1068.9h0M194.5 1071.7h0M307.6 1063.3h0M289.4 1068.9h0M271.1 1074.5h0M218.7 1071.7h0M318.8 1068.9h0M252.6 1043.6h0M271.1 1068.9h0M256.9 1057.6h0M289.3 1032.3h0M267.4 1068.9h0M274.6 1043.6h0M278.0 1063.3h0M319.8 1038.0h0M272.1 1068.9h0M292.2 1068.9h0M311.9 1068.9h0M285.6 1071.7h0M275.6 1074.5h0M257.3 1066.1h0M277.0 1054.8h0M263.0 1074.5h0M287.2 1063.3h0M311.0 1060.4h0M322.3 1007.0h0M263.6 1068.9h0M229.3 1068.9h0M289.1 1066.1h0M252.6 1071.7h0M268.0 1068.9h0M318.3 1066.1h0M330.1 1040.8h0M238.2 1074.5h0M287.8 1074.5h0M309.4 1040.8h0M277.4 1052.0h0M290.6 1049.2h0M260.2 1040.8h0M284.4 1063.3h0M313.0 1035.1h0M295.6 1071.7h0M315.9 1071.7h0M303.8 1046.4h0M200.3 1074.5h0M296.8 1068.9h0M307.0 1068.9h0M312.6 1060.4h0M297.9 1054.8h0M321.4 1068.9h0M329.5 1052.0h0M313.2 1068.9h0M289.9 1052.0h0M284.0 1023.9h0M294.8 1074.5h0M248.3 1071.7h0M329.7 1074.5h0M260.1 1068.9h0M254.5 1066.1h0M254.6 1074.5h0M253.5 1063.3h0M312.3 1071.7h0M297.2 1049.2h0M282.2 1035.1h0M247.7 1071.7h0M291.8 1054.8h0M303.6 942.4h0M292.8 1046.4h0M264.5 1038.0h0M313.2 1004.2h0M188.1 1068.9h0M290.4 1066.1h0M226.0 1068.9h0M298.4 1068.9h0M268.5 1068.9h0M256.6 1071.7h0M279.0 1063.3h0M317.2 1071.7h0M291.5 1060.4h0M327.7 1054.8h0M295.9 1066.1h0M287.4 1054.8h0M276.0 1071.7h0M294.0 1074.5h0M261.1 1063.3h0M287.0 1071.7h0M200.3 1074.5h0M280.2 1074.5h0M243.5 1068.9h0M321.2 1046.4h0M292.3 1074.5h0M320.9 1038.0h0M262.5 1054.8h0M311.1 1071.7h0M277.9 1052.0h0M214.7 1074.5h0M316.4 1054.8h0M311.0 1074.5h0M305.4 1071.7h0M305.9 1066.1h0M307.6 1043.6h0M280.4 1068.9h0M310.4 1052.0h0M265.5 1040.8h0M319.7 1049.2h0M294.9 1060.4h0M298.2 1071.7h0M311.3 1060.4h0M278.7 1071.7h0M253.3 1071.7h0M243.5 1074.5h0M313.3 1057.6h0M281.3 1049.2h0M222.5 1068.9h0M274.3 1063.3h0M275.4 1066.1h0M273.2 1063.3h0M269.3 1038.0h0M243.5 1074.5h0M250.2 1071.7h0M277.6 1074.5h0M304.8 1068.9h0M304.6 1074.5h0M307.5 1032.3h0M304.3 1054.8h0M229.3 1066.1h0M287.0 1049.2h0M305.8 1063.3h0M278.4 1066.1h0M302.3 1038.0h0M294.7 1071.7h0M304.4 1071.7h0M307.2 1071.7h0M296.7 1063.3h0M256.4 1054.8h0M275.8 1068.9h0M275.4 1068.9h0M306.6 1068.9h0M330.1 1068.9h0M293.7 1074.5h0M287.7 1066.1h0M282.2 1060.4h0M269.1 1066.1h0M310.6 1063.3h0M214.7 1071.7h0M210.3 1074.5h0M205.5 1066.1h0M253.9 1068.9h0M311.6 1049.2h0M328.0 1021.1h0M304.4 1021.1h0M324.4 1071.7h0M300.6 1060.4h0M274.0 1068.9h0M321.7 1046.4h0M256.7 1074.5h0M272.9 1063.3h0M240.9 1071.7h0M296.5 1060.4h0M301.8 1066.1h0M200.3 1068.9h0M222.5 1068.9h0M222.5 1066.1h0M302.0 1074.5h0M312.7 1023.9h0M273.1 1068.9h0M272.3 1057.6h0M298.3 1066.1h0M292.8 1063.3h0M304.0 1063.3h0M214.7 1071.7h0M298.1 1068.9h0M289.8 1066.1h0M281.3 1068.9h0M293.5 1068.9h0M327.0 1054.8h0M315.3 1063.3h0M272.6 1023.9h0M259.3 1052.0h0M277.0 1074.5h0M282.8 1060.4h0M270.7 1060.4h0M255.5 1068.9h0M305.0 1032.3h0M256.2 1068.9h0M232.5 1057.6h0M254.8 1066.1h0M318.5 1060.4h0M287.5 1057.6h0M266.3 1057.6h0M287.6 1068.9h0M292.5 1071.7h0M296.5 1054.8h0M312.4 1046.4h0M240.9 1052.0h0M307.7 1060.4h0M317.4 1052.0h0M269.2 1060.4h0M271.5 1043.6h0M252.3 1066.1h0M317.7 981.7h0M245.9 1074.5h0M238.2 1046.4h0M291.6 1052.0h0M295.8 1074.5h0M250.2 1071.7h0M296.9 1074.5h0M303.7 1021.1h0M200.3 1071.7h0M255.3 1063.3h0M282.1 1057.6h0M305.1 1052.0h0M326.6 1066.1h0M321.2 1068.9h0M235.4 1071.7h0M275.8 1052.0h0M314.5 1071.7h0M295.1 1071.7h0M277.0 1043.6h0M263.4 1071.7h0M302.3 1015.5h0M299.6 1060.4h0M235.4 1071.7h0M248.7 1071.7h0M294.9 1057.6h0M266.2 1063.3h0M303.0 1068.9h0M293.7 1060.4h0M272.6 1066.1h0M280.6 1071.7h0M259.4 1063.3h0M279.3 1054.8h0M235.4 1074.5h0M275.6 1060.4h0M265.3 1063.3h0M253.1 1060.4h0M291.9 1066.1h0M287.3 1023.9h0M292.0 1071.7h0M296.0 1068.9h0M222.5 1068.9h0M302.6 1063.3h0M309.3 1052.0h0M292.2 1040.8h0M323.7 1043.6h0M296.4 1066.1h0M200.3 1057.6h0M292.5 959.2h0M194.5 1063.3h0M283.1 1043.6h0M263.3 1060.4h0M261.5 1074.5h0M304.7 1071.7h0M226.0 1066.1h0M291.6 1066.1h0M290.8 1054.8h0M238.2 1074.5h0M300.1 1043.6h0M299.6 1054.8h0M287.6 1071.7h0M257.8 1071.7h0M278.1 1068.9h0M264.6 1071.7h0M264.2 1068.9h0M245.9 1074.5h0M307.4 1068.9h0M281.3 1066.1h0M292.6 1026.7h0M254.5 1060.4h0M312.5 1046.4h0M285.5 1071.7h0M291.2 1071.7h0M290.2 1063.3h0M277.2 1046.4h0M248.5 1074.5h0M267.9 1068.9h0M249.7 1074.5h0M240.9 1068.9h0M276.4 1066.1h0M218.7 1068.9h0M313.4 1054.8h0M194.5 1066.1h0M292.1 1074.5h0M255.0 1074.5h0M205.5 1074.5h0M328.1 1038.0h0M248.2 1066.1h0M210.3 1068.9h0M314.2 1071.7h0M287.3 1040.8h0M262.2 1071.7h0M283.2 1068.9h0M194.5 1074.5h0M205.5 1074.5h0M232.5 1074.5h0M238.2 1066.1h0M316.9 1057.6h0M304.6 1052.0h0M260.3 1066.1h0M255.9 1068.9h0M279.7 1057.6h0M320.6 967.7h0M292.0 1071.7h0M267.5 1068.9h0M313.5 1057.6h0M318.1 1060.4h0M304.6 1066.1h0M313.8 1060.4h0M229.3 1063.3h0M290.7 1074.5h0M331.1 1007.0h0M278.3 1071.7h0M317.3 1063.3h0M205.5 1066.1h0M294.2 1040.8h0M282.3 1066.1h0M267.6 1066.1h0M260.9 1057.6h0M259.9 1071.7h0M258.8 1071.7h0M296.6 1063.3h0M299.6 1066.1h0M308.3 1068.9h0M243.5 1071.7h0M255.1 1071.7h0M296.1 1057.6h0M210.3 1074.5h0M287.3 1063.3h0M329.6 1057.6h0M278.4 1057.6h0M272.6 1071.7h0M280.1 1015.5h0M245.9 1066.1h0M274.0 1026.7h0M304.1 1046.4h0M299.7 1068.9h0M297.6 1074.5h0M253.2 1068.9h0M281.1 1060.4h0M267.4 1066.1h0M248.1 1074.5h0M261.1 1071.7h0M319.4 1071.7h0M280.9 1068.9h0M331.0 1057.6h0M314.8 1071.7h0M262.1 1066.1h0M240.9 1074.5h0M316.7 1057.6h0M245.9 1063.3h0M245.9 1068.9h0M280.3 1035.1h0M240.9 1054.8h0M271.1 1068.9h0M262.1 1074.5h0M268.4 1066.1h0M302.7 1032.3h0M316.9 1049.2h0M260.3 1068.9h0M258.5 1054.8h0M279.4 1063.3h0M295.2 1057.6h0M295.6 1038.0h0M265.1 1071.7h0M194.5 1074.5h0M313.9 1054.8h0M271.0 1066.1h0M289.0 1074.5h0M272.9 1066.1h0M274.0 1071.7h0M229.3 1066.1h0M303.5 1063.3h0M222.5 1074.5h0M299.0 1071.7h0M319.8 1052.0h0M274.1 1066.1h0M289.2 1040.8h0M274.1 1015.5h0M324.2 1018.3h0M317.1 1040.8h0M323.0 1063.3h0M286.7 1032.3h0M268.0 1063.3h0M276.9 1063.3h0M254.3 1074.5h0M299.5 1018.3h0M263.9 1068.9h0M287.6 1029.5h0M312.4 1068.9h0M301.2 1074.5h0M205.5 1074.5h0M309.4 1071.7h0M326.0 1057.6h0M256.8 1063.3h0M298.3 1074.5h0M329.5 1071.7h0M324.0 1068.9h0M210.3 1068.9h0M266.8 1049.2h0M321.7 1054.8h0M260.7 1068.9h0M300.9 1046.4h0M288.2 1074.5h0M297.8 1063.3h0M238.2 1046.4h0M283.3 1054.8h0M268.8 1066.1h0M310.5 1068.9h0M284.5 1068.9h0M256.0 1049.2h0M275.0 1060.4h0M294.7 1066.1h0M329.2 993.0h0M269.5 1060.4h0M256.7 1071.7h0M268.5 1071.7h0M267.8 1046.4h0M300.9 970.5h0M247.8 1068.9h0M255.4 1066.1h0M271.1 1074.5h0M294.2 1049.2h0M259.6 1068.9h0M326.3 1063.3h0M226.0 1068.9h0M266.0 1074.5h0M277.4 1068.9h0M278.6 1066.1h0M260.3 1057.6h0M247.7 1071.7h0M264.8 1063.3h0M194.5 1066.1h0M269.5 1052.0h0M297.5 1071.7h0M274.2 1038.0h0M310.9 1071.7h0M297.3 1057.6h0M253.2 1074.5h0M325.7 1060.4h0M306.2 1063.3h0M319.4 1012.7h0M285.3 1046.4h0M270.9 1066.1h0M298.9 1018.3h0M307.1 1052.0h0M289.0 1068.9h0M298.9 1071.7h0M265.0 1068.9h0M218.7 1066.1h0M303.3 1066.1h0M284.5 1071.7h0M297.3 967.7h0M313.3 1040.8h0M322.8 993.0h0M226.0 1066.1h0M298.5 1060.4h0M304.3 1066.1h0M273.7 1074.5h0M245.9 1068.9h0M194.5 1068.9h0M238.2 1074.5h0M285.3 1066.1h0M312.2 1066.1h0M276.5 1060.4h0M245.9 1023.9h0M218.7 1071.7h0M325.5 1071.7h0M280.2 1049.2h0M318.7 1068.9h0M218.7 1071.7h0M265.3 1068.9h0M290.1 1063.3h0M240.9 1068.9h0M257.7 1068.9h0M314.5 1015.5h0M316.6 1057.6h0M304.0 1074.5h0M321.1 1052.0h0M267.1 1066.1h0M298.4 1071.7h0M226.0 1066.1h0M282.3 1063.3h0M240.9 1074.5h0M270.6 1074.5h0M289.7 1040.8h0M297.5 1066.1h0M310.7 1066.1h0M299.3 1071.7h0M290.5 1054.8h0M282.0 1040.8h0M271.1 1054.8h0M322.3 1052.0h0M291.0 1060.4h0M303.1 1068.9h0M279.5 1054.8h0M298.4 1071.7h0M315.0 1029.5h0M232.5 1063.3h0M307.3 1043.6h0M273.0 1063.3h0M312.8 1057.6h0M288.9 1035.1h0M250.1 1066.1h0M240.9 1066.1h0M262.8 1066.1h0M287.0 1054.8h0M309.7 1038.0h0M314.7 1060.4h0M317.1 1066.1h0M278.8 1071.7h0M299.4 1057.6h0M266.4 1063.3h0M305.0 1068.9h0M245.9 1071.7h0M258.6 1068.9h0M311.1 1066.1h0M293.4 1043.6h0M240.9 1057.6h0M320.2 1071.7h0M330.2 1057.6h0M214.7 1066.1h0M318.8 1060.4h0M271.4 1063.3h0M273.1 1071.7h0M245.9 1074.5h0M284.7 1043.6h0M304.9 1066.1h0M243.5 1068.9h0M283.4 1068.9h0M266.6 1063.3h0M283.7 1038.0h0M315.3 1074.5h0M305.4 1060.4h0M300.6 1015.5h0M267.2 1071.7h0M307.6 1066.1h0M291.6 1071.7h0M261.3 1068.9h0M329.0 1054.8h0M254.1 1068.9h0M294.4 1068.9h0M260.3 1074.5h0M307.2 1007.0h0M268.1 1057.6h0M270.7 1071.7h0M321.4 919.9h0M260.3 1071.7h0M292.3 1066.1h0M299.1 1046.4h0M296.5 1021.1h0M293.3 1066.1h0M259.0 1071.7h0M311.0 1071.7h0M305.7 1026.7h0M274.4 1068.9h0M307.2 1035.1h0M265.0 1074.5h0M317.4 1074.5h0M305.8 1052.0h0M285.9 1068.9h0M188.1 1074.5h0M210.3 1074.5h0M327.7 1057.6h0M322.7 1046.4h0M258.7 1074.5h0M258.1 1063.3h0M328.9 1026.7h0M263.8 1040.8h0M304.5 1074.5h0M270.2 1068.9h0M312.0 1074.5h0M309.1 1071.7h0M229.3 1066.1h0M273.2 1074.5h0M319.5 1052.0h0M329.3 922.7h0M317.8 1043.6h0M272.8 1071.7h0M200.3 1060.4h0M252.8 1063.3h0M288.1 1063.3h0M296.7 1026.7h0M306.3 1057.6h0M328.1 1060.4h0M210.3 1071.7h0M278.8 1066.1h0M294.1 1068.9h0M252.3 1054.8h0M328.1 1040.8h0M238.2 1066.1h0M238.2 1074.5h0M290.3 1060.4h0M302.1 1074.5h0M276.5 1071.7h0M302.9 1066.1h0M320.9 1057.6h0M325.6 1054.8h0M267.4 1066.1h0M296.8 1074.5h0M256.3 1063.3h0M308.3 1018.3h0M298.0 1060.4h0M240.9 1066.1h0M300.0 1015.5h0M240.9 1074.5h0M313.7 1063.3h0M194.5 1071.7h0M284.6 1071.7h0M294.3 1074.5h0M263.4 1068.9h0M299.4 1071.7h0M277.1 1071.7h0M294.1 1066.1h0M264.6 1068.9h0M320.8 1032.3h0M267.0 1074.5h0M316.5 1057.6h0M252.3 1074.5h0M271.8 1068.9h0M313.0 1054.8h0M312.1 1066.1h0M200.3 1074.5h0M243.5 1068.9h0M259.5 1068.9h0M258.8 1074.5h0M327.5 1054.8h0M302.8 1038.0h0M270.8 1066.1h0M281.8 1068.9h0M291.9 1068.9h0M253.8 1068.9h0M319.0 1012.7h0M290.3 1052.0h0M285.3 1052.0h0M248.6 1060.4h0M256.5 1074.5h0M314.9 1071.7h0M270.1 1074.5h0M326.9 1023.9h0M306.2 1071.7h0M194.5 1046.4h0M194.5 1068.9h0M306.1 1074.5h0M309.5 1060.4h0M290.2 1063.3h0M283.3 1063.3h0M210.3 1071.7h0M240.9 1066.1h0M317.2 1049.2h0M315.4 1066.1h0M265.4 1068.9h0M328.8 1012.7h0M210.3 1074.5h0M307.0 1057.6h0M240.9 1060.4h0M274.4 1074.5h0M286.0 1071.7h0M296.5 1054.8h0M265.9 1032.3h0M298.9 1057.6h0M281.6 1071.7h0M214.7 1071.7h0M326.4 1057.6h0M297.7 1054.8h0M284.4 1068.9h0M310.1 1074.5h0M301.2 1063.3h0M257.7 1066.1h0M260.7 1060.4h0M290.2 1052.0h0M274.1 1057.6h0M200.3 1071.7h0M280.3 1066.1h0M296.9 1068.9h0M268.6 1054.8h0M315.3 1063.3h0M301.3 1068.9h0M290.8 1054.8h0M250.3 1074.5h0M291.0 1038.0h0M270.2 1074.5h0M262.6 1068.9h0M289.5 1043.6h0M240.9 1049.2h0M298.4 1007.0h0M279.6 1063.3h0M289.0 1057.6h0M243.5 1066.1h0M285.6 1068.9h0M265.6 1052.0h0M325.3 1066.1h0M321.1 1066.1h0M323.8 1071.7h0M235.4 1068.9h0M260.8 1040.8h0M307.1 1071.7h0M200.3 1071.7h0M238.2 1066.1h0M296.9 1057.6h0M325.7 1074.5h0M297.7 1066.1h0M200.3 1066.1h0M296.4 1068.9h0M294.5 1043.6h0M297.9 1063.3h0M260.9 1023.9h0M235.4 1068.9h0M268.1 1074.5h0M270.8 1063.3h0M275.0 1068.9h0M279.4 1066.1h0M214.7 1071.7h0M308.9 1066.1h0M287.1 1040.8h0M314.4 1043.6h0M285.2 1071.7h0M285.0 1071.7h0M291.8 1074.5h0M312.0 987.3h0M280.3 1009.8h0M232.5 1060.4h0M290.5 1063.3h0M240.9 1066.1h0M296.1 1060.4h0M326.4 1057.6h0M295.1 1063.3h0M310.7 1060.4h0M321.9 1009.8h0M289.9 1068.9h0M284.3 1071.7h0M282.5 1057.6h0M325.3 1074.5h0M323.3 1054.8h0M284.7 1068.9h0M205.5 1068.9h0M194.5 1074.5h0M255.1 1068.9h0M272.6 1052.0h0M294.2 1052.0h0M245.9 1071.7h0M271.1 1066.1h0M299.1 1023.9h0M250.0 1054.8h0M271.2 1071.7h0M307.3 1057.6h0M310.2 1060.4h0M297.1 1068.9h0M312.7 1057.6h0M194.5 1071.7h0M240.9 1068.9h0M325.5 1035.1h0M269.9 1043.6h0M274.1 1060.4h0M327.6 1071.7h0M305.8 1057.6h0M313.1 1068.9h0M312.5 1040.8h0M275.0 1074.5h0M317.7 1074.5h0M311.2 1004.2h0M306.1 1074.5h0M296.8 1052.0h0M295.4 1071.7h0M309.3 1066.1h0M291.3 1066.1h0M286.0 1071.7h0M287.3 1054.8h0M273.5 1068.9h0M243.5 1071.7h0M271.7 1052.0h0M261.5 1071.7h0M282.2 1071.7h0M327.5 1066.1h0M324.9 1071.7h0M302.5 1052.0h0M322.4 1071.7h0M270.6 1071.7h0M249.0 1060.4h0M272.0 1071.7h0M243.5 1071.7h0M188.1 1074.5h0M266.1 1071.7h0M250.9 1063.3h0M300.5 1066.1h0M247.9 1074.5h0M243.5 1071.7h0M245.9 1071.7h0M243.5 1074.5h0M222.5 1057.6h0M286.9 1071.7h0M260.3 1066.1h0M260.1 1074.5h0M271.2 1063.3h0M266.0 1049.2h0M260.4 1060.4h0M205.5 1071.7h0M309.9 1043.6h0M303.2 1052.0h0M262.8 1071.7h0M291.2 1068.9h0M250.7 1068.9h0M300.7 1066.1h0M302.0 1071.7h0M269.8 1074.5h0M321.6 1035.1h0M194.5 1071.7h0M311.6 1060.4h0M293.4 1074.5h0M295.4 1074.5h0M278.8 1046.4h0M287.8 1043.6h0M295.1 1063.3h0M302.9 993.0h0M229.3 1074.5h0M296.0 1057.6h0M285.0 1023.9h0M280.6 1074.5h0M226.0 1066.1h0M296.9 1057.6h0M267.4 1049.2h0M210.3 1066.1h0M263.1 1054.8h0M310.6 1066.1h0M312.2 1071.7h0M281.4 1052.0h0M245.9 1068.9h0M276.4 1054.8h0M275.3 1074.5h0M262.6 1074.5h0M318.5 1035.1h0M305.9 1068.9h0M288.4 1040.8h0M270.4 1063.3h0M287.4 1063.3h0M326.4 1009.8h0M271.9 1068.9h0M243.5 1068.9h0M327.6 1040.8h0M250.3 1068.9h0M303.5 1004.2h0M229.3 1068.9h0M292.7 1021.1h0M285.9 1071.7h0M210.3 1074.5h0M214.7 1060.4h0M310.4 1032.3h0M305.6 1074.5h0M319.6 1057.6h0M257.2 1057.6h0M269.6 1063.3h0M312.7 1068.9h0M253.4 1074.5h0M253.8 1052.0h0M214.7 1071.7h0M293.2 1071.7h0M294.7 1074.5h0M253.8 1035.1h0M275.9 1066.1h0M222.5 1074.5h0M327.1 1074.5h0M323.7 1068.9h0M327.1 1063.3h0M304.0 1040.8h0M194.5 1074.5h0M252.8 1074.5h0M243.5 1071.7h0M249.6 1063.3h0M305.8 1066.1h0M317.6 1046.4h0M284.5 1071.7h0M214.7 1074.5h0M298.5 1063.3h0M275.5 1032.3h0M270.1 1066.1h0M214.7 1071.7h0M249.9 1074.5h0M294.7 1063.3h0M240.9 1043.6h0M222.5 1063.3h0M316.3 1071.7h0M285.3 1054.8h0M300.3 1071.7h0M257.9 1068.9h0M280.4 1035.1h0M308.4 1052.0h0M304.0 1068.9h0M322.5 1057.6h0M282.5 1066.1h0M308.3 1074.5h0M272.9 1071.7h0M321.8 1052.0h0M289.3 1074.5h0M326.0 1068.9h0M306.5 1071.7h0M296.4 1071.7h0M278.9 1071.7h0M328.4 1049.2h0M275.8 1071.7h0M287.2 1071.7h0M200.3 1074.5h0M254.2 1071.7h0M243.5 1063.3h0M266.2 1068.9h0M276.6 1060.4h0M313.3 1071.7h0M253.6 1066.1h0M262.3 1038.0h0M318.3 1057.6h0M200.3 1063.3h0M278.1 1074.5h0M299.7 1071.7h0M314.7 1052.0h0M314.3 1068.9h0M252.7 1074.5h0M293.9 1040.8h0M232.5 1071.7h0M268.2 1015.5h0M258.2 1043.6h0M302.3 1057.6h0M296.4 1060.4h0M287.8 1015.5h0M321.3 1018.3h0M287.0 1068.9h0M331.1 1057.6h0M284.0 1060.4h0M280.8 1060.4h0M274.1 1074.5h0M286.8 1049.2h0M271.7 1074.5h0M269.3 1071.7h0M278.2 1057.6h0M295.0 1074.5h0M264.3 1071.7h0M316.8 1049.2h0M263.9 1074.5h0M280.4 1049.2h0M293.1 1049.2h0M307.0 1066.1h0M273.5 1071.7h0M315.9 1066.1h0M252.0 1071.7h0M262.5 1074.5h0M245.9 1063.3h0M310.6 1066.1h0M200.3 1074.5h0M311.4 1054.8h0M279.9 1049.2h0M210.3 1071.7h0M268.0 1052.0h0M284.9 1068.9h0M256.6 1060.4h0M299.4 1063.3h0M232.5 1068.9h0M293.5 1060.4h0M214.7 1068.9h0M271.7 1071.7h0M218.7 1074.5h0M266.2 1071.7h0M284.8 1068.9h0M243.5 1068.9h0M295.2 1066.1h0M272.3 1071.7h0M299.1 1060.4h0M265.3 1074.5h0M319.1 1052.0h0M286.0 1074.5h0M301.1 1066.1h0M307.6 1038.0h0M229.3 1074.5h0M291.7 1032.3h0M304.1 1071.7h0M280.8 1054.8h0M247.3 1071.7h0M194.5 1074.5h0M290.3 1066.1h0M326.4 1066.1h0M281.0 1071.7h0M283.6 1074.5h0M265.2 1071.7h0M238.2 1066.1h0M319.4 1046.4h0M256.4 1066.1h0M282.8 1057.6h0M295.8 1063.3h0M162.4 1071.7h0M162.4 1071.7h0M162.4 1071.7h0M162.4 1074.5h0M162.4 1071.7h0M162.4 1074.5h0M162.4 1074.5h0M172.3 1071.7h0M172.3 1074.5h0M172.3 1071.7h0M172.3 1068.9h0M172.3 1066.1h0M172.3 1071.7h0M172.3 1068.9h0M180.8 1071.7h0M180.8 1068.9h0M180.8 1074.5h0M180.8 1063.3h0M180.8 1068.9h0M180.8 1074.5h0M180.8 1071.7h0M180.8 1071.7h0M188.1 1068.9h0M188.1 1071.7h0M188.1 1068.9h0M188.1 1071.7h0M188.1 1068.9h0M188.1 1068.9h0M188.1 1074.5h0M188.1 1071.7h0M188.1 1071.7h0M194.5 1066.1h0M194.5 1071.7h0M194.5 1071.7h0M194.5 1071.7h0M194.5 1068.9h0M194.5 1071.7h0M194.5 1068.9h0M194.5 1074.5h0M194.5 1071.7h0M194.5 1074.5h0M200.3 1057.6h0M200.3 1071.7h0M200.3 1066.1h0M200.3 1071.7h0M200.3 1071.7h0M200.3 1066.1h0M200.3 1066.1h0M200.3 1074.5h0M200.3 1071.7h0M200.3 1068.9h0M200.3 1066.1h0M205.5 1063.3h0M205.5 1074.5h0M205.5 1071.7h0M205.5 1071.7h0M205.5 1074.5h0M205.5 1071.7h0M205.5 1074.5h0M205.5 1068.9h0M205.5 1071.7h0M205.5 1074.5h0M205.5 1074.5h0M210.3 1074.5h0M210.3 1071.7h0M210.3 1074.5h0M210.3 1066.1h0M210.3 1071.7h0M210.3 1068.9h0M210.3 1074.5h0M210.3 1068.9h0M210.3 1071.7h0M210.3 1071.7h0M210.3 1074.5h0M210.3 1057.6h0M214.7 1074.5h0M214.7 1074.5h0M214.7 1068.9h0M214.7 1068.9h0M214.7 1071.7h0M214.7 1066.1h0M214.7 1066.1h0M214.7 1074.5h0M214.7 1074.5h0M214.7 1071.7h0M214.7 1074.5h0M214.7 1071.7h0M214.7 1074.5h0M218.7 1071.7h0M218.7 1074.5h0M218.7 1068.9h0M218.7 1068.9h0M218.7 1071.7h0M218.7 1060.4h0M218.7 1060.4h0M218.7 1068.9h0M218.7 1071.7h0M218.7 1063.3h0M218.7 1068.9h0M218.7 1074.5h0M218.7 1071.7h0M218.7 1074.5h0M222.5 1071.7h0M222.5 1074.5h0M222.5 1074.5h0M222.5 1074.5h0M222.5 1074.5h0M222.5 1060.4h0M222.5 1071.7h0M222.5 1068.9h0M222.5 1074.5h0M222.5 1057.6h0M222.5 1074.5h0M222.5 1074.5h0M222.5 1071.7h0M222.5 1074.5h0M222.5 1074.5h0M226.0 1063.3h0M226.0 1074.5h0M226.0 1071.7h0M226.0 1068.9h0M226.0 1074.5h0M226.0 1071.7h0M226.0 1074.5h0M226.0 1066.1h0M226.0 1074.5h0M226.0 1066.1h0M226.0 1068.9h0M226.0 1068.9h0M226.0 1071.7h0M226.0 1063.3h0M226.0 1074.5h0M229.3 1071.7h0M229.3 1066.1h0M229.3 1066.1h0M229.3 1074.5h0M229.3 1063.3h0M229.3 1060.4h0M229.3 1074.5h0M229.3 1074.5h0M229.3 1071.7h0M229.3 1068.9h0M229.3 1066.1h0M229.3 1068.9h0M229.3 1068.9h0M229.3 1068.9h0M229.3 1063.3h0M229.3 1068.9h0M232.5 1074.5h0M232.5 1068.9h0M232.5 1074.5h0M232.5 1074.5h0M232.5 1074.5h0M232.5 1071.7h0M232.5 1060.4h0M232.5 1071.7h0M232.5 1066.1h0M232.5 1071.7h0M232.5 1071.7h0M232.5 1074.5h0M232.5 1063.3h0M232.5 1063.3h0M232.5 1071.7h0M232.5 1071.7h0M232.5 1046.4h0" stroke="#000" stroke-width="2.5" stroke-linecap="round" fill="none"/>
<path d="M129.4 1073.7 L133.1 1073.7 L136.7 1073.6 L140.4 1073.5 L144.0 1073.4 L147.7 1073.4 L151.3 1073.3 L155.0 1073.2 L158.6 1073.1 L162.3 1072.9 L165.9 1072.8 L169.6 1072.7 L173.2 1072.5 L176.9 1072.4 L180.5 1072.2 L184.2 1072.0 L187.8 1071.8 L191.5 1071.6 L195.1 1071.3 L198.8 1071.1 L202.4 1070.8 L206.1 1070.5 L209.7 1070.2 L213.4 1069.8 L217.0 1069.4 L220.7 1069.0 L224.3 1068.6 L228.0 1068.1 L231.6 1067.6 L235.3 1067.0 L238.9 1066.4 L242.6 1065.7 L246.2 1065.0 L249.9 1064.2 L253.5 1063.4 L257.2 1062.5 L260.8 1061.5 L264.5 1060.4 L268.1 1059.3 L271.8 1058.0 L275.4 1056.7 L279.1 1055.2 L282.7 1053.6 L286.4 1051.9 L290.0 1050.1 L293.6 1048.1 L297.3 1045.9 L300.9 1043.6 L304.6 1041.0 L308.2 1038.3 L311.9 1035.3 L315.5 1032.1 L319.2 1028.7 L322.8 1024.9 L326.5 1020.8 L330.1 1016.4 L333.8 1011.7 L337.4 1006.6 L341.1 1001.0 L344.7 995.0 L348.4 988.5" fill="none" stroke="#2e952e" stroke-width="2.0" stroke-dasharray="12.5 4.3" stroke-linejoin="round"/>
<path d="M129.4 1074.0 L133.1 1074.0 L136.7 1073.9 L140.4 1073.9 L144.0 1073.8 L147.7 1073.8 L151.3 1073.7 L155.0 1073.6 L158.6 1073.6 L162.3 1073.5 L165.9 1073.4 L169.6 1073.3 L173.2 1073.2 L176.9 1073.1 L180.5 1073.0 L184.2 1072.9 L187.8 1072.8 L191.5 1072.6 L195.1 1072.5 L198.8 1072.3 L202.4 1072.1 L206.1 1071.9 L209.7 1071.7 L213.4 1071.5 L217.0 1071.2 L220.7 1071.0 L224.3 1070.7 L228.0 1070.3 L231.6 1070.0 L235.3 1069.6 L238.9 1069.2 L242.6 1068.8 L246.2 1068.3 L249.9 1067.8 L253.5 1067.3 L257.2 1066.7 L260.8 1066.1 L264.5 1065.4 L268.1 1064.6 L271.8 1063.8 L275.4 1063.0 L279.1 1062.0 L282.7 1061.0 L286.4 1059.9 L290.0 1058.7 L293.6 1057.4 L297.3 1056.0 L300.9 1054.5 L304.6 1052.8 L308.2 1051.1 L311.9 1049.2 L315.5 1047.1 L319.2 1044.8 L322.8 1042.4 L326.5 1039.8 L330.1 1036.9 L333.8 1033.9 L337.4 1030.5 L341.1 1026.9 L344.7 1023.0 L348.4 1018.8" fill="none" stroke="#000000" stroke-width="2.0" stroke-dasharray="12.5 4.3" stroke-linejoin="round"/>
<path d="M129.4 1074.1 L133.1 1074.1 L136.7 1074.1 L140.4 1074.0 L144.0 1074.0 L147.7 1074.0 L151.3 1073.9 L155.0 1073.9 L158.6 1073.8 L162.3 1073.8 L165.9 1073.7 L169.6 1073.7 L173.2 1073.6 L176.9 1073.5 L180.5 1073.4 L184.2 1073.4 L187.8 1073.3 L191.5 1073.2 L195.1 1073.1 L198.8 1073.0 L202.4 1072.8 L206.1 1072.7 L209.7 1072.6 L213.4 1072.4 L217.0 1072.3 L220.7 1072.1 L224.3 1071.9 L228.0 1071.7 L231.6 1071.5 L235.3 1071.3 L238.9 1071.0 L242.6 1070.7 L246.2 1070.4 L249.9 1070.1 L253.5 1069.8 L257.2 1069.4 L260.8 1069.0 L264.5 1068.6 L268.1 1068.1 L271.8 1067.6 L275.4 1067.1 L279.1 1066.5 L282.7 1065.9 L286.4 1065.3 L290.0 1064.5 L293.6 1063.8 L297.3 1062.9 L300.9 1062.0 L304.6 1061.1 L308.2 1060.0 L311.9 1058.9 L315.5 1057.7 L319.2 1056.4 L322.8 1055.0 L326.5 1053.5 L330.1 1051.9 L333.8 1050.1 L337.4 1048.2 L341.1 1046.2 L344.7 1044.0 L348.4 1041.6" fill="none" stroke="#f0920f" stroke-width="2.0" stroke-dasharray="12.5 4.3" stroke-linejoin="round"/>
<path d="M129.4 1073.5 L133.1 1073.5 L136.7 1073.5 L140.4 1073.4 L144.0 1073.4 L147.7 1073.3 L151.3 1073.3 L155.0 1073.2 L158.6 1073.2 L162.3 1073.1 L165.9 1073.1 L169.6 1073.0 L173.2 1072.9 L176.9 1072.9 L180.5 1072.8 L184.2 1072.7 L187.8 1072.7 L191.5 1072.6 L195.1 1072.5 L198.8 1072.4 L202.4 1072.3 L206.1 1072.3 L209.7 1072.2 L213.4 1072.1 L217.0 1072.0 L220.7 1071.9 L224.3 1071.8 L228.0 1071.6 L231.6 1071.5 L235.3 1071.4 L238.9 1071.3 L242.6 1071.2 L246.2 1071.0 L249.9 1070.9 L253.5 1070.7 L257.2 1070.6 L260.8 1070.4 L264.5 1070.2 L268.1 1070.1 L271.8 1069.9 L275.4 1069.7 L279.1 1069.5 L282.7 1069.3 L286.4 1069.1 L290.0 1068.9 L293.6 1068.6 L297.3 1068.4 L300.9 1068.1 L304.6 1067.9 L308.2 1067.6 L311.9 1067.3 L315.5 1067.0 L319.2 1066.7 L322.8 1066.4 L326.5 1066.1 L330.1 1065.8 L333.8 1065.4 L337.4 1065.0 L341.1 1064.6 L344.7 1064.2 L348.4 1063.8" fill="none" stroke="#2e952e" stroke-width="2.0" stroke-linejoin="round"/>
<path d="M129.4 1073.9 L133.1 1073.9 L136.7 1073.9 L140.4 1073.8 L144.0 1073.8 L147.7 1073.8 L151.3 1073.8 L155.0 1073.7 L158.6 1073.7 L162.3 1073.7 L165.9 1073.6 L169.6 1073.6 L173.2 1073.6 L176.9 1073.5 L180.5 1073.5 L184.2 1073.4 L187.8 1073.4 L191.5 1073.3 L195.1 1073.3 L198.8 1073.2 L202.4 1073.2 L206.1 1073.1 L209.7 1073.1 L213.4 1073.0 L217.0 1073.0 L220.7 1072.9 L224.3 1072.8 L228.0 1072.8 L231.6 1072.7 L235.3 1072.6 L238.9 1072.6 L242.6 1072.5 L246.2 1072.4 L249.9 1072.3 L253.5 1072.2 L257.2 1072.1 L260.8 1072.0 L264.5 1071.9 L268.1 1071.8 L271.8 1071.7 L275.4 1071.6 L279.1 1071.5 L282.7 1071.4 L286.4 1071.2 L290.0 1071.1 L293.6 1071.0 L297.3 1070.8 L300.9 1070.7 L304.6 1070.5 L308.2 1070.3 L311.9 1070.2 L315.5 1070.0 L319.2 1069.8 L322.8 1069.6 L326.5 1069.4 L330.1 1069.2 L333.8 1069.0 L337.4 1068.8 L341.1 1068.5 L344.7 1068.3 L348.4 1068.0" fill="none" stroke="#000000" stroke-width="2.0" stroke-linejoin="round"/>
<path d="M129.4 1074.1 L133.1 1074.1 L136.7 1074.0 L140.4 1074.0 L144.0 1074.0 L147.7 1074.0 L151.3 1074.0 L155.0 1073.9 L158.6 1073.9 L162.3 1073.9 L165.9 1073.9 L169.6 1073.8 L173.2 1073.8 L176.9 1073.8 L180.5 1073.8 L184.2 1073.7 L187.8 1073.7 L191.5 1073.7 L195.1 1073.6 L198.8 1073.6 L202.4 1073.6 L206.1 1073.5 L209.7 1073.5 L213.4 1073.4 L217.0 1073.4 L220.7 1073.3 L224.3 1073.3 L228.0 1073.2 L231.6 1073.2 L235.3 1073.1 L238.9 1073.1 L242.6 1073.0 L246.2 1073.0 L249.9 1072.9 L253.5 1072.8 L257.2 1072.8 L260.8 1072.7 L264.5 1072.6 L268.1 1072.6 L271.8 1072.5 L275.4 1072.4 L279.1 1072.3 L282.7 1072.2 L286.4 1072.1 L290.0 1072.0 L293.6 1071.9 L297.3 1071.8 L300.9 1071.7 L304.6 1071.6 L308.2 1071.5 L311.9 1071.4 L315.5 1071.2 L319.2 1071.1 L322.8 1071.0 L326.5 1070.8 L330.1 1070.7 L333.8 1070.5 L337.4 1070.3 L341.1 1070.2 L344.7 1070.0 L348.4 1069.8" fill="none" stroke="#f0920f" stroke-width="2.0" stroke-linejoin="round"/>
</g>
<g clip-path="url(#c42)">
<path d="M561.8 1057.6h0M554.5 1035.1h0M562.2 1060.4h0M586.2 1049.2h0M583.8 1049.2h0M575.5 1066.1h0M613.4 1049.2h0M588.0 1063.3h0M643.1 1063.3h0M642.4 1071.7h0M612.3 980.7h0M482.8 1074.5h0M596.1 1066.1h0M551.9 1063.3h0M614.1 1054.8h0M591.6 1057.6h0M581.8 1060.4h0M626.5 1038.0h0M592.7 1063.3h0M549.4 1052.0h0M588.2 1054.8h0M579.2 1029.5h0M469.1 1052.0h0M570.8 1063.3h0M623.5 1038.0h0M544.7 1032.3h0M628.5 1066.1h0M625.9 1052.0h0M584.2 1046.4h0M567.8 1068.9h0M555.9 1063.3h0M512.1 1018.3h0M560.0 1066.1h0M551.9 1063.3h0M593.9 1038.0h0M634.7 1068.9h0M627.3 1052.0h0M557.0 1068.9h0M579.9 1049.2h0M538.9 1057.6h0M553.7 1049.2h0M596.7 1060.4h0M594.2 1057.6h0M535.7 1066.1h0M594.1 1054.8h0M560.1 1009.8h0M554.3 1035.1h0M588.1 1054.8h0M581.1 1060.4h0M635.4 1015.5h0M586.7 1049.2h0M560.7 1068.9h0M614.4 1054.8h0M586.6 1007.0h0M609.6 1035.1h0M573.1 1063.3h0M609.8 1071.7h0M541.6 1054.8h0M603.0 1052.0h0M579.9 1057.6h0M549.1 1038.0h0M588.8 1038.0h0M543.3 1071.7h0M580.8 1054.8h0M600.4 1068.9h0M619.2 1060.4h0M605.5 1071.7h0M568.3 1071.7h0M578.8 1046.4h0M541.5 1054.8h0M581.2 1054.8h0M591.5 1063.3h0M626.4 1071.7h0M587.3 1063.3h0M562.2 1052.0h0M600.6 1046.4h0M579.5 1009.8h0M609.4 1007.0h0M579.2 1054.8h0M588.1 1063.3h0M578.6 1066.1h0M589.4 1071.7h0M583.4 1068.9h0M603.9 1043.6h0M544.8 1046.4h0M582.3 1060.4h0M587.3 945.2h0M633.7 1068.9h0M615.2 1071.7h0M577.4 953.6h0M631.7 1071.7h0M594.5 1057.6h0M612.5 1063.3h0M617.9 1040.8h0M634.0 1057.6h0M593.3 1035.1h0M628.2 1018.3h0M563.4 1071.7h0M619.8 1066.1h0M592.9 1032.3h0M598.1 1018.3h0M574.0 1052.0h0M628.8 1035.1h0M528.9 1023.9h0M598.5 1060.4h0M586.8 1049.2h0M535.5 1029.5h0M620.1 998.6h0M556.7 1057.6h0M624.3 1063.3h0M619.3 1052.0h0M602.4 1052.0h0M555.3 1068.9h0M551.2 1066.1h0M595.3 1009.8h0M595.3 1040.8h0M540.9 1063.3h0M590.2 1068.9h0M544.8 1066.1h0M569.2 1071.7h0M595.4 1049.2h0M543.5 1068.9h0M558.3 1052.0h0M576.1 1038.0h0M599.1 1046.4h0M584.2 1060.4h0M553.3 1068.9h0M588.7 1068.9h0M599.7 1012.7h0M564.1 1052.0h0M590.4 1060.4h0M466.8 1057.6h0M588.5 1023.9h0M589.7 1066.1h0M538.7 1054.8h0M611.2 1043.6h0M633.1 984.5h0M572.8 1063.3h0M635.9 1066.1h0M621.4 1040.8h0M541.0 1046.4h0M630.7 1043.6h0M498.8 1032.3h0M582.5 1060.4h0M592.0 1049.2h0M547.8 1071.7h0M564.5 1068.9h0M566.2 1066.1h0M595.7 1057.6h0M579.9 1071.7h0M596.8 1038.0h0M607.0 1066.1h0M611.3 945.2h0M527.3 1068.9h0M596.5 1052.0h0M612.9 1052.0h0M624.9 1068.9h0M610.7 1054.8h0M569.3 1060.4h0M577.2 1032.3h0M632.7 1035.1h0M533.5 1049.2h0M610.5 1023.9h0M600.3 1038.0h0M602.2 1046.4h0M571.5 1066.1h0M571.5 1052.0h0M596.2 1066.1h0M619.8 1052.0h0M577.2 1060.4h0M594.9 1057.6h0M614.3 1071.7h0M530.4 1066.1h0M520.8 1038.0h0M531.4 1060.4h0M525.8 1038.0h0M563.6 1068.9h0M520.1 1066.1h0M571.8 967.7h0M619.7 1066.1h0M635.4 1029.5h0M625.8 1032.3h0M559.2 1049.2h0M606.9 1035.1h0M610.2 1066.1h0M632.4 1057.6h0M573.7 1009.8h0M585.8 1040.8h0M583.2 1066.1h0M588.5 1066.1h0M659.5 990.2h0M589.9 1066.1h0M542.9 1068.9h0M563.1 1068.9h0M582.9 1035.1h0M586.3 1023.9h0M605.6 1057.6h0M621.7 1012.7h0M559.7 1049.2h0M562.4 1071.7h0M590.7 1007.0h0M549.0 1071.7h0M549.9 1060.4h0M594.8 1057.6h0M628.9 1057.6h0M590.9 1074.5h0M614.8 959.2h0M563.7 1074.5h0M567.2 1012.7h0M564.6 1068.9h0M563.6 1066.1h0M582.5 1012.7h0M582.6 1043.6h0M561.4 1071.7h0M623.6 1071.7h0M533.3 1054.8h0M623.1 1068.9h0M606.9 1038.0h0M635.7 1026.7h0M550.8 1068.9h0M615.9 1060.4h0M593.7 1046.4h0M574.5 1068.9h0M600.0 1052.0h0M584.8 953.6h0M565.7 1049.2h0M566.4 1063.3h0M562.3 981.7h0M571.2 1035.1h0M622.8 1068.9h0M542.0 1068.9h0M607.4 1071.7h0M644.4 1035.1h0M614.2 948.0h0M526.5 1063.3h0M607.2 1023.9h0M620.1 1057.6h0M569.8 1049.2h0M552.5 1060.4h0M620.6 1049.2h0M601.0 1012.7h0M603.8 981.7h0M536.7 1015.5h0M617.3 1007.2h0M561.4 1066.1h0M619.7 1038.0h0M634.2 1063.3h0M609.0 1009.8h0M586.3 1068.9h0M578.5 1018.3h0M558.9 1054.8h0M565.4 1057.6h0M578.9 1054.8h0M624.8 1068.9h0M565.7 1068.9h0M611.5 1046.4h0M609.9 1046.4h0M553.1 1066.1h0M597.9 1057.6h0M605.3 1038.0h0M580.5 1068.9h0M625.0 1074.5h0M606.1 993.0h0M597.1 1046.4h0M576.8 1063.3h0M622.0 1063.3h0M562.1 1068.9h0M587.6 1018.3h0M599.5 1071.7h0M599.1 1043.6h0M555.0 1049.2h0M605.4 1029.5h0M525.5 1066.1h0M598.4 1004.2h0M534.8 1043.6h0M604.8 1060.4h0M595.3 1066.1h0M617.7 1054.8h0M575.3 1063.3h0M624.5 1066.1h0M610.4 1049.2h0M561.8 1063.3h0M574.8 998.6h0M576.1 1063.3h0M588.9 1066.1h0M559.9 1057.6h0M610.1 1046.4h0M565.6 1049.2h0M556.6 1052.0h0M579.9 1054.8h0M611.8 1052.0h0M564.0 1043.6h0M578.0 1068.9h0M636.6 1063.3h0M608.1 1071.7h0M590.3 1068.9h0M577.7 1026.7h0M607.7 1035.1h0M634.9 956.4h0M600.5 995.8h0M612.1 1035.1h0M590.2 1052.0h0M607.4 1052.0h0M580.6 1074.5h0M597.3 1054.8h0M566.3 1066.1h0M615.7 1066.1h0M549.1 1052.0h0M578.8 1060.4h0M552.5 1057.6h0M582.0 1068.9h0M604.8 1026.7h0M597.2 1063.3h0M609.0 1043.6h0M529.3 1066.1h0M533.3 1074.5h0M584.9 1043.6h0M580.9 1057.6h0M631.6 1071.7h0M562.3 1071.7h0M544.7 1040.8h0M616.3 1071.7h0M582.1 1063.3h0M577.5 984.5h0M538.4 1052.0h0M631.0 1023.9h0M550.2 1063.3h0M554.6 1074.5h0M633.6 1043.6h0M567.0 1071.7h0M579.3 1071.7h0M538.7 1057.6h0M610.1 1068.9h0M597.8 1054.8h0M591.9 1066.1h0M572.4 1057.6h0M569.5 1066.1h0M551.1 1060.4h0M599.3 1001.4h0M472.2 1054.8h0M590.5 1057.6h0M641.5 993.0h0M579.4 1046.4h0M599.3 1015.5h0M631.1 1071.7h0M570.5 1068.9h0M485.1 1060.4h0M618.0 1054.8h0M608.7 1052.0h0M616.9 1035.1h0M624.7 1043.6h0M532.0 1043.6h0M587.4 1032.3h0M582.5 1068.9h0M580.4 1074.5h0M598.0 1068.9h0M624.1 1068.9h0M530.7 1060.4h0M602.5 1052.0h0M615.7 1057.6h0M678.6 1023.9h0M596.1 1023.4h0M632.3 1054.8h0M591.0 1049.2h0M532.6 1060.4h0M543.8 1066.1h0M603.0 1038.0h0M590.0 1060.4h0M572.0 1068.9h0M611.7 1066.1h0M555.5 1038.0h0M561.0 1046.4h0M596.0 1063.3h0M585.2 1046.4h0M618.4 1052.0h0M549.9 1054.8h0M489.8 1068.9h0M601.6 1068.9h0M586.9 1060.4h0M544.1 1068.9h0M597.6 1068.9h0M641.4 1071.7h0M563.1 1066.1h0M580.9 1023.9h0M552.2 1040.8h0M518.3 1023.9h0M575.2 1068.9h0M521.8 1049.2h0M561.4 1060.4h0M546.7 1068.9h0M608.0 1021.1h0M560.3 1060.4h0M590.2 1074.5h0M573.8 1035.1h0M618.0 1040.8h0M584.2 1054.8h0M627.4 1068.9h0M605.7 1046.4h0M588.9 1007.0h0M558.1 1052.0h0M614.2 1071.7h0M580.2 1046.4h0M611.3 1043.6h0M634.4 1023.9h0M523.2 1057.6h0M614.4 1068.9h0M580.6 1054.8h0M572.9 1060.4h0M531.1 1057.6h0M648.9 1004.2h0M583.6 1066.1h0M622.9 967.7h0M552.6 1052.0h0M599.9 1029.5h0M582.2 1038.0h0M573.0 1049.2h0M564.6 1046.4h0M589.7 1049.2h0M559.9 1049.2h0M595.7 1071.7h0M603.4 1040.8h0M545.6 1052.0h0M573.6 1038.0h0M591.1 1032.3h0M614.8 1001.4h0M606.4 1040.8h0M611.6 993.0h0M641.4 1057.6h0M608.5 990.2h0M602.4 1060.4h0M484.1 1057.6h0M567.0 1035.1h0M621.6 1040.8h0M607.9 970.5h0M598.3 1052.0h0M595.3 1038.0h0M598.3 1049.2h0M623.4 998.6h0M634.0 1057.6h0M639.8 939.6h0M566.4 1066.1h0M595.6 990.2h0M571.8 1068.9h0M561.3 1043.6h0M542.8 1060.4h0M534.2 1043.6h0M543.5 1052.0h0M530.0 1043.6h0M591.6 1068.9h0M575.4 1071.7h0M609.6 1068.9h0M606.2 1071.7h0M549.9 1071.7h0M563.7 1066.1h0M564.3 1066.1h0M559.0 1057.6h0M488.0 1071.7h0M603.7 1066.1h0M564.2 1060.4h0M570.4 1029.5h0M627.0 1060.4h0M568.6 1057.6h0M646.5 1043.6h0M563.3 1068.9h0M575.9 1063.3h0M581.2 1032.3h0M600.3 1029.5h0M520.7 1068.9h0M581.6 1057.6h0M618.7 1032.3h0M590.7 1049.2h0M576.5 1046.4h0M589.4 1068.9h0M620.2 981.7h0M586.0 1066.1h0M598.4 1066.1h0M615.6 1071.7h0M592.6 1057.6h0M614.8 1012.7h0M612.0 1043.6h0M635.9 1052.0h0M562.3 1040.8h0M613.6 1012.7h0M631.3 1021.1h0M587.5 1074.5h0M597.7 1032.3h0M619.4 1038.0h0M594.3 1066.1h0M574.7 1046.4h0M601.5 1015.5h0M610.1 1063.3h0M562.4 1035.1h0M580.4 1049.2h0M615.3 1052.0h0M619.5 1043.6h0M613.3 1057.6h0M554.4 1052.0h0M627.6 1054.8h0M597.3 950.8h0M615.0 1060.4h0M564.1 1068.9h0M614.9 1023.9h0M535.5 1063.3h0M568.7 1057.6h0M541.0 1063.3h0M556.5 1040.8h0M601.1 1068.9h0M614.5 1023.9h0M550.5 1049.2h0M599.9 981.7h0M604.6 1049.2h0M585.1 1068.9h0M603.5 1049.2h0M568.8 1049.2h0M631.9 998.6h0M571.8 1068.9h0M604.0 1071.7h0M599.2 1049.2h0M613.9 970.5h0M526.4 1049.2h0M626.7 1026.7h0M586.6 1071.7h0M542.2 1057.6h0M601.9 1009.8h0M618.3 1040.8h0M566.3 1071.7h0M622.2 1049.2h0M644.9 1026.7h0M532.9 1046.4h0M561.9 1026.7h0M576.9 1049.2h0M552.5 1049.2h0M635.2 1057.6h0M620.3 1038.0h0M603.8 1052.0h0M604.4 1060.4h0M631.1 948.0h0M580.7 1066.1h0M606.8 1052.0h0M599.1 1054.8h0M504.8 1060.4h0M608.1 970.5h0M554.5 1046.4h0M664.4 1057.6h0M573.1 1009.8h0M594.4 1032.3h0M559.9 1063.3h0M598.8 1009.8h0M565.7 1071.7h0M577.5 1068.9h0M626.7 1071.7h0M581.0 1074.5h0M567.4 1023.9h0M625.2 1043.6h0M554.9 1071.7h0M609.1 1052.0h0M613.2 1021.1h0M554.5 1068.9h0M639.6 1054.8h0M604.3 962.0h0M626.7 1054.8h0M540.5 1071.7h0M577.8 1063.3h0M603.7 1071.7h0M600.2 1035.1h0M613.2 1066.1h0M556.7 1068.9h0M631.9 976.9h0M575.1 1071.7h0M577.0 1071.7h0M642.9 1068.9h0M588.1 1026.7h0M601.6 1038.0h0M555.6 1066.1h0M602.4 1063.3h0M583.8 1043.6h0M626.7 1043.6h0M617.2 1054.8h0M584.1 1040.8h0M595.1 1068.9h0M635.1 1066.1h0M595.6 1038.0h0M551.2 1052.0h0M561.3 1057.6h0M603.1 956.4h0M585.4 1032.3h0M585.7 1063.3h0M591.8 1066.1h0M537.3 1052.0h0M590.2 1015.5h0M465.1 1060.4h0M538.2 1063.3h0M566.1 1052.0h0M558.8 1071.7h0M593.5 1015.5h0M577.8 1007.0h0M554.8 1043.6h0M627.5 967.7h0M662.4 1054.8h0M581.8 1049.2h0M585.4 1035.1h0M588.6 1046.4h0M598.9 1057.6h0M568.4 1060.4h0M522.4 1029.5h0M616.6 1052.0h0M585.7 1021.1h0M589.2 1054.8h0M578.9 1023.9h0M563.5 1054.8h0M622.1 1029.5h0M534.3 1068.9h0M510.5 1057.6h0M450.6 1071.7h0M620.7 1060.4h0M601.9 1060.4h0M560.6 1060.4h0M555.8 1066.1h0M586.8 1052.0h0M547.8 1032.3h0M477.9 1071.9h0M478.8 1071.3h0M655.3 1072.1h0M636.3 1072.4h0M653.7 1071.4h0M604.0 1071.5h0M533.4 1071.0h0M659.0 1074.2h0M528.3 1071.3h0M523.3 1072.3h0M654.8 1074.2h0M610.5 1071.6h0M656.7 1071.5h0M497.6 1072.3h0M668.9 1071.2h0M595.9 1073.2h0M607.8 1073.6h0M660.7 1073.0h0M546.0 1072.8h0M618.9 1071.6h0M601.8 1070.9h0M633.5 1071.5h0M657.0 1073.8h0M610.4 1073.0h0M478.6 1073.8h0M503.5 1071.6h0M669.3 1073.5h0M672.5 1072.3h0M672.2 1071.2h0M472.0 1071.7h0M546.3 1073.2h0M627.5 1073.1h0M626.0 1071.7h0M482.5 1072.2h0M595.2 1074.1h0M494.8 1070.8h0M570.2 1072.3h0M515.6 1072.5h0M475.5 1073.7h0M481.3 1072.9h0M660.0 1073.1h0M624.3 1073.4h0M664.5 1072.1h0M565.2 1072.6h0M553.0 1070.8h0M541.2 1070.5h0M596.6 1073.6h0M539.7 1074.1h0M624.6 1071.2h0M636.4 1070.3h0M652.5 1070.9h0M516.3 1074.4h0M577.4 1073.4h0M512.1 1074.3h0M472.1 1071.0h0M616.3 1072.0h0M582.2 1072.3h0M619.8 1072.2h0M482.9 1073.4h0M678.2 1072.0h0M678.0 1074.4h0M564.1 1071.8h0M650.4 1071.4h0M516.5 1071.7h0M622.7 1073.1h0M653.2 1071.0h0M639.3 1071.5h0M638.7 1074.0h0M563.7 1073.7h0M640.5 1071.8h0M612.7 1073.3h0M492.5 1074.0h0M488.6 1073.8h0M630.1 1073.8h0M598.6 1072.5h0M575.8 1071.9h0M659.2 1073.8h0M606.0 1071.5h0M549.3 1073.3h0M553.1 1073.2h0M549.4 869.3h0M597.2 877.7h0M648.5 858.0h0M508.4 987.3h0M467.5 1040.8h0M484.5 1040.8h0" stroke="#bdbdbd" stroke-width="2.8" stroke-linecap="round" fill="none"/>
<path d="M525.8 1073.9h0M638.0 1070.0h0M672.9 1073.9h0M579.5 1070.6h0M489.5 1073.9h0M533.2 1074.4h0M512.7 1072.1h0M649.5 1072.8h0M498.1 1066.1h0M674.2 1073.0h0M598.7 1071.7h0M584.6 1070.5h0M650.4 1074.0h0M486.6 1073.3h0M636.4 1069.9h0M504.4 1072.5h0M649.1 1072.4h0M586.8 1074.4h0M493.3 1072.1h0M647.6 1071.7h0M486.6 1071.6h0M508.8 1070.3h0M640.5 1071.5h0M574.0 1074.0h0M657.2 1074.2h0M608.1 1069.7h0M605.7 1074.1h0M539.5 1072.8h0M507.8 1070.7h0M673.1 1073.1h0M502.1 1074.2h0M586.8 1072.7h0M535.6 1072.1h0M533.9 1068.3h0M599.9 1073.5h0M640.5 1069.9h0M636.4 1070.5h0M654.7 1073.4h0M539.6 1073.7h0M574.2 1072.7h0M483.0 1073.6h0M630.3 1073.0h0M541.5 1072.2h0M593.3 1072.4h0M514.9 1068.5h0M644.8 1074.3h0M644.4 1070.7h0M656.4 1070.7h0M490.3 1072.3h0M679.4 1074.3h0M530.6 1072.0h0M542.9 1073.0h0M530.9 1072.2h0M534.6 1074.1h0M591.5 1072.4h0M529.0 1073.4h0M559.8 1071.1h0M612.1 1068.9h0M648.1 1074.2h0M619.5 1072.7h0M599.9 1073.0h0M510.6 1071.5h0M644.2 1073.8h0M488.6 1071.4h0M533.9 1073.0h0M492.5 1072.1h0M614.5 1074.1h0M554.7 1073.1h0M611.4 1069.9h0M550.5 1073.5h0M572.2 1072.7h0M572.6 1072.5h0M490.2 1071.3h0M567.1 1071.8h0M609.2 1071.5h0M590.2 1070.8h0M496.2 1072.3h0M614.6 1073.7h0M542.8 1074.3h0M484.0 1067.2h0M512.2 1068.7h0M580.5 1072.0h0M543.1 1068.7h0M619.8 1070.4h0M529.2 1072.2h0M635.5 1068.3h0M538.4 1073.5h0M605.2 1071.4h0M640.8 1071.5h0M558.2 1070.6h0M490.5 1072.3h0M588.1 1072.5h0M680.0 1069.4h0M674.7 1072.6h0M525.3 1073.9h0M632.1 1070.9h0M550.0 1073.6h0M513.1 1073.0h0M614.2 1073.2h0M581.2 1071.6h0M588.9 1071.7h0M646.4 1072.1h0M548.4 1071.7h0M614.4 1074.4h0M554.3 1073.6h0M489.7 1072.5h0M556.6 1072.9h0M670.9 1069.6h0M577.7 1073.6h0M502.7 1074.0h0M618.5 1073.8h0M673.6 1067.6h0M662.5 1070.8h0M595.4 1072.5h0M556.3 1073.7h0M597.1 1073.9h0M644.1 1074.1h0M653.2 1072.5h0M644.7 1073.3h0M572.1 1070.4h0M504.9 1070.8h0M594.8 1071.3h0M512.4 1073.1h0M493.3 1073.3h0M580.7 1068.9h0M612.1 1071.7h0M651.8 1071.8h0M637.5 1073.8h0M652.4 1073.7h0M633.0 1070.4h0M621.6 1072.3h0M483.2 1073.1h0M606.2 1070.9h0M505.2 1073.9h0M492.8 1074.1h0M512.4 1074.0h0M645.6 1072.0h0M629.7 1070.4h0M670.7 1072.4h0M676.7 1074.4h0M659.6 1071.5h0M507.7 1068.6h0M656.6 1074.1h0M648.7 1070.4h0M655.1 1069.8h0M511.4 1073.5h0M504.5 1069.0h0M665.7 1074.4h0M515.9 1071.8h0M554.8 1073.2h0M572.2 1073.1h0M506.0 1072.6h0M485.2 1068.7h0M679.7 1070.9h0M656.3 1072.7h0M663.4 1072.2h0M538.0 1071.2h0M525.1 1073.9h0M566.2 1069.5h0M571.7 1068.6h0M482.2 1069.8h0M636.8 1073.5h0M680.2 1071.6h0M586.7 1071.7h0M558.7 1073.7h0M559.6 1072.7h0M500.3 1074.3h0M534.3 1073.2h0M581.4 1070.0h0M567.4 1073.0h0M590.0 1072.6h0M650.7 1067.0h0M526.1 1074.3h0M486.7 1068.6h0M488.8 1070.8h0M507.9 1069.3h0M595.1 1073.6h0M642.6 1071.1h0M658.3 1069.7h0M608.0 1073.8h0M561.7 1072.3h0M512.0 1074.4h0M561.3 1067.2h0M547.5 1071.4h0M654.9 1074.4h0M578.4 1072.1h0M526.3 1069.0h0M538.8 1073.4h0M508.4 1071.7h0M664.6 1070.4h0M491.2 1073.9h0M483.7 1074.3h0M517.7 1069.7h0M643.1 1073.9h0M585.7 1074.0h0M606.2 1072.1h0M552.6 1070.8h0M494.8 1073.9h0M652.2 1073.2h0M519.5 1074.1h0M487.7 1072.1h0M595.5 1072.9h0M497.8 1072.4h0M500.3 1074.1h0M641.0 1070.3h0M579.3 1072.2h0M529.4 1074.1h0M550.8 1074.0h0M626.8 1074.3h0M494.4 1069.9h0M504.4 1070.5h0M604.2 1072.3h0M602.4 1071.6h0M675.4 1072.8h0M556.0 1072.7h0M494.1 1071.1h0M588.5 1071.7h0M608.7 1073.9h0M509.0 1072.4h0M591.6 1073.7h0M520.6 1074.5h0M649.9 1072.6h0M648.0 1072.0h0M567.0 1072.6h0M674.3 1070.3h0M676.9 1073.6h0M506.9 1074.4h0M554.6 1072.4h0M601.1 1074.4h0M498.1 1073.7h0M557.6 1074.4h0M533.3 1072.0h0M671.3 1072.6h0M563.4 1074.1h0M633.5 1074.5h0M558.4 1072.1h0M507.5 1074.2h0M653.6 1069.4h0M481.2 1074.1h0M492.3 1073.8h0M553.9 1074.0h0M618.4 1070.8h0M549.4 1071.6h0M494.4 1073.0h0M544.6 1071.3h0M530.1 1074.4h0M482.2 1073.1h0M588.0 1071.1h0M504.4 1070.1h0M538.6 1071.0h0M609.2 1072.1h0M626.0 1073.1h0M533.8 1069.4h0M546.9 1073.8h0M530.5 1073.7h0M672.3 1072.5h0M519.2 1071.7h0M517.7 1072.9h0M570.0 1073.9h0M518.9 1071.9h0M571.4 1068.9h0M586.5 1021.1h0M660.2 1060.4h0M608.0 1063.3h0M616.2 1063.3h0M649.2 1074.5h0M624.1 1057.6h0M671.6 1071.7h0M619.4 1071.7h0M577.5 1057.6h0M649.6 1074.5h0M635.9 1063.3h0M590.6 1060.4h0M592.4 1074.5h0M587.7 1068.9h0M667.9 1052.0h0M660.4 1060.4h0M652.6 1066.1h0M673.7 1071.7h0M558.8 1060.4h0M600.8 1068.9h0M657.3 1066.1h0M638.3 1057.6h0M663.6 1043.6h0M565.8 1012.7h0M630.1 1052.0h0M675.0 1057.6h0M659.2 1015.5h0M660.1 1068.9h0M657.3 1063.3h0M560.8 1063.3h0M654.8 1057.6h0M645.6 1057.6h0M638.4 1026.7h0M674.4 1071.7h0M679.0 1063.3h0M636.9 1066.1h0M626.3 1071.7h0M629.9 1071.7h0M565.4 1068.9h0M665.5 1068.9h0M594.7 1038.0h0M656.5 1066.1h0M607.8 1060.4h0M654.9 1057.6h0M645.9 1060.4h0M641.4 1066.1h0M659.5 1038.0h0M569.4 1040.8h0M620.2 1063.3h0M642.6 1074.5h0M639.6 1066.1h0M589.0 1068.9h0M611.2 1063.3h0M614.1 1066.1h0M675.5 1063.3h0M676.0 1057.6h0M617.6 1057.6h0M680.7 1057.6h0M604.0 1054.8h0M652.4 1049.2h0M641.4 1066.1h0M660.4 1032.3h0M643.9 1023.9h0M637.1 1068.9h0M583.4 1038.0h0M607.0 1057.6h0M644.5 1060.4h0M642.8 1071.7h0M582.0 1060.4h0M661.3 1066.1h0M586.1 993.0h0M659.4 1049.2h0M629.9 1063.3h0M641.4 1049.2h0M635.1 1066.1h0M600.4 1071.7h0M647.7 1038.0h0M663.3 1060.4h0M614.6 1068.9h0M588.9 1054.8h0M615.5 1040.8h0M594.9 1052.0h0M563.8 1066.1h0M674.1 1071.7h0M633.4 1043.6h0M668.6 1063.3h0M666.2 1074.5h0M593.5 1071.7h0M560.3 1074.5h0M567.3 1057.6h0M588.7 1040.8h0M651.5 1054.8h0M600.7 1071.7h0M606.1 1032.3h0M631.8 1071.7h0M627.1 1043.6h0M579.1 1060.4h0M571.7 1074.5h0M679.5 1071.7h0M617.2 1071.7h0M597.2 1060.4h0M679.2 1052.0h0M656.1 1057.6h0M623.9 1040.8h0M593.5 1057.6h0M671.5 1071.7h0M614.9 1054.8h0M663.5 1060.4h0M655.6 1063.3h0M663.8 1043.6h0M665.9 1007.0h0M638.3 1066.1h0M634.3 1063.3h0M603.9 1057.6h0M599.9 1052.0h0M649.6 1054.8h0M629.4 1071.7h0M593.0 1074.5h0M634.7 1060.4h0M658.5 1071.7h0M586.5 1068.9h0M620.5 1060.4h0M606.3 1071.7h0M629.4 1049.2h0M625.5 1060.4h0M633.4 1074.5h0M644.2 1074.5h0M617.6 1068.9h0M628.3 1068.9h0M655.2 1060.4h0M574.3 1071.7h0M545.1 1063.3h0M662.6 1063.3h0M580.7 1066.1h0M617.6 1032.3h0M679.7 1063.3h0M674.2 1074.5h0M587.7 1060.4h0M631.2 1071.7h0M651.6 1068.9h0M667.3 1066.1h0M667.4 1066.1h0M637.4 1071.7h0M624.5 1052.0h0M617.4 1060.4h0M618.7 1066.1h0M679.2 1043.6h0M589.7 1063.3h0M594.2 1063.3h0M679.2 922.7h0M651.9 928.3h0M590.4 990.2h0M679.2 984.5h0M679.2 1018.3h0" stroke="#000" stroke-width="2.5" stroke-linecap="round" fill="none"/>
<path d="M395.8 1070.0 L400.6 1069.9 L405.4 1069.7 L410.3 1069.6 L415.1 1069.4 L419.9 1069.3 L424.8 1069.1 L429.6 1069.0 L434.5 1068.8 L439.3 1068.6 L444.1 1068.5 L449.0 1068.3 L453.8 1068.1 L458.6 1067.9 L463.5 1067.7 L468.3 1067.5 L473.2 1067.3 L478.0 1067.1 L482.8 1066.9 L487.7 1066.6 L492.5 1066.4 L497.3 1066.2 L502.2 1065.9 L507.0 1065.7 L511.9 1065.4 L516.7 1065.1 L521.5 1064.8 L526.4 1064.6 L531.2 1064.3 L536.0 1064.0 L540.9 1063.6 L545.7 1063.3 L550.6 1063.0 L555.4 1062.6 L560.2 1062.3 L565.1 1061.9 L569.9 1061.5 L574.8 1061.2 L579.6 1060.8 L584.4 1060.4 L589.3 1059.9 L594.1 1059.5 L598.9 1059.1 L603.8 1058.6 L608.6 1058.1 L613.5 1057.6 L618.3 1057.1 L623.1 1056.6 L628.0 1056.1 L632.8 1055.5 L637.6 1055.0 L642.5 1054.4 L647.3 1053.8 L652.2 1053.2 L657.0 1052.5 L661.8 1051.9 L666.7 1051.2 L671.5 1050.5 L676.3 1049.8 L681.2 1049.0 L686.0 1048.3" fill="none" stroke="#f0920f" stroke-width="2.0" stroke-dasharray="12.5 4.3" stroke-linejoin="round"/>
<path d="M395.8 1072.3 L400.6 1072.2 L405.4 1072.1 L410.3 1072.0 L415.1 1072.0 L419.9 1071.9 L424.8 1071.8 L429.6 1071.7 L434.5 1071.6 L439.3 1071.5 L444.1 1071.4 L449.0 1071.3 L453.8 1071.2 L458.6 1071.1 L463.5 1071.0 L468.3 1070.9 L473.2 1070.8 L478.0 1070.7 L482.8 1070.6 L487.7 1070.4 L492.5 1070.3 L497.3 1070.2 L502.2 1070.0 L507.0 1069.9 L511.9 1069.7 L516.7 1069.6 L521.5 1069.4 L526.4 1069.3 L531.2 1069.1 L536.0 1068.9 L540.9 1068.8 L545.7 1068.6 L550.6 1068.4 L555.4 1068.2 L560.2 1068.0 L565.1 1067.8 L569.9 1067.6 L574.8 1067.4 L579.6 1067.1 L584.4 1066.9 L589.3 1066.7 L594.1 1066.4 L598.9 1066.2 L603.8 1065.9 L608.6 1065.6 L613.5 1065.4 L618.3 1065.1 L623.1 1064.8 L628.0 1064.5 L632.8 1064.1 L637.6 1063.8 L642.5 1063.5 L647.3 1063.1 L652.2 1062.8 L657.0 1062.4 L661.8 1062.0 L666.7 1061.6 L671.5 1061.2 L676.3 1060.8 L681.2 1060.4 L686.0 1059.9" fill="none" stroke="#f0920f" stroke-width="2.0" stroke-linejoin="round"/>
<path d="M395.8 1073.5 L400.6 1073.5 L405.4 1073.5 L410.3 1073.4 L415.1 1073.4 L419.9 1073.4 L424.8 1073.3 L429.6 1073.3 L434.5 1073.3 L439.3 1073.2 L444.1 1073.2 L449.0 1073.1 L453.8 1073.1 L458.6 1073.1 L463.5 1073.0 L468.3 1073.0 L473.2 1072.9 L478.0 1072.9 L482.8 1072.8 L487.7 1072.8 L492.5 1072.8 L497.3 1072.7 L502.2 1072.6 L507.0 1072.6 L511.9 1072.5 L516.7 1072.5 L521.5 1072.4 L526.4 1072.4 L531.2 1072.3 L536.0 1072.2 L540.9 1072.2 L545.7 1072.1 L550.6 1072.0 L555.4 1072.0 L560.2 1071.9 L565.1 1071.8 L569.9 1071.7 L574.8 1071.6 L579.6 1071.6 L584.4 1071.5 L589.3 1071.4 L594.1 1071.3 L598.9 1071.2 L603.8 1071.1 L608.6 1071.0 L613.5 1070.9 L618.3 1070.8 L623.1 1070.7 L628.0 1070.6 L632.8 1070.5 L637.6 1070.4 L642.5 1070.2 L647.3 1070.1 L652.2 1070.0 L657.0 1069.8 L661.8 1069.7 L666.7 1069.6 L671.5 1069.4 L676.3 1069.3 L681.2 1069.1 L686.0 1069.0" fill="none" stroke="#000000" stroke-width="2.0" stroke-dasharray="12.5 4.3" stroke-linejoin="round"/>
<path d="M395.8 1073.7 L400.6 1073.6 L405.4 1073.6 L410.3 1073.6 L415.1 1073.6 L419.9 1073.5 L424.8 1073.5 L429.6 1073.5 L434.5 1073.5 L439.3 1073.4 L444.1 1073.4 L449.0 1073.4 L453.8 1073.4 L458.6 1073.3 L463.5 1073.3 L468.3 1073.3 L473.2 1073.2 L478.0 1073.2 L482.8 1073.2 L487.7 1073.1 L492.5 1073.1 L497.3 1073.1 L502.2 1073.0 L507.0 1073.0 L511.9 1073.0 L516.7 1072.9 L521.5 1072.9 L526.4 1072.8 L531.2 1072.8 L536.0 1072.8 L540.9 1072.7 L545.7 1072.7 L550.6 1072.6 L555.4 1072.6 L560.2 1072.5 L565.1 1072.5 L569.9 1072.4 L574.8 1072.4 L579.6 1072.3 L584.4 1072.3 L589.3 1072.2 L594.1 1072.2 L598.9 1072.1 L603.8 1072.0 L608.6 1072.0 L613.5 1071.9 L618.3 1071.8 L623.1 1071.8 L628.0 1071.7 L632.8 1071.6 L637.6 1071.6 L642.5 1071.5 L647.3 1071.4 L652.2 1071.3 L657.0 1071.3 L661.8 1071.2 L666.7 1071.1 L671.5 1071.0 L676.3 1070.9 L681.2 1070.8 L686.0 1070.7" fill="none" stroke="#000000" stroke-width="2.0" stroke-linejoin="round"/>
<path d="M395.8 1074.4 L400.6 1074.4 L405.4 1074.3 L410.3 1074.3 L415.1 1074.3 L419.9 1074.3 L424.8 1074.3 L429.6 1074.3 L434.5 1074.3 L439.3 1074.3 L444.1 1074.3 L449.0 1074.3 L453.8 1074.3 L458.6 1074.3 L463.5 1074.3 L468.3 1074.2 L473.2 1074.2 L478.0 1074.2 L482.8 1074.2 L487.7 1074.2 L492.5 1074.2 L497.3 1074.2 L502.2 1074.2 L507.0 1074.2 L511.9 1074.1 L516.7 1074.1 L521.5 1074.1 L526.4 1074.1 L531.2 1074.1 L536.0 1074.1 L540.9 1074.0 L545.7 1074.0 L550.6 1074.0 L555.4 1074.0 L560.2 1074.0 L565.1 1073.9 L569.9 1073.9 L574.8 1073.9 L579.6 1073.9 L584.4 1073.9 L589.3 1073.8 L594.1 1073.8 L598.9 1073.8 L603.8 1073.7 L608.6 1073.7 L613.5 1073.7 L618.3 1073.6 L623.1 1073.6 L628.0 1073.6 L632.8 1073.5 L637.6 1073.5 L642.5 1073.5 L647.3 1073.4 L652.2 1073.4 L657.0 1073.3 L661.8 1073.3 L666.7 1073.2 L671.5 1073.2 L676.3 1073.1 L681.2 1073.1 L686.0 1073.0" fill="none" stroke="#2e952e" stroke-width="2.0" stroke-dasharray="12.5 4.3" stroke-linejoin="round"/>
<path d="M395.8 1074.4 L400.6 1074.4 L405.4 1074.3 L410.3 1074.3 L415.1 1074.3 L419.9 1074.3 L424.8 1074.3 L429.6 1074.3 L434.5 1074.3 L439.3 1074.3 L444.1 1074.3 L449.0 1074.3 L453.8 1074.3 L458.6 1074.3 L463.5 1074.3 L468.3 1074.3 L473.2 1074.3 L478.0 1074.3 L482.8 1074.2 L487.7 1074.2 L492.5 1074.2 L497.3 1074.2 L502.2 1074.2 L507.0 1074.2 L511.9 1074.2 L516.7 1074.2 L521.5 1074.2 L526.4 1074.2 L531.2 1074.1 L536.0 1074.1 L540.9 1074.1 L545.7 1074.1 L550.6 1074.1 L555.4 1074.1 L560.2 1074.1 L565.1 1074.1 L569.9 1074.0 L574.8 1074.0 L579.6 1074.0 L584.4 1074.0 L589.3 1074.0 L594.1 1074.0 L598.9 1073.9 L603.8 1073.9 L608.6 1073.9 L613.5 1073.9 L618.3 1073.9 L623.1 1073.8 L628.0 1073.8 L632.8 1073.8 L637.6 1073.8 L642.5 1073.7 L647.3 1073.7 L652.2 1073.7 L657.0 1073.7 L661.8 1073.6 L666.7 1073.6 L671.5 1073.6 L676.3 1073.5 L681.2 1073.5 L686.0 1073.5" fill="none" stroke="#2e952e" stroke-width="2.0" stroke-linejoin="round"/>
</g>
<rect x="64.4" y="36.0" width="294.6" height="242.2" fill="none" stroke="#111" stroke-width="1.7"/>
<path d="M55.6 269.2H64.4M55.6 224.4H64.4M55.6 179.5H64.4M55.6 134.7H64.4M55.6 89.8H64.4M55.6 45.0H64.4M102.1 278.2V287.0M156.8 278.2V287.0M211.5 278.2V287.0M266.3 278.2V287.0M321.0 278.2V287.0" stroke="#111" stroke-width="1.6" fill="none"/>
<text x="0" y="0" transform="translate(44.2 269.2) rotate(-90)" font-size="14" text-anchor="middle">0.0</text>
<text x="0" y="0" transform="translate(44.2 224.4) rotate(-90)" font-size="14" text-anchor="middle">0.2</text>
<text x="0" y="0" transform="translate(44.2 179.5) rotate(-90)" font-size="14" text-anchor="middle">0.4</text>
<text x="0" y="0" transform="translate(44.2 134.7) rotate(-90)" font-size="14" text-anchor="middle">0.6</text>
<text x="0" y="0" transform="translate(44.2 89.8) rotate(-90)" font-size="14" text-anchor="middle">0.8</text>
<text x="0" y="0" transform="translate(44.2 45.0) rotate(-90)" font-size="14" text-anchor="middle">1.0</text>
<rect x="385.0" y="36.0" width="295.0" height="242.2" fill="none" stroke="#111" stroke-width="1.7"/>
<path d="M376.2 269.2H385.0M376.2 224.4H385.0M376.2 179.5H385.0M376.2 134.7H385.0M376.2 89.8H385.0M376.2 45.0H385.0M396.0 278.2V287.0M456.6 278.2V287.0M517.3 278.2V287.0M578.0 278.2V287.0M638.6 278.2V287.0" stroke="#111" stroke-width="1.6" fill="none"/>
<rect x="64.4" y="304.4" width="294.6" height="241.8" fill="none" stroke="#111" stroke-width="1.7"/>
<path d="M55.6 509.7H64.4M55.6 453.4H64.4M55.6 397.1H64.4M55.6 340.8H64.4M102.1 546.2V555.0M156.8 546.2V555.0M211.5 546.2V555.0M266.3 546.2V555.0M321.0 546.2V555.0" stroke="#111" stroke-width="1.6" fill="none"/>
<text x="0" y="0" transform="translate(44.2 509.7) rotate(-90)" font-size="14" text-anchor="middle">0</text>
<text x="0" y="0" transform="translate(44.2 453.4) rotate(-90)" font-size="14" text-anchor="middle">2</text>
<text x="0" y="0" transform="translate(44.2 397.1) rotate(-90)" font-size="14" text-anchor="middle">4</text>
<text x="0" y="0" transform="translate(44.2 340.8) rotate(-90)" font-size="14" text-anchor="middle">6</text>
<rect x="385.0" y="304.4" width="295.0" height="241.8" fill="none" stroke="#111" stroke-width="1.7"/>
<path d="M376.2 509.7H385.0M376.2 453.4H385.0M376.2 397.1H385.0M376.2 340.8H385.0M396.0 546.2V555.0M456.6 546.2V555.0M517.3 546.2V555.0M578.0 546.2V555.0M638.6 546.2V555.0" stroke="#111" stroke-width="1.6" fill="none"/>
<rect x="64.4" y="572.3" width="294.6" height="241.8" fill="none" stroke="#111" stroke-width="1.7"/>
<path d="M55.6 805.8H64.4M55.6 760.9H64.4M55.6 716.0H64.4M55.6 671.0H64.4M55.6 626.1H64.4M55.6 581.2H64.4M102.1 814.1V822.9M156.8 814.1V822.9M211.5 814.1V822.9M266.3 814.1V822.9M321.0 814.1V822.9" stroke="#111" stroke-width="1.6" fill="none"/>
<text x="0" y="0" transform="translate(44.2 805.8) rotate(-90)" font-size="14" text-anchor="middle">0.0</text>
<text x="0" y="0" transform="translate(44.2 760.9) rotate(-90)" font-size="14" text-anchor="middle">0.2</text>
<text x="0" y="0" transform="translate(44.2 716.0) rotate(-90)" font-size="14" text-anchor="middle">0.4</text>
<text x="0" y="0" transform="translate(44.2 671.0) rotate(-90)" font-size="14" text-anchor="middle">0.6</text>
<text x="0" y="0" transform="translate(44.2 626.1) rotate(-90)" font-size="14" text-anchor="middle">0.8</text>
<text x="0" y="0" transform="translate(44.2 581.2) rotate(-90)" font-size="14" text-anchor="middle">1.0</text>
<rect x="385.0" y="572.3" width="295.0" height="241.8" fill="none" stroke="#111" stroke-width="1.7"/>
<path d="M376.2 805.8H385.0M376.2 760.9H385.0M376.2 716.0H385.0M376.2 671.0H385.0M376.2 626.1H385.0M376.2 581.2H385.0M396.0 814.1V822.9M456.6 814.1V822.9M517.3 814.1V822.9M578.0 814.1V822.9M638.6 814.1V822.9" stroke="#111" stroke-width="1.6" fill="none"/>
<rect x="64.4" y="840.6" width="294.6" height="242.6" fill="none" stroke="#111" stroke-width="1.7"/>
<path d="M55.6 1074.5H64.4M55.6 1018.3H64.4M55.6 962.0H64.4M55.6 905.8H64.4M55.6 849.6H64.4M102.1 1083.2V1092.0M156.8 1083.2V1092.0M211.5 1083.2V1092.0M266.3 1083.2V1092.0M321.0 1083.2V1092.0" stroke="#111" stroke-width="1.6" fill="none"/>
<text x="0" y="0" transform="translate(44.2 1074.5) rotate(-90)" font-size="14" text-anchor="middle">0</text>
<text x="0" y="0" transform="translate(44.2 1018.3) rotate(-90)" font-size="14" text-anchor="middle">20</text>
<text x="0" y="0" transform="translate(44.2 962.0) rotate(-90)" font-size="14" text-anchor="middle">40</text>
<text x="0" y="0" transform="translate(44.2 905.8) rotate(-90)" font-size="14" text-anchor="middle">60</text>
<text x="0" y="0" transform="translate(44.2 849.6) rotate(-90)" font-size="14" text-anchor="middle">80</text>
<text x="102.1" y="1115.2" font-size="14" text-anchor="middle">-2</text>
<text x="156.8" y="1115.2" font-size="14" text-anchor="middle">0</text>
<text x="211.5" y="1115.2" font-size="14" text-anchor="middle">2</text>
<text x="266.3" y="1115.2" font-size="14" text-anchor="middle">4</text>
<text x="321.0" y="1115.2" font-size="14" text-anchor="middle">6</text>
<rect x="385.0" y="840.6" width="295.0" height="242.6" fill="none" stroke="#111" stroke-width="1.7"/>
<path d="M376.2 1074.5H385.0M376.2 1018.3H385.0M376.2 962.0H385.0M376.2 905.8H385.0M376.2 849.6H385.0M429.9 1083.2V1092.0M498.2 1083.2V1092.0M566.5 1083.2V1092.0M634.8 1083.2V1092.0" stroke="#111" stroke-width="1.6" fill="none"/>
<text x="429.9" y="1115.2" font-size="14" text-anchor="middle">0</text>
<text x="498.2" y="1115.2" font-size="14" text-anchor="middle">2</text>
<text x="566.5" y="1115.2" font-size="14" text-anchor="middle">4</text>
<text x="634.8" y="1115.2" font-size="14" text-anchor="middle">6</text>
<text x="211.7" y="20.6" font-size="19.4" font-style="italic" text-anchor="middle">Helianthemum squamatum</text>
<text x="532.5" y="20.6" font-size="19.4" font-style="italic" text-anchor="middle">Lepidium subulatum</text>
<text x="0" y="0" transform="translate(18.8 157.1) rotate(-90)" font-size="17" text-anchor="middle">Survival</text>
<text x="0" y="0" transform="translate(18.8 425.3) rotate(-90)" font-size="17" text-anchor="middle">log(Size next year)</text>
<text x="0" y="0" transform="translate(18.8 693.2) rotate(-90)" font-size="17" text-anchor="middle">Prob. reproduction</text>
<text x="0" y="0" transform="translate(18.8 961.9) rotate(-90)" font-size="17" text-anchor="middle">Fecundity</text>
<text x="211.7" y="1140.3" font-size="17" text-anchor="middle">log(Size)</text>
<text x="532.5" y="1140.3" font-size="17" text-anchor="middle">log(Size)</text>
</svg></body></html>
